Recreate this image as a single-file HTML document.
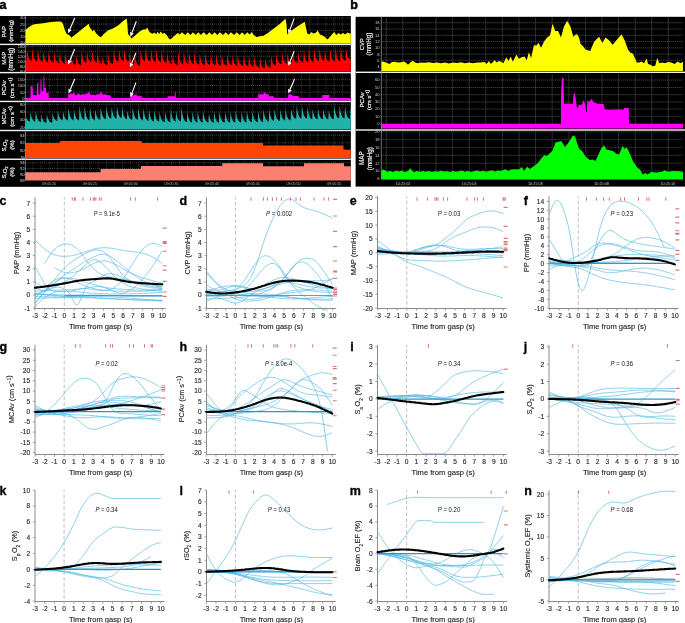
<!DOCTYPE html>
<html><head><meta charset="utf-8"><style>
html,body{margin:0;padding:0;background:#fff;}
svg{display:block;font-family:'Liberation Sans', sans-serif;will-change:transform;}
</style></head><body>
<svg width="685" height="623" viewBox="0 0 685 623">
<defs><filter id="soft" filterUnits="userSpaceOnUse" x="-10" y="-10" width="705" height="643"><feGaussianBlur stdDeviation="0.35"/></filter></defs>
<rect width="685" height="623" fill="#fff"/>
<g filter="url(#soft)">
<line x1="35" y1="197.2" x2="35" y2="308.5" stroke="#8a8a8a" stroke-width="1"/>
<line x1="35" y1="308.5" x2="165.8" y2="308.5" stroke="#8a8a8a" stroke-width="1"/>
<line x1="32.8" y1="308.2" x2="35" y2="308.2" stroke="#8a8a8a" stroke-width="0.8"/>
<text x="30.1" y="310.6" font-size="6.6" text-anchor="end" fill="#2a2a2a" stroke="#2a2a2a" stroke-width="0.15">-1</text>
<line x1="32.8" y1="295.06" x2="35" y2="295.06" stroke="#8a8a8a" stroke-width="0.8"/>
<text x="30.1" y="297.46" font-size="6.6" text-anchor="end" fill="#2a2a2a" stroke="#2a2a2a" stroke-width="0.15">0</text>
<line x1="32.8" y1="281.92" x2="35" y2="281.92" stroke="#8a8a8a" stroke-width="0.8"/>
<text x="30.1" y="284.32" font-size="6.6" text-anchor="end" fill="#2a2a2a" stroke="#2a2a2a" stroke-width="0.15">1</text>
<line x1="32.8" y1="268.79" x2="35" y2="268.79" stroke="#8a8a8a" stroke-width="0.8"/>
<text x="30.1" y="271.19" font-size="6.6" text-anchor="end" fill="#2a2a2a" stroke="#2a2a2a" stroke-width="0.15">2</text>
<line x1="32.8" y1="255.65" x2="35" y2="255.65" stroke="#8a8a8a" stroke-width="0.8"/>
<text x="30.1" y="258.05" font-size="6.6" text-anchor="end" fill="#2a2a2a" stroke="#2a2a2a" stroke-width="0.15">3</text>
<line x1="32.8" y1="242.51" x2="35" y2="242.51" stroke="#8a8a8a" stroke-width="0.8"/>
<text x="30.1" y="244.91" font-size="6.6" text-anchor="end" fill="#2a2a2a" stroke="#2a2a2a" stroke-width="0.15">4</text>
<line x1="32.8" y1="229.38" x2="35" y2="229.38" stroke="#8a8a8a" stroke-width="0.8"/>
<text x="30.1" y="231.78" font-size="6.6" text-anchor="end" fill="#2a2a2a" stroke="#2a2a2a" stroke-width="0.15">5</text>
<line x1="32.8" y1="216.24" x2="35" y2="216.24" stroke="#8a8a8a" stroke-width="0.8"/>
<text x="30.1" y="218.64" font-size="6.6" text-anchor="end" fill="#2a2a2a" stroke="#2a2a2a" stroke-width="0.15">6</text>
<line x1="32.8" y1="203.1" x2="35" y2="203.1" stroke="#8a8a8a" stroke-width="0.8"/>
<text x="30.1" y="205.5" font-size="6.6" text-anchor="end" fill="#2a2a2a" stroke="#2a2a2a" stroke-width="0.15">7</text>
<line x1="34.9" y1="308.5" x2="34.9" y2="310.7" stroke="#8a8a8a" stroke-width="0.8"/>
<text x="34.9" y="318.2" font-size="6.6" text-anchor="middle" fill="#2a2a2a" stroke="#2a2a2a" stroke-width="0.15">-3</text>
<line x1="44.7" y1="308.5" x2="44.7" y2="310.7" stroke="#8a8a8a" stroke-width="0.8"/>
<text x="44.7" y="318.2" font-size="6.6" text-anchor="middle" fill="#2a2a2a" stroke="#2a2a2a" stroke-width="0.15">-2</text>
<line x1="54.5" y1="308.5" x2="54.5" y2="310.7" stroke="#8a8a8a" stroke-width="0.8"/>
<text x="54.5" y="318.2" font-size="6.6" text-anchor="middle" fill="#2a2a2a" stroke="#2a2a2a" stroke-width="0.15">-1</text>
<line x1="64.3" y1="308.5" x2="64.3" y2="310.7" stroke="#8a8a8a" stroke-width="0.8"/>
<text x="64.3" y="318.2" font-size="6.6" text-anchor="middle" fill="#2a2a2a" stroke="#2a2a2a" stroke-width="0.15">0</text>
<line x1="74.1" y1="308.5" x2="74.1" y2="310.7" stroke="#8a8a8a" stroke-width="0.8"/>
<text x="74.1" y="318.2" font-size="6.6" text-anchor="middle" fill="#2a2a2a" stroke="#2a2a2a" stroke-width="0.15">1</text>
<line x1="83.9" y1="308.5" x2="83.9" y2="310.7" stroke="#8a8a8a" stroke-width="0.8"/>
<text x="83.9" y="318.2" font-size="6.6" text-anchor="middle" fill="#2a2a2a" stroke="#2a2a2a" stroke-width="0.15">2</text>
<line x1="93.7" y1="308.5" x2="93.7" y2="310.7" stroke="#8a8a8a" stroke-width="0.8"/>
<text x="93.7" y="318.2" font-size="6.6" text-anchor="middle" fill="#2a2a2a" stroke="#2a2a2a" stroke-width="0.15">3</text>
<line x1="103.5" y1="308.5" x2="103.5" y2="310.7" stroke="#8a8a8a" stroke-width="0.8"/>
<text x="103.5" y="318.2" font-size="6.6" text-anchor="middle" fill="#2a2a2a" stroke="#2a2a2a" stroke-width="0.15">4</text>
<line x1="113.3" y1="308.5" x2="113.3" y2="310.7" stroke="#8a8a8a" stroke-width="0.8"/>
<text x="113.3" y="318.2" font-size="6.6" text-anchor="middle" fill="#2a2a2a" stroke="#2a2a2a" stroke-width="0.15">5</text>
<line x1="123.1" y1="308.5" x2="123.1" y2="310.7" stroke="#8a8a8a" stroke-width="0.8"/>
<text x="123.1" y="318.2" font-size="6.6" text-anchor="middle" fill="#2a2a2a" stroke="#2a2a2a" stroke-width="0.15">6</text>
<line x1="132.9" y1="308.5" x2="132.9" y2="310.7" stroke="#8a8a8a" stroke-width="0.8"/>
<text x="132.9" y="318.2" font-size="6.6" text-anchor="middle" fill="#2a2a2a" stroke="#2a2a2a" stroke-width="0.15">7</text>
<line x1="142.7" y1="308.5" x2="142.7" y2="310.7" stroke="#8a8a8a" stroke-width="0.8"/>
<text x="142.7" y="318.2" font-size="6.6" text-anchor="middle" fill="#2a2a2a" stroke="#2a2a2a" stroke-width="0.15">8</text>
<line x1="152.5" y1="308.5" x2="152.5" y2="310.7" stroke="#8a8a8a" stroke-width="0.8"/>
<text x="152.5" y="318.2" font-size="6.6" text-anchor="middle" fill="#2a2a2a" stroke="#2a2a2a" stroke-width="0.15">9</text>
<line x1="162.3" y1="308.5" x2="162.3" y2="310.7" stroke="#8a8a8a" stroke-width="0.8"/>
<text x="162.3" y="318.2" font-size="6.6" text-anchor="middle" fill="#2a2a2a" stroke="#2a2a2a" stroke-width="0.15">10</text>
<text x="100.6" y="329" font-size="7.3" text-anchor="middle" fill="#222" stroke="#222" stroke-width="0.12" textLength="63.3" lengthAdjust="spacingAndGlyphs">Time from gasp (s)</text>
<line x1="64.3" y1="197.2" x2="64.3" y2="308.5" stroke="#c2c2c2" stroke-width="1" stroke-dasharray="3.8,2.1" stroke-dashoffset="1.5"/>
<text transform="translate(18.7,252.9) rotate(-90)" font-size="7.3" text-anchor="middle" fill="#222" stroke="#222" stroke-width="0.12">PAP (mmHg)</text>
<text x="-0.6" y="204.5" font-size="12.5" font-weight="bold" fill="#000" stroke="#000" stroke-width="0.3">c</text>
<text x="93.8" y="216" font-size="6.5" fill="#151515" textLength="26.1" lengthAdjust="spacingAndGlyphs"><tspan font-style="italic">P</tspan> = 9.1e-5</text>
<g fill="none" stroke="rgb(80,182,226)" stroke-width="0.9" stroke-opacity="0.74"><path d="M34.9,239.9 36.1,241 37.3,242.2 38.4,243.3 39.6,244.5 40.8,245.6 42,246.6 43.2,247.7 44.3,248.7 45.5,249.6 46.7,250.5 47.9,251.3 49.1,252.1 50.2,252.8 51.4,253.5 52.6,254 53.8,254.5 55,254.9 56.1,255.3 57.3,255.6 58.5,255.8 59.7,256 60.9,256.1 62,256.2 63.2,256.3 64.4,256.3 65.6,256.3 66.8,256.2 67.9,256.2 69.1,256 70.3,255.9 71.5,255.7 72.6,255.5 73.8,255.3 75,255 76.2,254.8 77.4,254.4 78.5,254.1 79.7,253.8 80.9,253.4 82.1,253 83.3,252.6 84.4,252.1 85.6,251.7 86.8,251.3 88,250.9 89.2,250.5 90.3,250.1 91.5,249.7 92.7,249.4 93.9,249 95.1,248.8 96.2,248.5 97.4,248.3 98.6,248.1 99.8,248 101,247.8 102.1,247.8 103.3,247.7 104.5,247.7 105.7,247.7 106.9,247.8 108,247.9 109.2,248 110.4,248.1 111.6,248.3 112.8,248.5 113.9,248.7 115.1,248.9 116.3,249.1 117.5,249.4 118.7,249.6 119.8,249.8 121,250 122.2,250.2 123.4,250.4 124.6,250.6 125.7,250.8 126.9,250.9 128.1,251.1 129.3,251.2 130.4,251.4 131.6,251.5 132.8,251.7 134,251.8 135.2,252 136.3,252.1 137.5,252.3 138.7,252.5 139.9,252.7 141.1,253 142.2,253.2 143.4,253.5 144.6,253.8 145.8,254.2 147,254.5 148.1,255 149.3,255.4 150.5,256 151.7,256.5 152.9,257.2 154,257.8 155.2,258.6 156.4,259.3 157.6,260.1 158.8,261 159.9,261.8 161.1,262.7 162.3,263.5"/><path d="M44.7,263.5 45.9,261.6 47.1,259.7 48.2,257.8 49.4,256 50.6,254.3 51.8,252.7 52.9,251.2 54.1,249.9 55.3,248.8 56.5,247.7 57.6,246.8 58.8,246.1 60,245.5 61.2,244.9 62.3,244.5 63.5,244.2 64.7,244 65.9,243.9 67,244 68.2,244.1 69.4,244.3 70.6,244.7 71.7,245.1 72.9,245.7 74.1,246.5 75.3,247.3 76.5,248.3 77.6,249.4 78.8,250.6 80,251.9 81.2,253.3 82.3,254.8 83.5,256.4 84.7,258 85.9,259.6 87,261.2 88.2,262.8 89.4,264.3 90.6,265.6 91.7,266.9 92.9,268.1 94.1,269.3 95.3,270.3 96.4,271.2 97.6,272.1 98.8,272.9 100,273.5 101.1,274.1 102.3,274.7 103.5,275.2 104.7,275.6 105.9,276 107,276.3 108.2,276.6 109.4,276.9 110.6,277.2 111.7,277.4 112.9,277.6 114.1,277.8 115.3,278 116.4,278.2 117.6,278.4 118.8,278.6 120,278.8 121.1,279 122.3,279.2 123.5,279.4 124.7,279.6 125.8,279.8 127,280 128.2,280.2 129.4,280.4 130.5,280.7 131.7,280.9 132.9,281.2 134.1,281.4 135.3,281.7 136.4,281.9 137.6,282.2 138.8,282.4 140,282.7 141.1,282.9 142.3,283.2 143.5,283.4 144.7,283.6 145.8,283.9 147,284.1 148.2,284.4 149.4,284.6 150.5,284.9 151.7,285.1 152.9,285.3 154.1,285.6 155.2,285.8 156.4,286 157.6,286.3 158.8,286.5 159.9,286.7 161.1,286.9 162.3,287.2"/><path d="M34.9,266.8 36.1,268.7 37.3,270.6 38.4,272.5 39.6,274.6 40.8,276.7 42,279 43.2,281.3 44.3,283.5 45.5,285.5 46.7,287.2 47.9,288.5 49.1,289.5 50.2,290.2 51.4,290.6 52.6,290.9 53.8,291 55,291.2 56.1,291.3 57.3,291.4 58.5,291.5 59.7,291.6 60.9,291.7 62,291.8 63.2,291.8 64.4,291.8 65.6,291.7 66.8,291.7 67.9,291.5 69.1,291.4 70.3,291.2 71.5,291 72.6,290.8 73.8,290.5 75,290.2 76.2,289.9 77.4,289.6 78.5,289.3 79.7,289.1 80.9,288.8 82.1,288.6 83.3,288.5 84.4,288.5 85.6,288.5 86.8,288.6 88,288.8 89.2,289 90.3,289.2 91.5,289.4 92.7,289.6 93.9,289.8 95.1,290 96.2,290.1 97.4,290.2 98.6,290.3 99.8,290.3 101,290.4 102.1,290.4 103.3,290.5 104.5,290.5 105.7,290.5 106.9,290.6 108,290.6 109.2,290.7 110.4,290.7 111.6,290.7 112.8,290.8 113.9,290.8 115.1,290.9 116.3,290.9 117.5,290.9 118.7,291 119.8,291 121,291.1 122.2,291.1 123.4,291.1 124.6,291.2 125.7,291.2 126.9,291.2 128.1,291.2 129.3,291.2 130.4,291.3 131.6,291.3 132.8,291.3 134,291.3 135.2,291.3 136.3,291.3 137.5,291.3 138.7,291.2 139.9,291.2 141.1,291.2 142.2,291.1 143.4,291.1 144.6,291 145.8,291 147,290.9 148.1,290.9 149.3,290.8 150.5,290.7 151.7,290.6 152.9,290.6 154,290.5 155.2,290.4 156.4,290.3 157.6,290.2 158.8,290.1 159.9,290 161.1,289.9 162.3,289.8"/><path d="M34.9,302.9 36.1,301.6 37.3,300.3 38.4,299 39.6,297.7 40.8,296.4 42,295.1 43.2,293.8 44.3,292.5 45.5,291.3 46.7,290.1 47.9,288.9 49.1,287.7 50.2,286.6 51.4,285.5 52.6,284.4 53.8,283.4 55,282.4 56.1,281.5 57.3,280.7 58.5,280 59.7,279.3 60.9,278.8 62,278.4 63.2,278.1 64.4,278 65.6,278 66.8,278.1 67.9,278.3 69.1,278.6 70.3,279 71.5,279.5 72.6,280 73.8,280.6 75,281.2 76.2,281.8 77.4,282.4 78.5,283 79.7,283.6 80.9,284.1 82.1,284.6 83.3,285.1 84.4,285.6 85.6,286 86.8,286.4 88,286.8 89.2,287.2 90.3,287.6 91.5,287.9 92.7,288.2 93.9,288.5 95.1,288.8 96.2,289.1 97.4,289.4 98.6,289.6 99.8,289.8 101,290 102.1,290.1 103.3,290.2 104.5,290.2 105.7,290.1 106.9,290 108,289.9 109.2,289.6 110.4,289.3 111.6,288.9 112.8,288.4 113.9,287.8 115.1,287 116.3,286.2 117.5,285.2 118.7,284.1 119.8,282.9 121,281.5 122.2,280 123.4,278.4 124.6,276.7 125.7,275 126.9,273.1 128.1,271.3 129.3,269.3 130.4,267.4 131.6,265.4 132.8,263.5 134,261.6 135.2,259.7 136.3,257.8 137.5,256 138.7,254.4 139.9,252.8 141.1,251.3 142.2,249.9 143.4,248.6 144.6,247.4 145.8,246.4 147,245.5 148.1,244.8 149.3,244.2 150.5,243.8 151.7,243.6 152.9,243.5 154,243.6 155.2,243.8 156.4,244.1 157.6,244.4 158.8,244.9 159.9,245.4 161.1,245.9 162.3,246.5"/><path d="M34.9,291.1 36.1,291.1 37.3,291 38.4,290.9 39.6,290.9 40.8,290.8 42,290.8 43.2,290.7 44.3,290.6 45.5,290.6 46.7,290.5 47.9,290.5 49.1,290.4 50.2,290.4 51.4,290.3 52.6,290.2 53.8,290.2 55,290.1 56.1,290.1 57.3,290 58.5,290 59.7,290 60.9,289.9 62,289.9 63.2,289.8 64.4,289.8 65.6,289.8 66.8,289.7 67.9,289.7 69.1,289.7 70.3,289.6 71.5,289.6 72.6,289.5 73.8,289.5 75,289.4 76.2,289.3 77.4,289.2 78.5,289.1 79.7,289 80.9,288.9 82.1,288.8 83.3,288.6 84.4,288.4 85.6,288.2 86.8,288 88,287.8 89.2,287.6 90.3,287.3 91.5,287.1 92.7,287 93.9,286.8 95.1,286.7 96.2,286.6 97.4,286.5 98.6,286.5 99.8,286.6 101,286.7 102.1,286.9 103.3,287.1 104.5,287.5 105.7,287.9 106.9,288.3 108,288.8 109.2,289.3 110.4,289.8 111.6,290.4 112.8,290.9 113.9,291.4 115.1,291.8 116.3,292.2 117.5,292.6 118.7,292.9 119.8,293 121,293.1 122.2,293.1 123.4,292.9 124.6,292.7 125.7,292.3 126.9,291.9 128.1,291.4 129.3,290.8 130.4,290.1 131.6,289.4 132.8,288.6 134,287.7 135.2,286.7 136.3,285.7 137.5,284.7 138.7,283.6 139.9,282.4 141.1,281.1 142.2,279.8 143.4,278.4 144.6,277 145.8,275.5 147,274 148.1,272.4 149.3,270.8 150.5,269.1 151.7,267.4 152.9,265.6 154,263.8 155.2,262 156.4,260.2 157.6,258.4 158.8,256.5 159.9,254.7 161.1,252.8 162.3,250.9"/><path d="M34.9,303.6 36.1,302.2 37.3,300.8 38.4,299.4 39.6,298 40.8,296.6 42,295.2 43.2,293.8 44.3,292.4 45.5,290.9 46.7,289.5 47.9,288 49.1,286.6 50.2,285.1 51.4,283.6 52.6,282.1 53.8,280.5 55,279 56.1,277.6 57.3,276.1 58.5,274.6 59.7,273.2 60.9,271.9 62,270.5 63.2,269.3 64.4,268 65.6,266.9 66.8,265.8 67.9,264.7 69.1,263.8 70.3,262.8 71.5,261.9 72.6,261.1 73.8,260.3 75,259.5 76.2,258.7 77.4,258 78.5,257.3 79.7,256.6 80.9,256 82.1,255.3 83.3,254.7 84.4,254 85.6,253.4 86.8,252.9 88,252.3 89.2,251.8 90.3,251.4 91.5,251 92.7,250.6 93.9,250.4 95.1,250.1 96.2,250 97.4,250 98.6,250 99.8,250.2 101,250.5 102.1,251 103.3,251.6 104.5,252.4 105.7,253.3 106.9,254.4 108,255.6 109.2,256.9 110.4,258.4 111.6,259.9 112.8,261.5 113.9,263.1 115.1,264.8 116.3,266.5 117.5,268.2 118.7,269.9 119.8,271.5 121,273 122.2,274.4 123.4,275.6 124.6,276.8 125.7,277.7 126.9,278.6 128.1,279.4 129.3,280.1 130.4,280.7 131.6,281.3 132.8,281.9 134,282.4 135.2,283 136.3,283.5 137.5,284 138.7,284.5 139.9,284.9 141.1,285.3 142.2,285.7 143.4,286.1 144.6,286.4 145.8,286.7 147,286.9 148.1,287.2 149.3,287.4 150.5,287.6 151.7,287.7 152.9,287.8 154,288 155.2,288.1 156.4,288.2 157.6,288.2 158.8,288.3 159.9,288.4 161.1,288.4 162.3,288.5"/><path d="M34.9,295.1 36.1,294.5 37.3,293.9 38.4,293.3 39.6,292.7 40.8,292.1 42,291.5 43.2,291 44.3,290.5 45.5,290 46.7,289.5 47.9,289.1 49.1,288.7 50.2,288.3 51.4,288 52.6,287.7 53.8,287.5 55,287.3 56.1,287.2 57.3,287.2 58.5,287.2 59.7,287.4 60.9,287.6 62,287.9 63.2,288.4 64.4,288.9 65.6,289.6 66.8,290.5 67.9,291.6 69.1,293 70.3,294.8 71.5,297 72.6,299.5 73.8,302 75,303.9 76.2,305 77.4,304.8 78.5,303.6 79.7,301.6 80.9,299 82.1,296.1 83.3,293.2 84.4,290.3 85.6,287.8 86.8,285.8 88,284.4 89.2,283.4 90.3,282.7 91.5,282.3 92.7,281.9 93.9,281.5 95.1,280.9 96.2,280.2 97.4,279.4 98.6,278.6 99.8,277.8 101,276.9 102.1,276.1 103.3,275.5 104.5,274.9 105.7,274.4 106.9,274.1 108,273.8 109.2,273.7 110.4,273.7 111.6,273.8 112.8,273.9 113.9,274.2 115.1,274.5 116.3,274.9 117.5,275.4 118.7,275.9 119.8,276.5 121,277 122.2,277.6 123.4,278.1 124.6,278.6 125.7,279.1 126.9,279.6 128.1,280.1 129.3,280.5 130.4,281 131.6,281.4 132.8,281.8 134,282.1 135.2,282.5 136.3,282.9 137.5,283.2 138.7,283.5 139.9,283.8 141.1,284.1 142.2,284.4 143.4,284.7 144.6,285 145.8,285.3 147,285.5 148.1,285.8 149.3,286 150.5,286.3 151.7,286.5 152.9,286.7 154,287 155.2,287.2 156.4,287.4 157.6,287.6 158.8,287.9 159.9,288.1 161.1,288.3 162.3,288.5"/><path d="M34.9,281.5 36.1,282.5 37.3,283.5 38.4,284.3 39.6,285.1 40.8,285.8 42,286.2 43.2,286.5 44.3,286.6 45.5,286.3 46.7,285.9 47.9,285.2 49.1,284.4 50.2,283.5 51.4,282.6 52.6,281.7 53.8,280.8 55,280.1 56.1,279.5 57.3,279 58.5,278.7 59.7,278.4 60.9,278.2 62,278.1 63.2,278 64.4,278 65.6,277.9 66.8,277.9 67.9,277.9 69.1,278 70.3,278.1 71.5,278.2 72.6,278.4 73.8,278.6 75,278.9 76.2,279.2 77.4,279.6 78.5,280 79.7,280.4 80.9,280.9 82.1,281.3 83.3,281.7 84.4,282.1 85.6,282.5 86.8,282.8 88,283.1 89.2,283.4 90.3,283.7 91.5,284 92.7,284.3 93.9,284.6 95.1,284.9 96.2,285.3 97.4,285.6 98.6,285.9 99.8,286.3 101,286.6 102.1,286.9 103.3,287.1 104.5,287.4 105.7,287.6 106.9,287.8 108,287.9 109.2,288.1 110.4,288.2 111.6,288.3 112.8,288.4 113.9,288.5 115.1,288.6 116.3,288.7 117.5,288.8 118.7,288.9 119.8,289 121,289.1 122.2,289.2 123.4,289.3 124.6,289.3 125.7,289.4 126.9,289.5 128.1,289.5 129.3,289.6 130.4,289.7 131.6,289.7 132.8,289.8 134,289.9 135.2,289.9 136.3,290 137.5,290 138.7,290.1 139.9,290.2 141.1,290.2 142.2,290.3 143.4,290.3 144.6,290.4 145.8,290.4 147,290.5 148.1,290.5 149.3,290.6 150.5,290.6 151.7,290.7 152.9,290.7 154,290.8 155.2,290.8 156.4,290.9 157.6,290.9 158.8,291 159.9,291 161.1,291.1 162.3,291.1"/><path d="M54.5,267.9 55.7,268.5 56.9,269.2 58.1,269.8 59.2,270.4 60.4,270.9 61.6,271.4 62.8,271.9 64,272.2 65.2,272.5 66.3,272.7 67.5,272.9 68.7,272.9 69.9,272.9 71.1,272.8 72.3,272.7 73.5,272.5 74.6,272.2 75.8,271.9 77,271.6 78.2,271.2 79.4,270.8 80.6,270.3 81.7,269.8 82.9,269.3 84.1,268.7 85.3,268.1 86.5,267.4 87.7,266.8 88.9,266.1 90,265.4 91.2,264.8 92.4,264.2 93.6,263.6 94.8,263 96,262.5 97.1,262.1 98.3,261.7 99.5,261.4 100.7,261.1 101.9,261 103.1,260.9 104.3,260.9 105.4,261 106.6,261.2 107.8,261.5 109,261.8 110.2,262.2 111.4,262.7 112.5,263.2 113.7,263.7 114.9,264.3 116.1,264.9 117.3,265.5 118.5,266.2 119.7,266.8 120.8,267.5 122,268.2 123.2,268.8 124.4,269.5 125.6,270.2 126.8,270.9 127.9,271.5 129.1,272.2 130.3,272.8 131.5,273.4 132.7,273.9 133.9,274.5 135.1,275 136.2,275.5 137.4,276 138.6,276.4 139.8,276.8 141,277.3 142.2,277.6 143.3,278 144.5,278.4 145.7,278.7 146.9,279.1 148.1,279.4 149.3,279.8 150.5,280.1 151.6,280.4 152.8,280.8 154,281.1 155.2,281.4 156.4,281.7 157.6,282 158.7,282.3 159.9,282.6 161.1,282.9 162.3,283.2"/><path d="M34.9,287.2 36.1,287.9 37.3,288.6 38.4,289.2 39.6,289.8 40.8,290.3 42,290.7 43.2,291 44.3,291.1 45.5,291.1 46.7,290.9 47.9,290.5 49.1,290.1 50.2,289.5 51.4,288.9 52.6,288.3 53.8,287.6 55,286.9 56.1,286.3 57.3,285.6 58.5,285 59.7,284.4 60.9,283.8 62,283.2 63.2,282.5 64.4,281.9 65.6,281.2 66.8,280.5 67.9,279.8 69.1,279 70.3,278.2 71.5,277.4 72.6,276.5 73.8,275.6 75,274.6 76.2,273.6 77.4,272.5 78.5,271.4 79.7,270.2 80.9,269.1 82.1,267.9 83.3,266.8 84.4,265.6 85.6,264.5 86.8,263.4 88,262.4 89.2,261.5 90.3,260.8 91.5,260.2 92.7,259.8 93.9,259.6 95.1,259.6 96.2,259.8 97.4,260.3 98.6,260.9 99.8,261.7 101,262.6 102.1,263.6 103.3,264.7 104.5,265.8 105.7,267.1 106.9,268.4 108,269.6 109.2,271 110.4,272.3 111.6,273.5 112.8,274.8 113.9,276 115.1,277.1 116.3,278.2 117.5,279.2 118.7,280.2 119.8,281.1 121,281.9 122.2,282.7 123.4,283.4 124.6,284 125.7,284.6 126.9,285.2 128.1,285.6 129.3,286.1 130.4,286.5 131.6,286.8 132.8,287.2 134,287.5 135.2,287.7 136.3,288 137.5,288.2 138.7,288.4 139.9,288.6 141.1,288.8 142.2,289 143.4,289.1 144.6,289.2 145.8,289.3 147,289.4 148.1,289.5 149.3,289.6 150.5,289.6 151.7,289.7 152.9,289.7 154,289.7 155.2,289.8 156.4,289.8 157.6,289.8 158.8,289.8 159.9,289.8 161.1,289.8 162.3,289.8"/><path d="M34.9,297.7 36.1,296.7 37.3,295.7 38.4,294.7 39.6,293.7 40.8,292.8 42,291.8 43.2,290.9 44.3,290.1 45.5,289.2 46.7,288.4 47.9,287.7 49.1,286.9 50.2,286.2 51.4,285.4 52.6,284.6 53.8,283.8 55,282.9 56.1,282 57.3,281 58.5,280.1 59.7,279.1 60.9,278.1 62,277.1 63.2,276.2 64.4,275.3 65.6,274.4 66.8,273.6 67.9,272.8 69.1,272 70.3,271.2 71.5,270.5 72.6,269.7 73.8,269 75,268.2 76.2,267.4 77.4,266.6 78.5,265.8 79.7,265 80.9,264.2 82.1,263.4 83.3,262.6 84.4,261.9 85.6,261.2 86.8,260.5 88,259.8 89.2,259.2 90.3,258.6 91.5,258 92.7,257.4 93.9,256.9 95.1,256.4 96.2,255.9 97.4,255.4 98.6,255 99.8,254.7 101,254.5 102.1,254.4 103.3,254.3 104.5,254.4 105.7,254.6 106.9,255 108,255.4 109.2,255.9 110.4,256.5 111.6,257.2 112.8,257.9 113.9,258.7 115.1,259.6 116.3,260.5 117.5,261.4 118.7,262.4 119.8,263.4 121,264.4 122.2,265.4 123.4,266.4 124.6,267.4 125.7,268.4 126.9,269.3 128.1,270.3 129.3,271.2 130.4,272.2 131.6,273.1 132.8,274 134,274.9 135.2,275.7 136.3,276.6 137.5,277.4 138.7,278.2 139.9,279 141.1,279.7 142.2,280.4 143.4,281 144.6,281.6 145.8,282.2 147,282.7 148.1,283.2 149.3,283.6 150.5,284 151.7,284.4 152.9,284.8 154,285.1 155.2,285.5 156.4,285.8 157.6,286.1 158.8,286.4 159.9,286.6 161.1,286.9 162.3,287.2"/><path d="M34.9,296.4 36.1,296.4 37.3,296.5 38.4,296.5 39.6,296.6 40.8,296.6 42,296.6 43.2,296.7 44.3,296.7 45.5,296.8 46.7,296.8 47.9,296.8 49.1,296.9 50.2,296.9 51.4,296.9 52.6,297 53.8,297 55,297 56.1,297 57.3,297 58.5,297 59.7,297 60.9,297 62,297 63.2,297 64.4,297 65.6,297 66.8,297 67.9,297 69.1,297 70.3,296.9 71.5,296.9 72.6,296.9 73.8,296.8 75,296.8 76.2,296.8 77.4,296.7 78.5,296.7 79.7,296.6 80.9,296.6 82.1,296.6 83.3,296.5 84.4,296.5 85.6,296.5 86.8,296.5 88,296.4 89.2,296.4 90.3,296.4 91.5,296.4 92.7,296.4 93.9,296.4 95.1,296.4 96.2,296.4 97.4,296.4 98.6,296.4 99.8,296.5 101,296.5 102.1,296.5 103.3,296.6 104.5,296.6 105.7,296.6 106.9,296.7 108,296.8 109.2,296.8 110.4,296.9 111.6,296.9 112.8,297 113.9,297.1 115.1,297.1 116.3,297.2 117.5,297.3 118.7,297.4 119.8,297.5 121,297.5 122.2,297.6 123.4,297.7 124.6,297.8 125.7,297.9 126.9,298 128.1,298.1 129.3,298.2 130.4,298.2 131.6,298.3 132.8,298.4 134,298.5 135.2,298.6 136.3,298.7 137.5,298.8 138.7,298.9 139.9,299 141.1,299.1 142.2,299.2 143.4,299.3 144.6,299.4 145.8,299.5 147,299.6 148.1,299.7 149.3,299.8 150.5,299.9 151.7,300 152.9,300.1 154,300.2 155.2,300.3 156.4,300.4 157.6,300.6 158.8,300.7 159.9,300.8 161.1,300.9 162.3,301"/><path d="M34.9,298.3 36.1,298.3 37.3,298.3 38.4,298.2 39.6,298.2 40.8,298.2 42,298.1 43.2,298.1 44.3,298.1 45.5,298 46.7,298 47.9,298 49.1,298 50.2,297.9 51.4,297.9 52.6,297.9 53.8,297.8 55,297.8 56.1,297.8 57.3,297.8 58.5,297.8 59.7,297.7 60.9,297.7 62,297.7 63.2,297.7 64.4,297.7 65.6,297.7 66.8,297.7 67.9,297.7 69.1,297.7 70.3,297.7 71.5,297.7 72.6,297.7 73.8,297.7 75,297.7 76.2,297.7 77.4,297.7 78.5,297.7 79.7,297.7 80.9,297.7 82.1,297.8 83.3,297.8 84.4,297.8 85.6,297.8 86.8,297.9 88,297.9 89.2,297.9 90.3,297.9 91.5,298 92.7,298 93.9,298 95.1,298.1 96.2,298.1 97.4,298.1 98.6,298.2 99.8,298.2 101,298.3 102.1,298.3 103.3,298.3 104.5,298.4 105.7,298.4 106.9,298.5 108,298.5 109.2,298.6 110.4,298.6 111.6,298.7 112.8,298.7 113.9,298.8 115.1,298.8 116.3,298.9 117.5,298.9 118.7,299 119.8,299 121,299.1 122.2,299.2 123.4,299.2 124.6,299.3 125.7,299.3 126.9,299.4 128.1,299.4 129.3,299.5 130.4,299.5 131.6,299.6 132.8,299.7 134,299.7 135.2,299.8 136.3,299.8 137.5,299.9 138.7,299.9 139.9,300 141.1,300 142.2,300.1 143.4,300.1 144.6,300.2 145.8,300.2 147,300.3 148.1,300.4 149.3,300.4 150.5,300.5 151.7,300.5 152.9,300.6 154,300.6 155.2,300.7 156.4,300.7 157.6,300.8 158.8,300.8 159.9,300.9 161.1,300.9 162.3,301"/><path d="M34.9,293.7 36.1,293.9 37.3,294 38.4,294.1 39.6,294.3 40.8,294.4 42,294.5 43.2,294.6 44.3,294.8 45.5,294.9 46.7,295 47.9,295.1 49.1,295.2 50.2,295.3 51.4,295.5 52.6,295.6 53.8,295.7 55,295.8 56.1,295.9 57.3,295.9 58.5,296 59.7,296.1 60.9,296.2 62,296.3 63.2,296.3 64.4,296.4 65.6,296.4 66.8,296.5 67.9,296.5 69.1,296.6 70.3,296.6 71.5,296.6 72.6,296.7 73.8,296.7 75,296.7 76.2,296.8 77.4,296.8 78.5,296.8 79.7,296.9 80.9,296.9 82.1,297 83.3,297 84.4,297.1 85.6,297.1 86.8,297.2 88,297.2 89.2,297.3 90.3,297.4 91.5,297.5 92.7,297.5 93.9,297.6 95.1,297.7 96.2,297.8 97.4,297.9 98.6,298 99.8,298 101,298.1 102.1,298.2 103.3,298.3 104.5,298.4 105.7,298.5 106.9,298.6 108,298.7 109.2,298.7 110.4,298.8 111.6,298.9 112.8,299 113.9,299 115.1,299.1 116.3,299.2 117.5,299.2 118.7,299.3 119.8,299.4 121,299.4 122.2,299.5 123.4,299.5 124.6,299.5 125.7,299.6 126.9,299.6 128.1,299.7 129.3,299.7 130.4,299.7 131.6,299.8 132.8,299.8 134,299.8 135.2,299.8 136.3,299.9 137.5,299.9 138.7,299.9 139.9,299.9 141.1,299.9 142.2,300 143.4,300 144.6,300 145.8,300 147,300 148.1,300 149.3,300 150.5,300 151.7,300 152.9,300 154,300 155.2,300 156.4,300 157.6,300 158.8,300 159.9,300.1 161.1,300.1 162.3,300.1"/><path d="M34.9,306.9 36.1,305.7 37.3,304.5 38.4,303.3 39.6,302.2 40.8,301 42,300 43.2,298.9 44.3,298 45.5,297.1 46.7,296.2 47.9,295.5 49.1,294.8 50.2,294.2 51.4,293.6 52.6,293.1 53.8,292.7 55,292.3 56.1,292 57.3,291.7 58.5,291.5 59.7,291.4 60.9,291.3 62,291.2 63.2,291.1 64.4,291.1 65.6,291.1 66.8,291.1 67.9,291.2 69.1,291.2 70.3,291.3 71.5,291.3 72.6,291.4 73.8,291.5 75,291.6 76.2,291.7 77.4,291.8 78.5,291.9 79.7,292 80.9,292.1 82.1,292.3 83.3,292.4 84.4,292.5 85.6,292.6 86.8,292.7 88,292.8 89.2,292.9 90.3,293 91.5,293.1 92.7,293.2 93.9,293.2 95.1,293.3 96.2,293.4 97.4,293.5 98.6,293.5 99.8,293.6 101,293.6 102.1,293.7 103.3,293.7 104.5,293.8 105.7,293.8 106.9,293.9 108,293.9 109.2,293.9 110.4,293.9 111.6,294 112.8,294 113.9,294 115.1,294 116.3,294 117.5,294 118.7,294 119.8,294 121,294 122.2,294 123.4,294 124.6,293.9 125.7,293.9 126.9,293.9 128.1,293.9 129.3,293.8 130.4,293.8 131.6,293.8 132.8,293.8 134,293.7 135.2,293.7 136.3,293.6 137.5,293.6 138.7,293.6 139.9,293.5 141.1,293.5 142.2,293.4 143.4,293.4 144.6,293.3 145.8,293.3 147,293.2 148.1,293.1 149.3,293.1 150.5,293 151.7,293 152.9,292.9 154,292.9 155.2,292.8 156.4,292.7 157.6,292.7 158.8,292.6 159.9,292.6 161.1,292.5 162.3,292.4"/><path d="M34.9,294.3 36.1,294.3 37.3,294.3 38.4,294.3 39.6,294.4 40.8,294.4 42,294.4 43.2,294.4 44.3,294.4 45.5,294.5 46.7,294.5 47.9,294.5 49.1,294.5 50.2,294.5 51.4,294.6 52.6,294.6 53.8,294.6 55,294.6 56.1,294.7 57.3,294.7 58.5,294.7 59.7,294.7 60.9,294.7 62,294.8 63.2,294.8 64.4,294.8 65.6,294.8 66.8,294.8 67.9,294.8 69.1,294.9 70.3,294.9 71.5,294.9 72.6,294.9 73.8,294.9 75,294.9 76.2,294.9 77.4,294.9 78.5,294.9 79.7,294.9 80.9,294.9 82.1,294.9 83.3,295 84.4,295 85.6,295 86.8,295 88,295 89.2,295 90.3,295 91.5,295 92.7,295 93.9,295.1 95.1,295.1 96.2,295.1 97.4,295.1 98.6,295.1 99.8,295.2 101,295.2 102.1,295.2 103.3,295.2 104.5,295.3 105.7,295.3 106.9,295.3 108,295.4 109.2,295.4 110.4,295.4 111.6,295.4 112.8,295.5 113.9,295.5 115.1,295.5 116.3,295.6 117.5,295.6 118.7,295.6 119.8,295.6 121,295.7 122.2,295.7 123.4,295.7 124.6,295.8 125.7,295.8 126.9,295.8 128.1,295.8 129.3,295.9 130.4,295.9 131.6,295.9 132.8,295.9 134,295.9 135.2,296 136.3,296 137.5,296 138.7,296 139.9,296 141.1,296.1 142.2,296.1 143.4,296.1 144.6,296.1 145.8,296.1 147,296.2 148.1,296.2 149.3,296.2 150.5,296.2 151.7,296.2 152.9,296.2 154,296.3 155.2,296.3 156.4,296.3 157.6,296.3 158.8,296.3 159.9,296.3 161.1,296.4 162.3,296.4"/><path d="M34.9,293.5 36.1,293.6 37.3,293.7 38.4,293.8 39.6,293.9 40.8,294 42,294.1 43.2,294.2 44.3,294.3 45.5,294.4 46.7,294.5 47.9,294.6 49.1,294.8 50.2,294.9 51.4,295 52.6,295.1 53.8,295.2 55,295.3 56.1,295.4 57.3,295.4 58.5,295.5 59.7,295.6 60.9,295.7 62,295.7 63.2,295.8 64.4,295.9 65.6,295.9 66.8,295.9 67.9,295.9 69.1,296 70.3,296 71.5,296 72.6,296 73.8,296 75,295.9 76.2,295.9 77.4,295.9 78.5,295.9 79.7,295.8 80.9,295.8 82.1,295.8 83.3,295.8 84.4,295.7 85.6,295.7 86.8,295.7 88,295.7 89.2,295.6 90.3,295.6 91.5,295.6 92.7,295.6 93.9,295.6 95.1,295.6 96.2,295.6 97.4,295.6 98.6,295.6 99.8,295.6 101,295.7 102.1,295.7 103.3,295.7 104.5,295.8 105.7,295.8 106.9,295.8 108,295.9 109.2,295.9 110.4,296 111.6,296 112.8,296 113.9,296.1 115.1,296.1 116.3,296.2 117.5,296.2 118.7,296.2 119.8,296.3 121,296.3 122.2,296.4 123.4,296.4 124.6,296.4 125.7,296.4 126.9,296.5 128.1,296.5 129.3,296.5 130.4,296.5 131.6,296.5 132.8,296.5 134,296.5 135.2,296.5 136.3,296.5 137.5,296.5 138.7,296.5 139.9,296.5 141.1,296.5 142.2,296.5 143.4,296.5 144.6,296.4 145.8,296.4 147,296.4 148.1,296.4 149.3,296.4 150.5,296.4 151.7,296.3 152.9,296.3 154,296.3 155.2,296.3 156.4,296.2 157.6,296.2 158.8,296.2 159.9,296.2 161.1,296.1 162.3,296.1"/></g>
<line x1="64.3" y1="295.5" x2="162.3" y2="295.5" stroke="#7c7c7c" stroke-width="0.85"/>
<path d="M34.9,287.7 36.1,287.6 37.3,287.4 38.4,287.3 39.6,287.2 40.8,287 42,286.9 43.2,286.7 44.3,286.6 45.5,286.4 46.7,286.3 47.9,286.1 49.1,285.9 50.2,285.8 51.4,285.6 52.6,285.4 53.8,285.2 55,285 56.1,284.8 57.3,284.6 58.5,284.4 59.7,284.2 60.9,284 62,283.8 63.2,283.6 64.4,283.4 65.6,283.1 66.8,282.9 67.9,282.7 69.1,282.4 70.3,282.2 71.5,282 72.6,281.7 73.8,281.5 75,281.3 76.2,281.1 77.4,280.9 78.5,280.7 79.7,280.5 80.9,280.3 82.1,280.2 83.3,280 84.4,279.9 85.6,279.8 86.8,279.7 88,279.6 89.2,279.5 90.3,279.4 91.5,279.3 92.7,279.2 93.9,279.2 95.1,279.1 96.2,279 97.4,278.9 98.6,278.8 99.8,278.7 101,278.6 102.1,278.5 103.3,278.4 104.5,278.4 105.7,278.4 106.9,278.4 108,278.4 109.2,278.4 110.4,278.5 111.6,278.6 112.8,278.8 113.9,279 115.1,279.2 116.3,279.4 117.5,279.7 118.7,279.9 119.8,280.2 121,280.4 122.2,280.7 123.4,280.9 124.6,281.1 125.7,281.4 126.9,281.5 128.1,281.7 129.3,281.9 130.4,282.1 131.6,282.2 132.8,282.3 134,282.5 135.2,282.6 136.3,282.7 137.5,282.8 138.7,282.9 139.9,283 141.1,283.1 142.2,283.1 143.4,283.2 144.6,283.3 145.8,283.4 147,283.5 148.1,283.5 149.3,283.6 150.5,283.7 151.7,283.8 152.9,283.8 154,283.9 155.2,284 156.4,284.1 157.6,284.1 158.8,284.2 159.9,284.3 161.1,284.3 162.3,284.4" fill="none" stroke="#000" stroke-width="2.1" stroke-linecap="round" stroke-linejoin="round"/>
<path d="M72.3,197.4V200.7 M74.4,197.4V200.7 M75.4,197.4V200.7 M83,197.4V200.7 M90.6,197.4V200.7 M93.3,197.4V200.7 M94.6,197.4V200.7 M95.9,197.4V200.7 M99.3,197.4V200.7 M101.2,197.4V200.7 M130.6,197.4V200.7 M135.3,197.4V200.7 M157.6,197.4V200.7" stroke="rgb(200,70,70)" stroke-width="0.95" stroke-opacity="0.8" fill="none"/>
<path d="M162.7,228.1H166.7 M162.7,241.6H166.7 M162.7,242.5H166.7 M162.7,243.4H166.7 M162.7,251.2H166.7 M162.7,265.7H166.7 M162.7,270.1H166.7 M162.7,281.4H166.7 M162.7,292H166.7 M162.7,296.4H166.7" stroke="rgb(200,70,70)" stroke-width="1.15" stroke-opacity="0.72" fill="none"/>
<line x1="206.5" y1="197.2" x2="206.5" y2="308.5" stroke="#8a8a8a" stroke-width="1"/>
<line x1="206.5" y1="308.5" x2="336.2" y2="308.5" stroke="#8a8a8a" stroke-width="1"/>
<line x1="204.3" y1="308.2" x2="206.5" y2="308.2" stroke="#8a8a8a" stroke-width="0.8"/>
<text x="201.6" y="310.6" font-size="6.6" text-anchor="end" fill="#2a2a2a" stroke="#2a2a2a" stroke-width="0.15">-1</text>
<line x1="204.3" y1="295.06" x2="206.5" y2="295.06" stroke="#8a8a8a" stroke-width="0.8"/>
<text x="201.6" y="297.46" font-size="6.6" text-anchor="end" fill="#2a2a2a" stroke="#2a2a2a" stroke-width="0.15">0</text>
<line x1="204.3" y1="281.92" x2="206.5" y2="281.92" stroke="#8a8a8a" stroke-width="0.8"/>
<text x="201.6" y="284.32" font-size="6.6" text-anchor="end" fill="#2a2a2a" stroke="#2a2a2a" stroke-width="0.15">1</text>
<line x1="204.3" y1="268.79" x2="206.5" y2="268.79" stroke="#8a8a8a" stroke-width="0.8"/>
<text x="201.6" y="271.19" font-size="6.6" text-anchor="end" fill="#2a2a2a" stroke="#2a2a2a" stroke-width="0.15">2</text>
<line x1="204.3" y1="255.65" x2="206.5" y2="255.65" stroke="#8a8a8a" stroke-width="0.8"/>
<text x="201.6" y="258.05" font-size="6.6" text-anchor="end" fill="#2a2a2a" stroke="#2a2a2a" stroke-width="0.15">3</text>
<line x1="204.3" y1="242.51" x2="206.5" y2="242.51" stroke="#8a8a8a" stroke-width="0.8"/>
<text x="201.6" y="244.91" font-size="6.6" text-anchor="end" fill="#2a2a2a" stroke="#2a2a2a" stroke-width="0.15">4</text>
<line x1="204.3" y1="229.38" x2="206.5" y2="229.38" stroke="#8a8a8a" stroke-width="0.8"/>
<text x="201.6" y="231.78" font-size="6.6" text-anchor="end" fill="#2a2a2a" stroke="#2a2a2a" stroke-width="0.15">5</text>
<line x1="204.3" y1="216.24" x2="206.5" y2="216.24" stroke="#8a8a8a" stroke-width="0.8"/>
<text x="201.6" y="218.64" font-size="6.6" text-anchor="end" fill="#2a2a2a" stroke="#2a2a2a" stroke-width="0.15">6</text>
<line x1="204.3" y1="203.1" x2="206.5" y2="203.1" stroke="#8a8a8a" stroke-width="0.8"/>
<text x="201.6" y="205.5" font-size="6.6" text-anchor="end" fill="#2a2a2a" stroke="#2a2a2a" stroke-width="0.15">7</text>
<line x1="206.21" y1="308.5" x2="206.21" y2="310.7" stroke="#8a8a8a" stroke-width="0.8"/>
<text x="206.21" y="318.2" font-size="6.6" text-anchor="middle" fill="#2a2a2a" stroke="#2a2a2a" stroke-width="0.15">-3</text>
<line x1="215.94" y1="308.5" x2="215.94" y2="310.7" stroke="#8a8a8a" stroke-width="0.8"/>
<text x="215.94" y="318.2" font-size="6.6" text-anchor="middle" fill="#2a2a2a" stroke="#2a2a2a" stroke-width="0.15">-2</text>
<line x1="225.67" y1="308.5" x2="225.67" y2="310.7" stroke="#8a8a8a" stroke-width="0.8"/>
<text x="225.67" y="318.2" font-size="6.6" text-anchor="middle" fill="#2a2a2a" stroke="#2a2a2a" stroke-width="0.15">-1</text>
<line x1="235.4" y1="308.5" x2="235.4" y2="310.7" stroke="#8a8a8a" stroke-width="0.8"/>
<text x="235.4" y="318.2" font-size="6.6" text-anchor="middle" fill="#2a2a2a" stroke="#2a2a2a" stroke-width="0.15">0</text>
<line x1="245.13" y1="308.5" x2="245.13" y2="310.7" stroke="#8a8a8a" stroke-width="0.8"/>
<text x="245.13" y="318.2" font-size="6.6" text-anchor="middle" fill="#2a2a2a" stroke="#2a2a2a" stroke-width="0.15">1</text>
<line x1="254.86" y1="308.5" x2="254.86" y2="310.7" stroke="#8a8a8a" stroke-width="0.8"/>
<text x="254.86" y="318.2" font-size="6.6" text-anchor="middle" fill="#2a2a2a" stroke="#2a2a2a" stroke-width="0.15">2</text>
<line x1="264.59" y1="308.5" x2="264.59" y2="310.7" stroke="#8a8a8a" stroke-width="0.8"/>
<text x="264.59" y="318.2" font-size="6.6" text-anchor="middle" fill="#2a2a2a" stroke="#2a2a2a" stroke-width="0.15">3</text>
<line x1="274.32" y1="308.5" x2="274.32" y2="310.7" stroke="#8a8a8a" stroke-width="0.8"/>
<text x="274.32" y="318.2" font-size="6.6" text-anchor="middle" fill="#2a2a2a" stroke="#2a2a2a" stroke-width="0.15">4</text>
<line x1="284.05" y1="308.5" x2="284.05" y2="310.7" stroke="#8a8a8a" stroke-width="0.8"/>
<text x="284.05" y="318.2" font-size="6.6" text-anchor="middle" fill="#2a2a2a" stroke="#2a2a2a" stroke-width="0.15">5</text>
<line x1="293.78" y1="308.5" x2="293.78" y2="310.7" stroke="#8a8a8a" stroke-width="0.8"/>
<text x="293.78" y="318.2" font-size="6.6" text-anchor="middle" fill="#2a2a2a" stroke="#2a2a2a" stroke-width="0.15">6</text>
<line x1="303.51" y1="308.5" x2="303.51" y2="310.7" stroke="#8a8a8a" stroke-width="0.8"/>
<text x="303.51" y="318.2" font-size="6.6" text-anchor="middle" fill="#2a2a2a" stroke="#2a2a2a" stroke-width="0.15">7</text>
<line x1="313.24" y1="308.5" x2="313.24" y2="310.7" stroke="#8a8a8a" stroke-width="0.8"/>
<text x="313.24" y="318.2" font-size="6.6" text-anchor="middle" fill="#2a2a2a" stroke="#2a2a2a" stroke-width="0.15">8</text>
<line x1="322.97" y1="308.5" x2="322.97" y2="310.7" stroke="#8a8a8a" stroke-width="0.8"/>
<text x="322.97" y="318.2" font-size="6.6" text-anchor="middle" fill="#2a2a2a" stroke="#2a2a2a" stroke-width="0.15">9</text>
<line x1="332.7" y1="308.5" x2="332.7" y2="310.7" stroke="#8a8a8a" stroke-width="0.8"/>
<text x="332.7" y="318.2" font-size="6.6" text-anchor="middle" fill="#2a2a2a" stroke="#2a2a2a" stroke-width="0.15">10</text>
<text x="271.4" y="329" font-size="7.3" text-anchor="middle" fill="#222" stroke="#222" stroke-width="0.12" textLength="63.3" lengthAdjust="spacingAndGlyphs">Time from gasp (s)</text>
<line x1="235.4" y1="197.2" x2="235.4" y2="308.5" stroke="#c2c2c2" stroke-width="1" stroke-dasharray="3.8,2.1" stroke-dashoffset="1.5"/>
<text transform="translate(189.7,252.9) rotate(-90)" font-size="7.3" text-anchor="middle" fill="#222" stroke="#222" stroke-width="0.12">CVP (mmHg)</text>
<text x="179.4" y="204.5" font-size="12.5" font-weight="bold" fill="#000" stroke="#000" stroke-width="0.3">d</text>
<text x="265.9" y="216" font-size="6.5" fill="#151515" textLength="26.3" lengthAdjust="spacingAndGlyphs"><tspan font-style="italic">P</tspan> = 0.002</text>
<g fill="none" stroke="rgb(80,182,226)" stroke-width="0.9" stroke-opacity="0.74"><path d="M206.2,292.4 207.4,292.4 208.6,292.4 209.7,292.3 210.9,292.3 212.1,292.3 213.2,292.2 214.4,292.2 215.6,292.1 216.8,292 217.9,291.9 219.1,291.9 220.3,291.8 221.4,291.6 222.6,291.5 223.8,291.4 224.9,291.2 226.1,291.1 227.3,290.9 228.5,290.7 229.6,290.4 230.8,290.2 232,290 233.1,289.7 234.3,289.4 235.5,289.1 236.7,288.8 237.8,288.5 239,288.1 240.2,287.6 241.3,287.1 242.5,286.4 243.7,285.7 244.9,284.8 246,283.7 247.2,282.5 248.4,281.1 249.5,279.4 250.7,277.6 251.9,275.4 253.1,273 254.2,270.4 255.4,267.4 256.6,264.1 257.7,260.6 258.9,257 260.1,253.2 261.3,249.5 262.4,245.8 263.6,242.2 264.8,238.8 265.9,235.5 267.1,232.3 268.3,229.3 269.5,226.4 270.6,223.6 271.8,220.9 273,218.4 274.1,215.9 275.3,213.6 276.5,211.4 277.7,209.4 278.8,207.5 280,205.8 281.2,204.2 282.3,202.9 283.5,201.7 284.7,200.7 285.9,200 287,199.4 288.2,199.1 289.4,199 290.5,199.1 291.7,199.4 292.9,200 294.1,200.7 295.2,201.5 296.4,202.5 297.6,203.4 298.7,204.4 299.9,205.2 301.1,206 302.2,206.7 303.4,207.3 304.6,207.8 305.8,208.3 306.9,208.7 308.1,209 309.3,209.3 310.4,209.6 311.6,209.9 312.8,210.2 314,210.5 315.1,210.9 316.3,211.2 317.5,211.6 318.6,212.1 319.8,212.5 321,213 322.2,213.4 323.3,213.9 324.5,214.4 325.7,215 326.8,215.5 328,216 329.2,216.6 330.4,217.1 331.5,217.7 332.7,218.2"/><path d="M206.2,293.7 207.4,293.9 208.5,294 209.7,294.1 210.9,294.1 212.1,294.2 213.2,294.3 214.4,294.4 215.6,294.4 216.7,294.4 217.9,294.4 219.1,294.4 220.2,294.4 221.4,294.3 222.6,294.2 223.8,294 224.9,293.9 226.1,293.7 227.3,293.4 228.4,293.1 229.6,292.8 230.8,292.3 231.9,291.8 233.1,291.2 234.3,290.6 235.4,289.8 236.6,288.9 237.8,287.9 239,286.8 240.1,285.5 241.3,284.2 242.5,282.8 243.6,281.3 244.8,279.8 246,278.1 247.1,276.4 248.3,274.6 249.5,272.8 250.6,271 251.8,269.1 253,267.4 254.2,265.6 255.3,264 256.5,262.4 257.7,260.9 258.8,259.6 260,258.4 261.2,257.4 262.3,256.6 263.5,256.1 264.7,255.8 265.9,255.7 267,255.8 268.2,256.2 269.4,256.7 270.5,257.4 271.7,258.2 272.9,259.2 274,260.2 275.2,261.4 276.4,262.6 277.5,264 278.7,265.4 279.9,266.9 281.1,268.5 282.2,270.2 283.4,271.9 284.6,273.7 285.7,275.5 286.9,277.4 288.1,279.2 289.2,280.9 290.4,282.6 291.6,284.2 292.8,285.7 293.9,287 295.1,288.3 296.3,289.5 297.4,290.6 298.6,291.7 299.8,292.7 300.9,293.7 302.1,294.7 303.3,295.7 304.4,296.6 305.6,297.6 306.8,298.5 308,299.4 309.1,300.3 310.3,301.2 311.5,302 312.6,302.9 313.8,303.7 315,304.4 316.1,305.2 317.3,305.9 318.5,306.6 319.6,307.2 320.8,307.8 322,308.3 323.2,308.9 324.3,309.4 325.5,309.9 326.7,310.4 327.8,310.8"/><path d="M206.2,295.1 207.4,295.2 208.6,295.3 209.7,295.4 210.9,295.5 212.1,295.6 213.2,295.7 214.4,295.7 215.6,295.8 216.8,295.9 217.9,295.9 219.1,295.9 220.3,295.9 221.4,295.9 222.6,295.9 223.8,295.8 224.9,295.7 226.1,295.6 227.3,295.5 228.5,295.3 229.6,295.2 230.8,294.9 232,294.7 233.1,294.4 234.3,294.1 235.5,293.7 236.7,293.3 237.8,292.9 239,292.4 240.2,291.8 241.3,291.2 242.5,290.6 243.7,289.8 244.9,289 246,288.2 247.2,287.2 248.4,286.2 249.5,285 250.7,283.8 251.9,282.5 253.1,281.1 254.2,279.6 255.4,278.2 256.6,276.7 257.7,275.2 258.9,273.7 260.1,272.3 261.3,270.9 262.4,269.6 263.6,268.4 264.8,267.2 265.9,266.2 267.1,265.3 268.3,264.6 269.5,264 270.6,263.6 271.8,263.4 273,263.5 274.1,263.7 275.3,264.2 276.5,265 277.7,265.9 278.8,267.1 280,268.6 281.2,270.2 282.3,272.1 283.5,274 284.7,275.9 285.9,277.7 287,279.4 288.2,280.8 289.4,282.1 290.5,283.1 291.7,284 292.9,284.8 294.1,285.4 295.2,285.9 296.4,286.4 297.6,286.8 298.7,287.2 299.9,287.6 301.1,288 302.2,288.3 303.4,288.7 304.6,289 305.8,289.4 306.9,289.7 308.1,290 309.3,290.3 310.4,290.6 311.6,290.8 312.8,291 314,291.2 315.1,291.4 316.3,291.6 317.5,291.7 318.6,291.9 319.8,292 321,292.1 322.2,292.1 323.3,292.2 324.5,292.3 325.7,292.3 326.8,292.3 328,292.4 329.2,292.4 330.4,292.4 331.5,292.4 332.7,292.4"/><path d="M206.2,299 207.4,299 208.6,298.9 209.7,298.9 210.9,298.9 212.1,298.8 213.2,298.8 214.4,298.7 215.6,298.7 216.8,298.7 217.9,298.6 219.1,298.6 220.3,298.5 221.4,298.5 222.6,298.4 223.8,298.4 224.9,298.3 226.1,298.3 227.3,298.2 228.5,298.1 229.6,298.1 230.8,298 232,297.9 233.1,297.9 234.3,297.8 235.5,297.7 236.7,297.6 237.8,297.5 239,297.4 240.2,297.3 241.3,297.2 242.5,297.1 243.7,296.9 244.9,296.8 246,296.6 247.2,296.5 248.4,296.3 249.5,296.1 250.7,295.9 251.9,295.7 253.1,295.4 254.2,295.2 255.4,294.9 256.6,294.7 257.7,294.4 258.9,294 260.1,293.7 261.3,293.3 262.4,292.9 263.6,292.5 264.8,292 265.9,291.5 267.1,291 268.3,290.4 269.5,289.8 270.6,289.2 271.8,288.5 273,287.7 274.1,286.9 275.3,286.1 276.5,285.2 277.7,284.3 278.8,283.3 280,282.3 281.2,281.2 282.3,280 283.5,278.8 284.7,277.6 285.9,276.3 287,274.9 288.2,273.5 289.4,272 290.5,270.5 291.7,269 292.9,267.4 294.1,265.9 295.2,264.4 296.4,263.1 297.6,261.9 298.7,260.8 299.9,260 301.1,259.4 302.2,258.9 303.4,258.6 304.6,258.4 305.8,258.3 306.9,258.3 308.1,258.3 309.3,258.4 310.4,258.6 311.6,259 312.8,259.4 314,260.1 315.1,260.9 316.3,261.9 317.5,263 318.6,264.4 319.8,265.8 321,267.3 322.2,269 323.3,270.6 324.5,272.3 325.7,274 326.8,275.7 328,277.5 329.2,279.2 330.4,281 331.5,282.8 332.7,284.6"/><path d="M206.2,293.7 207.4,293.7 208.6,293.7 209.7,293.6 210.9,293.6 212.1,293.6 213.2,293.5 214.4,293.5 215.6,293.5 216.8,293.4 217.9,293.4 219.1,293.3 220.3,293.3 221.4,293.2 222.6,293.2 223.8,293.1 224.9,293.1 226.1,293 227.3,292.9 228.5,292.9 229.6,292.8 230.8,292.7 232,292.7 233.1,292.6 234.3,292.5 235.5,292.4 236.7,292.3 237.8,292.2 239,292.2 240.2,292.1 241.3,292 242.5,291.9 243.7,291.8 244.9,291.7 246,291.6 247.2,291.5 248.4,291.4 249.5,291.4 250.7,291.3 251.9,291.2 253.1,291.2 254.2,291.1 255.4,291.1 256.6,291.1 257.7,291.1 258.9,291 260.1,291 261.3,291 262.4,290.9 263.6,290.8 264.8,290.6 265.9,290.4 267.1,290.2 268.3,289.9 269.5,289.5 270.6,289.1 271.8,288.6 273,288 274.1,287.3 275.3,286.5 276.5,285.6 277.7,284.7 278.8,283.6 280,282.5 281.2,281.3 282.3,280 283.5,278.6 284.7,277.2 285.9,275.7 287,274.2 288.2,272.7 289.4,271.3 290.5,269.8 291.7,268.4 292.9,267.1 294.1,265.9 295.2,264.8 296.4,263.9 297.6,263.1 298.7,262.5 299.9,262.1 301.1,262 302.2,262 303.4,262.2 304.6,262.6 305.8,263.2 306.9,263.8 308.1,264.6 309.3,265.6 310.4,266.6 311.6,267.7 312.8,268.9 314,270.2 315.1,271.5 316.3,273 317.5,274.5 318.6,276.1 319.8,277.7 321,279.5 322.2,281.2 323.3,283 324.5,284.9 325.7,286.8 326.8,288.8 328,290.8 329.2,292.8 330.4,294.9 331.5,296.9 332.7,299"/><path d="M206.2,270.8 207.4,272.2 208.6,273.7 209.7,275.1 210.9,276.5 212.1,277.9 213.2,279.2 214.4,280.4 215.6,281.6 216.8,282.7 217.9,283.8 219.1,284.7 220.3,285.7 221.4,286.5 222.6,287.3 223.8,288.1 224.9,288.7 226.1,289.4 227.3,290 228.5,290.6 229.6,291.1 230.8,291.6 232,292 233.1,292.4 234.3,292.8 235.5,293.1 236.7,293.4 237.8,293.7 239,294 240.2,294.2 241.3,294.4 242.5,294.6 243.7,294.8 244.9,295 246,295.2 247.2,295.4 248.4,295.6 249.5,295.8 250.7,295.9 251.9,296.1 253.1,296.2 254.2,296.3 255.4,296.4 256.6,296.5 257.7,296.5 258.9,296.6 260.1,296.6 261.3,296.6 262.4,296.6 263.6,296.6 264.8,296.5 265.9,296.5 267.1,296.5 268.3,296.5 269.5,296.4 270.6,296.4 271.8,296.4 273,296.4 274.1,296.4 275.3,296.4 276.5,296.4 277.7,296.5 278.8,296.5 280,296.6 281.2,296.6 282.3,296.7 283.5,296.8 284.7,296.9 285.9,297 287,297.1 288.2,297.2 289.4,297.3 290.5,297.4 291.7,297.5 292.9,297.6 294.1,297.7 295.2,297.8 296.4,297.9 297.6,298 298.7,298.1 299.9,298.2 301.1,298.3 302.2,298.4 303.4,298.5 304.6,298.6 305.8,298.6 306.9,298.7 308.1,298.8 309.3,298.8 310.4,298.9 311.6,298.9 312.8,299 314,299 315.1,299.1 316.3,299.1 317.5,299.1 318.6,299.1 319.8,299.1 321,299.1 322.2,299.1 323.3,299.1 324.5,299.1 325.7,299.1 326.8,299.1 328,299.1 329.2,299.1 330.4,299 331.5,299 332.7,299"/><path d="M206.2,272.7 207.4,274.1 208.6,275.4 209.7,276.7 210.9,278 212.1,279.3 213.2,280.5 214.4,281.7 215.6,282.9 216.8,284 217.9,285.1 219.1,286.1 220.3,287.1 221.4,288 222.6,288.9 223.8,289.8 224.9,290.6 226.1,291.4 227.3,292.2 228.5,292.9 229.6,293.6 230.8,294.2 232,294.8 233.1,295.4 234.3,295.9 235.5,296.4 236.7,296.9 237.8,297.3 239,297.7 240.2,298 241.3,298.3 242.5,298.6 243.7,298.8 244.9,299 246,299.1 247.2,299.2 248.4,299.3 249.5,299.3 250.7,299.3 251.9,299.2 253.1,299.2 254.2,299.1 255.4,298.9 256.6,298.8 257.7,298.6 258.9,298.4 260.1,298.2 261.3,298 262.4,297.7 263.6,297.5 264.8,297.2 265.9,296.9 267.1,296.7 268.3,296.4 269.5,296.1 270.6,295.9 271.8,295.6 273,295.3 274.1,295.1 275.3,294.9 276.5,294.7 277.7,294.5 278.8,294.3 280,294.1 281.2,293.9 282.3,293.8 283.5,293.6 284.7,293.5 285.9,293.3 287,293.2 288.2,293 289.4,292.9 290.5,292.8 291.7,292.7 292.9,292.5 294.1,292.4 295.2,292.3 296.4,292.1 297.6,292 298.7,291.8 299.9,291.7 301.1,291.5 302.2,291.3 303.4,291.1 304.6,290.9 305.8,290.7 306.9,290.4 308.1,290.1 309.3,289.8 310.4,289.4 311.6,289.1 312.8,288.7 314,288.2 315.1,287.7 316.3,287.2 317.5,286.7 318.6,286.1 319.8,285.5 321,284.9 322.2,284.3 323.3,283.6 324.5,283 325.7,282.3 326.8,281.6 328,280.9 329.2,280.2 330.4,279.4 331.5,278.7 332.7,278"/><path d="M206.2,284.6 207.4,285.4 208.6,286.2 209.7,287 210.9,287.7 212.1,288.3 213.2,288.9 214.4,289.4 215.6,289.7 216.8,289.9 217.9,290 219.1,290 220.3,289.9 221.4,289.7 222.6,289.4 223.8,289.1 224.9,288.7 226.1,288.3 227.3,287.9 228.5,287.5 229.6,287.2 230.8,286.8 232,286.5 233.1,286.2 234.3,286 235.5,285.9 236.7,285.8 237.8,285.8 239,285.9 240.2,286 241.3,286.2 242.5,286.5 243.7,286.8 244.9,287.1 246,287.5 247.2,287.8 248.4,288.2 249.5,288.6 250.7,288.9 251.9,289.3 253.1,289.5 254.2,289.7 255.4,289.9 256.6,289.9 257.7,289.9 258.9,289.8 260.1,289.6 261.3,289.4 262.4,289.1 263.6,288.8 264.8,288.4 265.9,288 267.1,287.6 268.3,287.1 269.5,286.6 270.6,286.1 271.8,285.6 273,285.1 274.1,284.6 275.3,284.2 276.5,283.7 277.7,283.3 278.8,282.9 280,282.6 281.2,282.3 282.3,282.1 283.5,282 284.7,281.9 285.9,281.9 287,282 288.2,282.1 289.4,282.3 290.5,282.5 291.7,282.8 292.9,283 294.1,283.3 295.2,283.6 296.4,283.8 297.6,284.1 298.7,284.4 299.9,284.7 301.1,284.9 302.2,285.2 303.4,285.4 304.6,285.7 305.8,285.9 306.9,286.1 308.1,286.4 309.3,286.6 310.4,286.8 311.6,286.9 312.8,287.1 314,287.3 315.1,287.4 316.3,287.5 317.5,287.7 318.6,287.8 319.8,287.9 321,288 322.2,288 323.3,288.1 324.5,288.2 325.7,288.2 326.8,288.3 328,288.3 329.2,288.4 330.4,288.4 331.5,288.5 332.7,288.5"/><path d="M206.2,301.6 207.4,301 208.6,300.3 209.7,299.7 210.9,299.1 212.1,298.6 213.2,298.2 214.4,297.9 215.6,297.7 216.8,297.7 217.9,297.8 219.1,298 220.3,298.3 221.4,298.6 222.6,299.1 223.8,299.5 224.9,300 226.1,300.5 227.3,301 228.5,301.4 229.6,301.8 230.8,302.2 232,302.5 233.1,302.7 234.3,302.9 235.5,302.9 236.7,302.9 237.8,302.8 239,302.5 240.2,302.1 241.3,301.6 242.5,300.9 243.7,300.1 244.9,299.2 246,298.3 247.2,297.3 248.4,296.3 249.5,295.4 250.7,294.5 251.9,293.8 253.1,293.1 254.2,292.4 255.4,291.8 256.6,291.3 257.7,290.8 258.9,290.3 260.1,289.9 261.3,289.5 262.4,289.2 263.6,288.8 264.8,288.4 265.9,288.1 267.1,287.7 268.3,287.4 269.5,287.1 270.6,286.7 271.8,286.4 273,286.1 274.1,285.7 275.3,285.4 276.5,285.1 277.7,284.8 278.8,284.5 280,284.2 281.2,283.9 282.3,283.6 283.5,283.4 284.7,283.1 285.9,282.9 287,282.6 288.2,282.4 289.4,282.2 290.5,282 291.7,281.8 292.9,281.6 294.1,281.4 295.2,281.3 296.4,281.1 297.6,281 298.7,280.9 299.9,280.8 301.1,280.7 302.2,280.7 303.4,280.6 304.6,280.6 305.8,280.6 306.9,280.6 308.1,280.6 309.3,280.6 310.4,280.7 311.6,280.7 312.8,280.7 314,280.7 315.1,280.8 316.3,280.8 317.5,280.8 318.6,280.8 319.8,280.8 321,280.7 322.2,280.7 323.3,280.6 324.5,280.5 325.7,280.3 326.8,280.2 328,280 329.2,279.9 330.4,279.7 331.5,279.5 332.7,279.3"/><path d="M206.2,291.1 207.4,290.8 208.6,290.4 209.7,290.1 210.9,289.8 212.1,289.4 213.2,289.1 214.4,288.8 215.6,288.5 216.8,288.2 217.9,287.9 219.1,287.6 220.3,287.3 221.4,287 222.6,286.8 223.8,286.6 224.9,286.3 226.1,286.2 227.3,286 228.5,285.9 229.6,285.8 230.8,285.7 232,285.7 233.1,285.7 234.3,285.8 235.5,285.9 236.7,286 237.8,286.3 239,286.5 240.2,286.8 241.3,287 242.5,287.3 243.7,287.6 244.9,287.8 246,288.1 247.2,288.2 248.4,288.4 249.5,288.5 250.7,288.5 251.9,288.5 253.1,288.3 254.2,288.2 255.4,287.9 256.6,287.7 257.7,287.3 258.9,287 260.1,286.5 261.3,286.1 262.4,285.6 263.6,285 264.8,284.5 265.9,283.9 267.1,283.3 268.3,282.6 269.5,282 270.6,281.4 271.8,280.8 273,280.2 274.1,279.7 275.3,279.2 276.5,278.8 277.7,278.4 278.8,278.1 280,277.8 281.2,277.7 282.3,277.6 283.5,277.5 284.7,277.5 285.9,277.6 287,277.7 288.2,277.9 289.4,278.1 290.5,278.3 291.7,278.5 292.9,278.8 294.1,279.1 295.2,279.4 296.4,279.7 297.6,280.1 298.7,280.4 299.9,280.8 301.1,281.1 302.2,281.5 303.4,281.9 304.6,282.3 305.8,282.6 306.9,283 308.1,283.4 309.3,283.7 310.4,284.1 311.6,284.4 312.8,284.8 314,285.1 315.1,285.4 316.3,285.7 317.5,286 318.6,286.3 319.8,286.6 321,286.8 322.2,287 323.3,287.2 324.5,287.4 325.7,287.6 326.8,287.8 328,287.9 329.2,288.1 330.4,288.2 331.5,288.4 332.7,288.5"/><path d="M206.2,296.4 207.4,296.3 208.6,296.3 209.7,296.3 210.9,296.2 212.1,296.2 213.2,296.2 214.4,296.1 215.6,296.1 216.8,296.1 217.9,296 219.1,296 220.3,295.9 221.4,295.9 222.6,295.8 223.8,295.8 224.9,295.7 226.1,295.7 227.3,295.6 228.5,295.5 229.6,295.5 230.8,295.4 232,295.3 233.1,295.2 234.3,295.1 235.5,295.1 236.7,295 237.8,294.9 239,294.8 240.2,294.7 241.3,294.6 242.5,294.5 243.7,294.4 244.9,294.3 246,294.2 247.2,294.1 248.4,294 249.5,293.9 250.7,293.9 251.9,293.8 253.1,293.8 254.2,293.8 255.4,293.7 256.6,293.7 257.7,293.8 258.9,293.8 260.1,293.8 261.3,293.9 262.4,293.9 263.6,294 264.8,294.1 265.9,294.2 267.1,294.3 268.3,294.4 269.5,294.5 270.6,294.6 271.8,294.7 273,294.9 274.1,295 275.3,295.2 276.5,295.3 277.7,295.5 278.8,295.6 280,295.8 281.2,296 282.3,296.1 283.5,296.3 284.7,296.5 285.9,296.6 287,296.8 288.2,297 289.4,297.2 290.5,297.3 291.7,297.5 292.9,297.7 294.1,297.8 295.2,298 296.4,298.2 297.6,298.3 298.7,298.5 299.9,298.6 301.1,298.7 302.2,298.9 303.4,299 304.6,299.1 305.8,299.2 306.9,299.3 308.1,299.4 309.3,299.5 310.4,299.6 311.6,299.6 312.8,299.7 314,299.8 315.1,299.8 316.3,299.9 317.5,299.9 318.6,300 319.8,300 321,300.1 322.2,300.1 323.3,300.1 324.5,300.2 325.7,300.2 326.8,300.2 328,300.2 329.2,300.3 330.4,300.3 331.5,300.3 332.7,300.3"/><path d="M206.2,295.1 207.4,294.8 208.6,294.5 209.7,294.2 210.9,293.9 212.1,293.6 213.2,293.3 214.4,293 215.6,292.8 216.8,292.5 217.9,292.3 219.1,292 220.3,291.8 221.4,291.6 222.6,291.5 223.8,291.3 224.9,291.2 226.1,291.1 227.3,291 228.5,290.9 229.6,290.9 230.8,290.9 232,290.9 233.1,291 234.3,291 235.5,291.1 236.7,291.3 237.8,291.4 239,291.6 240.2,291.8 241.3,292 242.5,292.3 243.7,292.5 244.9,292.8 246,293 247.2,293.3 248.4,293.6 249.5,293.9 250.7,294.1 251.9,294.4 253.1,294.7 254.2,294.9 255.4,295.2 256.6,295.4 257.7,295.6 258.9,295.8 260.1,296 261.3,296.2 262.4,296.3 263.6,296.5 264.8,296.6 265.9,296.8 267.1,296.9 268.3,297.1 269.5,297.2 270.6,297.3 271.8,297.4 273,297.6 274.1,297.7 275.3,297.8 276.5,297.9 277.7,298 278.8,298.1 280,298.3 281.2,298.4 282.3,298.5 283.5,298.6 284.7,298.7 285.9,298.7 287,298.8 288.2,298.9 289.4,298.9 290.5,299 291.7,299 292.9,299 294.1,299 295.2,299 296.4,299 297.6,298.9 298.7,298.9 299.9,298.8 301.1,298.7 302.2,298.6 303.4,298.6 304.6,298.5 305.8,298.4 306.9,298.3 308.1,298.2 309.3,298 310.4,297.9 311.6,297.8 312.8,297.7 314,297.6 315.1,297.5 316.3,297.4 317.5,297.4 318.6,297.3 319.8,297.2 321,297.1 322.2,297 323.3,296.9 324.5,296.9 325.7,296.8 326.8,296.7 328,296.7 329.2,296.6 330.4,296.5 331.5,296.4 332.7,296.4"/><path d="M206.2,289.8 207.4,289.9 208.6,289.9 209.7,290 210.9,290.1 212.1,290.2 213.2,290.3 214.4,290.5 215.6,290.7 216.8,290.9 217.9,291.1 219.1,291.4 220.3,291.7 221.4,292 222.6,292.4 223.8,292.9 224.9,293.4 226.1,294 227.3,294.6 228.5,295.3 229.6,295.9 230.8,296.6 232,297.3 233.1,297.9 234.3,298.5 235.5,299 236.7,299.5 237.8,299.9 239,300.2 240.2,300.4 241.3,300.6 242.5,300.8 243.7,300.9 244.9,301 246,301 247.2,301.1 248.4,301.1 249.5,301.1 250.7,301.1 251.9,301 253.1,300.9 254.2,300.9 255.4,300.7 256.6,300.6 257.7,300.4 258.9,300.3 260.1,300 261.3,299.8 262.4,299.6 263.6,299.3 264.8,299 265.9,298.6 267.1,298.3 268.3,297.9 269.5,297.5 270.6,297.1 271.8,296.7 273,296.2 274.1,295.8 275.3,295.4 276.5,294.9 277.7,294.5 278.8,294.1 280,293.7 281.2,293.3 282.3,292.9 283.5,292.6 284.7,292.3 285.9,292 287,291.7 288.2,291.4 289.4,291.2 290.5,291 291.7,290.8 292.9,290.6 294.1,290.5 295.2,290.3 296.4,290.2 297.6,290.1 298.7,290 299.9,290 301.1,289.9 302.2,289.8 303.4,289.8 304.6,289.8 305.8,289.8 306.9,289.8 308.1,289.8 309.3,289.8 310.4,289.8 311.6,289.8 312.8,289.8 314,289.9 315.1,289.9 316.3,290 317.5,290 318.6,290.1 319.8,290.2 321,290.2 322.2,290.3 323.3,290.4 324.5,290.5 325.7,290.6 326.8,290.7 328,290.7 329.2,290.8 330.4,290.9 331.5,291 332.7,291.1"/></g>
<line x1="206.21" y1="295.5" x2="332.7" y2="295.5" stroke="#7c7c7c" stroke-width="0.85"/>
<path d="M206.2,291.8 207.4,292 208.6,292.2 209.7,292.3 210.9,292.5 212.1,292.7 213.2,292.8 214.4,293 215.6,293.1 216.8,293.2 217.9,293.3 219.1,293.4 220.3,293.5 221.4,293.5 222.6,293.5 223.8,293.5 224.9,293.5 226.1,293.4 227.3,293.3 228.5,293.2 229.6,293.1 230.8,293 232,292.9 233.1,292.7 234.3,292.6 235.5,292.4 236.7,292.3 237.8,292.1 239,291.9 240.2,291.7 241.3,291.5 242.5,291.3 243.7,291.1 244.9,290.9 246,290.6 247.2,290.4 248.4,290.1 249.5,289.9 250.7,289.6 251.9,289.3 253.1,289 254.2,288.7 255.4,288.3 256.6,288 257.7,287.6 258.9,287.3 260.1,286.9 261.3,286.5 262.4,286.1 263.6,285.8 264.8,285.4 265.9,285 267.1,284.6 268.3,284.3 269.5,283.9 270.6,283.6 271.8,283.2 273,282.9 274.1,282.6 275.3,282.4 276.5,282.1 277.7,281.9 278.8,281.6 280,281.5 281.2,281.3 282.3,281.1 283.5,281 284.7,280.9 285.9,280.8 287,280.7 288.2,280.6 289.4,280.6 290.5,280.6 291.7,280.6 292.9,280.6 294.1,280.6 295.2,280.7 296.4,280.7 297.6,280.8 298.7,280.9 299.9,280.9 301.1,281 302.2,281.1 303.4,281.3 304.6,281.4 305.8,281.5 306.9,281.6 308.1,281.8 309.3,281.9 310.4,282.1 311.6,282.3 312.8,282.5 314,282.7 315.1,283 316.3,283.2 317.5,283.5 318.6,283.8 319.8,284 321,284.4 322.2,284.7 323.3,285 324.5,285.3 325.7,285.7 326.8,286 328,286.4 329.2,286.7 330.4,287.1 331.5,287.5 332.7,287.8" fill="none" stroke="#000" stroke-width="2.1" stroke-linecap="round" stroke-linejoin="round"/>
<path d="M251,197.4V200.7 M263.4,197.4V200.7 M267.4,197.4V200.7 M272.4,197.4V200.7 M276.6,197.4V200.7 M281.4,197.4V200.7 M290.4,197.4V200.7 M296,197.4V200.7 M300.4,197.4V200.7 M314,197.4V200.7 M324,197.4V200.7 M328.6,197.4V200.7" stroke="rgb(200,70,70)" stroke-width="0.95" stroke-opacity="0.8" fill="none"/>
<path d="M333.1,199.4H337.1 M333.1,216H337.1 M333.1,231.4H337.1 M333.1,246.6H337.1 M333.1,261H337.1 M333.1,271.1H337.1 M333.1,271.9H337.1 M333.1,278.4H337.1 M333.1,288H337.1 M333.1,289.4H337.1 M333.1,291H337.1 M333.1,292.6H337.1 M333.1,294.4H337.1 M333.1,296H337.1" stroke="rgb(200,70,70)" stroke-width="1.15" stroke-opacity="0.72" fill="none"/>
<line x1="377.5" y1="196.2" x2="377.5" y2="308.5" stroke="#8a8a8a" stroke-width="1"/>
<line x1="377.5" y1="308.5" x2="506.7" y2="308.5" stroke="#8a8a8a" stroke-width="1"/>
<line x1="375.3" y1="308.2" x2="377.5" y2="308.2" stroke="#8a8a8a" stroke-width="0.8"/>
<text x="372.6" y="310.6" font-size="6.6" text-anchor="end" fill="#2a2a2a" stroke="#2a2a2a" stroke-width="0.15">-20</text>
<line x1="375.3" y1="294.35" x2="377.5" y2="294.35" stroke="#8a8a8a" stroke-width="0.8"/>
<text x="372.6" y="296.75" font-size="6.6" text-anchor="end" fill="#2a2a2a" stroke="#2a2a2a" stroke-width="0.15">-15</text>
<line x1="375.3" y1="280.5" x2="377.5" y2="280.5" stroke="#8a8a8a" stroke-width="0.8"/>
<text x="372.6" y="282.9" font-size="6.6" text-anchor="end" fill="#2a2a2a" stroke="#2a2a2a" stroke-width="0.15">-10</text>
<line x1="375.3" y1="266.65" x2="377.5" y2="266.65" stroke="#8a8a8a" stroke-width="0.8"/>
<text x="372.6" y="269.05" font-size="6.6" text-anchor="end" fill="#2a2a2a" stroke="#2a2a2a" stroke-width="0.15">-5</text>
<line x1="375.3" y1="252.8" x2="377.5" y2="252.8" stroke="#8a8a8a" stroke-width="0.8"/>
<text x="372.6" y="255.2" font-size="6.6" text-anchor="end" fill="#2a2a2a" stroke="#2a2a2a" stroke-width="0.15">0</text>
<line x1="375.3" y1="238.95" x2="377.5" y2="238.95" stroke="#8a8a8a" stroke-width="0.8"/>
<text x="372.6" y="241.35" font-size="6.6" text-anchor="end" fill="#2a2a2a" stroke="#2a2a2a" stroke-width="0.15">5</text>
<line x1="375.3" y1="225.1" x2="377.5" y2="225.1" stroke="#8a8a8a" stroke-width="0.8"/>
<text x="372.6" y="227.5" font-size="6.6" text-anchor="end" fill="#2a2a2a" stroke="#2a2a2a" stroke-width="0.15">10</text>
<line x1="375.3" y1="211.25" x2="377.5" y2="211.25" stroke="#8a8a8a" stroke-width="0.8"/>
<text x="372.6" y="213.65" font-size="6.6" text-anchor="end" fill="#2a2a2a" stroke="#2a2a2a" stroke-width="0.15">15</text>
<line x1="375.3" y1="197.4" x2="377.5" y2="197.4" stroke="#8a8a8a" stroke-width="0.8"/>
<text x="372.6" y="199.8" font-size="6.6" text-anchor="end" fill="#2a2a2a" stroke="#2a2a2a" stroke-width="0.15">20</text>
<line x1="377.88" y1="308.5" x2="377.88" y2="310.7" stroke="#8a8a8a" stroke-width="0.8"/>
<text x="377.88" y="318.2" font-size="6.6" text-anchor="middle" fill="#2a2a2a" stroke="#2a2a2a" stroke-width="0.15">-3</text>
<line x1="387.52" y1="308.5" x2="387.52" y2="310.7" stroke="#8a8a8a" stroke-width="0.8"/>
<text x="387.52" y="318.2" font-size="6.6" text-anchor="middle" fill="#2a2a2a" stroke="#2a2a2a" stroke-width="0.15">-2</text>
<line x1="397.16" y1="308.5" x2="397.16" y2="310.7" stroke="#8a8a8a" stroke-width="0.8"/>
<text x="397.16" y="318.2" font-size="6.6" text-anchor="middle" fill="#2a2a2a" stroke="#2a2a2a" stroke-width="0.15">-1</text>
<line x1="406.8" y1="308.5" x2="406.8" y2="310.7" stroke="#8a8a8a" stroke-width="0.8"/>
<text x="406.8" y="318.2" font-size="6.6" text-anchor="middle" fill="#2a2a2a" stroke="#2a2a2a" stroke-width="0.15">0</text>
<line x1="416.44" y1="308.5" x2="416.44" y2="310.7" stroke="#8a8a8a" stroke-width="0.8"/>
<text x="416.44" y="318.2" font-size="6.6" text-anchor="middle" fill="#2a2a2a" stroke="#2a2a2a" stroke-width="0.15">1</text>
<line x1="426.08" y1="308.5" x2="426.08" y2="310.7" stroke="#8a8a8a" stroke-width="0.8"/>
<text x="426.08" y="318.2" font-size="6.6" text-anchor="middle" fill="#2a2a2a" stroke="#2a2a2a" stroke-width="0.15">2</text>
<line x1="435.72" y1="308.5" x2="435.72" y2="310.7" stroke="#8a8a8a" stroke-width="0.8"/>
<text x="435.72" y="318.2" font-size="6.6" text-anchor="middle" fill="#2a2a2a" stroke="#2a2a2a" stroke-width="0.15">3</text>
<line x1="445.36" y1="308.5" x2="445.36" y2="310.7" stroke="#8a8a8a" stroke-width="0.8"/>
<text x="445.36" y="318.2" font-size="6.6" text-anchor="middle" fill="#2a2a2a" stroke="#2a2a2a" stroke-width="0.15">4</text>
<line x1="455" y1="308.5" x2="455" y2="310.7" stroke="#8a8a8a" stroke-width="0.8"/>
<text x="455" y="318.2" font-size="6.6" text-anchor="middle" fill="#2a2a2a" stroke="#2a2a2a" stroke-width="0.15">5</text>
<line x1="464.64" y1="308.5" x2="464.64" y2="310.7" stroke="#8a8a8a" stroke-width="0.8"/>
<text x="464.64" y="318.2" font-size="6.6" text-anchor="middle" fill="#2a2a2a" stroke="#2a2a2a" stroke-width="0.15">6</text>
<line x1="474.28" y1="308.5" x2="474.28" y2="310.7" stroke="#8a8a8a" stroke-width="0.8"/>
<text x="474.28" y="318.2" font-size="6.6" text-anchor="middle" fill="#2a2a2a" stroke="#2a2a2a" stroke-width="0.15">7</text>
<line x1="483.92" y1="308.5" x2="483.92" y2="310.7" stroke="#8a8a8a" stroke-width="0.8"/>
<text x="483.92" y="318.2" font-size="6.6" text-anchor="middle" fill="#2a2a2a" stroke="#2a2a2a" stroke-width="0.15">8</text>
<line x1="493.56" y1="308.5" x2="493.56" y2="310.7" stroke="#8a8a8a" stroke-width="0.8"/>
<text x="493.56" y="318.2" font-size="6.6" text-anchor="middle" fill="#2a2a2a" stroke="#2a2a2a" stroke-width="0.15">9</text>
<line x1="503.2" y1="308.5" x2="503.2" y2="310.7" stroke="#8a8a8a" stroke-width="0.8"/>
<text x="503.2" y="318.2" font-size="6.6" text-anchor="middle" fill="#2a2a2a" stroke="#2a2a2a" stroke-width="0.15">10</text>
<text x="443.2" y="329" font-size="7.3" text-anchor="middle" fill="#222" stroke="#222" stroke-width="0.12" textLength="63.3" lengthAdjust="spacingAndGlyphs">Time from gasp (s)</text>
<line x1="406.8" y1="196.2" x2="406.8" y2="308.5" stroke="#c2c2c2" stroke-width="1" stroke-dasharray="3.8,2.1" stroke-dashoffset="1.5"/>
<text transform="translate(356.3,252.9) rotate(-90)" font-size="7.3" text-anchor="middle" fill="#222" stroke="#222" stroke-width="0.12">MAP (mmHg)</text>
<text x="349.8" y="204.5" font-size="12.5" font-weight="bold" fill="#000" stroke="#000" stroke-width="0.3">e</text>
<text x="437.7" y="216" font-size="6.5" fill="#151515" textLength="22.6" lengthAdjust="spacingAndGlyphs"><tspan font-style="italic">P</tspan> = 0.03</text>
<g fill="none" stroke="rgb(80,182,226)" stroke-width="0.9" stroke-opacity="0.74"><path d="M377.9,247.3 379,247.7 380.2,248.1 381.4,248.5 382.5,248.9 383.7,249.4 384.8,249.7 386,250.1 387.2,250.5 388.3,250.8 389.5,251.1 390.6,251.4 391.8,251.7 393,251.9 394.1,252.2 395.3,252.3 396.4,252.5 397.6,252.6 398.8,252.7 399.9,252.8 401.1,252.8 402.2,252.7 403.4,252.7 404.6,252.6 405.7,252.4 406.9,252.2 408,252 409.2,251.7 410.4,251.4 411.5,251.1 412.7,250.7 413.9,250.3 415,249.9 416.2,249.5 417.3,249.2 418.5,248.8 419.7,248.4 420.8,248.1 422,247.8 423.1,247.5 424.3,247.2 425.5,247 426.6,246.9 427.8,246.7 428.9,246.5 430.1,246.4 431.3,246.2 432.4,245.9 433.6,245.6 434.7,245.3 435.9,244.8 437.1,244.3 438.2,243.6 439.4,242.8 440.5,242 441.7,241.1 442.9,240.2 444,239.2 445.2,238.3 446.3,237.5 447.5,236.6 448.7,235.8 449.8,234.9 451,234 452.1,233.1 453.3,232.2 454.5,231.1 455.6,230 456.8,228.9 457.9,227.7 459.1,226.4 460.3,225.2 461.4,224 462.6,222.8 463.7,221.7 464.9,220.7 466.1,219.8 467.2,219 468.4,218.3 469.5,217.6 470.7,217 471.9,216.4 473,215.9 474.2,215.4 475.4,215 476.5,214.5 477.7,214.1 478.8,213.7 480,213.3 481.2,212.9 482.3,212.5 483.5,212.2 484.6,211.9 485.8,211.6 487,211.4 488.1,211.2 489.3,211 490.4,210.9 491.6,210.9 492.8,210.9 493.9,211 495.1,211.2 496.2,211.4 497.4,211.6 498.6,212 499.7,212.3 500.9,212.7 502,213.1 503.2,213.5"/><path d="M377.9,248.6 379,248.9 380.2,249.1 381.4,249.4 382.5,249.6 383.7,249.8 384.8,250.1 386,250.3 387.2,250.5 388.3,250.7 389.5,250.9 390.6,251.1 391.8,251.3 393,251.5 394.1,251.7 395.3,251.8 396.4,252 397.6,252.1 398.8,252.2 399.9,252.4 401.1,252.5 402.2,252.6 403.4,252.6 404.6,252.7 405.7,252.8 406.9,252.8 408,252.8 409.2,252.9 410.4,252.9 411.5,252.9 412.7,252.8 413.9,252.8 415,252.7 416.2,252.7 417.3,252.6 418.5,252.5 419.7,252.4 420.8,252.3 422,252.1 423.1,251.9 424.3,251.7 425.5,251.5 426.6,251.3 427.8,251.1 428.9,250.8 430.1,250.5 431.3,250.1 432.4,249.8 433.6,249.4 434.7,248.9 435.9,248.4 437.1,247.9 438.2,247.3 439.4,246.6 440.5,245.9 441.7,245.1 442.9,244.3 444,243.4 445.2,242.5 446.3,241.7 447.5,240.8 448.7,240 449.8,239.2 451,238.5 452.1,237.8 453.3,237.2 454.5,236.6 455.6,236.1 456.8,235.6 457.9,235.1 459.1,234.6 460.3,234.2 461.4,233.7 462.6,233.3 463.7,232.8 464.9,232.4 466.1,231.9 467.2,231.4 468.4,230.9 469.5,230.4 470.7,230 471.9,229.5 473,229.1 474.2,228.7 475.4,228.4 476.5,228.1 477.7,227.8 478.8,227.6 480,227.4 481.2,227.3 482.3,227.1 483.5,227.1 484.6,227 485.8,227 487,227 488.1,227.1 489.3,227.1 490.4,227.3 491.6,227.5 492.8,227.7 493.9,228 495.1,228.3 496.2,228.7 497.4,229.1 498.6,229.5 499.7,230 500.9,230.5 502,231 503.2,231.5"/><path d="M377.9,240.9 379,241.7 380.2,242.5 381.4,243.3 382.5,244.1 383.7,245 384.8,245.8 386,246.7 387.2,247.5 388.3,248.4 389.5,249.4 390.6,250.3 391.8,251.2 393,252.2 394.1,253.1 395.3,254.1 396.4,255 397.6,255.9 398.8,256.8 399.9,257.7 401.1,258.5 402.2,259.3 403.4,260.1 404.6,260.8 405.7,261.4 406.9,262 408,262.5 409.2,263 410.4,263.4 411.5,263.8 412.7,264.1 413.9,264.5 415,264.8 416.2,265.2 417.3,265.5 418.5,265.9 419.7,266.3 420.8,266.7 422,267.2 423.1,267.6 424.3,268 425.5,268.5 426.6,269 427.8,269.4 428.9,269.9 430.1,270.4 431.3,270.9 432.4,271.3 433.6,271.8 434.7,272.3 435.9,272.8 437.1,273.3 438.2,273.7 439.4,274.2 440.5,274.7 441.7,275.2 442.9,275.7 444,276.2 445.2,276.7 446.3,277.3 447.5,277.8 448.7,278.4 449.8,278.9 451,279.5 452.1,280.1 453.3,280.7 454.5,281.4 455.6,282 456.8,282.6 457.9,283.2 459.1,283.8 460.3,284.4 461.4,285 462.6,285.5 463.7,286.1 464.9,286.6 466.1,287 467.2,287.5 468.4,287.9 469.5,288.3 470.7,288.7 471.9,289.1 473,289.5 474.2,289.8 475.4,290.1 476.5,290.5 477.7,290.8 478.8,291.1 480,291.4 481.2,291.7 482.3,292 483.5,292.3 484.6,292.6 485.8,292.9 487,293.2 488.1,293.6 489.3,293.9 490.4,294.2 491.6,294.5 492.8,294.9 493.9,295.2 495.1,295.5 496.2,295.9 497.4,296.2 498.6,296.6 499.7,296.9 500.9,297.3 502,297.6 503.2,298"/><path d="M377.9,245.9 379,246.6 380.2,247.2 381.4,247.9 382.5,248.6 383.7,249.3 384.8,249.9 386,250.6 387.2,251.2 388.3,251.8 389.5,252.5 390.6,253.1 391.8,253.6 393,254.2 394.1,254.8 395.3,255.3 396.4,255.8 397.6,256.3 398.8,256.8 399.9,257.3 401.1,257.7 402.2,258.1 403.4,258.5 404.6,258.9 405.7,259.2 406.9,259.5 408,259.7 409.2,259.9 410.4,260.1 411.5,260.2 412.7,260.3 413.9,260.4 415,260.4 416.2,260.4 417.3,260.5 418.5,260.5 419.7,260.5 420.8,260.5 422,260.6 423.1,260.6 424.3,260.6 425.5,260.7 426.6,260.7 427.8,260.8 428.9,260.8 430.1,260.9 431.3,260.9 432.4,261 433.6,261 434.7,261 435.9,261.1 437.1,261.1 438.2,261.1 439.4,261.1 440.5,261.1 441.7,261.1 442.9,261.1 444,261.1 445.2,261.1 446.3,261 447.5,261 448.7,260.9 449.8,260.9 451,260.8 452.1,260.8 453.3,260.7 454.5,260.7 455.6,260.6 456.8,260.5 457.9,260.4 459.1,260.4 460.3,260.3 461.4,260.2 462.6,260.1 463.7,260.1 464.9,260 466.1,259.9 467.2,259.8 468.4,259.7 469.5,259.7 470.7,259.6 471.9,259.5 473,259.4 474.2,259.3 475.4,259.3 476.5,259.2 477.7,259.1 478.8,259 480,258.9 481.2,258.8 482.3,258.7 483.5,258.7 484.6,258.6 485.8,258.5 487,258.4 488.1,258.3 489.3,258.2 490.4,258.1 491.6,258 492.8,257.9 493.9,257.8 495.1,257.7 496.2,257.6 497.4,257.5 498.6,257.4 499.7,257.3 500.9,257.2 502,257.1 503.2,257"/><path d="M377.9,250 379,250.1 380.2,250.2 381.4,250.3 382.5,250.4 383.7,250.5 384.8,250.6 386,250.7 387.2,250.8 388.3,250.9 389.5,251 390.6,251.1 391.8,251.3 393,251.4 394.1,251.5 395.3,251.7 396.4,251.9 397.6,252 398.8,252.2 399.9,252.4 401.1,252.6 402.2,252.7 403.4,252.8 404.6,252.9 405.7,252.9 406.9,252.8 408,252.6 409.2,252.4 410.4,252.1 411.5,251.8 412.7,251.4 413.9,251 415,250.6 416.2,250.1 417.3,249.7 418.5,249.2 419.7,248.7 420.8,248.3 422,247.8 423.1,247.4 424.3,247 425.5,246.6 426.6,246.3 427.8,246 428.9,245.7 430.1,245.5 431.3,245.3 432.4,245.2 433.6,245.1 434.7,245 435.9,245 437.1,245.1 438.2,245.2 439.4,245.3 440.5,245.5 441.7,245.7 442.9,246 444,246.3 445.2,246.6 446.3,247 447.5,247.4 448.7,247.9 449.8,248.3 451,248.7 452.1,249.1 453.3,249.5 454.5,249.9 455.6,250.2 456.8,250.4 457.9,250.6 459.1,250.8 460.3,250.9 461.4,251 462.6,251.1 463.7,251.1 464.9,251.1 466.1,251.1 467.2,251.1 468.4,251.1 469.5,251.1 470.7,251 471.9,251 473,250.9 474.2,250.9 475.4,250.8 476.5,250.8 477.7,250.7 478.8,250.7 480,250.6 481.2,250.6 482.3,250.6 483.5,250.6 484.6,250.6 485.8,250.6 487,250.6 488.1,250.7 489.3,250.7 490.4,250.8 491.6,250.9 492.8,251 493.9,251.1 495.1,251.2 496.2,251.3 497.4,251.4 498.6,251.5 499.7,251.6 500.9,251.7 502,251.8 503.2,252"/><path d="M377.9,251.4 379,251.6 380.2,251.8 381.4,252 382.5,252.2 383.7,252.4 384.8,252.5 386,252.7 387.2,252.9 388.3,253 389.5,253.2 390.6,253.3 391.8,253.4 393,253.5 394.1,253.6 395.3,253.7 396.4,253.8 397.6,253.8 398.8,253.8 399.9,253.8 401.1,253.8 402.2,253.8 403.4,253.7 404.6,253.6 405.7,253.5 406.9,253.3 408,253.2 409.2,253 410.4,252.7 411.5,252.5 412.7,252.2 413.9,251.9 415,251.6 416.2,251.2 417.3,250.9 418.5,250.5 419.7,250.1 420.8,249.6 422,249.2 423.1,248.8 424.3,248.4 425.5,248 426.6,247.6 427.8,247.3 428.9,246.9 430.1,246.6 431.3,246.4 432.4,246.1 433.6,245.9 434.7,245.7 435.9,245.6 437.1,245.5 438.2,245.4 439.4,245.4 440.5,245.4 441.7,245.5 442.9,245.6 444,245.7 445.2,245.8 446.3,246 447.5,246.2 448.7,246.5 449.8,246.7 451,246.9 452.1,247.2 453.3,247.5 454.5,247.7 455.6,247.9 456.8,248.2 457.9,248.4 459.1,248.6 460.3,248.7 461.4,248.9 462.6,249 463.7,249.1 464.9,249.2 466.1,249.3 467.2,249.3 468.4,249.3 469.5,249.3 470.7,249.3 471.9,249.3 473,249.3 474.2,249.2 475.4,249.1 476.5,249.1 477.7,249 478.8,248.9 480,248.9 481.2,248.8 482.3,248.7 483.5,248.7 484.6,248.6 485.8,248.6 487,248.5 488.1,248.5 489.3,248.5 490.4,248.5 491.6,248.5 492.8,248.5 493.9,248.5 495.1,248.5 496.2,248.5 497.4,248.5 498.6,248.5 499.7,248.6 500.9,248.6 502,248.6 503.2,248.6"/><path d="M377.9,252 379,252 380.2,252 381.4,252 382.5,252 383.7,252 384.8,252 386,252.1 387.2,252.1 388.3,252.1 389.5,252.1 390.6,252.1 391.8,252.2 393,252.2 394.1,252.2 395.3,252.2 396.4,252.3 397.6,252.3 398.8,252.4 399.9,252.4 401.1,252.5 402.2,252.5 403.4,252.6 404.6,252.7 405.7,252.7 406.9,252.8 408,252.9 409.2,253 410.4,253.1 411.5,253.2 412.7,253.3 413.9,253.4 415,253.5 416.2,253.5 417.3,253.6 418.5,253.7 419.7,253.8 420.8,253.9 422,254 423.1,254 424.3,254.1 425.5,254.2 426.6,254.2 427.8,254.2 428.9,254.3 430.1,254.3 431.3,254.3 432.4,254.3 433.6,254.3 434.7,254.2 435.9,254.2 437.1,254.2 438.2,254.1 439.4,254.1 440.5,254 441.7,253.9 442.9,253.8 444,253.7 445.2,253.6 446.3,253.5 447.5,253.4 448.7,253.3 449.8,253.2 451,253.1 452.1,252.9 453.3,252.8 454.5,252.6 455.6,252.5 456.8,252.4 457.9,252.2 459.1,252.1 460.3,251.9 461.4,251.8 462.6,251.6 463.7,251.5 464.9,251.4 466.1,251.3 467.2,251.1 468.4,251 469.5,250.9 470.7,250.8 471.9,250.7 473,250.6 474.2,250.5 475.4,250.4 476.5,250.2 477.7,250.1 478.8,250 480,249.9 481.2,249.8 482.3,249.7 483.5,249.5 484.6,249.4 485.8,249.3 487,249.1 488.1,249 489.3,248.8 490.4,248.6 491.6,248.5 492.8,248.3 493.9,248.1 495.1,248 496.2,247.8 497.4,247.6 498.6,247.4 499.7,247.3 500.9,247.1 502,246.9 503.2,246.7"/><path d="M377.9,254.2 379,254.1 380.2,254.1 381.4,254 382.5,254 383.7,253.9 384.8,253.9 386,253.8 387.2,253.8 388.3,253.7 389.5,253.7 390.6,253.7 391.8,253.6 393,253.6 394.1,253.6 395.3,253.5 396.4,253.5 397.6,253.5 398.8,253.5 399.9,253.5 401.1,253.5 402.2,253.5 403.4,253.5 404.6,253.6 405.7,253.6 406.9,253.6 408,253.7 409.2,253.7 410.4,253.8 411.5,253.9 412.7,253.9 413.9,254 415,254.1 416.2,254.2 417.3,254.3 418.5,254.4 419.7,254.5 420.8,254.6 422,254.7 423.1,254.8 424.3,254.9 425.5,255 426.6,255.1 427.8,255.2 428.9,255.3 430.1,255.4 431.3,255.4 432.4,255.5 433.6,255.6 434.7,255.7 435.9,255.8 437.1,255.9 438.2,255.9 439.4,256 440.5,256 441.7,256.1 442.9,256.1 444,256.1 445.2,256.1 446.3,256.1 447.5,256.1 448.7,256.1 449.8,256.1 451,256 452.1,256 453.3,256 454.5,255.9 455.6,255.9 456.8,255.8 457.9,255.8 459.1,255.7 460.3,255.7 461.4,255.6 462.6,255.6 463.7,255.6 464.9,255.6 466.1,255.6 467.2,255.5 468.4,255.6 469.5,255.6 470.7,255.6 471.9,255.6 473,255.6 474.2,255.7 475.4,255.7 476.5,255.7 477.7,255.8 478.8,255.8 480,255.9 481.2,256 482.3,256 483.5,256.1 484.6,256.2 485.8,256.2 487,256.3 488.1,256.4 489.3,256.5 490.4,256.5 491.6,256.6 492.8,256.7 493.9,256.8 495.1,256.9 496.2,257 497.4,257.1 498.6,257.1 499.7,257.2 500.9,257.3 502,257.4 503.2,257.5"/><path d="M377.9,248.6 379,248.8 380.2,249 381.4,249.1 382.5,249.3 383.7,249.5 384.8,249.6 386,249.8 387.2,249.9 388.3,250.1 389.5,250.3 390.6,250.4 391.8,250.6 393,250.7 394.1,250.9 395.3,251 396.4,251.1 397.6,251.3 398.8,251.4 399.9,251.5 401.1,251.7 402.2,251.8 403.4,251.9 404.6,252 405.7,252.1 406.9,252.3 408,252.4 409.2,252.5 410.4,252.6 411.5,252.6 412.7,252.7 413.9,252.8 415,252.9 416.2,253 417.3,253.1 418.5,253.1 419.7,253.2 420.8,253.3 422,253.4 423.1,253.4 424.3,253.5 425.5,253.6 426.6,253.7 427.8,253.7 428.9,253.8 430.1,253.9 431.3,254 432.4,254 433.6,254.1 434.7,254.2 435.9,254.2 437.1,254.3 438.2,254.3 439.4,254.4 440.5,254.4 441.7,254.4 442.9,254.5 444,254.5 445.2,254.5 446.3,254.4 447.5,254.4 448.7,254.4 449.8,254.3 451,254.3 452.1,254.2 453.3,254.2 454.5,254.1 455.6,254 456.8,254 457.9,253.9 459.1,253.9 460.3,253.8 461.4,253.7 462.6,253.7 463.7,253.7 464.9,253.6 466.1,253.6 467.2,253.6 468.4,253.6 469.5,253.6 470.7,253.6 471.9,253.6 473,253.7 474.2,253.7 475.4,253.7 476.5,253.8 477.7,253.8 478.8,253.9 480,254 481.2,254 482.3,254.1 483.5,254.2 484.6,254.2 485.8,254.3 487,254.4 488.1,254.5 489.3,254.5 490.4,254.6 491.6,254.7 492.8,254.8 493.9,254.9 495.1,255 496.2,255 497.4,255.1 498.6,255.2 499.7,255.3 500.9,255.4 502,255.5 503.2,255.6"/><path d="M377.9,252.8 379,252.8 380.2,252.7 381.4,252.7 382.5,252.7 383.7,252.7 384.8,252.6 386,252.6 387.2,252.6 388.3,252.6 389.5,252.5 390.6,252.5 391.8,252.5 393,252.4 394.1,252.4 395.3,252.4 396.4,252.3 397.6,252.3 398.8,252.3 399.9,252.2 401.1,252.2 402.2,252.1 403.4,252.1 404.6,252.1 405.7,252 406.9,252 408,251.9 409.2,251.9 410.4,251.8 411.5,251.8 412.7,251.7 413.9,251.7 415,251.6 416.2,251.6 417.3,251.5 418.5,251.5 419.7,251.5 420.8,251.4 422,251.4 423.1,251.4 424.3,251.4 425.5,251.4 426.6,251.4 427.8,251.4 428.9,251.5 430.1,251.5 431.3,251.6 432.4,251.6 433.6,251.6 434.7,251.7 435.9,251.7 437.1,251.8 438.2,251.8 439.4,251.9 440.5,251.9 441.7,251.9 442.9,252 444,252 445.2,252 446.3,252 447.5,251.9 448.7,251.9 449.8,251.9 451,251.8 452.1,251.8 453.3,251.7 454.5,251.7 455.6,251.6 456.8,251.5 457.9,251.5 459.1,251.4 460.3,251.3 461.4,251.3 462.6,251.2 463.7,251.2 464.9,251.1 466.1,251.1 467.2,251.1 468.4,251 469.5,251 470.7,251 471.9,251 473,251 474.2,251 475.4,251 476.5,251.1 477.7,251.1 478.8,251.1 480,251.2 481.2,251.3 482.3,251.3 483.5,251.4 484.6,251.5 485.8,251.5 487,251.6 488.1,251.7 489.3,251.8 490.4,251.9 491.6,252.1 492.8,252.2 493.9,252.3 495.1,252.4 496.2,252.5 497.4,252.7 498.6,252.8 499.7,252.9 500.9,253.1 502,253.2 503.2,253.4"/></g>
<path d="M377.9,251.1 379,251.3 380.2,251.4 381.4,251.5 382.5,251.6 383.7,251.7 384.8,251.8 386,252 387.2,252.1 388.3,252.2 389.5,252.3 390.6,252.4 391.8,252.5 393,252.6 394.1,252.7 395.3,252.7 396.4,252.8 397.6,252.9 398.8,253 399.9,253 401.1,253.1 402.2,253.2 403.4,253.2 404.6,253.3 405.7,253.3 406.9,253.4 408,253.4 409.2,253.4 410.4,253.5 411.5,253.5 412.7,253.5 413.9,253.5 415,253.6 416.2,253.6 417.3,253.6 418.5,253.6 419.7,253.6 420.8,253.6 422,253.6 423.1,253.6 424.3,253.6 425.5,253.6 426.6,253.6 427.8,253.6 428.9,253.6 430.1,253.6 431.3,253.6 432.4,253.6 433.6,253.6 434.7,253.6 435.9,253.6 437.1,253.5 438.2,253.5 439.4,253.5 440.5,253.5 441.7,253.5 442.9,253.4 444,253.4 445.2,253.4 446.3,253.3 447.5,253.3 448.7,253.2 449.8,253.2 451,253.2 452.1,253.1 453.3,253.1 454.5,253 455.6,253 456.8,252.9 457.9,252.9 459.1,252.8 460.3,252.7 461.4,252.7 462.6,252.6 463.7,252.6 464.9,252.5 466.1,252.4 467.2,252.4 468.4,252.3 469.5,252.3 470.7,252.2 471.9,252.2 473,252.1 474.2,252 475.4,252 476.5,251.9 477.7,251.9 478.8,251.8 480,251.8 481.2,251.8 482.3,251.7 483.5,251.7 484.6,251.7 485.8,251.7 487,251.6 488.1,251.6 489.3,251.6 490.4,251.6 491.6,251.6 492.8,251.6 493.9,251.6 495.1,251.6 496.2,251.6 497.4,251.6 498.6,251.6 499.7,251.7 500.9,251.7 502,251.7 503.2,251.7" fill="none" stroke="#000" stroke-width="2.1" stroke-linecap="round" stroke-linejoin="round"/>
<path d="M417,197.4V200.7 M427.6,197.4V200.7 M435,197.4V200.7 M436.4,197.4V200.7 M438,197.4V200.7 M443.4,197.4V200.7 M447.6,197.4V200.7 M467,197.4V200.7 M474.4,197.4V200.7 M477.2,197.4V200.7 M483.4,197.4V200.7 M503,197.4V200.7 M504,197.4V200.7 M505.2,197.4V200.7" stroke="rgb(200,70,70)" stroke-width="0.95" stroke-opacity="0.8" fill="none"/>
<path d="M503.6,207.4H507.6 M503.6,226.4H507.6 M503.6,238.4H507.6 M503.6,241.6H507.6 M503.6,243H507.6 M503.6,244.6H507.6 M503.6,248H507.6 M503.6,249.4H507.6 M503.6,250.6H507.6 M503.6,267H507.6" stroke="rgb(200,70,70)" stroke-width="1.15" stroke-opacity="0.72" fill="none"/>
<line x1="549" y1="196.2" x2="549" y2="308.5" stroke="#8a8a8a" stroke-width="1"/>
<line x1="549" y1="308.5" x2="678.4" y2="308.5" stroke="#8a8a8a" stroke-width="1"/>
<line x1="546.8" y1="308.2" x2="549" y2="308.2" stroke="#8a8a8a" stroke-width="0.8"/>
<text x="544.1" y="310.6" font-size="6.6" text-anchor="end" fill="#2a2a2a" stroke="#2a2a2a" stroke-width="0.15">-10</text>
<line x1="546.8" y1="299.29" x2="549" y2="299.29" stroke="#8a8a8a" stroke-width="0.8"/>
<text x="544.1" y="301.69" font-size="6.6" text-anchor="end" fill="#2a2a2a" stroke="#2a2a2a" stroke-width="0.15">-8</text>
<line x1="546.8" y1="290.38" x2="549" y2="290.38" stroke="#8a8a8a" stroke-width="0.8"/>
<text x="544.1" y="292.78" font-size="6.6" text-anchor="end" fill="#2a2a2a" stroke="#2a2a2a" stroke-width="0.15">-6</text>
<line x1="546.8" y1="281.48" x2="549" y2="281.48" stroke="#8a8a8a" stroke-width="0.8"/>
<text x="544.1" y="283.88" font-size="6.6" text-anchor="end" fill="#2a2a2a" stroke="#2a2a2a" stroke-width="0.15">-4</text>
<line x1="546.8" y1="272.57" x2="549" y2="272.57" stroke="#8a8a8a" stroke-width="0.8"/>
<text x="544.1" y="274.97" font-size="6.6" text-anchor="end" fill="#2a2a2a" stroke="#2a2a2a" stroke-width="0.15">-2</text>
<line x1="546.8" y1="263.66" x2="549" y2="263.66" stroke="#8a8a8a" stroke-width="0.8"/>
<text x="544.1" y="266.06" font-size="6.6" text-anchor="end" fill="#2a2a2a" stroke="#2a2a2a" stroke-width="0.15">0</text>
<line x1="546.8" y1="254.75" x2="549" y2="254.75" stroke="#8a8a8a" stroke-width="0.8"/>
<text x="544.1" y="257.15" font-size="6.6" text-anchor="end" fill="#2a2a2a" stroke="#2a2a2a" stroke-width="0.15">2</text>
<line x1="546.8" y1="245.84" x2="549" y2="245.84" stroke="#8a8a8a" stroke-width="0.8"/>
<text x="544.1" y="248.24" font-size="6.6" text-anchor="end" fill="#2a2a2a" stroke="#2a2a2a" stroke-width="0.15">4</text>
<line x1="546.8" y1="236.93" x2="549" y2="236.93" stroke="#8a8a8a" stroke-width="0.8"/>
<text x="544.1" y="239.33" font-size="6.6" text-anchor="end" fill="#2a2a2a" stroke="#2a2a2a" stroke-width="0.15">6</text>
<line x1="546.8" y1="228.03" x2="549" y2="228.03" stroke="#8a8a8a" stroke-width="0.8"/>
<text x="544.1" y="230.43" font-size="6.6" text-anchor="end" fill="#2a2a2a" stroke="#2a2a2a" stroke-width="0.15">8</text>
<line x1="546.8" y1="219.12" x2="549" y2="219.12" stroke="#8a8a8a" stroke-width="0.8"/>
<text x="544.1" y="221.52" font-size="6.6" text-anchor="end" fill="#2a2a2a" stroke="#2a2a2a" stroke-width="0.15">10</text>
<line x1="546.8" y1="210.21" x2="549" y2="210.21" stroke="#8a8a8a" stroke-width="0.8"/>
<text x="544.1" y="212.61" font-size="6.6" text-anchor="end" fill="#2a2a2a" stroke="#2a2a2a" stroke-width="0.15">12</text>
<line x1="546.8" y1="201.3" x2="549" y2="201.3" stroke="#8a8a8a" stroke-width="0.8"/>
<text x="544.1" y="203.7" font-size="6.6" text-anchor="end" fill="#2a2a2a" stroke="#2a2a2a" stroke-width="0.15">14</text>
<line x1="549.32" y1="308.5" x2="549.32" y2="310.7" stroke="#8a8a8a" stroke-width="0.8"/>
<text x="549.32" y="318.2" font-size="6.6" text-anchor="middle" fill="#2a2a2a" stroke="#2a2a2a" stroke-width="0.15">-3</text>
<line x1="558.98" y1="308.5" x2="558.98" y2="310.7" stroke="#8a8a8a" stroke-width="0.8"/>
<text x="558.98" y="318.2" font-size="6.6" text-anchor="middle" fill="#2a2a2a" stroke="#2a2a2a" stroke-width="0.15">-2</text>
<line x1="568.64" y1="308.5" x2="568.64" y2="310.7" stroke="#8a8a8a" stroke-width="0.8"/>
<text x="568.64" y="318.2" font-size="6.6" text-anchor="middle" fill="#2a2a2a" stroke="#2a2a2a" stroke-width="0.15">-1</text>
<line x1="578.3" y1="308.5" x2="578.3" y2="310.7" stroke="#8a8a8a" stroke-width="0.8"/>
<text x="578.3" y="318.2" font-size="6.6" text-anchor="middle" fill="#2a2a2a" stroke="#2a2a2a" stroke-width="0.15">0</text>
<line x1="587.96" y1="308.5" x2="587.96" y2="310.7" stroke="#8a8a8a" stroke-width="0.8"/>
<text x="587.96" y="318.2" font-size="6.6" text-anchor="middle" fill="#2a2a2a" stroke="#2a2a2a" stroke-width="0.15">1</text>
<line x1="597.62" y1="308.5" x2="597.62" y2="310.7" stroke="#8a8a8a" stroke-width="0.8"/>
<text x="597.62" y="318.2" font-size="6.6" text-anchor="middle" fill="#2a2a2a" stroke="#2a2a2a" stroke-width="0.15">2</text>
<line x1="607.28" y1="308.5" x2="607.28" y2="310.7" stroke="#8a8a8a" stroke-width="0.8"/>
<text x="607.28" y="318.2" font-size="6.6" text-anchor="middle" fill="#2a2a2a" stroke="#2a2a2a" stroke-width="0.15">3</text>
<line x1="616.94" y1="308.5" x2="616.94" y2="310.7" stroke="#8a8a8a" stroke-width="0.8"/>
<text x="616.94" y="318.2" font-size="6.6" text-anchor="middle" fill="#2a2a2a" stroke="#2a2a2a" stroke-width="0.15">4</text>
<line x1="626.6" y1="308.5" x2="626.6" y2="310.7" stroke="#8a8a8a" stroke-width="0.8"/>
<text x="626.6" y="318.2" font-size="6.6" text-anchor="middle" fill="#2a2a2a" stroke="#2a2a2a" stroke-width="0.15">5</text>
<line x1="636.26" y1="308.5" x2="636.26" y2="310.7" stroke="#8a8a8a" stroke-width="0.8"/>
<text x="636.26" y="318.2" font-size="6.6" text-anchor="middle" fill="#2a2a2a" stroke="#2a2a2a" stroke-width="0.15">6</text>
<line x1="645.92" y1="308.5" x2="645.92" y2="310.7" stroke="#8a8a8a" stroke-width="0.8"/>
<text x="645.92" y="318.2" font-size="6.6" text-anchor="middle" fill="#2a2a2a" stroke="#2a2a2a" stroke-width="0.15">7</text>
<line x1="655.58" y1="308.5" x2="655.58" y2="310.7" stroke="#8a8a8a" stroke-width="0.8"/>
<text x="655.58" y="318.2" font-size="6.6" text-anchor="middle" fill="#2a2a2a" stroke="#2a2a2a" stroke-width="0.15">8</text>
<line x1="665.24" y1="308.5" x2="665.24" y2="310.7" stroke="#8a8a8a" stroke-width="0.8"/>
<text x="665.24" y="318.2" font-size="6.6" text-anchor="middle" fill="#2a2a2a" stroke="#2a2a2a" stroke-width="0.15">9</text>
<line x1="674.9" y1="308.5" x2="674.9" y2="310.7" stroke="#8a8a8a" stroke-width="0.8"/>
<text x="674.9" y="318.2" font-size="6.6" text-anchor="middle" fill="#2a2a2a" stroke="#2a2a2a" stroke-width="0.15">10</text>
<text x="614.6" y="329" font-size="7.3" text-anchor="middle" fill="#222" stroke="#222" stroke-width="0.12" textLength="63.3" lengthAdjust="spacingAndGlyphs">Time from gasp (s)</text>
<line x1="578.3" y1="196.2" x2="578.3" y2="308.5" stroke="#c2c2c2" stroke-width="1" stroke-dasharray="3.8,2.1" stroke-dashoffset="1.5"/>
<text transform="translate(529.1,252.9) rotate(-90)" font-size="7.3" text-anchor="middle" fill="#222" stroke="#222" stroke-width="0.12">PP (mmHg)</text>
<text x="523.8" y="204.5" font-size="12.5" font-weight="bold" fill="#000" stroke="#000" stroke-width="0.3">f</text>
<text x="610.6" y="216" font-size="6.5" fill="#151515" textLength="22.4" lengthAdjust="spacingAndGlyphs"><tspan font-style="italic">P</tspan> = 0.23</text>
<g fill="none" stroke="rgb(80,182,226)" stroke-width="0.9" stroke-opacity="0.74"><path d="M549.3,213.8 550.5,210.9 551.6,208.1 552.8,205.5 554,203.4 555.1,201.7 556.3,200.7 557.4,200.4 558.6,200.9 559.8,202.1 560.9,204 562.1,206.4 563.3,209.2 564.4,212.3 565.6,215.9 566.7,219.9 567.9,224.4 569.1,229.7 570.2,235.8 571.4,242.8 572.5,250.4 573.7,258.2 574.9,265.9 576,272.9 577.2,278.9 578.3,283.7 579.5,287.2 580.7,289.5 581.8,290.4 583,290.1 584.2,288.7 585.3,286.3 586.5,283.2 587.6,279.5 588.8,275.4 590,271 591.1,266.3 592.3,261.4 593.4,256.3 594.6,251 595.8,245.8 596.9,240.6 598.1,235.6 599.2,230.9 600.4,226.7 601.6,223 602.7,219.6 603.9,216.6 605.1,214 606.2,211.7 607.4,209.7 608.5,207.9 609.7,206.4 610.9,205.1 612,204.1 613.2,203.2 614.3,202.5 615.5,202 616.7,201.6 617.8,201.3 619,201.2 620.2,201.1 621.3,201.2 622.5,201.3 623.6,201.4 624.8,201.7 626,201.9 627.1,202.3 628.3,202.7 629.4,203.1 630.6,203.6 631.8,204.1 632.9,204.7 634.1,205.3 635.2,206 636.4,206.7 637.6,207.5 638.7,208.3 639.9,209.2 641.1,210.1 642.2,211.1 643.4,212.2 644.5,213.3 645.7,214.5 646.9,215.9 648,217.3 649.2,218.8 650.3,220.4 651.5,222.2 652.7,224.1 653.8,226.1 655,228.2 656.1,230.4 657.3,232.6 658.5,234.9 659.6,237.3 660.8,239.7 662,242.2 663.1,244.7 664.3,247.2"/><path d="M549.3,239.6 550.5,241.4 551.6,243.3 552.8,245.1 554,247 555.1,248.9 556.3,250.8 557.5,252.8 558.6,254.8 559.8,256.7 560.9,258.5 562.1,260.2 563.3,261.7 564.4,262.9 565.6,263.9 566.8,264.6 567.9,265.1 569.1,265.5 570.2,265.7 571.4,265.7 572.6,265.8 573.7,265.7 574.9,265.7 576.1,265.7 577.2,265.8 578.4,265.9 579.6,266.1 580.7,266.4 581.9,266.7 583,266.8 584.2,266.8 585.4,266.5 586.5,265.9 587.7,264.9 588.9,263.3 590,261.4 591.2,259.2 592.3,256.7 593.5,254.1 594.7,251.4 595.8,248.8 597,246.4 598.2,244.1 599.3,242 600.5,240 601.6,238.2 602.8,236.4 604,234.8 605.1,233.3 606.3,232.1 607.5,231.1 608.6,230.6 609.8,230.4 610.9,230.5 612.1,231 613.3,231.6 614.4,232.3 615.6,233.1 616.8,234 617.9,234.8 619.1,235.7 620.2,236.6 621.4,237.3 622.6,238 623.7,238.7 624.9,239.3 626.1,239.8 627.2,240.3 628.4,240.8 629.6,241.2 630.7,241.6 631.9,242 633,242.3 634.2,242.6 635.4,242.9 636.5,243.2 637.7,243.4 638.9,243.6 640,243.9 641.2,244.1 642.3,244.3 643.5,244.5 644.7,244.7 645.8,244.9 647,245 648.2,245.2 649.3,245.4 650.5,245.6 651.6,245.7 652.8,245.9 654,246.1 655.1,246.2 656.3,246.4 657.5,246.5 658.6,246.7 659.8,246.9 660.9,247 662.1,247.2 663.3,247.4 664.4,247.5 665.6,247.7 666.8,247.8 667.9,248 669.1,248.2 670.2,248.3 671.4,248.5 672.6,248.6 673.7,248.8 674.9,249"/><path d="M549.3,269.4 550.5,268.9 551.6,268.3 552.8,267.7 554,267.2 555.1,266.6 556.3,266 557.5,265.4 558.6,264.9 559.8,264.3 560.9,263.7 562.1,263.2 563.3,262.6 564.4,262.1 565.6,261.5 566.8,261 567.9,260.4 569.1,259.9 570.2,259.3 571.4,258.8 572.6,258.3 573.7,257.7 574.9,257.2 576.1,256.7 577.2,256.1 578.4,255.6 579.6,255.1 580.7,254.5 581.9,253.9 583,253.3 584.2,252.7 585.4,252 586.5,251.3 587.7,250.5 588.9,249.6 590,248.8 591.2,247.9 592.3,247 593.5,246.1 594.7,245.4 595.8,244.7 597,244.1 598.2,243.7 599.3,243.4 600.5,243.2 601.6,243 602.8,243 604,243 605.1,243 606.3,243.1 607.5,243.2 608.6,243.3 609.8,243.4 610.9,243.5 612.1,243.6 613.3,243.8 614.4,244 615.6,244.2 616.8,244.5 617.9,244.8 619.1,245.1 620.2,245.4 621.4,245.8 622.6,246.2 623.7,246.6 624.9,247 626.1,247.4 627.2,247.8 628.4,248.2 629.6,248.6 630.7,249 631.9,249.3 633,249.6 634.2,249.9 635.4,250.1 636.5,250.3 637.7,250.5 638.9,250.7 640,250.8 641.2,250.9 642.3,251 643.5,251.1 644.7,251.1 645.8,251.2 647,251.2 648.2,251.3 649.3,251.3 650.5,251.4 651.6,251.5 652.8,251.6 654,251.6 655.1,251.8 656.3,251.9 657.5,252 658.6,252.2 659.8,252.4 660.9,252.6 662.1,252.9 663.3,253.2 664.4,253.5 665.6,253.8 666.8,254.2 667.9,254.5 669.1,254.9 670.2,255.3 671.4,255.7 672.6,256.1 673.7,256.6 674.9,257"/><path d="M549.3,263.7 550.5,263.8 551.6,264 552.8,264.1 554,264.3 555.1,264.4 556.3,264.5 557.5,264.6 558.6,264.7 559.8,264.8 560.9,264.8 562.1,264.9 563.3,264.9 564.4,264.8 565.6,264.8 566.8,264.7 567.9,264.5 569.1,264.4 570.2,264.2 571.4,263.9 572.6,263.6 573.7,263.3 574.9,262.9 576.1,262.4 577.2,261.9 578.4,261.4 579.6,260.8 580.7,260.1 581.9,259.4 583,258.6 584.2,257.8 585.4,256.9 586.5,256 587.7,255 588.9,254 590,252.9 591.2,251.9 592.3,250.8 593.5,249.8 594.7,248.9 595.8,248 597,247.1 598.2,246.4 599.3,245.8 600.5,245.3 601.6,244.9 602.8,244.5 604,244.3 605.1,244.1 606.3,244.1 607.5,244.1 608.6,244.1 609.8,244.2 610.9,244.4 612.1,244.6 613.3,244.9 614.4,245.2 615.6,245.5 616.8,245.8 617.9,246.1 619.1,246.5 620.2,246.8 621.4,247.2 622.6,247.6 623.7,248 624.9,248.4 626.1,248.8 627.2,249.2 628.4,249.6 629.6,250.1 630.7,250.5 631.9,250.9 633,251.4 634.2,251.8 635.4,252.2 636.5,252.6 637.7,253 638.9,253.3 640,253.7 641.2,254 642.3,254.3 643.5,254.6 644.7,254.9 645.8,255.1 647,255.4 648.2,255.6 649.3,255.8 650.5,256.1 651.6,256.3 652.8,256.5 654,256.7 655.1,256.9 656.3,257.1 657.5,257.3 658.6,257.5 659.8,257.7 660.9,257.9 662.1,258.1 663.3,258.3 664.4,258.4 665.6,258.6 666.8,258.8 667.9,259 669.1,259.2 670.2,259.4 671.4,259.5 672.6,259.7 673.7,259.9 674.9,260.1"/><path d="M549.3,261.4 550.5,261.7 551.6,262 552.8,262.3 554,262.6 555.1,262.9 556.3,263.2 557.5,263.5 558.6,263.8 559.8,264 560.9,264.3 562.1,264.5 563.3,264.8 564.4,265 565.6,265.2 566.8,265.3 567.9,265.5 569.1,265.6 570.2,265.8 571.4,265.8 572.6,265.9 573.7,266 574.9,266 576.1,266 577.2,265.9 578.4,265.9 579.6,265.8 580.7,265.7 581.9,265.5 583,265.3 584.2,265.1 585.4,264.9 586.5,264.6 587.7,264.4 588.9,264.1 590,263.8 591.2,263.5 592.3,263.1 593.5,262.8 594.7,262.4 595.8,262 597,261.6 598.2,261.2 599.3,260.8 600.5,260.4 601.6,260 602.8,259.6 604,259.1 605.1,258.7 606.3,258.2 607.5,257.7 608.6,257.1 609.8,256.6 610.9,256 612.1,255.4 613.3,254.8 614.4,254.1 615.6,253.4 616.8,252.6 617.9,251.9 619.1,251 620.2,250.2 621.4,249.4 622.6,248.5 623.7,247.6 624.9,246.7 626.1,245.9 627.2,245 628.4,244.2 629.6,243.3 630.7,242.6 631.9,241.8 633,241.1 634.2,240.5 635.4,239.9 636.5,239.3 637.7,238.9 638.9,238.5 640,238.2 641.2,237.9 642.3,237.7 643.5,237.6 644.7,237.5 645.8,237.4 647,237.4 648.2,237.5 649.3,237.6 650.5,237.7 651.6,237.9 652.8,238.1 654,238.3 655.1,238.6 656.3,238.9 657.5,239.2 658.6,239.5 659.8,239.9 660.9,240.4 662.1,240.8 663.3,241.3 664.4,241.9 665.6,242.5 666.8,243.1 667.9,243.7 669.1,244.4 670.2,245.1 671.4,245.8 672.6,246.6 673.7,247.3 674.9,248.1"/><path d="M549.3,262.3 550.5,262.7 551.6,263 552.8,263.3 554,263.7 555.1,264 556.3,264.3 557.5,264.6 558.6,264.9 559.8,265.2 560.9,265.5 562.1,265.7 563.3,265.9 564.4,266.1 565.6,266.3 566.8,266.5 567.9,266.6 569.1,266.7 570.2,266.8 571.4,267 572.6,267.1 573.7,267.2 574.9,267.4 576.1,267.6 577.2,267.9 578.4,268.1 579.6,268.5 580.7,268.8 581.9,269.3 583,269.7 584.2,270.2 585.4,270.7 586.5,271.2 587.7,271.8 588.9,272.3 590,272.9 591.2,273.4 592.3,274 593.5,274.5 594.7,275.1 595.8,275.6 597,276.1 598.2,276.5 599.3,277 600.5,277.4 601.6,277.8 602.8,278.2 604,278.5 605.1,278.9 606.3,279.2 607.5,279.5 608.6,279.8 609.8,280.1 610.9,280.3 612.1,280.6 613.3,280.8 614.4,281 615.6,281.3 616.8,281.5 617.9,281.6 619.1,281.8 620.2,282 621.4,282.2 622.6,282.3 623.7,282.5 624.9,282.6 626.1,282.7 627.2,282.9 628.4,283 629.6,283.1 630.7,283.3 631.9,283.4 633,283.5 634.2,283.6 635.4,283.7 636.5,283.9 637.7,284 638.9,284.1 640,284.2 641.2,284.4 642.3,284.5 643.5,284.6 644.7,284.8 645.8,284.9 647,285.1 648.2,285.2 649.3,285.4 650.5,285.5 651.6,285.7 652.8,285.9 654,286.1 655.1,286.3 656.3,286.5 657.5,286.7 658.6,286.9 659.8,287.1 660.9,287.3 662.1,287.5 663.3,287.7 664.4,287.9 665.6,288.1 666.8,288.4 667.9,288.6 669.1,288.8 670.2,289 671.4,289.3 672.6,289.5 673.7,289.7 674.9,289.9"/><path d="M549.3,261 550.5,261 551.6,261.1 552.8,261.1 554,261.2 555.1,261.2 556.3,261.3 557.5,261.3 558.6,261.4 559.8,261.5 560.9,261.5 562.1,261.6 563.3,261.7 564.4,261.8 565.6,261.9 566.8,262 567.9,262.1 569.1,262.3 570.2,262.4 571.4,262.5 572.6,262.7 573.7,262.9 574.9,263.1 576.1,263.2 577.2,263.5 578.4,263.7 579.6,263.9 580.7,264.2 581.9,264.4 583,264.7 584.2,265 585.4,265.3 586.5,265.5 587.7,265.8 588.9,266.1 590,266.4 591.2,266.7 592.3,267 593.5,267.2 594.7,267.5 595.8,267.7 597,268 598.2,268.2 599.3,268.4 600.5,268.6 601.6,268.8 602.8,269 604,269.1 605.1,269.3 606.3,269.4 607.5,269.6 608.6,269.7 609.8,269.8 610.9,269.9 612.1,270 613.3,270.1 614.4,270.2 615.6,270.3 616.8,270.3 617.9,270.4 619.1,270.5 620.2,270.5 621.4,270.6 622.6,270.7 623.7,270.7 624.9,270.8 626.1,270.9 627.2,271 628.4,271 629.6,271.1 630.7,271.2 631.9,271.3 633,271.4 634.2,271.5 635.4,271.6 636.5,271.7 637.7,271.8 638.9,272 640,272.1 641.2,272.3 642.3,272.4 643.5,272.6 644.7,272.8 645.8,272.9 647,273.1 648.2,273.3 649.3,273.5 650.5,273.8 651.6,274 652.8,274.2 654,274.5 655.1,274.7 656.3,275 657.5,275.2 658.6,275.5 659.8,275.8 660.9,276 662.1,276.3 663.3,276.6 664.4,276.9 665.6,277.2 666.8,277.5 667.9,277.8 669.1,278.1 670.2,278.4 671.4,278.7 672.6,279.1 673.7,279.4 674.9,279.7"/><path d="M549.3,263.7 550.5,263.7 551.6,263.7 552.8,263.8 554,263.8 555.1,263.9 556.3,263.9 557.5,264 558.6,264 559.8,264.1 560.9,264.1 562.1,264.2 563.3,264.3 564.4,264.3 565.6,264.4 566.8,264.5 567.9,264.6 569.1,264.7 570.2,264.8 571.4,265 572.6,265.1 573.7,265.2 574.9,265.4 576.1,265.5 577.2,265.7 578.4,265.9 579.6,266.1 580.7,266.3 581.9,266.5 583,266.8 584.2,267 585.4,267.2 586.5,267.5 587.7,267.8 588.9,268 590,268.3 591.2,268.6 592.3,268.9 593.5,269.2 594.7,269.5 595.8,269.8 597,270.2 598.2,270.5 599.3,270.8 600.5,271.1 601.6,271.5 602.8,271.7 604,272 605.1,272.2 606.3,272.4 607.5,272.6 608.6,272.7 609.8,272.7 610.9,272.7 612.1,272.7 613.3,272.7 614.4,272.5 615.6,272.4 616.8,272.3 617.9,272.1 619.1,271.9 620.2,271.7 621.4,271.4 622.6,271.2 623.7,270.9 624.9,270.7 626.1,270.5 627.2,270.2 628.4,270 629.6,269.7 630.7,269.5 631.9,269.3 633,269.1 634.2,268.9 635.4,268.8 636.5,268.6 637.7,268.5 638.9,268.4 640,268.3 641.2,268.2 642.3,268.1 643.5,268.1 644.7,268.1 645.8,268.1 647,268.2 648.2,268.2 649.3,268.3 650.5,268.4 651.6,268.6 652.8,268.8 654,268.9 655.1,269.2 656.3,269.4 657.5,269.6 658.6,269.9 659.8,270.2 660.9,270.5 662.1,270.8 663.3,271.1 664.4,271.4 665.6,271.8 666.8,272.1 667.9,272.5 669.1,272.9 670.2,273.2 671.4,273.6 672.6,274 673.7,274.4 674.9,274.8"/><path d="M549.3,259.2 550.5,259.3 551.6,259.4 552.8,259.5 554,259.6 555.1,259.7 556.3,259.8 557.5,259.9 558.6,259.9 559.8,260 560.9,260.1 562.1,260.2 563.3,260.3 564.4,260.4 565.6,260.5 566.8,260.6 567.9,260.7 569.1,260.8 570.2,260.8 571.4,260.9 572.6,261 573.7,261.1 574.9,261.2 576.1,261.3 577.2,261.4 578.4,261.4 579.6,261.5 580.7,261.6 581.9,261.7 583,261.8 584.2,261.8 585.4,261.9 586.5,262 587.7,262 588.9,262.1 590,262.1 591.2,262.2 592.3,262.2 593.5,262.3 594.7,262.3 595.8,262.3 597,262.3 598.2,262.3 599.3,262.3 600.5,262.3 601.6,262.3 602.8,262.3 604,262.2 605.1,262.2 606.3,262.1 607.5,262.1 608.6,262 609.8,262 610.9,261.9 612.1,261.8 613.3,261.7 614.4,261.6 615.6,261.5 616.8,261.4 617.9,261.3 619.1,261.2 620.2,261.1 621.4,261 622.6,260.9 623.7,260.8 624.9,260.7 626.1,260.5 627.2,260.4 628.4,260.2 629.6,260.1 630.7,260 631.9,259.8 633,259.7 634.2,259.5 635.4,259.3 636.5,259.2 637.7,259 638.9,258.8 640,258.6 641.2,258.5 642.3,258.3 643.5,258.1 644.7,257.9 645.8,257.8 647,257.6 648.2,257.4 649.3,257.3 650.5,257.1 651.6,257 652.8,256.8 654,256.7 655.1,256.6 656.3,256.5 657.5,256.4 658.6,256.3 659.8,256.2 660.9,256.1 662.1,256 663.3,256 664.4,255.9 665.6,255.9 666.8,255.8 667.9,255.8 669.1,255.8 670.2,255.7 671.4,255.7 672.6,255.7 673.7,255.7 674.9,255.6"/><path d="M549.3,265.9 550.5,265.9 551.6,265.8 552.8,265.8 554,265.8 555.1,265.7 556.3,265.7 557.5,265.6 558.6,265.6 559.8,265.5 560.9,265.5 562.1,265.4 563.3,265.4 564.4,265.3 565.6,265.2 566.8,265.1 567.9,265 569.1,264.9 570.2,264.8 571.4,264.7 572.6,264.5 573.7,264.4 574.9,264.2 576.1,264 577.2,263.8 578.4,263.6 579.6,263.4 580.7,263.2 581.9,263 583,262.7 584.2,262.5 585.4,262.2 586.5,261.9 587.7,261.6 588.9,261.4 590,261.1 591.2,260.8 592.3,260.5 593.5,260.2 594.7,259.9 595.8,259.6 597,259.4 598.2,259.1 599.3,258.8 600.5,258.6 601.6,258.3 602.8,258 604,257.8 605.1,257.6 606.3,257.3 607.5,257.1 608.6,256.9 609.8,256.7 610.9,256.5 612.1,256.3 613.3,256.2 614.4,256 615.6,255.8 616.8,255.7 617.9,255.5 619.1,255.4 620.2,255.3 621.4,255.1 622.6,255 623.7,254.9 624.9,254.9 626.1,254.8 627.2,254.7 628.4,254.7 629.6,254.6 630.7,254.6 631.9,254.6 633,254.6 634.2,254.6 635.4,254.6 636.5,254.6 637.7,254.6 638.9,254.6 640,254.6 641.2,254.6 642.3,254.7 643.5,254.7 644.7,254.7 645.8,254.7 647,254.8 648.2,254.8 649.3,254.8 650.5,254.9 651.6,254.9 652.8,254.9 654,255 655.1,255 656.3,255.1 657.5,255.2 658.6,255.3 659.8,255.4 660.9,255.5 662.1,255.6 663.3,255.8 664.4,256 665.6,256.2 666.8,256.4 667.9,256.6 669.1,256.9 670.2,257.1 671.4,257.4 672.6,257.7 673.7,258 674.9,258.3"/></g>
<path d="M549.3,263.2 674.9,263.4" fill="none" stroke="rgb(30,155,212)" stroke-width="1.25"/>
<line x1="578.3" y1="263.5" x2="674.9" y2="263.5" stroke="#7c7c7c" stroke-width="0.85"/>
<path d="M549.3,258.3 550.5,258.7 551.6,259 552.8,259.3 554,259.7 555.1,260 556.3,260.3 557.5,260.6 558.6,260.9 559.8,261.2 560.9,261.4 562.1,261.7 563.3,261.9 564.4,262.1 565.6,262.3 566.8,262.5 567.9,262.6 569.1,262.7 570.2,262.8 571.4,262.9 572.6,263 573.7,263 574.9,263 576.1,263 577.2,263 578.4,263 579.6,262.9 580.7,262.9 581.9,262.8 583,262.7 584.2,262.5 585.4,262.4 586.5,262.2 587.7,262.1 588.9,261.9 590,261.7 591.2,261.5 592.3,261.3 593.5,261.1 594.7,260.9 595.8,260.7 597,260.5 598.2,260.2 599.3,260 600.5,259.7 601.6,259.4 602.8,259.1 604,258.8 605.1,258.5 606.3,258.2 607.5,257.9 608.6,257.7 609.8,257.5 610.9,257.3 612.1,257.3 613.3,257.2 614.4,257.3 615.6,257.3 616.8,257.4 617.9,257.5 619.1,257.6 620.2,257.7 621.4,257.8 622.6,257.9 623.7,258 624.9,258.1 626.1,258.1 627.2,258.1 628.4,258.2 629.6,258.2 630.7,258.2 631.9,258.2 633,258.2 634.2,258.3 635.4,258.3 636.5,258.3 637.7,258.3 638.9,258.4 640,258.4 641.2,258.5 642.3,258.6 643.5,258.6 644.7,258.7 645.8,258.8 647,258.9 648.2,259 649.3,259.1 650.5,259.2 651.6,259.3 652.8,259.4 654,259.5 655.1,259.6 656.3,259.8 657.5,259.9 658.6,260.1 659.8,260.3 660.9,260.5 662.1,260.7 663.3,261 664.4,261.2 665.6,261.5 666.8,261.8 667.9,262.2 669.1,262.6 670.2,262.9 671.4,263.3 672.6,263.7 673.7,264.1 674.9,264.5" fill="none" stroke="#000" stroke-width="2.1" stroke-linecap="round" stroke-linejoin="round"/>
<path d="M586.5,197.4V200.7 M596.4,197.4V200.7 M603.5,197.4V200.7 M609.3,197.4V200.7 M620.6,197.4V200.7 M624.5,197.4V200.7 M638.5,197.4V200.7 M646.9,197.4V200.7 M649,197.4V200.7 M665.8,197.4V200.7" stroke="rgb(200,70,70)" stroke-width="0.95" stroke-opacity="0.8" fill="none"/>
<path d="M675.3,208.9H679.3 M675.3,217.1H679.3 M675.3,222.8H679.3 M675.3,230.7H679.3 M675.3,233.4H679.3 M675.3,234.1H679.3 M675.3,239.9H679.3 M675.3,250.4H679.3 M675.3,254.4H679.3 M675.3,260.4H679.3 M675.3,270.1H679.3" stroke="rgb(200,70,70)" stroke-width="1.15" stroke-opacity="0.72" fill="none"/>
<line x1="35" y1="344.7" x2="35" y2="454.5" stroke="#8a8a8a" stroke-width="1"/>
<line x1="35" y1="454.5" x2="164.4" y2="454.5" stroke="#8a8a8a" stroke-width="1"/>
<line x1="32.8" y1="452.6" x2="35" y2="452.6" stroke="#8a8a8a" stroke-width="0.8"/>
<text x="30.1" y="455" font-size="6.6" text-anchor="end" fill="#2a2a2a" stroke="#2a2a2a" stroke-width="0.15">-20</text>
<line x1="32.8" y1="442.34" x2="35" y2="442.34" stroke="#8a8a8a" stroke-width="0.8"/>
<text x="30.1" y="444.74" font-size="6.6" text-anchor="end" fill="#2a2a2a" stroke="#2a2a2a" stroke-width="0.15">-15</text>
<line x1="32.8" y1="432.08" x2="35" y2="432.08" stroke="#8a8a8a" stroke-width="0.8"/>
<text x="30.1" y="434.48" font-size="6.6" text-anchor="end" fill="#2a2a2a" stroke="#2a2a2a" stroke-width="0.15">-10</text>
<line x1="32.8" y1="421.82" x2="35" y2="421.82" stroke="#8a8a8a" stroke-width="0.8"/>
<text x="30.1" y="424.22" font-size="6.6" text-anchor="end" fill="#2a2a2a" stroke="#2a2a2a" stroke-width="0.15">-5</text>
<line x1="32.8" y1="411.56" x2="35" y2="411.56" stroke="#8a8a8a" stroke-width="0.8"/>
<text x="30.1" y="413.96" font-size="6.6" text-anchor="end" fill="#2a2a2a" stroke="#2a2a2a" stroke-width="0.15">0</text>
<line x1="32.8" y1="401.3" x2="35" y2="401.3" stroke="#8a8a8a" stroke-width="0.8"/>
<text x="30.1" y="403.7" font-size="6.6" text-anchor="end" fill="#2a2a2a" stroke="#2a2a2a" stroke-width="0.15">5</text>
<line x1="32.8" y1="391.04" x2="35" y2="391.04" stroke="#8a8a8a" stroke-width="0.8"/>
<text x="30.1" y="393.44" font-size="6.6" text-anchor="end" fill="#2a2a2a" stroke="#2a2a2a" stroke-width="0.15">10</text>
<line x1="32.8" y1="380.78" x2="35" y2="380.78" stroke="#8a8a8a" stroke-width="0.8"/>
<text x="30.1" y="383.18" font-size="6.6" text-anchor="end" fill="#2a2a2a" stroke="#2a2a2a" stroke-width="0.15">15</text>
<line x1="32.8" y1="370.52" x2="35" y2="370.52" stroke="#8a8a8a" stroke-width="0.8"/>
<text x="30.1" y="372.92" font-size="6.6" text-anchor="end" fill="#2a2a2a" stroke="#2a2a2a" stroke-width="0.15">20</text>
<line x1="32.8" y1="360.26" x2="35" y2="360.26" stroke="#8a8a8a" stroke-width="0.8"/>
<text x="30.1" y="362.66" font-size="6.6" text-anchor="end" fill="#2a2a2a" stroke="#2a2a2a" stroke-width="0.15">25</text>
<line x1="32.8" y1="350" x2="35" y2="350" stroke="#8a8a8a" stroke-width="0.8"/>
<text x="30.1" y="352.4" font-size="6.6" text-anchor="end" fill="#2a2a2a" stroke="#2a2a2a" stroke-width="0.15">30</text>
<line x1="35.19" y1="454.5" x2="35.19" y2="456.7" stroke="#8a8a8a" stroke-width="0.8"/>
<text x="35.19" y="464.2" font-size="6.6" text-anchor="middle" fill="#2a2a2a" stroke="#2a2a2a" stroke-width="0.15">-3</text>
<line x1="44.86" y1="454.5" x2="44.86" y2="456.7" stroke="#8a8a8a" stroke-width="0.8"/>
<text x="44.86" y="464.2" font-size="6.6" text-anchor="middle" fill="#2a2a2a" stroke="#2a2a2a" stroke-width="0.15">-2</text>
<line x1="54.53" y1="454.5" x2="54.53" y2="456.7" stroke="#8a8a8a" stroke-width="0.8"/>
<text x="54.53" y="464.2" font-size="6.6" text-anchor="middle" fill="#2a2a2a" stroke="#2a2a2a" stroke-width="0.15">-1</text>
<line x1="64.2" y1="454.5" x2="64.2" y2="456.7" stroke="#8a8a8a" stroke-width="0.8"/>
<text x="64.2" y="464.2" font-size="6.6" text-anchor="middle" fill="#2a2a2a" stroke="#2a2a2a" stroke-width="0.15">0</text>
<line x1="73.87" y1="454.5" x2="73.87" y2="456.7" stroke="#8a8a8a" stroke-width="0.8"/>
<text x="73.87" y="464.2" font-size="6.6" text-anchor="middle" fill="#2a2a2a" stroke="#2a2a2a" stroke-width="0.15">1</text>
<line x1="83.54" y1="454.5" x2="83.54" y2="456.7" stroke="#8a8a8a" stroke-width="0.8"/>
<text x="83.54" y="464.2" font-size="6.6" text-anchor="middle" fill="#2a2a2a" stroke="#2a2a2a" stroke-width="0.15">2</text>
<line x1="93.21" y1="454.5" x2="93.21" y2="456.7" stroke="#8a8a8a" stroke-width="0.8"/>
<text x="93.21" y="464.2" font-size="6.6" text-anchor="middle" fill="#2a2a2a" stroke="#2a2a2a" stroke-width="0.15">3</text>
<line x1="102.88" y1="454.5" x2="102.88" y2="456.7" stroke="#8a8a8a" stroke-width="0.8"/>
<text x="102.88" y="464.2" font-size="6.6" text-anchor="middle" fill="#2a2a2a" stroke="#2a2a2a" stroke-width="0.15">4</text>
<line x1="112.55" y1="454.5" x2="112.55" y2="456.7" stroke="#8a8a8a" stroke-width="0.8"/>
<text x="112.55" y="464.2" font-size="6.6" text-anchor="middle" fill="#2a2a2a" stroke="#2a2a2a" stroke-width="0.15">5</text>
<line x1="122.22" y1="454.5" x2="122.22" y2="456.7" stroke="#8a8a8a" stroke-width="0.8"/>
<text x="122.22" y="464.2" font-size="6.6" text-anchor="middle" fill="#2a2a2a" stroke="#2a2a2a" stroke-width="0.15">6</text>
<line x1="131.89" y1="454.5" x2="131.89" y2="456.7" stroke="#8a8a8a" stroke-width="0.8"/>
<text x="131.89" y="464.2" font-size="6.6" text-anchor="middle" fill="#2a2a2a" stroke="#2a2a2a" stroke-width="0.15">7</text>
<line x1="141.56" y1="454.5" x2="141.56" y2="456.7" stroke="#8a8a8a" stroke-width="0.8"/>
<text x="141.56" y="464.2" font-size="6.6" text-anchor="middle" fill="#2a2a2a" stroke="#2a2a2a" stroke-width="0.15">8</text>
<line x1="151.23" y1="454.5" x2="151.23" y2="456.7" stroke="#8a8a8a" stroke-width="0.8"/>
<text x="151.23" y="464.2" font-size="6.6" text-anchor="middle" fill="#2a2a2a" stroke="#2a2a2a" stroke-width="0.15">9</text>
<line x1="160.9" y1="454.5" x2="160.9" y2="456.7" stroke="#8a8a8a" stroke-width="0.8"/>
<text x="160.9" y="464.2" font-size="6.6" text-anchor="middle" fill="#2a2a2a" stroke="#2a2a2a" stroke-width="0.15">10</text>
<text x="100.6" y="475" font-size="7.3" text-anchor="middle" fill="#222" stroke="#222" stroke-width="0.12" textLength="63.3" lengthAdjust="spacingAndGlyphs">Time from gasp (s)</text>
<line x1="64.2" y1="344.7" x2="64.2" y2="454.5" stroke="#c2c2c2" stroke-width="1" stroke-dasharray="3.8,2.1" stroke-dashoffset="1.5"/>
<text transform="translate(14.1,399.1) rotate(-90)" font-size="7.3" text-anchor="middle" fill="#222" stroke="#222" stroke-width="0.12">MCAv (cm s<tspan font-size="5" dy="-2.8">−1</tspan><tspan dy="2.8"></tspan>)</text>
<text x="-0.6" y="350.6" font-size="12.5" font-weight="bold" fill="#000" stroke="#000" stroke-width="0.3">g</text>
<text x="95.4" y="365.7" font-size="6.5" fill="#151515" textLength="22.3" lengthAdjust="spacingAndGlyphs"><tspan font-style="italic">P</tspan> = 0.02</text>
<g fill="none" stroke="rgb(80,182,226)" stroke-width="0.9" stroke-opacity="0.74"><path d="M35.2,417.7 36.4,417.2 37.5,416.6 38.7,416.1 39.8,415.5 41,414.9 42.2,414.2 43.3,413.6 44.5,412.8 45.7,412 46.8,411.2 48,410.3 49.2,409.3 50.3,408.3 51.5,407.3 52.6,406.2 53.8,405.1 55,403.9 56.1,402.7 57.3,401.5 58.5,400.3 59.6,399 60.8,397.7 62,396.4 63.1,395 64.3,393.6 65.5,392.2 66.6,390.8 67.8,389.4 68.9,388 70.1,386.6 71.3,385.4 72.4,384.2 73.6,383.1 74.8,382.1 75.9,381.2 77.1,380.5 78.3,379.9 79.4,379.3 80.6,378.9 81.7,378.6 82.9,378.4 84.1,378.3 85.2,378.3 86.4,378.3 87.6,378.5 88.7,378.8 89.9,379.2 91.1,379.7 92.2,380.3 93.4,381 94.6,381.9 95.7,382.9 96.9,384.2 98,385.6 99.2,387.3 100.4,389.2 101.5,391.4 102.7,393.6 103.9,395.9 105,398.2 106.2,400.4 107.4,402.5 108.5,404.4 109.7,406.1 110.8,407.6 112,408.9 113.2,410.1 114.3,411 115.5,411.7 116.7,412.3 117.8,412.7 119,413.1 120.2,413.3 121.3,413.5 122.5,413.6 123.7,413.6 124.8,413.6 126,413.6 127.1,413.6 128.3,413.6 129.5,413.7 130.6,413.7 131.8,413.8 133,413.9 134.1,414 135.3,414.1 136.5,414.2 137.6,414.3 138.8,414.4 139.9,414.5 141.1,414.6 142.3,414.7 143.4,414.8 144.6,414.9 145.8,415 146.9,415 148.1,415.1 149.3,415.2 150.4,415.2 151.6,415.3 152.8,415.3 153.9,415.4 155.1,415.4 156.2,415.5 157.4,415.5 158.6,415.6 159.7,415.6 160.9,415.7"/><path d="M35.2,411.6 36.4,411.5 37.5,411.5 38.7,411.5 39.8,411.5 41,411.5 42.2,411.4 43.3,411.4 44.5,411.4 45.7,411.4 46.8,411.3 48,411.3 49.2,411.3 50.3,411.2 51.5,411.2 52.6,411.2 53.8,411.1 55,411.1 56.1,411 57.3,411 58.5,410.9 59.6,410.8 60.8,410.8 62,410.7 63.1,410.6 64.3,410.5 65.5,410.4 66.6,410.3 67.8,410.2 68.9,410.1 70.1,410 71.3,409.9 72.4,409.8 73.6,409.7 74.8,409.5 75.9,409.4 77.1,409.3 78.3,409.1 79.4,409 80.6,408.9 81.7,408.7 82.9,408.6 84.1,408.4 85.2,408.3 86.4,408.1 87.6,407.9 88.7,407.8 89.9,407.6 91.1,407.3 92.2,407.1 93.4,406.8 94.6,406.5 95.7,406.2 96.9,405.8 98,405.4 99.2,404.9 100.4,404.4 101.5,403.8 102.7,403 103.9,402 105,400.8 106.2,399.4 107.4,397.8 108.5,395.8 109.7,393.6 110.8,391.2 112,388.8 113.2,386.4 114.3,384.1 115.5,382 116.7,380.1 117.8,378.4 119,376.9 120.2,375.7 121.3,374.8 122.5,374.1 123.7,373.7 124.8,373.5 126,373.6 127.1,373.9 128.3,374.3 129.5,374.9 130.6,375.5 131.8,376.2 133,377 134.1,377.9 135.3,378.9 136.5,380 137.6,381.2 138.8,382.4 139.9,383.8 141.1,385.1 142.3,386.6 143.4,388.1 144.6,389.6 145.8,391.1 146.9,392.7 148.1,394.2 149.3,395.7 150.4,397.2 151.6,398.6 152.8,400.1 153.9,401.5 155.1,402.8 156.2,404.2 157.4,405.5 158.6,406.9 159.7,408.2 160.9,409.5"/><path d="M35.2,410.5 36.4,410.5 37.5,410.6 38.7,410.6 39.8,410.6 41,410.6 42.2,410.6 43.3,410.6 44.5,410.6 45.7,410.6 46.8,410.5 48,410.5 49.2,410.5 50.3,410.5 51.5,410.4 52.6,410.4 53.8,410.3 55,410.3 56.1,410.2 57.3,410.2 58.5,410.1 59.6,410 60.8,409.9 62,409.8 63.1,409.6 64.3,409.5 65.5,409.3 66.6,409.2 67.8,409 68.9,408.8 70.1,408.6 71.3,408.4 72.4,408.2 73.6,408 74.8,407.7 75.9,407.4 77.1,407.2 78.3,406.9 79.4,406.6 80.6,406.3 81.7,405.9 82.9,405.6 84.1,405.2 85.2,404.9 86.4,404.5 87.6,404 88.7,403.6 89.9,403.1 91.1,402.5 92.2,401.9 93.4,401.2 94.6,400.4 95.7,399.6 96.9,398.7 98,397.8 99.2,396.7 100.4,395.6 101.5,394.5 102.7,393.3 103.9,392 105,390.7 106.2,389.4 107.4,388.1 108.5,386.8 109.7,385.6 110.8,384.5 112,383.5 113.2,382.6 114.3,381.9 115.5,381.2 116.7,380.6 117.8,380.1 119,379.7 120.2,379.3 121.3,379 122.5,378.7 123.7,378.3 124.8,378.1 126,377.8 127.1,377.5 128.3,377.3 129.5,377.1 130.6,377 131.8,376.9 133,376.8 134.1,376.8 135.3,376.9 136.5,377 137.6,377.1 138.8,377.3 139.9,377.6 141.1,377.9 142.3,378.2 143.4,378.6 144.6,379 145.8,379.5 146.9,380 148.1,380.5 149.3,381.1 150.4,381.6 151.6,382.2 152.8,382.9 153.9,383.5 155.1,384.1 156.2,384.8 157.4,385.5 158.6,386.2 159.7,386.9 160.9,387.6"/><path d="M35.2,413.6 36.4,413.5 37.5,413.3 38.7,413.2 39.8,413.1 41,413 42.2,412.8 43.3,412.7 44.5,412.6 45.7,412.6 46.8,412.5 48,412.4 49.2,412.4 50.3,412.3 51.5,412.3 52.6,412.3 53.8,412.3 55,412.4 56.1,412.4 57.3,412.5 58.5,412.7 59.6,412.8 60.8,413 62,413.2 63.1,413.4 64.3,413.6 65.5,413.9 66.6,414.3 67.8,414.6 68.9,415 70.1,415.5 71.3,416.1 72.4,416.7 73.6,417.3 74.8,418.1 75.9,418.9 77.1,419.8 78.3,420.7 79.4,421.6 80.6,422.6 81.7,423.5 82.9,424.4 84.1,425.3 85.2,426.1 86.4,426.9 87.6,427.6 88.7,428.2 89.9,428.7 91.1,429 92.2,429.3 93.4,429.4 94.6,429.4 95.7,429.3 96.9,429 98,428.7 99.2,428.3 100.4,427.9 101.5,427.4 102.7,427 103.9,426.6 105,426.2 106.2,425.9 107.4,425.5 108.5,425.2 109.7,424.8 110.8,424.4 112,424 113.2,423.6 114.3,423.1 115.5,422.6 116.7,422.1 117.8,421.6 119,421.1 120.2,420.6 121.3,420.1 122.5,419.7 123.7,419.3 124.8,418.9 126,418.6 127.1,418.3 128.3,418.1 129.5,417.9 130.6,417.8 131.8,417.6 133,417.5 134.1,417.5 135.3,417.5 136.5,417.5 137.6,417.5 138.8,417.5 139.9,417.6 141.1,417.7 142.3,417.8 143.4,417.9 144.6,418.1 145.8,418.2 146.9,418.4 148.1,418.6 149.3,418.8 150.4,419 151.6,419.2 152.8,419.4 153.9,419.7 155.1,419.9 156.2,420.2 157.4,420.4 158.6,420.7 159.7,420.9 160.9,421.2"/><path d="M35.2,411.6 36.4,411.5 37.5,411.5 38.7,411.4 39.8,411.4 41,411.4 42.2,411.3 43.3,411.3 44.5,411.3 45.7,411.2 46.8,411.2 48,411.1 49.2,411.1 50.3,411.1 51.5,411 52.6,411 53.8,410.9 55,410.9 56.1,410.8 57.3,410.8 58.5,410.8 59.6,410.7 60.8,410.7 62,410.6 63.1,410.6 64.3,410.5 65.5,410.5 66.6,410.4 67.8,410.4 68.9,410.3 70.1,410.3 71.3,410.2 72.4,410.2 73.6,410.1 74.8,410 75.9,410 77.1,409.9 78.3,409.8 79.4,409.8 80.6,409.7 81.7,409.6 82.9,409.6 84.1,409.5 85.2,409.4 86.4,409.3 87.6,409.2 88.7,409.1 89.9,409 91.1,408.9 92.2,408.8 93.4,408.7 94.6,408.5 95.7,408.4 96.9,408.3 98,408.1 99.2,408 100.4,407.8 101.5,407.7 102.7,407.5 103.9,407.3 105,407.1 106.2,406.9 107.4,406.7 108.5,406.5 109.7,406.3 110.8,406 112,405.8 113.2,405.5 114.3,405.3 115.5,405 116.7,404.8 117.8,404.5 119,404.2 120.2,403.9 121.3,403.6 122.5,403.3 123.7,403 124.8,402.6 126,402.3 127.1,402 128.3,401.6 129.5,401.3 130.6,400.9 131.8,400.5 133,400.1 134.1,399.8 135.3,399.4 136.5,399 137.6,398.6 138.8,398.2 139.9,397.8 141.1,397.4 142.3,396.9 143.4,396.5 144.6,396.1 145.8,395.7 146.9,395.2 148.1,394.8 149.3,394.3 150.4,393.9 151.6,393.4 152.8,393 153.9,392.5 155.1,392.1 156.2,391.6 157.4,391.2 158.6,390.7 159.7,390.3 160.9,389.8"/><path d="M35.2,407.5 36.4,407.9 37.5,408.3 38.7,408.7 39.8,409.1 41,409.4 42.2,409.8 43.3,410.1 44.5,410.4 45.7,410.7 46.8,411 48,411.2 49.2,411.4 50.3,411.5 51.5,411.7 52.6,411.8 53.8,411.9 55,411.9 56.1,412 57.3,412 58.5,412 59.6,411.9 60.8,411.9 62,411.8 63.1,411.7 64.3,411.5 65.5,411.4 66.6,411.3 67.8,411.1 68.9,410.9 70.1,410.7 71.3,410.5 72.4,410.2 73.6,410 74.8,409.7 75.9,409.4 77.1,409.2 78.3,408.9 79.4,408.6 80.6,408.3 81.7,407.9 82.9,407.6 84.1,407.3 85.2,407 86.4,406.7 87.6,406.3 88.7,406 89.9,405.6 91.1,405.3 92.2,404.9 93.4,404.6 94.6,404.2 95.7,403.8 96.9,403.4 98,403 99.2,402.6 100.4,402.2 101.5,401.8 102.7,401.4 103.9,400.9 105,400.5 106.2,400 107.4,399.6 108.5,399.2 109.7,398.8 110.8,398.4 112,398 113.2,397.7 114.3,397.4 115.5,397.2 116.7,397 117.8,396.8 119,396.6 120.2,396.5 121.3,396.4 122.5,396.4 123.7,396.3 124.8,396.3 126,396.3 127.1,396.3 128.3,396.3 129.5,396.3 130.6,396.3 131.8,396.4 133,396.4 134.1,396.4 135.3,396.5 136.5,396.5 137.6,396.5 138.8,396.6 139.9,396.6 141.1,396.6 142.3,396.7 143.4,396.7 144.6,396.7 145.8,396.8 146.9,396.8 148.1,396.8 149.3,396.9 150.4,396.9 151.6,396.9 152.8,397 153.9,397 155.1,397 156.2,397.1 157.4,397.1 158.6,397.1 159.7,397.2 160.9,397.2"/><path d="M35.2,405.4 36.4,406.1 37.5,406.8 38.7,407.4 39.8,408.1 41,408.7 42.2,409.3 43.3,409.9 44.5,410.4 45.7,410.9 46.8,411.3 48,411.6 49.2,412 50.3,412.2 51.5,412.5 52.6,412.7 53.8,412.8 55,412.9 56.1,413 57.3,413 58.5,413 59.6,413 60.8,412.9 62,412.8 63.1,412.7 64.3,412.6 65.5,412.4 66.6,412.2 67.8,412 68.9,411.7 70.1,411.5 71.3,411.2 72.4,410.9 73.6,410.6 74.8,410.2 75.9,409.9 77.1,409.5 78.3,409.2 79.4,408.8 80.6,408.4 81.7,408.1 82.9,407.7 84.1,407.3 85.2,406.9 86.4,406.5 87.6,406.1 88.7,405.7 89.9,405.4 91.1,405 92.2,404.6 93.4,404.3 94.6,404 95.7,403.7 96.9,403.4 98,403.1 99.2,402.9 100.4,402.7 101.5,402.5 102.7,402.3 103.9,402.2 105,402.1 106.2,402.1 107.4,402 108.5,402 109.7,402 110.8,402.1 112,402.1 113.2,402.2 114.3,402.3 115.5,402.4 116.7,402.6 117.8,402.7 119,402.9 120.2,403 121.3,403.2 122.5,403.4 123.7,403.6 124.8,403.8 126,404 127.1,404.1 128.3,404.3 129.5,404.5 130.6,404.7 131.8,404.8 133,405 134.1,405.1 135.3,405.2 136.5,405.3 137.6,405.4 138.8,405.4 139.9,405.4 141.1,405.4 142.3,405.4 143.4,405.3 144.6,405.2 145.8,405.1 146.9,404.9 148.1,404.7 149.3,404.5 150.4,404.3 151.6,404 152.8,403.8 153.9,403.5 155.1,403.2 156.2,402.9 157.4,402.6 158.6,402.3 159.7,402 160.9,401.7"/><path d="M35.2,413.6 36.4,413.7 37.5,413.7 38.7,413.8 39.8,413.8 41,413.9 42.2,413.9 43.3,414 44.5,414 45.7,414 46.8,414.1 48,414.1 49.2,414.2 50.3,414.2 51.5,414.3 52.6,414.3 53.8,414.3 55,414.4 56.1,414.4 57.3,414.5 58.5,414.5 59.6,414.5 60.8,414.6 62,414.6 63.1,414.6 64.3,414.6 65.5,414.7 66.6,414.7 67.8,414.7 68.9,414.7 70.1,414.7 71.3,414.8 72.4,414.8 73.6,414.8 74.8,414.8 75.9,414.9 77.1,414.9 78.3,414.9 79.4,414.9 80.6,415 81.7,415 82.9,415.1 84.1,415.1 85.2,415.2 86.4,415.2 87.6,415.3 88.7,415.3 89.9,415.4 91.1,415.5 92.2,415.6 93.4,415.7 94.6,415.8 95.7,415.9 96.9,416 98,416.1 99.2,416.3 100.4,416.4 101.5,416.5 102.7,416.6 103.9,416.8 105,416.9 106.2,417 107.4,417.2 108.5,417.3 109.7,417.4 110.8,417.5 112,417.7 113.2,417.8 114.3,417.9 115.5,418 116.7,418.1 117.8,418.1 119,418.2 120.2,418.3 121.3,418.4 122.5,418.4 123.7,418.5 124.8,418.5 126,418.6 127.1,418.6 128.3,418.7 129.5,418.7 130.6,418.7 131.8,418.7 133,418.8 134.1,418.8 135.3,418.8 136.5,418.8 137.6,418.8 138.8,418.8 139.9,418.8 141.1,418.8 142.3,418.8 143.4,418.8 144.6,418.7 145.8,418.7 146.9,418.7 148.1,418.7 149.3,418.6 150.4,418.6 151.6,418.6 152.8,418.6 153.9,418.5 155.1,418.5 156.2,418.5 157.4,418.4 158.6,418.4 159.7,418.4 160.9,418.3"/><path d="M35.2,409.5 36.4,409.8 37.5,410 38.7,410.3 39.8,410.6 41,410.8 42.2,411.1 43.3,411.4 44.5,411.6 45.7,411.9 46.8,412.1 48,412.4 49.2,412.7 50.3,412.9 51.5,413.2 52.6,413.4 53.8,413.6 55,413.9 56.1,414.1 57.3,414.4 58.5,414.6 59.6,414.8 60.8,415 62,415.3 63.1,415.5 64.3,415.7 65.5,415.9 66.6,416.1 67.8,416.3 68.9,416.5 70.1,416.6 71.3,416.8 72.4,417 73.6,417.1 74.8,417.2 75.9,417.3 77.1,417.4 78.3,417.5 79.4,417.6 80.6,417.7 81.7,417.7 82.9,417.7 84.1,417.7 85.2,417.7 86.4,417.7 87.6,417.6 88.7,417.5 89.9,417.5 91.1,417.4 92.2,417.3 93.4,417.2 94.6,417.1 95.7,417 96.9,416.9 98,416.9 99.2,416.8 100.4,416.8 101.5,416.7 102.7,416.7 103.9,416.7 105,416.7 106.2,416.7 107.4,416.8 108.5,416.8 109.7,416.9 110.8,417 112,417.1 113.2,417.1 114.3,417.2 115.5,417.3 116.7,417.4 117.8,417.5 119,417.6 120.2,417.6 121.3,417.7 122.5,417.7 123.7,417.8 124.8,417.8 126,417.8 127.1,417.8 128.3,417.7 129.5,417.7 130.6,417.7 131.8,417.6 133,417.5 134.1,417.4 135.3,417.4 136.5,417.3 137.6,417.1 138.8,417 139.9,416.9 141.1,416.7 142.3,416.6 143.4,416.4 144.6,416.3 145.8,416.1 146.9,415.9 148.1,415.7 149.3,415.5 150.4,415.3 151.6,415.1 152.8,414.9 153.9,414.7 155.1,414.5 156.2,414.3 157.4,414.1 158.6,413.8 159.7,413.6 160.9,413.4"/><path d="M35.2,411.6 36.4,411.5 37.5,411.5 38.7,411.4 39.8,411.4 41,411.3 42.2,411.3 43.3,411.2 44.5,411.2 45.7,411.1 46.8,411 48,411 49.2,410.9 50.3,410.8 51.5,410.7 52.6,410.7 53.8,410.6 55,410.5 56.1,410.4 57.3,410.3 58.5,410.2 59.6,410 60.8,409.9 62,409.8 63.1,409.6 64.3,409.5 65.5,409.3 66.6,409.2 67.8,409 68.9,408.8 70.1,408.6 71.3,408.5 72.4,408.3 73.6,408.1 74.8,407.9 75.9,407.7 77.1,407.5 78.3,407.3 79.4,407.1 80.6,406.9 81.7,406.7 82.9,406.5 84.1,406.3 85.2,406.2 86.4,406 87.6,405.9 88.7,405.7 89.9,405.6 91.1,405.5 92.2,405.4 93.4,405.4 94.6,405.4 95.7,405.4 96.9,405.5 98,405.5 99.2,405.6 100.4,405.7 101.5,405.8 102.7,406 103.9,406.1 105,406.3 106.2,406.5 107.4,406.7 108.5,406.8 109.7,407 110.8,407.2 112,407.4 113.2,407.5 114.3,407.7 115.5,407.9 116.7,408 117.8,408.2 119,408.3 120.2,408.4 121.3,408.6 122.5,408.7 123.7,408.8 124.8,408.9 126,409 127.1,409.1 128.3,409.2 129.5,409.3 130.6,409.4 131.8,409.5 133,409.6 134.1,409.7 135.3,409.8 136.5,409.8 137.6,409.9 138.8,410 139.9,410.1 141.1,410.1 142.3,410.2 143.4,410.3 144.6,410.3 145.8,410.4 146.9,410.5 148.1,410.5 149.3,410.6 150.4,410.6 151.6,410.7 152.8,410.8 153.9,410.8 155.1,410.9 156.2,410.9 157.4,411 158.6,411 159.7,411.1 160.9,411.1"/><path d="M35.2,415.7 36.4,415.5 37.5,415.3 38.7,415.2 39.8,415 41,414.9 42.2,414.7 43.3,414.5 44.5,414.4 45.7,414.2 46.8,414.1 48,413.9 49.2,413.7 50.3,413.6 51.5,413.4 52.6,413.2 53.8,413.1 55,412.9 56.1,412.7 57.3,412.6 58.5,412.4 59.6,412.2 60.8,412.1 62,411.9 63.1,411.7 64.3,411.5 65.5,411.4 66.6,411.2 67.8,411 68.9,410.8 70.1,410.7 71.3,410.5 72.4,410.3 73.6,410.1 74.8,409.9 75.9,409.7 77.1,409.6 78.3,409.4 79.4,409.2 80.6,409 81.7,408.8 82.9,408.6 84.1,408.4 85.2,408.2 86.4,408 87.6,407.8 88.7,407.6 89.9,407.4 91.1,407.2 92.2,407 93.4,406.8 94.6,406.6 95.7,406.4 96.9,406.2 98,406.1 99.2,405.9 100.4,405.7 101.5,405.6 102.7,405.4 103.9,405.3 105,405.2 106.2,405 107.4,404.9 108.5,404.8 109.7,404.7 110.8,404.7 112,404.6 113.2,404.5 114.3,404.5 115.5,404.4 116.7,404.4 117.8,404.4 119,404.4 120.2,404.4 121.3,404.4 122.5,404.4 123.7,404.4 124.8,404.4 126,404.5 127.1,404.6 128.3,404.6 129.5,404.7 130.6,404.8 131.8,404.9 133,405 134.1,405.2 135.3,405.3 136.5,405.5 137.6,405.7 138.8,405.9 139.9,406.1 141.1,406.3 142.3,406.6 143.4,406.9 144.6,407.1 145.8,407.4 146.9,407.7 148.1,408.1 149.3,408.4 150.4,408.8 151.6,409.1 152.8,409.5 153.9,409.8 155.1,410.2 156.2,410.6 157.4,411 158.6,411.4 159.7,411.8 160.9,412.2"/><path d="M35.2,409.5 36.4,409.7 37.5,409.8 38.7,410 39.8,410.2 41,410.3 42.2,410.4 43.3,410.6 44.5,410.7 45.7,410.7 46.8,410.8 48,410.8 49.2,410.9 50.3,410.8 51.5,410.8 52.6,410.7 53.8,410.6 55,410.5 56.1,410.3 57.3,410.1 58.5,409.8 59.6,409.6 60.8,409.3 62,409 63.1,408.7 64.3,408.5 65.5,408.2 66.6,407.9 67.8,407.7 68.9,407.4 70.1,407.2 71.3,406.9 72.4,406.7 73.6,406.4 74.8,406.2 75.9,406 77.1,405.7 78.3,405.5 79.4,405.3 80.6,405 81.7,404.8 82.9,404.5 84.1,404.3 85.2,404 86.4,403.7 87.6,403.5 88.7,403.2 89.9,402.9 91.1,402.7 92.2,402.4 93.4,402.2 94.6,401.9 95.7,401.7 96.9,401.5 98,401.3 99.2,401.1 100.4,401 101.5,400.8 102.7,400.7 103.9,400.6 105,400.5 106.2,400.5 107.4,400.4 108.5,400.3 109.7,400.3 110.8,400.3 112,400.3 113.2,400.3 114.3,400.3 115.5,400.3 116.7,400.3 117.8,400.4 119,400.4 120.2,400.5 121.3,400.6 122.5,400.7 123.7,400.8 124.8,401 126,401.1 127.1,401.3 128.3,401.5 129.5,401.7 130.6,402 131.8,402.2 133,402.5 134.1,402.8 135.3,403.2 136.5,403.5 137.6,403.9 138.8,404.3 139.9,404.8 141.1,405.2 142.3,405.7 143.4,406.2 144.6,406.7 145.8,407.3 146.9,407.8 148.1,408.3 149.3,408.8 150.4,409.2 151.6,409.6 152.8,410 153.9,410.3 155.1,410.6 156.2,410.8 157.4,411 158.6,411.2 159.7,411.4 160.9,411.6"/><path d="M35.2,414.6 36.4,414.6 37.5,414.6 38.7,414.6 39.8,414.6 41,414.6 42.2,414.6 43.3,414.6 44.5,414.6 45.7,414.6 46.8,414.6 48,414.5 49.2,414.5 50.3,414.5 51.5,414.5 52.6,414.4 53.8,414.4 55,414.3 56.1,414.2 57.3,414.2 58.5,414.1 59.6,414 60.8,413.9 62,413.8 63.1,413.7 64.3,413.6 65.5,413.5 66.6,413.3 67.8,413.2 68.9,413 70.1,412.9 71.3,412.7 72.4,412.5 73.6,412.3 74.8,412.1 75.9,411.9 77.1,411.7 78.3,411.5 79.4,411.3 80.6,411.1 81.7,410.9 82.9,410.7 84.1,410.4 85.2,410.2 86.4,410 87.6,409.7 88.7,409.5 89.9,409.2 91.1,408.9 92.2,408.6 93.4,408.2 94.6,407.9 95.7,407.5 96.9,407.1 98,406.6 99.2,406.2 100.4,405.6 101.5,405.1 102.7,404.5 103.9,403.8 105,403.2 106.2,402.5 107.4,401.8 108.5,401.1 109.7,400.5 110.8,399.9 112,399.4 113.2,399 114.3,398.8 115.5,398.5 116.7,398.4 117.8,398.3 119,398.3 120.2,398.2 121.3,398.2 122.5,398.2 123.7,398.2 124.8,398.2 126,398.2 127.1,398.1 128.3,398.1 129.5,398 130.6,398 131.8,397.9 133,397.9 134.1,397.8 135.3,397.8 136.5,397.8 137.6,397.7 138.8,397.7 139.9,397.6 141.1,397.6 142.3,397.6 143.4,397.6 144.6,397.6 145.8,397.6 146.9,397.6 148.1,397.6 149.3,397.6 150.4,397.7 151.6,397.7 152.8,397.7 153.9,397.8 155.1,397.8 156.2,397.8 157.4,397.9 158.6,397.9 159.7,398 160.9,398"/></g>
<path d="M35.2,411.6 160.9,411.6" fill="none" stroke="rgb(30,155,212)" stroke-width="1.25"/>
<path d="M35.2,412 36.4,411.9 37.5,411.9 38.7,411.9 39.8,411.8 41,411.8 42.2,411.7 43.3,411.7 44.5,411.6 45.7,411.6 46.8,411.5 48,411.5 49.2,411.4 50.3,411.4 51.5,411.3 52.6,411.3 53.8,411.2 55,411.1 56.1,411 57.3,411 58.5,410.9 59.6,410.8 60.8,410.7 62,410.7 63.1,410.6 64.3,410.5 65.5,410.5 66.6,410.4 67.8,410.4 68.9,410.3 70.1,410.2 71.3,410.2 72.4,410.1 73.6,410.1 74.8,410 75.9,410 77.1,409.9 78.3,409.9 79.4,409.8 80.6,409.7 81.7,409.6 82.9,409.6 84.1,409.5 85.2,409.4 86.4,409.3 87.6,409.1 88.7,409 89.9,408.9 91.1,408.8 92.2,408.6 93.4,408.5 94.6,408.3 95.7,408.2 96.9,408 98,407.9 99.2,407.7 100.4,407.6 101.5,407.4 102.7,407.2 103.9,407.1 105,406.9 106.2,406.8 107.4,406.6 108.5,406.5 109.7,406.3 110.8,406.2 112,406.1 113.2,406 114.3,405.8 115.5,405.7 116.7,405.6 117.8,405.6 119,405.5 120.2,405.4 121.3,405.4 122.5,405.3 123.7,405.3 124.8,405.2 126,405.2 127.1,405.2 128.3,405.2 129.5,405.2 130.6,405.2 131.8,405.3 133,405.3 134.1,405.3 135.3,405.4 136.5,405.5 137.6,405.5 138.8,405.6 139.9,405.7 141.1,405.8 142.3,405.9 143.4,406 144.6,406.1 145.8,406.2 146.9,406.3 148.1,406.4 149.3,406.6 150.4,406.7 151.6,406.9 152.8,407.1 153.9,407.2 155.1,407.4 156.2,407.6 157.4,407.8 158.6,408.1 159.7,408.3 160.9,408.5" fill="none" stroke="#000" stroke-width="2.1" stroke-linecap="round" stroke-linejoin="round"/>
<path d="M75.4,344.2V347.5 M80.1,344.2V347.5 M105.6,344.2V347.5 M110.4,344.2V347.5 M112.5,344.2V347.5 M129.5,344.2V347.5 M133.5,344.2V347.5 M144.5,344.2V347.5 M151.1,344.2V347.5 M152.4,344.2V347.5" stroke="rgb(200,70,70)" stroke-width="0.95" stroke-opacity="0.8" fill="none"/>
<path d="M161.3,385.7H165.3 M161.3,387.5H165.3 M161.3,389.4H165.3 M161.3,391H165.3 M161.3,398.1H165.3 M161.3,409.1H165.3 M161.3,414.6H165.3" stroke="rgb(200,70,70)" stroke-width="1.15" stroke-opacity="0.72" fill="none"/>
<line x1="206.5" y1="344.7" x2="206.5" y2="454.5" stroke="#8a8a8a" stroke-width="1"/>
<line x1="206.5" y1="454.5" x2="335.8" y2="454.5" stroke="#8a8a8a" stroke-width="1"/>
<line x1="204.3" y1="452.6" x2="206.5" y2="452.6" stroke="#8a8a8a" stroke-width="0.8"/>
<text x="201.6" y="455" font-size="6.6" text-anchor="end" fill="#2a2a2a" stroke="#2a2a2a" stroke-width="0.15">-20</text>
<line x1="204.3" y1="442.34" x2="206.5" y2="442.34" stroke="#8a8a8a" stroke-width="0.8"/>
<text x="201.6" y="444.74" font-size="6.6" text-anchor="end" fill="#2a2a2a" stroke="#2a2a2a" stroke-width="0.15">-15</text>
<line x1="204.3" y1="432.08" x2="206.5" y2="432.08" stroke="#8a8a8a" stroke-width="0.8"/>
<text x="201.6" y="434.48" font-size="6.6" text-anchor="end" fill="#2a2a2a" stroke="#2a2a2a" stroke-width="0.15">-10</text>
<line x1="204.3" y1="421.82" x2="206.5" y2="421.82" stroke="#8a8a8a" stroke-width="0.8"/>
<text x="201.6" y="424.22" font-size="6.6" text-anchor="end" fill="#2a2a2a" stroke="#2a2a2a" stroke-width="0.15">-5</text>
<line x1="204.3" y1="411.56" x2="206.5" y2="411.56" stroke="#8a8a8a" stroke-width="0.8"/>
<text x="201.6" y="413.96" font-size="6.6" text-anchor="end" fill="#2a2a2a" stroke="#2a2a2a" stroke-width="0.15">0</text>
<line x1="204.3" y1="401.3" x2="206.5" y2="401.3" stroke="#8a8a8a" stroke-width="0.8"/>
<text x="201.6" y="403.7" font-size="6.6" text-anchor="end" fill="#2a2a2a" stroke="#2a2a2a" stroke-width="0.15">5</text>
<line x1="204.3" y1="391.04" x2="206.5" y2="391.04" stroke="#8a8a8a" stroke-width="0.8"/>
<text x="201.6" y="393.44" font-size="6.6" text-anchor="end" fill="#2a2a2a" stroke="#2a2a2a" stroke-width="0.15">10</text>
<line x1="204.3" y1="380.78" x2="206.5" y2="380.78" stroke="#8a8a8a" stroke-width="0.8"/>
<text x="201.6" y="383.18" font-size="6.6" text-anchor="end" fill="#2a2a2a" stroke="#2a2a2a" stroke-width="0.15">15</text>
<line x1="204.3" y1="370.52" x2="206.5" y2="370.52" stroke="#8a8a8a" stroke-width="0.8"/>
<text x="201.6" y="372.92" font-size="6.6" text-anchor="end" fill="#2a2a2a" stroke="#2a2a2a" stroke-width="0.15">20</text>
<line x1="204.3" y1="360.26" x2="206.5" y2="360.26" stroke="#8a8a8a" stroke-width="0.8"/>
<text x="201.6" y="362.66" font-size="6.6" text-anchor="end" fill="#2a2a2a" stroke="#2a2a2a" stroke-width="0.15">25</text>
<line x1="204.3" y1="350" x2="206.5" y2="350" stroke="#8a8a8a" stroke-width="0.8"/>
<text x="201.6" y="352.4" font-size="6.6" text-anchor="end" fill="#2a2a2a" stroke="#2a2a2a" stroke-width="0.15">30</text>
<line x1="206.2" y1="454.5" x2="206.2" y2="456.7" stroke="#8a8a8a" stroke-width="0.8"/>
<text x="206.2" y="464.2" font-size="6.6" text-anchor="middle" fill="#2a2a2a" stroke="#2a2a2a" stroke-width="0.15">-3</text>
<line x1="215.9" y1="454.5" x2="215.9" y2="456.7" stroke="#8a8a8a" stroke-width="0.8"/>
<text x="215.9" y="464.2" font-size="6.6" text-anchor="middle" fill="#2a2a2a" stroke="#2a2a2a" stroke-width="0.15">-2</text>
<line x1="225.6" y1="454.5" x2="225.6" y2="456.7" stroke="#8a8a8a" stroke-width="0.8"/>
<text x="225.6" y="464.2" font-size="6.6" text-anchor="middle" fill="#2a2a2a" stroke="#2a2a2a" stroke-width="0.15">-1</text>
<line x1="235.3" y1="454.5" x2="235.3" y2="456.7" stroke="#8a8a8a" stroke-width="0.8"/>
<text x="235.3" y="464.2" font-size="6.6" text-anchor="middle" fill="#2a2a2a" stroke="#2a2a2a" stroke-width="0.15">0</text>
<line x1="245" y1="454.5" x2="245" y2="456.7" stroke="#8a8a8a" stroke-width="0.8"/>
<text x="245" y="464.2" font-size="6.6" text-anchor="middle" fill="#2a2a2a" stroke="#2a2a2a" stroke-width="0.15">1</text>
<line x1="254.7" y1="454.5" x2="254.7" y2="456.7" stroke="#8a8a8a" stroke-width="0.8"/>
<text x="254.7" y="464.2" font-size="6.6" text-anchor="middle" fill="#2a2a2a" stroke="#2a2a2a" stroke-width="0.15">2</text>
<line x1="264.4" y1="454.5" x2="264.4" y2="456.7" stroke="#8a8a8a" stroke-width="0.8"/>
<text x="264.4" y="464.2" font-size="6.6" text-anchor="middle" fill="#2a2a2a" stroke="#2a2a2a" stroke-width="0.15">3</text>
<line x1="274.1" y1="454.5" x2="274.1" y2="456.7" stroke="#8a8a8a" stroke-width="0.8"/>
<text x="274.1" y="464.2" font-size="6.6" text-anchor="middle" fill="#2a2a2a" stroke="#2a2a2a" stroke-width="0.15">4</text>
<line x1="283.8" y1="454.5" x2="283.8" y2="456.7" stroke="#8a8a8a" stroke-width="0.8"/>
<text x="283.8" y="464.2" font-size="6.6" text-anchor="middle" fill="#2a2a2a" stroke="#2a2a2a" stroke-width="0.15">5</text>
<line x1="293.5" y1="454.5" x2="293.5" y2="456.7" stroke="#8a8a8a" stroke-width="0.8"/>
<text x="293.5" y="464.2" font-size="6.6" text-anchor="middle" fill="#2a2a2a" stroke="#2a2a2a" stroke-width="0.15">6</text>
<line x1="303.2" y1="454.5" x2="303.2" y2="456.7" stroke="#8a8a8a" stroke-width="0.8"/>
<text x="303.2" y="464.2" font-size="6.6" text-anchor="middle" fill="#2a2a2a" stroke="#2a2a2a" stroke-width="0.15">7</text>
<line x1="312.9" y1="454.5" x2="312.9" y2="456.7" stroke="#8a8a8a" stroke-width="0.8"/>
<text x="312.9" y="464.2" font-size="6.6" text-anchor="middle" fill="#2a2a2a" stroke="#2a2a2a" stroke-width="0.15">8</text>
<line x1="322.6" y1="454.5" x2="322.6" y2="456.7" stroke="#8a8a8a" stroke-width="0.8"/>
<text x="322.6" y="464.2" font-size="6.6" text-anchor="middle" fill="#2a2a2a" stroke="#2a2a2a" stroke-width="0.15">9</text>
<line x1="332.3" y1="454.5" x2="332.3" y2="456.7" stroke="#8a8a8a" stroke-width="0.8"/>
<text x="332.3" y="464.2" font-size="6.6" text-anchor="middle" fill="#2a2a2a" stroke="#2a2a2a" stroke-width="0.15">10</text>
<text x="271.4" y="475" font-size="7.3" text-anchor="middle" fill="#222" stroke="#222" stroke-width="0.12" textLength="63.3" lengthAdjust="spacingAndGlyphs">Time from gasp (s)</text>
<line x1="235.3" y1="344.7" x2="235.3" y2="454.5" stroke="#c2c2c2" stroke-width="1" stroke-dasharray="3.8,2.1" stroke-dashoffset="1.5"/>
<text transform="translate(184.1,399.1) rotate(-90)" font-size="7.3" text-anchor="middle" fill="#222" stroke="#222" stroke-width="0.12">PCAv (cm s<tspan font-size="5" dy="-2.8">−1</tspan><tspan dy="2.8"></tspan>)</text>
<text x="179.4" y="350.6" font-size="12.5" font-weight="bold" fill="#000" stroke="#000" stroke-width="0.3">h</text>
<text x="265.1" y="365.7" font-size="6.5" fill="#151515" textLength="27.1" lengthAdjust="spacingAndGlyphs"><tspan font-style="italic">P</tspan> = 8.0e-4</text>
<g fill="none" stroke="rgb(80,182,226)" stroke-width="0.9" stroke-opacity="0.74"><path d="M206.2,417.7 207.4,417.7 208.5,417.8 209.7,417.8 210.9,417.8 212,417.8 213.2,417.8 214.4,417.8 215.5,417.8 216.7,417.7 217.9,417.7 219,417.6 220.2,417.5 221.4,417.4 222.5,417.3 223.7,417.1 224.9,416.9 226,416.7 227.2,416.4 228.4,416.1 229.5,415.8 230.7,415.4 231.8,415 233,414.6 234.2,414.1 235.3,413.6 236.5,413 237.7,412.4 238.8,411.7 240,411 241.2,410.3 242.3,409.5 243.5,408.6 244.7,407.7 245.8,406.8 247,405.8 248.2,404.7 249.3,403.6 250.5,402.4 251.7,401.1 252.8,399.7 254,398.2 255.2,396.5 256.3,394.7 257.5,392.9 258.7,390.9 259.8,388.9 261,386.8 262.2,384.7 263.3,382.7 264.5,380.6 265.7,378.6 266.8,376.7 268,374.8 269.2,373.1 270.3,371.3 271.5,369.7 272.7,368.2 273.8,366.7 275,365.4 276.2,364.2 277.3,363.1 278.5,362.1 279.6,361.2 280.8,360.5 282,359.9 283.1,359.4 284.3,359.1 285.5,358.9 286.6,358.9 287.8,359 289,359.2 290.1,359.6 291.3,360.1 292.5,360.7 293.6,361.4 294.8,362.2 296,363.1 297.1,364.1 298.3,365.2 299.5,366.4 300.6,367.6 301.8,368.9 303,370.2 304.1,371.6 305.3,373.1 306.5,374.6 307.6,376.3 308.8,378 310,379.8 311.1,381.7 312.3,383.8 313.5,386 314.6,388.4 315.8,391.1 317,394.1 318.1,397.7 319.3,401.9 320.5,406.7 321.6,412.3 322.8,418.8 324,426.2 325.1,434.3 326.3,442.8 327.4,451.6"/><path d="M206.2,393.1 207.4,394.6 208.5,396.2 209.7,397.7 210.9,399.2 212,400.7 213.2,402.1 214.4,403.6 215.5,405 216.7,406.3 217.9,407.6 219,408.8 220.2,409.8 221.4,410.7 222.5,411.3 223.7,411.7 224.9,411.7 226,411.4 227.2,410.8 228.4,409.8 229.6,408.7 230.7,407.3 231.9,405.8 233.1,404.3 234.2,402.7 235.4,401.2 236.6,399.7 237.7,398.4 238.9,397.1 240.1,395.9 241.2,394.8 242.4,393.7 243.6,392.7 244.7,391.7 245.9,390.7 247.1,389.8 248.2,388.9 249.4,388.1 250.6,387.3 251.7,386.4 252.9,385.6 254.1,384.8 255.2,384 256.4,383.2 257.6,382.4 258.7,381.6 259.9,380.9 261.1,380.2 262.2,379.6 263.4,379 264.6,378.5 265.7,378.1 266.9,377.8 268.1,377.5 269.2,377.4 270.4,377.3 271.6,377.3 272.8,377.4 273.9,377.6 275.1,377.9 276.3,378.3 277.4,378.7 278.6,379.1 279.8,379.7 280.9,380.3 282.1,380.9 283.3,381.6 284.4,382.3 285.6,383.1 286.8,383.9 287.9,384.7 289.1,385.5 290.3,386.3 291.4,387 292.6,387.8 293.8,388.5 294.9,389.2 296.1,389.9 297.3,390.6 298.4,391.2 299.6,391.7 300.8,392.2 301.9,392.7 303.1,393.1 304.3,393.4 305.4,393.7 306.6,394 307.8,394.2 308.9,394.3 310.1,394.5 311.3,394.6 312.5,394.7 313.6,394.8 314.8,394.9 316,395 317.1,395.1 318.3,395.2 319.5,395.3 320.6,395.4 321.8,395.6 323,395.7 324.1,395.9 325.3,396.1 326.5,396.2 327.6,396.4 328.8,396.6 330,396.8 331.1,397 332.3,397.2"/><path d="M206.2,403.4 207.4,404.1 208.5,404.8 209.7,405.5 210.9,406.2 212,406.8 213.2,407.5 214.4,408.1 215.5,408.6 216.7,409.1 217.9,409.6 219,410 220.2,410.4 221.4,410.7 222.5,410.9 223.7,411.1 224.9,411.2 226,411.2 227.2,411.2 228.4,411.1 229.6,411 230.7,410.8 231.9,410.5 233.1,410.2 234.2,409.9 235.4,409.5 236.6,409 237.7,408.5 238.9,408 240.1,407.4 241.2,406.8 242.4,406.1 243.6,405.4 244.7,404.7 245.9,404 247.1,403.2 248.2,402.4 249.4,401.6 250.6,400.8 251.7,400 252.9,399.1 254.1,398.3 255.2,397.4 256.4,396.6 257.6,395.8 258.7,394.9 259.9,394.1 261.1,393.3 262.2,392.5 263.4,391.7 264.6,390.9 265.7,390.2 266.9,389.4 268.1,388.7 269.2,388 270.4,387.3 271.6,386.5 272.8,385.8 273.9,385 275.1,384.2 276.3,383.4 277.4,382.6 278.6,381.8 279.8,381.2 280.9,380.6 282.1,380.1 283.3,379.8 284.4,379.7 285.6,379.8 286.8,380 287.9,380.3 289.1,380.7 290.3,381.2 291.4,381.8 292.6,382.4 293.8,383 294.9,383.5 296.1,384.1 297.3,384.6 298.4,385.1 299.6,385.6 300.8,386 301.9,386.5 303.1,386.9 304.3,387.3 305.4,387.7 306.6,388 307.8,388.4 308.9,388.7 310.1,389 311.3,389.4 312.5,389.7 313.6,390 314.8,390.3 316,390.6 317.1,390.9 318.3,391.2 319.5,391.5 320.6,391.8 321.8,392.1 323,392.5 324.1,392.8 325.3,393.1 326.5,393.5 327.6,393.8 328.8,394.1 330,394.5 331.1,394.8 332.3,395.1"/><path d="M206.2,409.5 207.4,409.7 208.5,409.9 209.7,410.1 210.9,410.2 212,410.4 213.2,410.6 214.4,410.8 215.5,410.9 216.7,411.1 217.9,411.2 219,411.3 220.2,411.5 221.4,411.6 222.5,411.7 223.7,411.7 224.9,411.8 226,411.9 227.2,411.9 228.4,411.9 229.6,411.9 230.7,411.9 231.9,411.8 233.1,411.8 234.2,411.7 235.4,411.6 236.6,411.4 237.7,411.2 238.9,411.1 240.1,410.9 241.2,410.6 242.4,410.4 243.6,410.2 244.7,409.9 245.9,409.6 247.1,409.3 248.2,409.1 249.4,408.8 250.6,408.5 251.7,408.2 252.9,407.9 254.1,407.6 255.2,407.3 256.4,407 257.6,406.8 258.7,406.5 259.9,406.2 261.1,405.9 262.2,405.6 263.4,405.3 264.6,405 265.7,404.6 266.9,404.3 268.1,403.9 269.2,403.4 270.4,403 271.6,402.5 272.8,402 273.9,401.4 275.1,400.8 276.3,400.1 277.4,399.4 278.6,398.7 279.8,397.9 280.9,397.2 282.1,396.4 283.3,395.5 284.4,394.7 285.6,393.8 286.8,393 287.9,392 289.1,391.1 290.3,390.1 291.4,389 292.6,387.9 293.8,386.6 294.9,385.4 296.1,384.1 297.3,382.8 298.4,381.7 299.6,380.8 300.8,379.9 301.9,379.2 303.1,378.6 304.3,378.1 305.4,377.6 306.6,377.2 307.8,376.8 308.9,376.3 310.1,375.9 311.3,375.5 312.5,375 313.6,374.6 314.8,374.2 316,373.9 317.1,373.6 318.3,373.3 319.5,373.1 320.6,372.9 321.8,372.8 323,372.8 324.1,372.8 325.3,373 326.5,373.2 327.6,373.4 328.8,373.7 330,374 331.1,374.3 332.3,374.6"/><path d="M206.2,411.6 207.4,411.7 208.5,411.9 209.7,412 210.9,412.1 212,412.3 213.2,412.4 214.4,412.5 215.5,412.7 216.7,412.8 217.9,412.9 219,413 220.2,413.1 221.4,413.2 222.5,413.3 223.7,413.4 224.9,413.5 226,413.5 227.2,413.6 228.4,413.6 229.6,413.7 230.7,413.7 231.9,413.7 233.1,413.7 234.2,413.6 235.4,413.6 236.6,413.6 237.7,413.5 238.9,413.4 240.1,413.3 241.2,413.2 242.4,413.1 243.6,413 244.7,412.8 245.9,412.7 247.1,412.6 248.2,412.4 249.4,412.3 250.6,412.1 251.7,412 252.9,411.8 254.1,411.6 255.2,411.5 256.4,411.3 257.6,411.2 258.7,411 259.9,410.8 261.1,410.6 262.2,410.4 263.4,410.1 264.6,409.8 265.7,409.5 266.9,409.1 268.1,408.7 269.2,408.2 270.4,407.6 271.6,407 272.8,406.3 273.9,405.5 275.1,404.7 276.3,403.8 277.4,402.8 278.6,401.7 279.8,400.6 280.9,399.4 282.1,398.2 283.3,397 284.4,395.7 285.6,394.4 286.8,393.1 287.9,391.8 289.1,390.5 290.3,389.3 291.4,388 292.6,386.8 293.8,385.6 294.9,384.5 296.1,383.5 297.3,382.6 298.4,381.7 299.6,381 300.8,380.5 301.9,380 303.1,379.8 304.3,379.7 305.4,379.7 306.6,380 307.8,380.3 308.9,380.7 310.1,381.3 311.3,381.9 312.5,382.6 313.6,383.3 314.8,384 316,384.9 317.1,385.7 318.3,386.7 319.5,387.7 320.6,388.9 321.8,390.1 323,391.5 324.1,393 325.3,394.5 326.5,396.2 327.6,398 328.8,399.8 330,401.6 331.1,403.5 332.3,405.4"/><path d="M206.2,434.1 207.4,432.5 208.5,430.9 209.7,429.4 210.9,427.8 212,426.3 213.2,424.9 214.4,423.5 215.5,422.2 216.7,421 217.9,419.9 219,418.9 220.2,418 221.4,417.2 222.5,416.6 223.7,416.1 224.9,415.8 226,415.6 227.2,415.6 228.4,415.7 229.6,415.9 230.7,416.2 231.9,416.6 233.1,417 234.2,417.4 235.4,417.7 236.6,418.1 237.7,418.4 238.9,418.7 240.1,419 241.2,419.2 242.4,419.4 243.6,419.6 244.7,419.8 245.9,420 247.1,420.1 248.2,420.2 249.4,420.4 250.6,420.5 251.7,420.6 252.9,420.7 254.1,420.7 255.2,420.8 256.4,420.9 257.6,421 258.7,421.1 259.9,421.2 261.1,421.3 262.2,421.4 263.4,421.5 264.6,421.6 265.7,421.8 266.9,421.9 268.1,422 269.2,422.2 270.4,422.3 271.6,422.5 272.8,422.6 273.9,422.8 275.1,423 276.3,423.2 277.4,423.4 278.6,423.7 279.8,423.9 280.9,424.2 282.1,424.4 283.3,424.7 284.4,425 285.6,425.3 286.8,425.7 287.9,426 289.1,426.4 290.3,426.8 291.4,427.2 292.6,427.6 293.8,428.1 294.9,428.5 296.1,429 297.3,429.5 298.4,430 299.6,430.5 300.8,431.1 301.9,431.6 303.1,432.1 304.3,432.6 305.4,433 306.6,433.5 307.8,434 308.9,434.4 310.1,434.8 311.3,435.1 312.5,435.5 313.6,435.8 314.8,436 316,436.2 317.1,436.4 318.3,436.4 319.5,436.5 320.6,436.4 321.8,436.3 323,436.1 324.1,435.8 325.3,435.5 326.5,435.1 327.6,434.6 328.8,434.1 330,433.6 331.1,433 332.3,432.5"/><path d="M206.2,401.3 207.4,402.6 208.5,403.8 209.7,405 210.9,406.2 212,407.3 213.2,408.4 214.4,409.4 215.5,410.3 216.7,411.1 217.9,411.8 219,412.4 220.2,412.9 221.4,413.4 222.5,413.8 223.7,414.1 224.9,414.4 226,414.6 227.2,414.8 228.4,414.9 229.6,415.1 230.7,415.2 231.9,415.3 233.1,415.4 234.2,415.5 235.4,415.7 236.6,415.8 237.7,416 238.9,416.2 240.1,416.4 241.2,416.7 242.4,416.9 243.6,417.2 244.7,417.4 245.9,417.7 247.1,418 248.2,418.3 249.4,418.5 250.6,418.8 251.7,419.1 252.9,419.4 254.1,419.6 255.2,419.9 256.4,420.1 257.6,420.4 258.7,420.6 259.9,420.8 261.1,421 262.2,421.2 263.4,421.4 264.6,421.6 265.7,421.8 266.9,421.9 268.1,422.1 269.2,422.3 270.4,422.4 271.6,422.5 272.8,422.7 273.9,422.8 275.1,423 276.3,423.1 277.4,423.2 278.6,423.3 279.8,423.4 280.9,423.5 282.1,423.6 283.3,423.7 284.4,423.8 285.6,423.8 286.8,423.9 287.9,423.9 289.1,423.9 290.3,423.9 291.4,423.9 292.6,423.9 293.8,423.9 294.9,423.8 296.1,423.7 297.3,423.6 298.4,423.6 299.6,423.5 300.8,423.4 301.9,423.2 303.1,423.2 304.3,423.1 305.4,423 306.6,422.9 307.8,422.8 308.9,422.8 310.1,422.8 311.3,422.8 312.5,422.8 313.6,422.9 314.8,423 316,423.1 317.1,423.2 318.3,423.4 319.5,423.6 320.6,423.8 321.8,424 323,424.2 324.1,424.5 325.3,424.8 326.5,425 327.6,425.3 328.8,425.6 330,425.9 331.1,426.2 332.3,426.5"/><path d="M206.2,407.5 207.4,407.9 208.5,408.4 209.7,408.8 210.9,409.2 212,409.6 213.2,409.9 214.4,410.2 215.5,410.4 216.7,410.6 217.9,410.7 219,410.7 220.2,410.6 221.4,410.4 222.5,410.1 223.7,409.7 224.9,409.2 226,408.6 227.2,407.9 228.4,407 229.6,406 230.7,404.9 231.9,403.7 233.1,402.3 234.2,400.8 235.4,399.1 236.6,397.3 237.7,395.6 238.9,393.9 240.1,392.5 241.2,391.4 242.4,390.7 243.6,390.5 244.7,390.5 245.9,390.9 247.1,391.4 248.2,392.1 249.4,392.8 250.6,393.6 251.7,394.3 252.9,395 254.1,395.8 255.2,396.5 256.4,397.2 257.6,398 258.7,398.7 259.9,399.5 261.1,400.3 262.2,401.1 263.4,401.8 264.6,402.6 265.7,403.4 266.9,404.1 268.1,404.8 269.2,405.4 270.4,406 271.6,406.5 272.8,406.9 273.9,407.4 275.1,407.7 276.3,408.1 277.4,408.3 278.6,408.6 279.8,408.8 280.9,409.1 282.1,409.2 283.3,409.4 284.4,409.6 285.6,409.8 286.8,409.9 287.9,410.1 289.1,410.2 290.3,410.3 291.4,410.5 292.6,410.6 293.8,410.7 294.9,410.8 296.1,410.9 297.3,411.1 298.4,411.2 299.6,411.3 300.8,411.4 301.9,411.5 303.1,411.6 304.3,411.6 305.4,411.7 306.6,411.8 307.8,411.9 308.9,412 310.1,412.1 311.3,412.2 312.5,412.3 313.6,412.4 314.8,412.4 316,412.5 317.1,412.6 318.3,412.7 319.5,412.8 320.6,412.8 321.8,412.9 323,413 324.1,413.1 325.3,413.2 326.5,413.2 327.6,413.3 328.8,413.4 330,413.5 331.1,413.5 332.3,413.6"/><path d="M206.2,415.7 207.4,415.6 208.5,415.6 209.7,415.6 210.9,415.6 212,415.6 213.2,415.5 214.4,415.5 215.5,415.5 216.7,415.4 217.9,415.4 219,415.3 220.2,415.2 221.4,415.2 222.5,415.1 223.7,415 224.9,414.9 226,414.8 227.2,414.7 228.4,414.6 229.6,414.5 230.7,414.3 231.9,414.2 233.1,414 234.2,413.8 235.4,413.6 236.6,413.4 237.7,413.1 238.9,412.9 240.1,412.6 241.2,412.4 242.4,412 243.6,411.7 244.7,411.4 245.9,411 247.1,410.6 248.2,410.2 249.4,409.8 250.6,409.3 251.7,408.8 252.9,408.3 254.1,407.8 255.2,407.2 256.4,406.6 257.6,405.9 258.7,405.3 259.9,404.6 261.1,403.8 262.2,403 263.4,402.2 264.6,401.3 265.7,400.4 266.9,399.4 268.1,398.3 269.2,397.2 270.4,396 271.6,394.8 272.8,393.7 273.9,392.5 275.1,391.5 276.3,390.5 277.4,389.7 278.6,389.1 279.8,388.7 280.9,388.6 282.1,388.6 283.3,388.8 284.4,389.1 285.6,389.6 286.8,390.1 287.9,390.7 289.1,391.3 290.3,391.9 291.4,392.6 292.6,393.2 293.8,393.9 294.9,394.6 296.1,395.3 297.3,395.9 298.4,396.6 299.6,397.3 300.8,397.9 301.9,398.6 303.1,399.2 304.3,399.8 305.4,400.4 306.6,400.9 307.8,401.5 308.9,402 310.1,402.5 311.3,403 312.5,403.5 313.6,403.9 314.8,404.4 316,404.8 317.1,405.2 318.3,405.6 319.5,406 320.6,406.3 321.8,406.7 323,407 324.1,407.3 325.3,407.7 326.5,408 327.6,408.3 328.8,408.6 330,408.9 331.1,409.2 332.3,409.5"/><path d="M206.2,405.4 207.4,405.8 208.5,406.2 209.7,406.6 210.9,407 212,407.3 213.2,407.7 214.4,408.1 215.5,408.4 216.7,408.8 217.9,409.1 219,409.4 220.2,409.7 221.4,410 222.5,410.3 223.7,410.5 224.9,410.7 226,410.9 227.2,411.1 228.4,411.3 229.6,411.4 230.7,411.5 231.9,411.6 233.1,411.6 234.2,411.6 235.4,411.6 236.6,411.5 237.7,411.4 238.9,411.2 240.1,411.1 241.2,410.8 242.4,410.6 243.6,410.3 244.7,410 245.9,409.6 247.1,409.2 248.2,408.7 249.4,408.2 250.6,407.7 251.7,407.1 252.9,406.5 254.1,405.8 255.2,405.1 256.4,404.3 257.6,403.5 258.7,402.7 259.9,401.9 261.1,401 262.2,400.1 263.4,399.3 264.6,398.4 265.7,397.6 266.9,396.7 268.1,395.9 269.2,395.1 270.4,394.4 271.6,393.7 272.8,393.1 273.9,392.5 275.1,392 276.3,391.6 277.4,391.3 278.6,391.1 279.8,391 280.9,391 282.1,391.1 283.3,391.3 284.4,391.5 285.6,391.9 286.8,392.3 287.9,392.7 289.1,393.2 290.3,393.7 291.4,394.2 292.6,394.7 293.8,395.3 294.9,395.8 296.1,396.3 297.3,396.8 298.4,397.3 299.6,397.8 300.8,398.3 301.9,398.8 303.1,399.3 304.3,399.8 305.4,400.3 306.6,400.8 307.8,401.2 308.9,401.7 310.1,402.2 311.3,402.7 312.5,403.2 313.6,403.6 314.8,404.1 316,404.6 317.1,405.1 318.3,405.6 319.5,406.1 320.6,406.6 321.8,407.1 323,407.6 324.1,408.1 325.3,408.6 326.5,409.1 327.6,409.6 328.8,410.1 330,410.6 331.1,411.1 332.3,411.6"/></g>
<path d="M206.2,411.6 332.3,411.6" fill="none" stroke="rgb(30,155,212)" stroke-width="1.25"/>
<path d="M206.2,412 207.4,412 208.5,412 209.7,411.9 210.9,411.9 212,411.9 213.2,411.9 214.4,411.9 215.5,411.8 216.7,411.8 217.9,411.7 219,411.7 220.2,411.6 221.4,411.5 222.5,411.4 223.7,411.3 224.9,411.2 226,411 227.2,410.9 228.4,410.7 229.6,410.5 230.7,410.4 231.9,410.2 233.1,409.9 234.2,409.7 235.4,409.5 236.6,409.2 237.7,409 238.9,408.7 240.1,408.4 241.2,408.1 242.4,407.8 243.6,407.5 244.7,407.2 245.9,406.8 247.1,406.5 248.2,406.1 249.4,405.7 250.6,405.4 251.7,404.9 252.9,404.5 254.1,404.1 255.2,403.7 256.4,403.2 257.6,402.8 258.7,402.3 259.9,401.9 261.1,401.4 262.2,401 263.4,400.6 264.6,400.2 265.7,399.8 266.9,399.5 268.1,399.2 269.2,398.9 270.4,398.6 271.6,398.4 272.8,398.2 273.9,398 275.1,397.8 276.3,397.7 277.4,397.6 278.6,397.6 279.8,397.5 280.9,397.5 282.1,397.6 283.3,397.7 284.4,397.8 285.6,397.9 286.8,398.1 287.9,398.3 289.1,398.5 290.3,398.7 291.4,399 292.6,399.2 293.8,399.5 294.9,399.8 296.1,400.1 297.3,400.4 298.4,400.7 299.6,401 300.8,401.3 301.9,401.6 303.1,401.9 304.3,402.3 305.4,402.6 306.6,402.9 307.8,403.3 308.9,403.6 310.1,404 311.3,404.4 312.5,404.7 313.6,405.2 314.8,405.6 316,406 317.1,406.5 318.3,407 319.5,407.5 320.6,408 321.8,408.5 323,409.1 324.1,409.6 325.3,410.2 326.5,410.7 327.6,411.3 328.8,411.9 330,412.4 331.1,413 332.3,413.6" fill="none" stroke="#000" stroke-width="2.1" stroke-linecap="round" stroke-linejoin="round"/>
<path d="M248,344.2V347.5 M251.5,344.2V347.5 M263.3,344.2V347.5 M273.8,344.2V347.5 M275.9,344.2V347.5 M277.7,344.2V347.5 M290.9,344.2V347.5 M294.8,344.2V347.5 M312.7,344.2V347.5" stroke="rgb(200,70,70)" stroke-width="0.95" stroke-opacity="0.8" fill="none"/>
<path d="M332.7,348.1H336.7 M332.7,355.2H336.7 M332.7,366.5H336.7 M332.7,368.6H336.7 M332.7,377.6H336.7 M332.7,379.1H336.7 M332.7,383.6H336.7 M332.7,390.2H336.7 M332.7,400.7H336.7 M332.7,415.7H336.7" stroke="rgb(200,70,70)" stroke-width="1.15" stroke-opacity="0.72" fill="none"/>
<line x1="377.5" y1="344.9" x2="377.5" y2="454.5" stroke="#8a8a8a" stroke-width="1"/>
<line x1="377.5" y1="454.5" x2="506.9" y2="454.5" stroke="#8a8a8a" stroke-width="1"/>
<line x1="375.3" y1="451.1" x2="377.5" y2="451.1" stroke="#8a8a8a" stroke-width="0.8"/>
<text x="372.6" y="453.5" font-size="6.6" text-anchor="end" fill="#2a2a2a" stroke="#2a2a2a" stroke-width="0.15">-3</text>
<line x1="375.3" y1="433.72" x2="377.5" y2="433.72" stroke="#8a8a8a" stroke-width="0.8"/>
<text x="372.6" y="436.12" font-size="6.6" text-anchor="end" fill="#2a2a2a" stroke="#2a2a2a" stroke-width="0.15">-2</text>
<line x1="375.3" y1="416.33" x2="377.5" y2="416.33" stroke="#8a8a8a" stroke-width="0.8"/>
<text x="372.6" y="418.73" font-size="6.6" text-anchor="end" fill="#2a2a2a" stroke="#2a2a2a" stroke-width="0.15">-1</text>
<line x1="375.3" y1="398.95" x2="377.5" y2="398.95" stroke="#8a8a8a" stroke-width="0.8"/>
<text x="372.6" y="401.35" font-size="6.6" text-anchor="end" fill="#2a2a2a" stroke="#2a2a2a" stroke-width="0.15">0</text>
<line x1="375.3" y1="381.57" x2="377.5" y2="381.57" stroke="#8a8a8a" stroke-width="0.8"/>
<text x="372.6" y="383.97" font-size="6.6" text-anchor="end" fill="#2a2a2a" stroke="#2a2a2a" stroke-width="0.15">1</text>
<line x1="375.3" y1="364.18" x2="377.5" y2="364.18" stroke="#8a8a8a" stroke-width="0.8"/>
<text x="372.6" y="366.58" font-size="6.6" text-anchor="end" fill="#2a2a2a" stroke="#2a2a2a" stroke-width="0.15">2</text>
<line x1="375.3" y1="346.8" x2="377.5" y2="346.8" stroke="#8a8a8a" stroke-width="0.8"/>
<text x="372.6" y="349.2" font-size="6.6" text-anchor="end" fill="#2a2a2a" stroke="#2a2a2a" stroke-width="0.15">3</text>
<line x1="377.56" y1="454.5" x2="377.56" y2="456.7" stroke="#8a8a8a" stroke-width="0.8"/>
<text x="377.56" y="464.2" font-size="6.6" text-anchor="middle" fill="#2a2a2a" stroke="#2a2a2a" stroke-width="0.15">-3</text>
<line x1="387.24" y1="454.5" x2="387.24" y2="456.7" stroke="#8a8a8a" stroke-width="0.8"/>
<text x="387.24" y="464.2" font-size="6.6" text-anchor="middle" fill="#2a2a2a" stroke="#2a2a2a" stroke-width="0.15">-2</text>
<line x1="396.92" y1="454.5" x2="396.92" y2="456.7" stroke="#8a8a8a" stroke-width="0.8"/>
<text x="396.92" y="464.2" font-size="6.6" text-anchor="middle" fill="#2a2a2a" stroke="#2a2a2a" stroke-width="0.15">-1</text>
<line x1="406.6" y1="454.5" x2="406.6" y2="456.7" stroke="#8a8a8a" stroke-width="0.8"/>
<text x="406.6" y="464.2" font-size="6.6" text-anchor="middle" fill="#2a2a2a" stroke="#2a2a2a" stroke-width="0.15">0</text>
<line x1="416.28" y1="454.5" x2="416.28" y2="456.7" stroke="#8a8a8a" stroke-width="0.8"/>
<text x="416.28" y="464.2" font-size="6.6" text-anchor="middle" fill="#2a2a2a" stroke="#2a2a2a" stroke-width="0.15">1</text>
<line x1="425.96" y1="454.5" x2="425.96" y2="456.7" stroke="#8a8a8a" stroke-width="0.8"/>
<text x="425.96" y="464.2" font-size="6.6" text-anchor="middle" fill="#2a2a2a" stroke="#2a2a2a" stroke-width="0.15">2</text>
<line x1="435.64" y1="454.5" x2="435.64" y2="456.7" stroke="#8a8a8a" stroke-width="0.8"/>
<text x="435.64" y="464.2" font-size="6.6" text-anchor="middle" fill="#2a2a2a" stroke="#2a2a2a" stroke-width="0.15">3</text>
<line x1="445.32" y1="454.5" x2="445.32" y2="456.7" stroke="#8a8a8a" stroke-width="0.8"/>
<text x="445.32" y="464.2" font-size="6.6" text-anchor="middle" fill="#2a2a2a" stroke="#2a2a2a" stroke-width="0.15">4</text>
<line x1="455" y1="454.5" x2="455" y2="456.7" stroke="#8a8a8a" stroke-width="0.8"/>
<text x="455" y="464.2" font-size="6.6" text-anchor="middle" fill="#2a2a2a" stroke="#2a2a2a" stroke-width="0.15">5</text>
<line x1="464.68" y1="454.5" x2="464.68" y2="456.7" stroke="#8a8a8a" stroke-width="0.8"/>
<text x="464.68" y="464.2" font-size="6.6" text-anchor="middle" fill="#2a2a2a" stroke="#2a2a2a" stroke-width="0.15">6</text>
<line x1="474.36" y1="454.5" x2="474.36" y2="456.7" stroke="#8a8a8a" stroke-width="0.8"/>
<text x="474.36" y="464.2" font-size="6.6" text-anchor="middle" fill="#2a2a2a" stroke="#2a2a2a" stroke-width="0.15">7</text>
<line x1="484.04" y1="454.5" x2="484.04" y2="456.7" stroke="#8a8a8a" stroke-width="0.8"/>
<text x="484.04" y="464.2" font-size="6.6" text-anchor="middle" fill="#2a2a2a" stroke="#2a2a2a" stroke-width="0.15">8</text>
<line x1="493.72" y1="454.5" x2="493.72" y2="456.7" stroke="#8a8a8a" stroke-width="0.8"/>
<text x="493.72" y="464.2" font-size="6.6" text-anchor="middle" fill="#2a2a2a" stroke="#2a2a2a" stroke-width="0.15">9</text>
<line x1="503.4" y1="454.5" x2="503.4" y2="456.7" stroke="#8a8a8a" stroke-width="0.8"/>
<text x="503.4" y="464.2" font-size="6.6" text-anchor="middle" fill="#2a2a2a" stroke="#2a2a2a" stroke-width="0.15">10</text>
<text x="443.2" y="475" font-size="7.3" text-anchor="middle" fill="#222" stroke="#222" stroke-width="0.12" textLength="63.3" lengthAdjust="spacingAndGlyphs">Time from gasp (s)</text>
<line x1="406.6" y1="344.9" x2="406.6" y2="454.5" stroke="#c2c2c2" stroke-width="1" stroke-dasharray="3.8,2.1" stroke-dashoffset="1.5"/>
<text transform="translate(360.1,399.4) rotate(-90)" font-size="7.3" text-anchor="middle" fill="#222" stroke="#222" stroke-width="0.12">S<tspan font-size="4.7" dy="2.4">a</tspan><tspan dy="-2.4"> </tspan>O<tspan font-size="4.7" dy="2.4">2</tspan><tspan dy="-2.4"> </tspan> (%)</text>
<text x="350.3" y="350.6" font-size="12.5" font-weight="bold" fill="#000" stroke="#000" stroke-width="0.3">i</text>
<text x="437.7" y="365.7" font-size="6.5" fill="#151515" textLength="22.6" lengthAdjust="spacingAndGlyphs"><tspan font-style="italic">P</tspan> = 0.34</text>
<g fill="none" stroke="rgb(80,182,226)" stroke-width="0.9" stroke-opacity="0.74"><path d="M377.6,374.6 378.7,376.7 379.9,378.8 381.1,380.9 382.2,383 383.4,385.1 384.6,387.2 385.7,389.3 386.9,391.4 388,393.4 389.2,395.5 390.4,397.6 391.5,399.7 392.7,401.8 393.9,403.9 395,406 396.2,408.1 397.4,410.2 398.5,412.3 399.7,414.5 400.9,416.7 402,418.9 403.2,421 404.4,423.2 405.5,425.3 406.7,427.4 407.9,429.6 409,431.7 410.2,433.8 411.4,435.9 412.5,438 413.7,440 414.8,441.9 416,443.7 417.2,445.6 418.3,447.6 419.5,449.6 420.7,451.4 421.8,452.8 423,453.6 424.2,453.7 425.3,453.7 426.5,453.7 427.7,453.7 428.8,453.7 430,453.7 431.2,453.7 432.3,453.7 433.5,453.7 434.7,453.7 435.8,453.7 437,453.7 438.1,453.7 439.3,453.7 440.5,453.7 441.6,453.7 442.8,453.7 444,453.6 445.1,453.2 446.3,452.4 447.5,451.2 448.6,449.8 449.8,448.2 451,446.4 452.1,444.6 453.3,442.7 454.5,440.8 455.6,439 456.8,437.4 458,435.8 459.1,434.1 460.3,432.3 461.5,430.5 462.6,428.6 463.8,426.7 464.9,424.9 466.1,423 467.3,421.2 468.4,419.5 469.6,417.8 470.8,416.3 471.9,414.9 473.1,413.7 474.3,412.6 475.4,411.5 476.6,410.4 477.8,409.4 478.9,408.4 480.1,407.5 481.3,406.6 482.4,405.8 483.6,405 484.8,404.3 485.9,403.7 487.1,403.1 488.3,402.6 489.4,402.3 490.6,401.9 491.7,401.5 492.9,401.2 494.1,400.9 495.2,400.8 496.4,400.7 497.6,400.8 498.7,401 499.9,401.4 501.1,402 502.2,402.7 503.4,403.5"/><path d="M377.6,409.4 378.7,408.6 379.9,407.7 381.1,407 382.2,406.2 383.4,405.4 384.6,404.7 385.7,404 386.9,403.3 388,402.7 389.2,402.1 390.4,401.5 391.5,400.9 392.7,400.4 393.9,399.9 395,399.3 396.2,398.7 397.4,398.2 398.5,397.6 399.7,397.1 400.9,396.7 402,396.3 403.2,395.9 404.4,395.7 405.5,395.5 406.7,395.5 407.9,395.5 409,395.5 410.2,395.5 411.4,395.5 412.5,395.5 413.7,395.5 414.8,395.5 416,395.5 417.2,395.5 418.3,395.7 419.5,395.9 420.7,396.2 421.8,396.5 423,396.8 424.2,397.1 425.3,397.2 426.5,397.2 427.7,397 428.8,396.5 430,395.9 431.2,395.2 432.3,394.4 433.5,393.5 434.7,392.7 435.8,391.9 437,391 438.1,390 439.3,389 440.5,387.9 441.6,386.8 442.8,385.7 444,384.5 445.1,383.5 446.3,382.4 447.5,381.2 448.6,380 449.8,378.9 451,377.7 452.1,376.7 453.3,375.8 454.5,375 455.6,374.5 456.8,374.1 458,373.7 459.1,373.3 460.3,373 461.5,372.7 462.6,372.4 463.8,372.2 464.9,372 466.1,371.8 467.3,371.5 468.4,371.4 469.6,371.2 470.8,371 471.9,370.9 473.1,370.8 474.3,370.8 475.4,370.8 476.6,370.8 477.8,370.8 478.9,370.9 480.1,370.9 481.3,371 482.4,371 483.6,371.1 484.8,371.2 485.9,371.3 487.1,371.4 488.3,371.4 489.4,371.5 490.6,371.6 491.7,371.7 492.9,371.8 494.1,372 495.2,372.1 496.4,372.3 497.6,372.5 498.7,372.7 499.9,373 501.1,373.2 502.2,373.5 503.4,373.7"/><path d="M377.6,399 378.7,398.7 379.9,398.5 381.1,398.3 382.2,398.1 383.4,397.9 384.6,397.8 385.7,397.6 386.9,397.5 388,397.3 389.2,397.2 390.4,397.1 391.5,397 392.7,396.9 393.9,396.8 395,396.7 396.2,396.6 397.4,396.6 398.5,396.5 399.7,396.5 400.9,396.4 402,396.4 403.2,396.4 404.4,396.4 405.5,396.3 406.7,396.3 407.9,396.4 409,396.4 410.2,396.5 411.4,396.5 412.5,396.6 413.7,396.8 414.8,396.9 416,397 417.2,397.1 418.3,397.3 419.5,397.4 420.7,397.6 421.8,397.7 423,397.8 424.2,397.9 425.3,398 426.5,398.1 427.7,398.2 428.8,398.3 430,398.4 431.2,398.5 432.3,398.6 433.5,398.7 434.7,398.7 435.8,398.8 437,398.9 438.1,398.9 439.3,398.9 440.5,399 441.6,398.9 442.8,398.8 444,398.7 445.1,398.5 446.3,398.2 447.5,398 448.6,397.6 449.8,397.3 451,396.9 452.1,396.5 453.3,396.1 454.5,395.7 455.6,395.2 456.8,394.6 458,393.8 459.1,393 460.3,392.1 461.5,391.1 462.6,390.1 463.8,389.2 464.9,388.3 466.1,387.5 467.3,386.6 468.4,385.7 469.6,384.8 470.8,383.9 471.9,383.1 473.1,382.3 474.3,381.6 475.4,381 476.6,380.3 477.8,379.7 478.9,379.1 480.1,378.5 481.3,378 482.4,377.4 483.6,376.9 484.8,376.4 485.9,375.9 487.1,375.4 488.3,374.9 489.4,374.4 490.6,373.9 491.7,373.4 492.9,372.9 494.1,372.5 495.2,372 496.4,371.6 497.6,371.1 498.7,370.7 499.9,370.3 501.1,369.9 502.2,369.4 503.4,369.1"/><path d="M377.6,397.2 378.7,397 379.9,396.9 381.1,396.7 382.2,396.6 383.4,396.5 384.6,396.4 385.7,396.2 386.9,396.1 388,396.1 389.2,396 390.4,395.9 391.5,395.8 392.7,395.8 393.9,395.7 395,395.7 396.2,395.6 397.4,395.6 398.5,395.6 399.7,395.5 400.9,395.5 402,395.5 403.2,395.5 404.4,395.5 405.5,395.5 406.7,395.5 407.9,395.5 409,395.5 410.2,395.6 411.4,395.6 412.5,395.7 413.7,395.8 414.8,395.9 416,396 417.2,396.1 418.3,396.3 419.5,396.4 420.7,396.6 421.8,396.7 423,396.8 424.2,397 425.3,397.1 426.5,397.3 427.7,397.4 428.8,397.6 430,397.8 431.2,398 432.3,398.2 433.5,398.5 434.7,398.7 435.8,398.9 437,399.2 438.1,399.4 439.3,399.6 440.5,399.9 441.6,400.1 442.8,400.3 444,400.5 445.1,400.7 446.3,400.8 447.5,401 448.6,401.1 449.8,401.3 451,401.4 452.1,401.5 453.3,401.7 454.5,401.8 455.6,401.9 456.8,402.1 458,402.2 459.1,402.3 460.3,402.5 461.5,402.6 462.6,402.8 463.8,403 464.9,403.2 466.1,403.4 467.3,403.5 468.4,403.7 469.6,403.9 470.8,404 471.9,404.1 473.1,404.1 474.3,404.2 475.4,404.1 476.6,403.9 477.8,403.6 478.9,403.2 480.1,402.7 481.3,402.1 482.4,401.5 483.6,400.9 484.8,400.3 485.9,399.5 487.1,398.5 488.3,397.5 489.4,396.3 490.6,395.1 491.7,393.9 492.9,392.8 494.1,391.7 495.2,390.6 496.4,389.5 497.6,388.3 498.7,387.2 499.9,386.1 501.1,384.9 502.2,383.8 503.4,382.6"/><path d="M377.6,399 378.7,398.9 379.9,398.8 381.1,398.8 382.2,398.7 383.4,398.7 384.6,398.6 385.7,398.6 386.9,398.5 388,398.4 389.2,398.4 390.4,398.3 391.5,398.2 392.7,398.2 393.9,398.1 395,398 396.2,397.9 397.4,397.9 398.5,397.8 399.7,397.7 400.9,397.6 402,397.5 403.2,397.5 404.4,397.4 405.5,397.3 406.7,397.2 407.9,397.1 409,397 410.2,396.9 411.4,396.8 412.5,396.6 413.7,396.5 414.8,396.3 416,396.2 417.2,396.1 418.3,395.9 419.5,395.8 420.7,395.7 421.8,395.6 423,395.6 424.2,395.5 425.3,395.5 426.5,395.5 427.7,395.5 428.8,395.6 430,395.7 431.2,395.9 432.3,396 433.5,396.2 434.7,396.5 435.8,396.7 437,397 438.1,397.2 439.3,397.5 440.5,397.8 441.6,398.1 442.8,398.4 444,398.6 445.1,398.9 446.3,399.2 447.5,399.5 448.6,399.9 449.8,400.3 451,400.8 452.1,401.2 453.3,401.6 454.5,402 455.6,402.4 456.8,402.7 458,403 459.1,403.2 460.3,403.3 461.5,403.5 462.6,403.6 463.8,403.7 464.9,403.8 466.1,403.8 467.3,403.9 468.4,404 469.6,404.1 470.8,404.1 471.9,404.1 473.1,404.2 474.3,404.2 475.4,404.1 476.6,403.9 477.8,403.7 478.9,403.3 480.1,403 481.3,402.6 482.4,402.1 483.6,401.7 484.8,401.4 485.9,401.1 487.1,400.8 488.3,400.7 489.4,400.7 490.6,400.7 491.7,400.8 492.9,400.9 494.1,401 495.2,401.1 496.4,401.3 497.6,401.6 498.7,401.8 499.9,402.1 501.1,402.5 502.2,402.9 503.4,403.3"/><path d="M377.6,397.2 378.7,397.2 379.9,397.1 381.1,397.1 382.2,397 383.4,397 384.6,396.9 385.7,396.8 386.9,396.8 388,396.7 389.2,396.6 390.4,396.6 391.5,396.5 392.7,396.4 393.9,396.4 395,396.3 396.2,396.2 397.4,396.1 398.5,396.1 399.7,396 400.9,395.9 402,395.8 403.2,395.7 404.4,395.6 405.5,395.6 406.7,395.5 407.9,395.4 409,395.2 410.2,395.1 411.4,395 412.5,394.8 413.7,394.7 414.8,394.6 416,394.6 417.2,394.6 418.3,394.7 419.5,394.7 420.7,394.8 421.8,395 423,395.1 424.2,395.3 425.3,395.4 426.5,395.5 427.7,395.8 428.8,396 430,396.3 431.2,396.6 432.3,396.8 433.5,397 434.7,397.2 435.8,397.2 437,397.2 438.1,397.2 439.3,397.2 440.5,397.2 441.6,397.2 442.8,397.2 444,397.2 445.1,397.2 446.3,397.2 447.5,397.1 448.6,396.9 449.8,396.6 451,396.4 452.1,396.1 453.3,395.8 454.5,395.6 455.6,395.4 456.8,395.1 458,394.9 459.1,394.7 460.3,394.5 461.5,394.2 462.6,394 463.8,393.9 464.9,393.7 466.1,393.6 467.3,393.4 468.4,393.3 469.6,393.1 470.8,393 471.9,392.8 473.1,392.7 474.3,392.6 475.4,392.5 476.6,392.4 477.8,392.3 478.9,392.2 480.1,392.1 481.3,392.1 482.4,392 483.6,392 484.8,392 485.9,392 487.1,392 488.3,392 489.4,392 490.6,392 491.7,392 492.9,392 494.1,392 495.2,392 496.4,392 497.6,392 498.7,392 499.9,392 501.1,392 502.2,392 503.4,392"/></g>
<path d="M377.6,399 503.4,399" fill="none" stroke="rgb(30,155,212)" stroke-width="1.25"/>
<path d="M377.6,397.9 378.7,398.1 379.9,398.2 381.1,398.3 382.2,398.5 383.4,398.6 384.6,398.8 385.7,398.9 386.9,399.1 388,399.2 389.2,399.4 390.4,399.5 391.5,399.7 392.7,399.8 393.9,400 395,400.1 396.2,400.3 397.4,400.4 398.5,400.6 399.7,400.7 400.9,400.9 402,401 403.2,401.2 404.4,401.3 405.5,401.4 406.7,401.6 407.9,401.7 409,401.8 410.2,401.9 411.4,402.1 412.5,402.2 413.7,402.3 414.8,402.4 416,402.6 417.2,402.7 418.3,402.8 419.5,402.9 420.7,403.1 421.8,403.2 423,403.4 424.2,403.5 425.3,403.6 426.5,403.8 427.7,403.9 428.8,404 430,404.1 431.2,404.1 432.3,404.2 433.5,404.2 434.7,404.1 435.8,404.1 437,404 438.1,403.9 439.3,403.7 440.5,403.6 441.6,403.4 442.8,403.2 444,403 445.1,402.8 446.3,402.6 447.5,402.4 448.6,402.2 449.8,402 451,401.7 452.1,401.5 453.3,401.3 454.5,401 455.6,400.7 456.8,400.4 458,400.2 459.1,399.8 460.3,399.5 461.5,399.2 462.6,398.9 463.8,398.6 464.9,398.3 466.1,398 467.3,397.7 468.4,397.4 469.6,397.1 470.8,396.8 471.9,396.5 473.1,396.2 474.3,396 475.4,395.7 476.6,395.5 477.8,395.3 478.9,395.1 480.1,394.9 481.3,394.8 482.4,394.6 483.6,394.4 484.8,394.3 485.9,394.1 487.1,394 488.3,393.8 489.4,393.7 490.6,393.5 491.7,393.4 492.9,393.2 494.1,393.1 495.2,393 496.4,392.8 497.6,392.7 498.7,392.5 499.9,392.4 501.1,392.3 502.2,392.1 503.4,392" fill="none" stroke="#000" stroke-width="2.1" stroke-linecap="round" stroke-linejoin="round"/>
<path d="M428.5,344.2V347.5" stroke="rgb(200,70,70)" stroke-width="0.95" stroke-opacity="0.8" fill="none"/>
<path d="M503.8,369.2H507.8" stroke="rgb(200,70,70)" stroke-width="1.15" stroke-opacity="0.72" fill="none"/>
<line x1="549" y1="344.9" x2="549" y2="454.5" stroke="#8a8a8a" stroke-width="1"/>
<line x1="549" y1="454.5" x2="678.8" y2="454.5" stroke="#8a8a8a" stroke-width="1"/>
<line x1="546.8" y1="451.1" x2="549" y2="451.1" stroke="#8a8a8a" stroke-width="0.8"/>
<text x="544.1" y="453.5" font-size="6.6" text-anchor="end" fill="#2a2a2a" stroke="#2a2a2a" stroke-width="0.15">-3</text>
<line x1="546.8" y1="433.72" x2="549" y2="433.72" stroke="#8a8a8a" stroke-width="0.8"/>
<text x="544.1" y="436.12" font-size="6.6" text-anchor="end" fill="#2a2a2a" stroke="#2a2a2a" stroke-width="0.15">-2</text>
<line x1="546.8" y1="416.33" x2="549" y2="416.33" stroke="#8a8a8a" stroke-width="0.8"/>
<text x="544.1" y="418.73" font-size="6.6" text-anchor="end" fill="#2a2a2a" stroke="#2a2a2a" stroke-width="0.15">-1</text>
<line x1="546.8" y1="398.95" x2="549" y2="398.95" stroke="#8a8a8a" stroke-width="0.8"/>
<text x="544.1" y="401.35" font-size="6.6" text-anchor="end" fill="#2a2a2a" stroke="#2a2a2a" stroke-width="0.15">0</text>
<line x1="546.8" y1="381.57" x2="549" y2="381.57" stroke="#8a8a8a" stroke-width="0.8"/>
<text x="544.1" y="383.97" font-size="6.6" text-anchor="end" fill="#2a2a2a" stroke="#2a2a2a" stroke-width="0.15">1</text>
<line x1="546.8" y1="364.18" x2="549" y2="364.18" stroke="#8a8a8a" stroke-width="0.8"/>
<text x="544.1" y="366.58" font-size="6.6" text-anchor="end" fill="#2a2a2a" stroke="#2a2a2a" stroke-width="0.15">2</text>
<line x1="546.8" y1="346.8" x2="549" y2="346.8" stroke="#8a8a8a" stroke-width="0.8"/>
<text x="544.1" y="349.2" font-size="6.6" text-anchor="end" fill="#2a2a2a" stroke="#2a2a2a" stroke-width="0.15">3</text>
<line x1="549.07" y1="454.5" x2="549.07" y2="456.7" stroke="#8a8a8a" stroke-width="0.8"/>
<text x="549.07" y="464.2" font-size="6.6" text-anchor="middle" fill="#2a2a2a" stroke="#2a2a2a" stroke-width="0.15">-3</text>
<line x1="558.78" y1="454.5" x2="558.78" y2="456.7" stroke="#8a8a8a" stroke-width="0.8"/>
<text x="558.78" y="464.2" font-size="6.6" text-anchor="middle" fill="#2a2a2a" stroke="#2a2a2a" stroke-width="0.15">-2</text>
<line x1="568.49" y1="454.5" x2="568.49" y2="456.7" stroke="#8a8a8a" stroke-width="0.8"/>
<text x="568.49" y="464.2" font-size="6.6" text-anchor="middle" fill="#2a2a2a" stroke="#2a2a2a" stroke-width="0.15">-1</text>
<line x1="578.2" y1="454.5" x2="578.2" y2="456.7" stroke="#8a8a8a" stroke-width="0.8"/>
<text x="578.2" y="464.2" font-size="6.6" text-anchor="middle" fill="#2a2a2a" stroke="#2a2a2a" stroke-width="0.15">0</text>
<line x1="587.91" y1="454.5" x2="587.91" y2="456.7" stroke="#8a8a8a" stroke-width="0.8"/>
<text x="587.91" y="464.2" font-size="6.6" text-anchor="middle" fill="#2a2a2a" stroke="#2a2a2a" stroke-width="0.15">1</text>
<line x1="597.62" y1="454.5" x2="597.62" y2="456.7" stroke="#8a8a8a" stroke-width="0.8"/>
<text x="597.62" y="464.2" font-size="6.6" text-anchor="middle" fill="#2a2a2a" stroke="#2a2a2a" stroke-width="0.15">2</text>
<line x1="607.33" y1="454.5" x2="607.33" y2="456.7" stroke="#8a8a8a" stroke-width="0.8"/>
<text x="607.33" y="464.2" font-size="6.6" text-anchor="middle" fill="#2a2a2a" stroke="#2a2a2a" stroke-width="0.15">3</text>
<line x1="617.04" y1="454.5" x2="617.04" y2="456.7" stroke="#8a8a8a" stroke-width="0.8"/>
<text x="617.04" y="464.2" font-size="6.6" text-anchor="middle" fill="#2a2a2a" stroke="#2a2a2a" stroke-width="0.15">4</text>
<line x1="626.75" y1="454.5" x2="626.75" y2="456.7" stroke="#8a8a8a" stroke-width="0.8"/>
<text x="626.75" y="464.2" font-size="6.6" text-anchor="middle" fill="#2a2a2a" stroke="#2a2a2a" stroke-width="0.15">5</text>
<line x1="636.46" y1="454.5" x2="636.46" y2="456.7" stroke="#8a8a8a" stroke-width="0.8"/>
<text x="636.46" y="464.2" font-size="6.6" text-anchor="middle" fill="#2a2a2a" stroke="#2a2a2a" stroke-width="0.15">6</text>
<line x1="646.17" y1="454.5" x2="646.17" y2="456.7" stroke="#8a8a8a" stroke-width="0.8"/>
<text x="646.17" y="464.2" font-size="6.6" text-anchor="middle" fill="#2a2a2a" stroke="#2a2a2a" stroke-width="0.15">7</text>
<line x1="655.88" y1="454.5" x2="655.88" y2="456.7" stroke="#8a8a8a" stroke-width="0.8"/>
<text x="655.88" y="464.2" font-size="6.6" text-anchor="middle" fill="#2a2a2a" stroke="#2a2a2a" stroke-width="0.15">8</text>
<line x1="665.59" y1="454.5" x2="665.59" y2="456.7" stroke="#8a8a8a" stroke-width="0.8"/>
<text x="665.59" y="464.2" font-size="6.6" text-anchor="middle" fill="#2a2a2a" stroke="#2a2a2a" stroke-width="0.15">9</text>
<line x1="675.3" y1="454.5" x2="675.3" y2="456.7" stroke="#8a8a8a" stroke-width="0.8"/>
<text x="675.3" y="464.2" font-size="6.6" text-anchor="middle" fill="#2a2a2a" stroke="#2a2a2a" stroke-width="0.15">10</text>
<text x="614.6" y="475" font-size="7.3" text-anchor="middle" fill="#222" stroke="#222" stroke-width="0.12" textLength="63.3" lengthAdjust="spacingAndGlyphs">Time from gasp (s)</text>
<line x1="578.2" y1="344.9" x2="578.2" y2="454.5" stroke="#c2c2c2" stroke-width="1" stroke-dasharray="3.8,2.1" stroke-dashoffset="1.5"/>
<text transform="translate(531.7,399.4) rotate(-90)" font-size="7.3" text-anchor="middle" fill="#222" stroke="#222" stroke-width="0.12">S<tspan font-size="4.7" dy="2.4">v</tspan><tspan dy="-2.4"> </tspan>O<tspan font-size="4.7" dy="2.4">2</tspan><tspan dy="-2.4"> </tspan> (%)</text>
<text x="523.8" y="350.6" font-size="12.5" font-weight="bold" fill="#000" stroke="#000" stroke-width="0.3">j</text>
<text x="610.6" y="365.7" font-size="6.5" fill="#151515" textLength="22.4" lengthAdjust="spacingAndGlyphs"><tspan font-style="italic">P</tspan> = 0.36</text>
<g fill="none" stroke="rgb(80,182,226)" stroke-width="0.9" stroke-opacity="0.74"><path d="M549.1,392 550.2,392.5 551.4,393 552.6,393.5 553.7,394 554.9,394.5 556.1,395 557.3,395.4 558.4,395.8 559.6,396.2 560.8,396.5 561.9,396.8 563.1,397.1 564.3,397.3 565.4,397.5 566.6,397.6 567.8,397.7 568.9,397.8 570.1,397.8 571.3,397.9 572.4,397.9 573.6,397.9 574.8,397.9 576,398 577.1,398 578.3,398.1 579.5,398.2 580.6,398.3 581.8,398.4 583,398.5 584.1,398.6 585.3,398.8 586.5,398.9 587.6,398.9 588.8,399 590,399 591.1,399 592.3,399 593.5,399 594.7,399 595.8,399 597,398.9 598.2,399 599.3,399 600.5,399 601.7,399.2 602.8,399.3 604,399.6 605.2,399.9 606.3,400.3 607.5,400.8 608.7,401.4 609.8,402.1 611,403 612.2,404 613.4,405.1 614.5,406.3 615.7,407.6 616.9,409.1 618,410.8 619.2,412.5 620.4,414.4 621.5,416.3 622.7,418.2 623.9,420.1 625,422.1 626.2,424 627.4,425.8 628.5,427.6 629.7,429.3 630.9,431 632.1,432.6 633.2,434.1 634.4,435.5 635.6,436.9 636.7,438.2 637.9,439.4 639.1,440.5 640.2,441.6 641.4,442.5 642.6,443.4 643.7,444.3 644.9,445 646.1,445.7 647.2,446.4 648.4,447 649.6,447.5 650.8,448 651.9,448.5 653.1,448.9 654.3,449.2 655.4,449.6 656.6,449.8 657.8,450 658.9,450.2 660.1,450.2 661.3,450.2 662.4,450.2 663.6,450 664.8,449.8 665.9,449.5 667.1,449.2 668.3,448.8 669.5,448.4 670.6,447.9 671.8,447.4 673,446.9 674.1,446.4 675.3,445.9"/><path d="M549.1,407.6 550.2,407 551.4,406.4 552.6,405.8 553.7,405.2 554.9,404.6 556.1,404 557.3,403.5 558.4,402.9 559.6,402.4 560.8,401.9 561.9,401.4 563.1,400.9 564.3,400.4 565.4,400 566.6,399.6 567.8,399.3 568.9,398.9 570.1,398.6 571.3,398.3 572.4,398.1 573.6,397.8 574.8,397.6 576,397.5 577.1,397.3 578.3,397.2 579.5,397.1 580.6,397.1 581.8,397.1 583,397.1 584.1,397.1 585.3,397.1 586.5,397.2 587.6,397.3 588.8,397.4 590,397.6 591.1,397.8 592.3,397.9 593.5,398.1 594.7,398.3 595.8,398.6 597,398.8 598.2,399.1 599.3,399.3 600.5,399.6 601.7,399.9 602.8,400.2 604,400.5 605.2,400.8 606.3,401.1 607.5,401.4 608.7,401.8 609.8,402.1 611,402.4 612.2,402.8 613.4,403.1 614.5,403.4 615.7,403.8 616.9,404.1 618,404.4 619.2,404.8 620.4,405.1 621.5,405.4 622.7,405.6 623.9,405.9 625,406 626.2,406.2 627.4,406.2 628.5,406.2 629.7,406.2 630.9,406 632.1,405.8 633.2,405.5 634.4,405.1 635.6,404.6 636.7,404.1 637.9,403.4 639.1,402.7 640.2,402 641.4,401.1 642.6,400.2 643.7,399.3 644.9,398.3 646.1,397.3 647.2,396.2 648.4,395.1 649.6,394 650.8,392.8 651.9,391.6 653.1,390.4 654.3,389.2 655.4,388 656.6,386.8 657.8,385.6 658.9,384.4 660.1,383.3 661.3,382.1 662.4,381 663.6,379.9 664.8,378.8 665.9,377.8 667.1,376.7 668.3,375.7 669.5,374.7 670.6,373.7 671.8,372.7 673,371.7 674.1,370.7 675.3,369.7"/><path d="M549.1,399 550.2,399 551.4,399.1 552.6,399.1 553.7,399.2 554.9,399.2 556.1,399.3 557.3,399.3 558.4,399.3 559.6,399.3 560.8,399.3 561.9,399.3 563.1,399.3 564.3,399.3 565.4,399.2 566.6,399.2 567.8,399.1 568.9,399 570.1,398.8 571.3,398.7 572.4,398.5 573.6,398.3 574.8,398 576,397.8 577.1,397.5 578.3,397.2 579.5,396.8 580.6,396.5 581.8,396.1 583,395.6 584.1,395.2 585.3,394.8 586.5,394.3 587.6,393.8 588.8,393.4 590,392.9 591.1,392.5 592.3,392 593.5,391.6 594.7,391.2 595.8,390.8 597,390.4 598.2,390.1 599.3,389.8 600.5,389.6 601.7,389.3 602.8,389.1 604,388.9 605.2,388.8 606.3,388.6 607.5,388.5 608.7,388.4 609.8,388.3 611,388.2 612.2,388.2 613.4,388.1 614.5,388.1 615.7,388.1 616.9,388.1 618,388 619.2,388.1 620.4,388.1 621.5,388.1 622.7,388.1 623.9,388.1 625,388.1 626.2,388.2 627.4,388.2 628.5,388.2 629.7,388.2 630.9,388.3 632.1,388.3 633.2,388.3 634.4,388.3 635.6,388.4 636.7,388.4 637.9,388.4 639.1,388.4 640.2,388.4 641.4,388.5 642.6,388.5 643.7,388.5 644.9,388.5 646.1,388.5 647.2,388.5 648.4,388.5 649.6,388.5 650.8,388.6 651.9,388.6 653.1,388.6 654.3,388.6 655.4,388.6 656.6,388.6 657.8,388.6 658.9,388.6 660.1,388.6 661.3,388.6 662.4,388.6 663.6,388.6 664.8,388.6 665.9,388.6 667.1,388.6 668.3,388.6 669.5,388.5 670.6,388.5 671.8,388.5 673,388.5 674.1,388.5 675.3,388.5"/><path d="M549.1,397.2 550.2,397.3 551.4,397.4 552.6,397.4 553.7,397.5 554.9,397.6 556.1,397.6 557.3,397.7 558.4,397.8 559.6,397.8 560.8,397.8 561.9,397.9 563.1,397.9 564.3,397.9 565.4,397.9 566.6,397.9 567.8,397.9 568.9,397.9 570.1,397.9 571.3,397.8 572.4,397.8 573.6,397.7 574.8,397.6 576,397.5 577.1,397.3 578.3,397.2 579.5,397 580.6,396.9 581.8,396.7 583,396.5 584.1,396.3 585.3,396 586.5,395.8 587.6,395.6 588.8,395.3 590,395.1 591.1,394.9 592.3,394.7 593.5,394.4 594.7,394.2 595.8,394 597,393.8 598.2,393.7 599.3,393.5 600.5,393.4 601.7,393.2 602.8,393.1 604,393 605.2,392.9 606.3,392.8 607.5,392.7 608.7,392.6 609.8,392.5 611,392.4 612.2,392.4 613.4,392.3 614.5,392.2 615.7,392.1 616.9,392 618,391.9 619.2,391.8 620.4,391.7 621.5,391.6 622.7,391.5 623.9,391.4 625,391.2 626.2,391.1 627.4,391 628.5,390.9 629.7,390.8 630.9,390.7 632.1,390.6 633.2,390.5 634.4,390.4 635.6,390.3 636.7,390.2 637.9,390.2 639.1,390.1 640.2,390.1 641.4,390 642.6,390 643.7,390 644.9,390 646.1,390 647.2,390 648.4,390 649.6,390 650.8,390 651.9,390.1 653.1,390.1 654.3,390.2 655.4,390.2 656.6,390.3 657.8,390.4 658.9,390.5 660.1,390.5 661.3,390.6 662.4,390.7 663.6,390.8 664.8,390.9 665.9,391 667.1,391.2 668.3,391.3 669.5,391.4 670.6,391.5 671.8,391.6 673,391.7 674.1,391.9 675.3,392"/><path d="M549.1,395.5 550.2,395.6 551.4,395.8 552.6,395.9 553.7,396.1 554.9,396.2 556.1,396.4 557.3,396.5 558.4,396.6 559.6,396.8 560.8,396.9 561.9,397 563.1,397.2 564.3,397.3 565.4,397.4 566.6,397.5 567.8,397.6 568.9,397.7 570.1,397.8 571.3,397.8 572.4,397.9 573.6,398 574.8,398 576,398 577.1,398.1 578.3,398.1 579.5,398.1 580.6,398.1 581.8,398.1 583,398 584.1,398 585.3,398 586.5,397.9 587.6,397.9 588.8,397.8 590,397.7 591.1,397.7 592.3,397.6 593.5,397.5 594.7,397.4 595.8,397.3 597,397.3 598.2,397.2 599.3,397.1 600.5,397 601.7,396.9 602.8,396.8 604,396.7 605.2,396.6 606.3,396.5 607.5,396.4 608.7,396.3 609.8,396.2 611,396.1 612.2,396 613.4,395.9 614.5,395.8 615.7,395.6 616.9,395.5 618,395.4 619.2,395.2 620.4,395.1 621.5,394.9 622.7,394.8 623.9,394.6 625,394.4 626.2,394.3 627.4,394.1 628.5,393.9 629.7,393.8 630.9,393.6 632.1,393.5 633.2,393.3 634.4,393.1 635.6,393 636.7,392.8 637.9,392.7 639.1,392.5 640.2,392.4 641.4,392.3 642.6,392.1 643.7,392 644.9,391.9 646.1,391.8 647.2,391.7 648.4,391.6 649.6,391.5 650.8,391.4 651.9,391.3 653.1,391.3 654.3,391.2 655.4,391.1 656.6,391.1 657.8,391.1 658.9,391 660.1,391 661.3,391 662.4,391 663.6,391 664.8,391 665.9,391 667.1,391 668.3,391 669.5,391 670.6,391 671.8,391.1 673,391.1 674.1,391.1 675.3,391.1"/><path d="M549.1,393.7 550.2,394.1 551.4,394.4 552.6,394.7 553.7,395.1 554.9,395.4 556.1,395.8 557.3,396.1 558.4,396.5 559.6,396.9 560.8,397.3 561.9,397.8 563.1,398.2 564.3,398.7 565.4,399.2 566.6,399.8 567.8,400.3 568.9,400.9 570.1,401.6 571.3,402.2 572.4,402.9 573.6,403.5 574.8,404.2 576,404.8 577.1,405.4 578.3,405.9 579.5,406.5 580.6,406.9 581.8,407.4 583,407.8 584.1,408.2 585.3,408.5 586.5,408.9 587.6,409.3 588.8,409.7 590,410.1 591.1,410.5 592.3,410.9 593.5,411.3 594.7,411.7 595.8,412.2 597,412.6 598.2,413.1 599.3,413.5 600.5,414 601.7,414.5 602.8,414.9 604,415.3 605.2,415.7 606.3,416.1 607.5,416.4 608.7,416.6 609.8,416.8 611,417 612.2,417.1 613.4,417.2 614.5,417.2 615.7,417.2 616.9,417.2 618,417.1 619.2,417 620.4,416.9 621.5,416.8 622.7,416.7 623.9,416.6 625,416.5 626.2,416.4 627.4,416.3 628.5,416.2 629.7,416.1 630.9,416 632.1,415.9 633.2,415.9 634.4,415.8 635.6,415.8 636.7,415.8 637.9,415.8 639.1,415.8 640.2,415.8 641.4,415.9 642.6,415.9 643.7,416 644.9,416.2 646.1,416.3 647.2,416.5 648.4,416.7 649.6,416.9 650.8,417.1 651.9,417.3 653.1,417.6 654.3,417.8 655.4,418 656.6,418.2 657.8,418.4 658.9,418.5 660.1,418.6 661.3,418.8 662.4,418.9 663.6,419 664.8,419.1 665.9,419.1 667.1,419.2 668.3,419.2 669.5,419.3 670.6,419.3 671.8,419.4 673,419.4 674.1,419.4 675.3,419.5"/><path d="M549.1,397.2 550.2,397.4 551.4,397.5 552.6,397.6 553.7,397.8 554.9,397.9 556.1,398.1 557.3,398.3 558.4,398.5 559.6,398.7 560.8,398.9 561.9,399.2 563.1,399.5 564.3,399.8 565.4,400.1 566.6,400.4 567.8,400.8 568.9,401.2 570.1,401.7 571.3,402.2 572.4,402.7 573.6,403.3 574.8,403.9 576,404.5 577.1,405.2 578.3,406 579.5,406.8 580.6,407.6 581.8,408.4 583,409.3 584.1,410.2 585.3,411 586.5,411.9 587.6,412.7 588.8,413.4 590,414.1 591.1,414.8 592.3,415.4 593.5,416 594.7,416.6 595.8,417.2 597,417.8 598.2,418.3 599.3,418.9 600.5,419.5 601.7,420.1 602.8,420.6 604,421.1 605.2,421.6 606.3,422.1 607.5,422.5 608.7,422.8 609.8,423.1 611,423.4 612.2,423.6 613.4,423.8 614.5,424 615.7,424.1 616.9,424.2 618,424.3 619.2,424.3 620.4,424.3 621.5,424.3 622.7,424.3 623.9,424.3 625,424.2 626.2,424.2 627.4,424.1 628.5,424.1 629.7,424 630.9,424 632.1,423.9 633.2,423.9 634.4,423.8 635.6,423.7 636.7,423.7 637.9,423.6 639.1,423.6 640.2,423.5 641.4,423.5 642.6,423.4 643.7,423.4 644.9,423.3 646.1,423.3 647.2,423.3 648.4,423.2 649.6,423.2 650.8,423.2 651.9,423.2 653.1,423.1 654.3,423.1 655.4,423.1 656.6,423.1 657.8,423.1 658.9,423.1 660.1,423.1 661.3,423.1 662.4,423.1 663.6,423.1 664.8,423.1 665.9,423.2 667.1,423.2 668.3,423.2 669.5,423.2 670.6,423.2 671.8,423.2 673,423.3 674.1,423.3 675.3,423.3"/><path d="M549.1,397.2 550.2,397.3 551.4,397.4 552.6,397.4 553.7,397.5 554.9,397.6 556.1,397.7 557.3,397.8 558.4,397.9 559.6,398 560.8,398.1 561.9,398.2 563.1,398.3 564.3,398.4 565.4,398.6 566.6,398.7 567.8,398.8 568.9,399 570.1,399.2 571.3,399.4 572.4,399.5 573.6,399.8 574.8,400 576,400.2 577.1,400.4 578.3,400.7 579.5,401 580.6,401.3 581.8,401.6 583,401.9 584.1,402.2 585.3,402.5 586.5,402.9 587.6,403.2 588.8,403.5 590,403.9 591.1,404.2 592.3,404.5 593.5,404.8 594.7,405.2 595.8,405.5 597,405.8 598.2,406 599.3,406.3 600.5,406.5 601.7,406.8 602.8,407 604,407.2 605.2,407.4 606.3,407.5 607.5,407.7 608.7,407.8 609.8,407.9 611,407.9 612.2,408 613.4,408 614.5,408 615.7,408 616.9,408 618,408 619.2,408 620.4,407.9 621.5,407.9 622.7,407.8 623.9,407.8 625,407.7 626.2,407.7 627.4,407.6 628.5,407.6 629.7,407.5 630.9,407.5 632.1,407.4 633.2,407.4 634.4,407.4 635.6,407.5 636.7,407.5 637.9,407.6 639.1,407.7 640.2,407.9 641.4,408.1 642.6,408.3 643.7,408.6 644.9,408.9 646.1,409.3 647.2,409.8 648.4,410.3 649.6,410.8 650.8,411.3 651.9,411.8 653.1,412.2 654.3,412.5 655.4,412.8 656.6,412.9 657.8,412.9 658.9,412.9 660.1,412.7 661.3,412.5 662.4,412.1 663.6,411.8 664.8,411.4 665.9,411 667.1,410.6 668.3,410.1 669.5,409.7 670.6,409.3 671.8,408.8 673,408.4 674.1,407.9 675.3,407.5"/><path d="M549.1,399 550.2,399.1 551.4,399.3 552.6,399.5 553.7,399.6 554.9,399.8 556.1,400 557.3,400.1 558.4,400.3 559.6,400.5 560.8,400.7 561.9,400.9 563.1,401.1 564.3,401.3 565.4,401.5 566.6,401.7 567.8,401.9 568.9,402.1 570.1,402.4 571.3,402.6 572.4,402.8 573.6,403.1 574.8,403.3 576,403.6 577.1,403.9 578.3,404.2 579.5,404.5 580.6,404.8 581.8,405.1 583,405.4 584.1,405.7 585.3,406 586.5,406.3 587.6,406.6 588.8,406.9 590,407.2 591.1,407.5 592.3,407.7 593.5,407.9 594.7,408.1 595.8,408.3 597,408.4 598.2,408.6 599.3,408.6 600.5,408.7 601.7,408.7 602.8,408.7 604,408.7 605.2,408.7 606.3,408.6 607.5,408.6 608.7,408.5 609.8,408.4 611,408.3 612.2,408.1 613.4,408 614.5,407.9 615.7,407.8 616.9,407.7 618,407.5 619.2,407.4 620.4,407.3 621.5,407.2 622.7,407.1 623.9,407 625,406.9 626.2,406.8 627.4,406.7 628.5,406.6 629.7,406.5 630.9,406.4 632.1,406.3 633.2,406.2 634.4,406.1 635.6,406 636.7,405.9 637.9,405.8 639.1,405.7 640.2,405.6 641.4,405.5 642.6,405.4 643.7,405.3 644.9,405.2 646.1,405.1 647.2,404.9 648.4,404.8 649.6,404.7 650.8,404.6 651.9,404.5 653.1,404.4 654.3,404.3 655.4,404.2 656.6,404.1 657.8,404 658.9,403.9 660.1,403.8 661.3,403.7 662.4,403.6 663.6,403.5 664.8,403.4 665.9,403.3 667.1,403.2 668.3,403.1 669.5,402.9 670.6,402.8 671.8,402.7 673,402.6 674.1,402.5 675.3,402.4"/><path d="M549.1,398.1 550.2,398.3 551.4,398.5 552.6,398.7 553.7,398.9 554.9,399.1 556.1,399.3 557.3,399.5 558.4,399.7 559.6,399.9 560.8,400.1 561.9,400.3 563.1,400.4 564.3,400.6 565.4,400.8 566.6,401 567.8,401.1 568.9,401.3 570.1,401.5 571.3,401.6 572.4,401.8 573.6,401.9 574.8,402.1 576,402.2 577.1,402.3 578.3,402.4 579.5,402.5 580.6,402.7 581.8,402.8 583,402.9 584.1,402.9 585.3,403 586.5,403.1 587.6,403.2 588.8,403.3 590,403.3 591.1,403.4 592.3,403.5 593.5,403.5 594.7,403.6 595.8,403.6 597,403.7 598.2,403.7 599.3,403.8 600.5,403.8 601.7,403.9 602.8,404 604,404 605.2,404.1 606.3,404.1 607.5,404.2 608.7,404.2 609.8,404.3 611,404.4 612.2,404.5 613.4,404.6 614.5,404.7 615.7,404.9 616.9,405.1 618,405.3 619.2,405.6 620.4,405.9 621.5,406.2 622.7,406.6 623.9,407.1 625,407.6 626.2,408.2 627.4,408.9 628.5,409.6 629.7,410.3 630.9,411.1 632.1,411.9 633.2,412.7 634.4,413.4 635.6,414.1 636.7,414.7 637.9,415.3 639.1,415.8 640.2,416.2 641.4,416.5 642.6,416.8 643.7,417 644.9,417.1 646.1,417.2 647.2,417.2 648.4,417.2 649.6,417.1 650.8,417 651.9,416.8 653.1,416.7 654.3,416.5 655.4,416.4 656.6,416.3 657.8,416.2 658.9,416.1 660.1,416 661.3,416 662.4,415.9 663.6,415.9 664.8,415.9 665.9,415.9 667.1,416 668.3,416 669.5,416 670.6,416.1 671.8,416.1 673,416.2 674.1,416.3 675.3,416.3"/></g>
<path d="M549.1,399 675.3,399" fill="none" stroke="rgb(30,155,212)" stroke-width="1.25"/>
<path d="M549.1,399 550.2,399 551.4,399 552.6,399 553.7,399 554.9,399 556.1,399.1 557.3,399.1 558.4,399.1 559.6,399.1 560.8,399.1 561.9,399.2 563.1,399.2 564.3,399.2 565.4,399.3 566.6,399.3 567.8,399.3 568.9,399.4 570.1,399.4 571.3,399.5 572.4,399.5 573.6,399.6 574.8,399.6 576,399.7 577.1,399.8 578.3,399.8 579.5,399.9 580.6,400 581.8,400.1 583,400.1 584.1,400.2 585.3,400.3 586.5,400.4 587.6,400.5 588.8,400.6 590,400.7 591.1,400.8 592.3,400.9 593.5,401 594.7,401.1 595.8,401.2 597,401.3 598.2,401.4 599.3,401.5 600.5,401.6 601.7,401.6 602.8,401.7 604,401.8 605.2,401.9 606.3,402 607.5,402 608.7,402.1 609.8,402.2 611,402.2 612.2,402.3 613.4,402.4 614.5,402.4 615.7,402.5 616.9,402.5 618,402.6 619.2,402.7 620.4,402.7 621.5,402.8 622.7,402.9 623.9,403 625,403.1 626.2,403.2 627.4,403.3 628.5,403.4 629.7,403.5 630.9,403.6 632.1,403.7 633.2,403.8 634.4,403.9 635.6,404 636.7,404.1 637.9,404.3 639.1,404.4 640.2,404.5 641.4,404.6 642.6,404.6 643.7,404.7 644.9,404.8 646.1,404.9 647.2,404.9 648.4,404.9 649.6,405 650.8,405 651.9,405 653.1,405 654.3,405 655.4,404.9 656.6,404.9 657.8,404.8 658.9,404.7 660.1,404.6 661.3,404.5 662.4,404.4 663.6,404.3 664.8,404.1 665.9,403.9 667.1,403.7 668.3,403.5 669.5,403.3 670.6,403.1 671.8,402.8 673,402.6 674.1,402.3 675.3,402.1" fill="none" stroke="#000" stroke-width="2.1" stroke-linecap="round" stroke-linejoin="round"/>
<path d="M572.8,344.2V347.5 M667.4,344.2V347.5" stroke="rgb(200,70,70)" stroke-width="0.95" stroke-opacity="0.8" fill="none"/>
<path d="M675.7,360.5H679.7 M675.7,388.3H679.7 M675.7,399.4H679.7 M675.7,400.7H679.7 M675.7,404.1H679.7" stroke="rgb(200,70,70)" stroke-width="1.15" stroke-opacity="0.72" fill="none"/>
<line x1="35" y1="490.2" x2="35" y2="601.5" stroke="#8a8a8a" stroke-width="1"/>
<line x1="35" y1="601.5" x2="164.4" y2="601.5" stroke="#8a8a8a" stroke-width="1"/>
<line x1="32.8" y1="601.1" x2="35" y2="601.1" stroke="#8a8a8a" stroke-width="0.8"/>
<text x="30.1" y="603.5" font-size="6.6" text-anchor="end" fill="#2a2a2a" stroke="#2a2a2a" stroke-width="0.15">-4</text>
<line x1="32.8" y1="585.26" x2="35" y2="585.26" stroke="#8a8a8a" stroke-width="0.8"/>
<text x="30.1" y="587.66" font-size="6.6" text-anchor="end" fill="#2a2a2a" stroke="#2a2a2a" stroke-width="0.15">-2</text>
<line x1="32.8" y1="569.41" x2="35" y2="569.41" stroke="#8a8a8a" stroke-width="0.8"/>
<text x="30.1" y="571.81" font-size="6.6" text-anchor="end" fill="#2a2a2a" stroke="#2a2a2a" stroke-width="0.15">0</text>
<line x1="32.8" y1="553.57" x2="35" y2="553.57" stroke="#8a8a8a" stroke-width="0.8"/>
<text x="30.1" y="555.97" font-size="6.6" text-anchor="end" fill="#2a2a2a" stroke="#2a2a2a" stroke-width="0.15">2</text>
<line x1="32.8" y1="537.73" x2="35" y2="537.73" stroke="#8a8a8a" stroke-width="0.8"/>
<text x="30.1" y="540.13" font-size="6.6" text-anchor="end" fill="#2a2a2a" stroke="#2a2a2a" stroke-width="0.15">4</text>
<line x1="32.8" y1="521.89" x2="35" y2="521.89" stroke="#8a8a8a" stroke-width="0.8"/>
<text x="30.1" y="524.29" font-size="6.6" text-anchor="end" fill="#2a2a2a" stroke="#2a2a2a" stroke-width="0.15">6</text>
<line x1="32.8" y1="506.04" x2="35" y2="506.04" stroke="#8a8a8a" stroke-width="0.8"/>
<text x="30.1" y="508.44" font-size="6.6" text-anchor="end" fill="#2a2a2a" stroke="#2a2a2a" stroke-width="0.15">8</text>
<line x1="32.8" y1="490.2" x2="35" y2="490.2" stroke="#8a8a8a" stroke-width="0.8"/>
<text x="30.1" y="492.6" font-size="6.6" text-anchor="end" fill="#2a2a2a" stroke="#2a2a2a" stroke-width="0.15">10</text>
<line x1="35.06" y1="601.5" x2="35.06" y2="603.7" stroke="#8a8a8a" stroke-width="0.8"/>
<text x="35.06" y="611.2" font-size="6.6" text-anchor="middle" fill="#2a2a2a" stroke="#2a2a2a" stroke-width="0.15">-3</text>
<line x1="44.74" y1="601.5" x2="44.74" y2="603.7" stroke="#8a8a8a" stroke-width="0.8"/>
<text x="44.74" y="611.2" font-size="6.6" text-anchor="middle" fill="#2a2a2a" stroke="#2a2a2a" stroke-width="0.15">-2</text>
<line x1="54.42" y1="601.5" x2="54.42" y2="603.7" stroke="#8a8a8a" stroke-width="0.8"/>
<text x="54.42" y="611.2" font-size="6.6" text-anchor="middle" fill="#2a2a2a" stroke="#2a2a2a" stroke-width="0.15">-1</text>
<line x1="64.1" y1="601.5" x2="64.1" y2="603.7" stroke="#8a8a8a" stroke-width="0.8"/>
<text x="64.1" y="611.2" font-size="6.6" text-anchor="middle" fill="#2a2a2a" stroke="#2a2a2a" stroke-width="0.15">0</text>
<line x1="73.78" y1="601.5" x2="73.78" y2="603.7" stroke="#8a8a8a" stroke-width="0.8"/>
<text x="73.78" y="611.2" font-size="6.6" text-anchor="middle" fill="#2a2a2a" stroke="#2a2a2a" stroke-width="0.15">1</text>
<line x1="83.46" y1="601.5" x2="83.46" y2="603.7" stroke="#8a8a8a" stroke-width="0.8"/>
<text x="83.46" y="611.2" font-size="6.6" text-anchor="middle" fill="#2a2a2a" stroke="#2a2a2a" stroke-width="0.15">2</text>
<line x1="93.14" y1="601.5" x2="93.14" y2="603.7" stroke="#8a8a8a" stroke-width="0.8"/>
<text x="93.14" y="611.2" font-size="6.6" text-anchor="middle" fill="#2a2a2a" stroke="#2a2a2a" stroke-width="0.15">3</text>
<line x1="102.82" y1="601.5" x2="102.82" y2="603.7" stroke="#8a8a8a" stroke-width="0.8"/>
<text x="102.82" y="611.2" font-size="6.6" text-anchor="middle" fill="#2a2a2a" stroke="#2a2a2a" stroke-width="0.15">4</text>
<line x1="112.5" y1="601.5" x2="112.5" y2="603.7" stroke="#8a8a8a" stroke-width="0.8"/>
<text x="112.5" y="611.2" font-size="6.6" text-anchor="middle" fill="#2a2a2a" stroke="#2a2a2a" stroke-width="0.15">5</text>
<line x1="122.18" y1="601.5" x2="122.18" y2="603.7" stroke="#8a8a8a" stroke-width="0.8"/>
<text x="122.18" y="611.2" font-size="6.6" text-anchor="middle" fill="#2a2a2a" stroke="#2a2a2a" stroke-width="0.15">6</text>
<line x1="131.86" y1="601.5" x2="131.86" y2="603.7" stroke="#8a8a8a" stroke-width="0.8"/>
<text x="131.86" y="611.2" font-size="6.6" text-anchor="middle" fill="#2a2a2a" stroke="#2a2a2a" stroke-width="0.15">7</text>
<line x1="141.54" y1="601.5" x2="141.54" y2="603.7" stroke="#8a8a8a" stroke-width="0.8"/>
<text x="141.54" y="611.2" font-size="6.6" text-anchor="middle" fill="#2a2a2a" stroke="#2a2a2a" stroke-width="0.15">8</text>
<line x1="151.22" y1="601.5" x2="151.22" y2="603.7" stroke="#8a8a8a" stroke-width="0.8"/>
<text x="151.22" y="611.2" font-size="6.6" text-anchor="middle" fill="#2a2a2a" stroke="#2a2a2a" stroke-width="0.15">9</text>
<line x1="160.9" y1="601.5" x2="160.9" y2="603.7" stroke="#8a8a8a" stroke-width="0.8"/>
<text x="160.9" y="611.2" font-size="6.6" text-anchor="middle" fill="#2a2a2a" stroke="#2a2a2a" stroke-width="0.15">10</text>
<text x="100.6" y="622" font-size="7.3" text-anchor="middle" fill="#222" stroke="#222" stroke-width="0.12" textLength="63.3" lengthAdjust="spacingAndGlyphs">Time from gasp (s)</text>
<line x1="64.1" y1="490.2" x2="64.1" y2="601.5" stroke="#c2c2c2" stroke-width="1" stroke-dasharray="3.8,2.1" stroke-dashoffset="1.5"/>
<text transform="translate(17.1,546) rotate(-90)" font-size="7.3" text-anchor="middle" fill="#222" stroke="#222" stroke-width="0.12">S<tspan font-size="4.7" dy="2.4">p</tspan><tspan dy="-2.4"> </tspan>O<tspan font-size="4.7" dy="2.4">2</tspan><tspan dy="-2.4"> </tspan> (%)</text>
<text x="-0.6" y="494.9" font-size="12.5" font-weight="bold" fill="#000" stroke="#000" stroke-width="0.3">k</text>
<text x="95.4" y="512.3" font-size="6.5" fill="#151515" textLength="22.3" lengthAdjust="spacingAndGlyphs"><tspan font-style="italic">P</tspan> = 0.34</text>
<g fill="none" stroke="rgb(80,182,226)" stroke-width="0.9" stroke-opacity="0.74"><path d="M35.1,576.5 36.2,575.6 37.4,574.7 38.6,573.7 39.7,572.6 40.9,571.6 42.1,570.5 43.2,569.3 44.4,568.2 45.5,567 46.7,565.8 47.9,564.5 49,563.2 50.2,561.9 51.4,560.5 52.5,559.1 53.7,557.7 54.9,556.2 56,554.6 57.2,553 58.4,551.4 59.5,549.7 60.7,547.9 61.9,546.1 63,544.2 64.2,542.3 65.4,540.3 66.5,538.3 67.7,536.1 68.9,533.9 70,531.7 71.2,529.4 72.3,527.1 73.5,524.8 74.7,522.4 75.8,519.9 77,517.3 78.2,514.7 79.3,512.1 80.5,509.6 81.7,507.4 82.8,505.4 84,503.7 85.2,502.1 86.3,500.5 87.5,498.9 88.7,497.5 89.8,496.3 91,495.3 92.2,494.5 93.3,494.1 94.5,493.8 95.6,493.6 96.8,493.4 98,493.4 99.1,493.5 100.3,493.8 101.5,494.3 102.6,494.9 103.8,495.4 105,495.8 106.1,496.3 107.3,496.8 108.5,497.3 109.6,497.8 110.8,498.1 112,498.3 113.1,498.4 114.3,498.4 115.5,498.4 116.6,498.4 117.8,498.4 119,498.5 120.1,498.5 121.3,498.5 122.4,498.5 123.6,498.5 124.8,498.5 125.9,498.5 127.1,498.5 128.3,498.5 129.4,498.5 130.6,498.5 131.8,498.5 132.9,498.5 134.1,498.5 135.3,498.5 136.4,498.5 137.6,498.5 138.8,498.5 139.9,498.5 141.1,498.5 142.3,498.5 143.4,498.5 144.6,498.5 145.8,498.5 146.9,498.5 148.1,498.5 149.2,498.5 150.4,498.5 151.6,498.5 152.7,498.5 153.9,498.5 155.1,498.5 156.2,498.5 157.4,498.5 158.6,498.5 159.7,498.5 160.9,498.5"/><path d="M35.1,567.8 36.2,568.3 37.4,568.7 38.6,569.1 39.7,569.4 40.9,569.7 42.1,570 43.2,570.3 44.4,570.5 45.5,570.7 46.7,570.9 47.9,570.9 49,571 50.2,571 51.4,571 52.5,570.9 53.7,570.8 54.9,570.7 56,570.6 57.2,570.5 58.4,570.3 59.5,570.2 60.7,570 61.9,569.8 63,569.6 64.2,569.4 65.4,569.1 66.5,568.8 67.7,568.4 68.9,568 70,567.5 71.2,566.9 72.3,566.3 73.5,565.6 74.7,564.9 75.8,563.9 77,562.8 78.2,561.6 79.3,560.2 80.5,558.8 81.7,557.4 82.8,555.9 84,554.5 85.2,552.9 86.3,551.2 87.5,549.4 88.7,547.7 89.8,545.9 91,544.3 92.2,542.8 93.3,541.5 94.5,540.4 95.6,539.3 96.8,538.2 98,537.3 99.1,536.4 100.3,535.5 101.5,534.7 102.6,533.9 103.8,533.1 105,532.3 106.1,531.4 107.3,530.6 108.5,529.8 109.6,529 110.8,528.4 112,527.8 113.1,527.4 114.3,527.1 115.5,527 116.6,527.1 117.8,527.1 119,527.2 120.1,527.3 121.3,527.4 122.4,527.5 123.6,527.6 124.8,527.8 125.9,528 127.1,528.3 128.3,528.5 129.4,528.7 130.6,528.9 131.8,529 132.9,529.1 134.1,529.2 135.3,529.3 136.4,529.3 137.6,529.4 138.8,529.5 139.9,529.5 141.1,529.6 142.3,529.7 143.4,529.7 144.6,529.8 145.8,529.8 146.9,529.9 148.1,529.9 149.2,530 150.4,530 151.6,530.1 152.7,530.1 153.9,530.1 155.1,530.1 156.2,530.2 157.4,530.2 158.6,530.2 159.7,530.2 160.9,530.2"/><path d="M35.1,569.4 36.2,569.4 37.4,569.4 38.6,569.5 39.7,569.5 40.9,569.5 42.1,569.6 43.2,569.7 44.4,569.7 45.5,569.8 46.7,569.9 47.9,570 49,570.1 50.2,570.2 51.4,570.3 52.5,570.4 53.7,570.5 54.9,570.6 56,570.8 57.2,570.9 58.4,571.1 59.5,571.2 60.7,571.3 61.9,571.5 63,571.6 64.2,571.8 65.4,572 66.5,572.2 67.7,572.5 68.9,572.8 70,573.2 71.2,573.5 72.3,573.8 73.5,574.1 74.7,574.4 75.8,574.6 77,574.9 78.2,575.1 79.3,575.4 80.5,575.6 81.7,575.8 82.8,576 84,576.2 85.2,576.4 86.3,576.6 87.5,576.7 88.7,576.9 89.8,577 91,577.1 92.2,577.2 93.3,577.4 94.5,577.5 95.6,577.6 96.8,577.7 98,577.9 99.1,578 100.3,578 101.5,578.1 102.6,578.1 103.8,578.1 105,578 106.1,577.8 107.3,577.5 108.5,577.2 109.6,576.8 110.8,576.4 112,576 113.1,575.5 114.3,574.7 115.5,573.8 116.6,572.7 117.8,571.5 119,570.2 120.1,569 121.3,567.9 122.4,566.8 123.6,565.8 124.8,564.8 125.9,563.9 127.1,562.9 128.3,562 129.4,561 130.6,560.1 131.8,559.2 132.9,558.3 134.1,557.4 135.3,556.5 136.4,555.7 137.6,554.8 138.8,554 139.9,553.1 141.1,552.3 142.3,551.5 143.4,550.6 144.6,549.8 145.8,549 146.9,548.1 148.1,547.4 149.2,546.7 150.4,546 151.6,545.5 152.7,545 153.9,544.5 155.1,544.1 156.2,543.7 157.4,543.3 158.6,543 159.7,542.7 160.9,542.5"/><path d="M35.1,569.4 36.2,569.4 37.4,569.4 38.5,569.4 39.7,569.4 40.9,569.4 42,569.4 43.2,569.4 44.4,569.4 45.5,569.4 46.7,569.4 47.8,569.4 49,569.4 50.2,569.4 51.3,569.4 52.5,569.4 53.6,569.4 54.8,569.4 56,569.4 57.1,569.4 58.3,569.4 59.5,569.4 60.6,569.4 61.8,569.4 62.9,569.4 64.1,569.4 65.3,569.4 66.4,569.4 67.6,569.4 68.7,569.3 69.9,569.3 71.1,569.2 72.2,569.2 73.4,569.1 74.6,569.1 75.7,569 76.9,569 78,568.9 79.2,568.8 80.4,568.8 81.5,568.7 82.7,568.7 83.8,568.6 85,568.6 86.2,568.5 87.3,568.5 88.5,568.4 89.7,568.4 90.8,568.3 92,568.3 93.1,568.2 94.3,568.2 95.5,568.1 96.6,568.1 97.8,568 98.9,568 100.1,567.9 101.3,567.9 102.4,567.8 103.6,567.8 104.8,567.8 105.9,567.7 107.1,567.7 108.2,567.6 109.4,567.6 110.6,567.6 111.7,567.5 112.9,567.5 114,567.5 115.2,567.4 116.4,567.4 117.5,567.3 118.7,567.2 119.9,567.2 121,567.1 122.2,567 123.3,566.9 124.5,566.8 125.7,566.7 126.8,566.5 128,566.3 129.1,566 130.3,565.8 131.5,565.5 132.6,565.3 133.8,564.9 135,564.5 136.1,564 137.3,563.5 138.4,562.9 139.6,562.4 140.8,561.8 141.9,561.3 143.1,560.8 144.3,560.2 145.4,559.7 146.6,559.1 147.7,558.5 148.9,558 150.1,557.4 151.2,556.7"/><path d="M35.1,567.8 36.2,568 37.4,568.1 38.6,568.2 39.7,568.4 40.9,568.5 42.1,568.7 43.2,568.8 44.4,569 45.5,569.1 46.7,569.3 47.9,569.4 49,569.6 50.2,569.8 51.4,569.9 52.5,570.1 53.7,570.3 54.9,570.4 56,570.6 57.2,570.8 58.4,570.9 59.5,571.1 60.7,571.3 61.9,571.5 63,571.6 64.2,571.8 65.4,572 66.5,572.2 67.7,572.4 68.9,572.6 70,572.7 71.2,572.9 72.3,573.1 73.5,573.3 74.7,573.5 75.8,573.7 77,573.9 78.2,574.1 79.3,574.3 80.5,574.5 81.7,574.7 82.8,574.9 84,575 85.2,575.2 86.3,575.4 87.5,575.6 88.7,575.8 89.8,576 91,576.2 92.2,576.4 93.3,576.6 94.5,576.8 95.6,576.9 96.8,577.1 98,577.3 99.1,577.4 100.3,577.6 101.5,577.9 102.6,578.1 103.8,578.4 105,578.7 106.1,579.1 107.3,579.5 108.5,579.9 109.6,580.3 110.8,580.7 112,581.1 113.1,581.5 114.3,581.9 115.5,582.3 116.6,582.7 117.8,583.1 119,583.5 120.1,583.8 121.3,584.2 122.4,584.5 123.6,584.9 124.8,585.2 125.9,585.5 127.1,585.7 128.3,586 129.4,586.3 130.6,586.6 131.8,586.8 132.9,587.1 134.1,587.3 135.3,587.6 136.4,587.9 137.6,588.1 138.8,588.4 139.9,588.6 141.1,588.8 142.3,588.9 143.4,589.1 144.6,589.2 145.8,589.4 146.9,589.6 148.1,589.7 149.2,589.8 150.4,590 151.6,590.1 152.7,590.2 153.9,590.3 155.1,590.4 156.2,590.5 157.4,590.6 158.6,590.7 159.7,590.8 160.9,590.8"/><path d="M35.1,569.4 36.2,569.4 37.4,569.4 38.6,569.4 39.7,569.5 40.9,569.5 42.1,569.5 43.2,569.6 44.4,569.6 45.5,569.7 46.7,569.7 47.9,569.8 49,569.9 50.2,569.9 51.4,570 52.5,570.1 53.7,570.2 54.9,570.2 56,570.3 57.2,570.4 58.4,570.5 59.5,570.6 60.7,570.7 61.9,570.8 63,570.9 64.2,571 65.4,571.1 66.5,571.3 67.7,571.5 68.9,571.6 70,571.9 71.2,572.1 72.3,572.3 73.5,572.5 74.7,572.8 75.8,573 77,573.3 78.2,573.6 79.3,573.9 80.5,574.2 81.7,574.5 82.8,574.8 84,575.1 85.2,575.4 86.3,575.6 87.5,575.9 88.7,576.2 89.8,576.5 91,576.8 92.2,577.1 93.3,577.4 94.5,577.7 95.6,578.1 96.8,578.4 98,578.8 99.1,579.2 100.3,579.6 101.5,580 102.6,580.4 103.8,580.9 105,581.4 106.1,582 107.3,582.6 108.5,583.2 109.6,583.9 110.8,584.4 112,585 113.1,585.5 114.3,586.1 115.5,586.6 116.6,587.1 117.8,587.6 119,588.1 120.1,588.5 121.3,588.9 122.4,589.3 123.6,589.6 124.8,590 125.9,590.2 127.1,590.5 128.3,590.8 129.4,591.1 130.6,591.3 131.8,591.6 132.9,591.8 134.1,592.1 135.3,592.4 136.4,592.7 137.6,592.9 138.8,593.2 139.9,593.4 141.1,593.5 142.3,593.6 143.4,593.8 144.6,593.9 145.8,594 146.9,594.1 148.1,594.2 149.2,594.3 150.4,594.4 151.6,594.4 152.7,594.5 153.9,594.6 155.1,594.6 156.2,594.7 157.4,594.7 158.6,594.7 159.7,594.8 160.9,594.8"/><path d="M35.1,567 36.2,567.3 37.4,567.5 38.6,567.7 39.7,567.9 40.9,568 42.1,568.2 43.2,568.4 44.4,568.5 45.5,568.6 46.7,568.7 47.9,568.8 49,568.9 50.2,569 51.4,569.1 52.5,569.2 53.7,569.2 54.9,569.3 56,569.3 57.2,569.3 58.4,569.4 59.5,569.4 60.7,569.4 61.9,569.4 63,569.4 64.2,569.4 65.4,569.4 66.5,569.3 67.7,569.3 68.9,569.1 70,569 71.2,568.9 72.3,568.7 73.5,568.5 74.7,568.3 75.8,568.1 77,567.9 78.2,567.7 79.3,567.6 80.5,567.4 81.7,567.2 82.8,567.1 84,567 85.2,566.9 86.3,566.8 87.5,566.6 88.7,566.5 89.8,566.4 91,566.3 92.2,566.2 93.3,566.1 94.5,566 95.6,565.9 96.8,565.8 98,565.8 99.1,565.7 100.3,565.6 101.5,565.5 102.6,565.5 103.8,565.4 105,565.3 106.1,565.3 107.3,565.2 108.5,565.1 109.6,565.1 110.8,565 112,565 113.1,564.9 114.3,564.8 115.5,564.8 116.6,564.8 117.8,564.7 119,564.7 120.1,564.7 121.3,564.7 122.4,564.7 123.6,564.7 124.8,564.7 125.9,564.7 127.1,564.7 128.3,564.7 129.4,564.7 130.6,564.7 131.8,564.7 132.9,564.7 134.1,564.7 135.3,564.7 136.4,564.7 137.6,564.7 138.8,564.7 139.9,564.7 141.1,564.7 142.3,564.7 143.4,564.7 144.6,564.7 145.8,564.7 146.9,564.7 148.1,564.8 149.2,564.8 150.4,564.9 151.6,564.9 152.7,565 153.9,565 155.1,565.1 156.2,565.2 157.4,565.2 158.6,565.3 159.7,565.4 160.9,565.5"/><path d="M35.1,569.4 36.2,569.3 37.4,569.3 38.6,569.2 39.7,569.1 40.9,569.1 42.1,569 43.2,569 44.4,568.9 45.5,568.9 46.7,568.8 47.9,568.8 49,568.8 50.2,568.8 51.4,568.7 52.5,568.7 53.7,568.7 54.9,568.7 56,568.7 57.2,568.6 58.4,568.6 59.5,568.6 60.7,568.6 61.9,568.6 63,568.6 64.2,568.6 65.4,568.6 66.5,568.6 67.7,568.7 68.9,568.7 70,568.7 71.2,568.8 72.3,568.8 73.5,568.9 74.7,569 75.8,569 77,569.1 78.2,569.2 79.3,569.2 80.5,569.3 81.7,569.3 82.8,569.4 84,569.4 85.2,569.5 86.3,569.5 87.5,569.6 88.7,569.7 89.8,569.7 91,569.8 92.2,569.9 93.3,569.9 94.5,570 95.6,570 96.8,570.1 98,570.1 99.1,570.2 100.3,570.2 101.5,570.2 102.6,570.2 103.8,570.2 105,570.2 106.1,570.2 107.3,570.2 108.5,570.1 109.6,570.1 110.8,570 112,570 113.1,569.9 114.3,569.9 115.5,569.8 116.6,569.8 117.8,569.7 119,569.6 120.1,569.5 121.3,569.5 122.4,569.4 123.6,569.3 124.8,569.2 125.9,569 127.1,568.9 128.3,568.7 129.4,568.5 130.6,568.3 131.8,568.1 132.9,567.9 134.1,567.6 135.3,567.4 136.4,567.2 137.6,567 138.8,566.7 139.9,566.5 141.1,566.3 142.3,566.1 143.4,565.9 144.6,565.7 145.8,565.6 146.9,565.4 148.1,565.2 149.2,565 150.4,564.8 151.6,564.6 152.7,564.4 153.9,564.2 155.1,564 156.2,563.8 157.4,563.6 158.6,563.5 159.7,563.3 160.9,563.1"/></g>
<path d="M35.1,569.4 160.9,569.4" fill="none" stroke="rgb(30,155,212)" stroke-width="1.25"/>
<path d="M35.1,569.8 36.2,569.7 37.4,569.7 38.6,569.6 39.7,569.5 40.9,569.5 42.1,569.4 43.2,569.3 44.4,569.3 45.5,569.2 46.7,569.1 47.9,569 49,569 50.2,568.9 51.4,568.8 52.5,568.7 53.7,568.6 54.9,568.5 56,568.4 57.2,568.2 58.4,568.1 59.5,568 60.7,567.9 61.9,567.7 63,567.6 64.2,567.4 65.4,567.3 66.5,567.1 67.7,566.9 68.9,566.7 70,566.6 71.2,566.4 72.3,566.2 73.5,566 74.7,565.8 75.8,565.6 77,565.3 78.2,565.1 79.3,564.9 80.5,564.7 81.7,564.5 82.8,564.3 84,564.1 85.2,563.9 86.3,563.7 87.5,563.6 88.7,563.4 89.8,563.3 91,563.2 92.2,563.1 93.3,563.1 94.5,563 95.6,563 96.8,563 98,563.1 99.1,563.1 100.3,563.2 101.5,563.3 102.6,563.3 103.8,563.4 105,563.5 106.1,563.6 107.3,563.7 108.5,563.7 109.6,563.8 110.8,563.9 112,563.9 113.1,563.9 114.3,563.9 115.5,563.9 116.6,563.9 117.8,563.8 119,563.8 120.1,563.8 121.3,563.7 122.4,563.6 123.6,563.6 124.8,563.5 125.9,563.4 127.1,563.3 128.3,563.3 129.4,563.2 130.6,563.1 131.8,563 132.9,563 134.1,562.9 135.3,562.8 136.4,562.8 137.6,562.7 138.8,562.6 139.9,562.6 141.1,562.5 142.3,562.5 143.4,562.4 144.6,562.4 145.8,562.4 146.9,562.3 148.1,562.3 149.2,562.2 150.4,562.2 151.6,562.2 152.7,562.1 153.9,562.1 155.1,562.1 156.2,562 157.4,562 158.6,562 159.7,561.9 160.9,561.9" fill="none" stroke="#000" stroke-width="2.1" stroke-linecap="round" stroke-linejoin="round"/>
<line x1="206.5" y1="490.2" x2="206.5" y2="601.5" stroke="#8a8a8a" stroke-width="1"/>
<line x1="206.5" y1="601.5" x2="335.9" y2="601.5" stroke="#8a8a8a" stroke-width="1"/>
<line x1="204.3" y1="595.3" x2="206.5" y2="595.3" stroke="#8a8a8a" stroke-width="0.8"/>
<text x="201.6" y="597.7" font-size="6.6" text-anchor="end" fill="#2a2a2a" stroke="#2a2a2a" stroke-width="0.15">-2</text>
<line x1="204.3" y1="583.62" x2="206.5" y2="583.62" stroke="#8a8a8a" stroke-width="0.8"/>
<text x="201.6" y="586.02" font-size="6.6" text-anchor="end" fill="#2a2a2a" stroke="#2a2a2a" stroke-width="0.15">-1</text>
<line x1="204.3" y1="571.94" x2="206.5" y2="571.94" stroke="#8a8a8a" stroke-width="0.8"/>
<text x="201.6" y="574.34" font-size="6.6" text-anchor="end" fill="#2a2a2a" stroke="#2a2a2a" stroke-width="0.15">0</text>
<line x1="204.3" y1="560.27" x2="206.5" y2="560.27" stroke="#8a8a8a" stroke-width="0.8"/>
<text x="201.6" y="562.67" font-size="6.6" text-anchor="end" fill="#2a2a2a" stroke="#2a2a2a" stroke-width="0.15">1</text>
<line x1="204.3" y1="548.59" x2="206.5" y2="548.59" stroke="#8a8a8a" stroke-width="0.8"/>
<text x="201.6" y="550.99" font-size="6.6" text-anchor="end" fill="#2a2a2a" stroke="#2a2a2a" stroke-width="0.15">2</text>
<line x1="204.3" y1="536.91" x2="206.5" y2="536.91" stroke="#8a8a8a" stroke-width="0.8"/>
<text x="201.6" y="539.31" font-size="6.6" text-anchor="end" fill="#2a2a2a" stroke="#2a2a2a" stroke-width="0.15">3</text>
<line x1="204.3" y1="525.23" x2="206.5" y2="525.23" stroke="#8a8a8a" stroke-width="0.8"/>
<text x="201.6" y="527.63" font-size="6.6" text-anchor="end" fill="#2a2a2a" stroke="#2a2a2a" stroke-width="0.15">4</text>
<line x1="204.3" y1="513.56" x2="206.5" y2="513.56" stroke="#8a8a8a" stroke-width="0.8"/>
<text x="201.6" y="515.96" font-size="6.6" text-anchor="end" fill="#2a2a2a" stroke="#2a2a2a" stroke-width="0.15">5</text>
<line x1="204.3" y1="501.88" x2="206.5" y2="501.88" stroke="#8a8a8a" stroke-width="0.8"/>
<text x="201.6" y="504.28" font-size="6.6" text-anchor="end" fill="#2a2a2a" stroke="#2a2a2a" stroke-width="0.15">6</text>
<line x1="204.3" y1="490.2" x2="206.5" y2="490.2" stroke="#8a8a8a" stroke-width="0.8"/>
<text x="201.6" y="492.6" font-size="6.6" text-anchor="end" fill="#2a2a2a" stroke="#2a2a2a" stroke-width="0.15">7</text>
<line x1="206.3" y1="601.5" x2="206.3" y2="603.7" stroke="#8a8a8a" stroke-width="0.8"/>
<text x="206.3" y="611.2" font-size="6.6" text-anchor="middle" fill="#2a2a2a" stroke="#2a2a2a" stroke-width="0.15">-3</text>
<line x1="216" y1="601.5" x2="216" y2="603.7" stroke="#8a8a8a" stroke-width="0.8"/>
<text x="216" y="611.2" font-size="6.6" text-anchor="middle" fill="#2a2a2a" stroke="#2a2a2a" stroke-width="0.15">-2</text>
<line x1="225.7" y1="601.5" x2="225.7" y2="603.7" stroke="#8a8a8a" stroke-width="0.8"/>
<text x="225.7" y="611.2" font-size="6.6" text-anchor="middle" fill="#2a2a2a" stroke="#2a2a2a" stroke-width="0.15">-1</text>
<line x1="235.4" y1="601.5" x2="235.4" y2="603.7" stroke="#8a8a8a" stroke-width="0.8"/>
<text x="235.4" y="611.2" font-size="6.6" text-anchor="middle" fill="#2a2a2a" stroke="#2a2a2a" stroke-width="0.15">0</text>
<line x1="245.1" y1="601.5" x2="245.1" y2="603.7" stroke="#8a8a8a" stroke-width="0.8"/>
<text x="245.1" y="611.2" font-size="6.6" text-anchor="middle" fill="#2a2a2a" stroke="#2a2a2a" stroke-width="0.15">1</text>
<line x1="254.8" y1="601.5" x2="254.8" y2="603.7" stroke="#8a8a8a" stroke-width="0.8"/>
<text x="254.8" y="611.2" font-size="6.6" text-anchor="middle" fill="#2a2a2a" stroke="#2a2a2a" stroke-width="0.15">2</text>
<line x1="264.5" y1="601.5" x2="264.5" y2="603.7" stroke="#8a8a8a" stroke-width="0.8"/>
<text x="264.5" y="611.2" font-size="6.6" text-anchor="middle" fill="#2a2a2a" stroke="#2a2a2a" stroke-width="0.15">3</text>
<line x1="274.2" y1="601.5" x2="274.2" y2="603.7" stroke="#8a8a8a" stroke-width="0.8"/>
<text x="274.2" y="611.2" font-size="6.6" text-anchor="middle" fill="#2a2a2a" stroke="#2a2a2a" stroke-width="0.15">4</text>
<line x1="283.9" y1="601.5" x2="283.9" y2="603.7" stroke="#8a8a8a" stroke-width="0.8"/>
<text x="283.9" y="611.2" font-size="6.6" text-anchor="middle" fill="#2a2a2a" stroke="#2a2a2a" stroke-width="0.15">5</text>
<line x1="293.6" y1="601.5" x2="293.6" y2="603.7" stroke="#8a8a8a" stroke-width="0.8"/>
<text x="293.6" y="611.2" font-size="6.6" text-anchor="middle" fill="#2a2a2a" stroke="#2a2a2a" stroke-width="0.15">6</text>
<line x1="303.3" y1="601.5" x2="303.3" y2="603.7" stroke="#8a8a8a" stroke-width="0.8"/>
<text x="303.3" y="611.2" font-size="6.6" text-anchor="middle" fill="#2a2a2a" stroke="#2a2a2a" stroke-width="0.15">7</text>
<line x1="313" y1="601.5" x2="313" y2="603.7" stroke="#8a8a8a" stroke-width="0.8"/>
<text x="313" y="611.2" font-size="6.6" text-anchor="middle" fill="#2a2a2a" stroke="#2a2a2a" stroke-width="0.15">8</text>
<line x1="322.7" y1="601.5" x2="322.7" y2="603.7" stroke="#8a8a8a" stroke-width="0.8"/>
<text x="322.7" y="611.2" font-size="6.6" text-anchor="middle" fill="#2a2a2a" stroke="#2a2a2a" stroke-width="0.15">9</text>
<line x1="332.4" y1="601.5" x2="332.4" y2="603.7" stroke="#8a8a8a" stroke-width="0.8"/>
<text x="332.4" y="611.2" font-size="6.6" text-anchor="middle" fill="#2a2a2a" stroke="#2a2a2a" stroke-width="0.15">10</text>
<text x="271.4" y="622" font-size="7.3" text-anchor="middle" fill="#222" stroke="#222" stroke-width="0.12" textLength="63.3" lengthAdjust="spacingAndGlyphs">Time from gasp (s)</text>
<line x1="235.4" y1="490.2" x2="235.4" y2="601.5" stroke="#c2c2c2" stroke-width="1" stroke-dasharray="3.8,2.1" stroke-dashoffset="1.5"/>
<text transform="translate(188.7,545.6) rotate(-90)" font-size="7.3" text-anchor="middle" fill="#222" stroke="#222" stroke-width="0.12">rSO<tspan font-size="4.7" dy="2.4">2</tspan><tspan dy="-2.4"> </tspan> (%)</text>
<text x="179.4" y="494.9" font-size="12.5" font-weight="bold" fill="#000" stroke="#000" stroke-width="0.3">l</text>
<text x="267.7" y="512.3" font-size="6.5" fill="#151515" textLength="22.6" lengthAdjust="spacingAndGlyphs"><tspan font-style="italic">P</tspan> = 0.43</text>
<g fill="none" stroke="rgb(80,182,226)" stroke-width="0.9" stroke-opacity="0.74"><path d="M206.3,584.2 207.5,582.6 208.6,581.1 209.8,579.5 211,577.9 212.1,576.3 213.3,574.7 214.5,573.1 215.6,571.5 216.8,569.9 218,568.3 219.1,566.6 220.3,565 221.5,563.3 222.6,561.6 223.8,560 225,558.2 226.1,556.5 227.3,554.7 228.5,552.9 229.7,551 230.8,549 232,547 233.2,544.8 234.3,542.6 235.5,540.2 236.7,537.8 237.8,535.2 239,532.6 240.2,530 241.3,527.3 242.5,524.7 243.7,522 244.8,519.5 246,517 247.2,514.7 248.3,512.4 249.5,510.4 250.7,508.5 251.8,506.7 253,505.1 254.2,503.6 255.3,502.3 256.5,501 257.7,499.8 258.8,498.7 260,497.7 261.2,496.7 262.3,495.9 263.5,495.4 264.7,495 265.8,494.9 267,495 268.2,495.4 269.4,496 270.5,496.8 271.7,497.7 272.9,498.7 274,499.7 275.2,500.8 276.4,501.9 277.5,503 278.7,504.1 279.9,505.3 281,506.4 282.2,507.6 283.4,508.7 284.5,509.9 285.7,511.1 286.9,512.2 288,513.4 289.2,514.6 290.4,515.7 291.5,516.9 292.7,518 293.9,519.1 295,520.1 296.2,521.1 297.4,522.1 298.5,523 299.7,523.8 300.9,524.6 302,525.3 303.2,525.9 304.4,526.5 305.5,527.1 306.7,527.6 307.9,528 309,528.4 310.2,528.8 311.4,529.1 312.6,529.3 313.7,529.5 314.9,529.7 316.1,529.8 317.2,529.9 318.4,529.9 319.6,529.9 320.7,529.9 321.9,529.8 323.1,529.7 324.2,529.5 325.4,529.4 326.6,529.2 327.7,529 328.9,528.7 330.1,528.5 331.2,528.3 332.4,528"/><path d="M206.3,553.5 207.5,555.7 208.6,557.9 209.8,560 211,562.1 212.1,564.2 213.3,566.1 214.5,567.9 215.6,569.6 216.8,571.2 218,572.5 219.1,573.8 220.3,574.9 221.5,575.9 222.6,576.7 223.8,577.6 225,578.3 226.1,579 227.3,579.7 228.5,580.3 229.7,580.9 230.8,581.4 232,581.8 233.2,582.1 234.3,582.2 235.5,582.2 236.7,582 237.8,581.6 239,581.1 240.2,580.4 241.3,579.6 242.5,578.7 243.7,577.8 244.8,576.8 246,575.7 247.2,574.7 248.3,573.7 249.5,572.6 250.7,571.7 251.8,570.7 253,569.8 254.2,568.9 255.3,568 256.5,567.2 257.7,566.4 258.8,565.6 260,564.9 261.2,564.2 262.3,563.5 263.5,562.9 264.7,562.3 265.8,561.7 267,561.2 268.2,560.6 269.4,560.2 270.5,559.7 271.7,559.3 272.9,558.8 274,558.5 275.2,558.1 276.4,557.8 277.5,557.4 278.7,557.2 279.9,556.9 281,556.7 282.2,556.5 283.4,556.3 284.5,556.1 285.7,556 286.9,555.9 288,555.8 289.2,555.8 290.4,555.8 291.5,555.8 292.7,555.8 293.9,555.9 295,556 296.2,556.1 297.4,556.1 298.5,556.3 299.7,556.4 300.9,556.5 302,556.6 303.2,556.7 304.4,556.8 305.5,556.9 306.7,557 307.9,557.1 309,557.2 310.2,557.3 311.4,557.3 312.6,557.4 313.7,557.4 314.9,557.5 316.1,557.5 317.2,557.5 318.4,557.5 319.6,557.6 320.7,557.6 321.9,557.6 323.1,557.6 324.2,557.6 325.4,557.6 326.6,557.5 327.7,557.5 328.9,557.5 330.1,557.5 331.2,557.5 332.4,557.5"/><path d="M206.3,569.6 207.5,569.6 208.6,569.7 209.8,569.7 211,569.8 212.1,569.8 213.3,569.8 214.5,569.9 215.6,570 216.8,570 218,570.1 219.1,570.2 220.3,570.3 221.5,570.4 222.6,570.5 223.8,570.7 225,570.8 226.1,571 227.3,571.2 228.5,571.4 229.7,571.7 230.8,571.9 232,572.2 233.2,572.5 234.3,572.8 235.5,573.1 236.7,573.5 237.8,573.9 239,574.3 240.2,574.7 241.3,575.2 242.5,575.6 243.7,576.1 244.8,576.5 246,577 247.2,577.4 248.3,577.8 249.5,578.3 250.7,578.7 251.8,579.1 253,579.5 254.2,579.9 255.3,580.3 256.5,580.7 257.7,581.1 258.8,581.4 260,581.8 261.2,582.1 262.3,582.5 263.5,582.8 264.7,583.1 265.8,583.4 267,583.7 268.2,583.9 269.4,584.1 270.5,584.3 271.7,584.5 272.9,584.7 274,584.8 275.2,584.8 276.4,584.9 277.5,584.9 278.7,584.8 279.9,584.8 281,584.7 282.2,584.5 283.4,584.3 284.5,584.1 285.7,583.8 286.9,583.5 288,583.2 289.2,582.8 290.4,582.4 291.5,582 292.7,581.6 293.9,581.2 295,580.7 296.2,580.3 297.4,579.8 298.5,579.2 299.7,578.7 300.9,578 302,577.4 303.2,576.7 304.4,575.9 305.5,575.1 306.7,574.2 307.9,573.4 309,572.5 310.2,571.6 311.4,570.8 312.6,569.9 313.7,569.1 314.9,568.4 316.1,567.6 317.2,566.9 318.4,566.2 319.6,565.6 320.7,564.9 321.9,564.2 323.1,563.6 324.2,562.9 325.4,562.2 326.6,561.5 327.7,560.8 328.9,560.1 330.1,559.4 331.2,558.6 332.4,557.9"/><path d="M206.3,569.6 207.5,569.7 208.6,569.8 209.8,569.9 211,570 212.1,570.1 213.3,570.2 214.5,570.3 215.6,570.4 216.8,570.5 218,570.6 219.1,570.7 220.3,570.8 221.5,570.9 222.6,570.9 223.8,571 225,571.1 226.1,571.1 227.3,571.2 228.5,571.2 229.7,571.3 230.8,571.3 232,571.3 233.2,571.3 234.3,571.4 235.5,571.4 236.7,571.4 237.8,571.3 239,571.3 240.2,571.3 241.3,571.3 242.5,571.2 243.7,571.2 244.8,571.1 246,571.1 247.2,571 248.3,571 249.5,571 250.7,570.9 251.8,570.9 253,570.8 254.2,570.8 255.3,570.8 256.5,570.7 257.7,570.7 258.8,570.7 260,570.7 261.2,570.7 262.3,570.7 263.5,570.7 264.7,570.7 265.8,570.8 267,570.8 268.2,570.9 269.4,571 270.5,571 271.7,571.1 272.9,571.2 274,571.3 275.2,571.5 276.4,571.6 277.5,571.8 278.7,572 279.9,572.2 281,572.5 282.2,572.7 283.4,573.1 284.5,573.4 285.7,573.8 286.9,574.3 288,574.8 289.2,575.4 290.4,576 291.5,576.6 292.7,577.3 293.9,577.9 295,578.6 296.2,579.3 297.4,580 298.5,580.8 299.7,581.5 300.9,582.2 302,582.9 303.2,583.6 304.4,584.2 305.5,584.9 306.7,585.5 307.9,586.1 309,586.7 310.2,587.3 311.4,587.8 312.6,588.4 313.7,588.9 314.9,589.4 316.1,589.9 317.2,590.4 318.4,590.8 319.6,591.3 320.7,591.8 321.9,592.2 323.1,592.7 324.2,593.1 325.4,593.5 326.6,594 327.7,594.4 328.9,594.8 330.1,595.3 331.2,595.7 332.4,596.1"/><path d="M206.3,571.9 207.5,572 208.6,572 209.8,572 211,572.1 212.1,572.1 213.3,572.1 214.5,572.2 215.6,572.2 216.8,572.3 218,572.3 219.1,572.4 220.3,572.4 221.5,572.5 222.6,572.6 223.8,572.7 225,572.8 226.1,572.9 227.3,573.1 228.5,573.2 229.7,573.3 230.8,573.5 232,573.7 233.2,573.9 234.3,574.1 235.5,574.3 236.7,574.5 237.8,574.8 239,575.1 240.2,575.3 241.3,575.6 242.5,575.9 243.7,576.2 244.8,576.5 246,576.8 247.2,577.1 248.3,577.4 249.5,577.7 250.7,578 251.8,578.3 253,578.5 254.2,578.8 255.3,579.1 256.5,579.3 257.7,579.5 258.8,579.8 260,580 261.2,580.2 262.3,580.4 263.5,580.6 264.7,580.8 265.8,580.9 267,581.1 268.2,581.3 269.4,581.5 270.5,581.7 271.7,582 272.9,582.2 274,582.4 275.2,582.7 276.4,582.9 277.5,583.2 278.7,583.5 279.9,583.7 281,584 282.2,584.3 283.4,584.6 284.5,584.9 285.7,585.2 286.9,585.5 288,585.8 289.2,586.1 290.4,586.4 291.5,586.6 292.7,586.9 293.9,587.2 295,587.5 296.2,587.7 297.4,588 298.5,588.3 299.7,588.6 300.9,588.9 302,589.1 303.2,589.4 304.4,589.7 305.5,590 306.7,590.3 307.9,590.6 309,590.9 310.2,591.2 311.4,591.5 312.6,591.8 313.7,592.1 314.9,592.4 316.1,592.6 317.2,592.8 318.4,593.1 319.6,593.3 320.7,593.4 321.9,593.6 323.1,593.8 324.2,593.9 325.4,594 326.6,594.2 327.7,594.3 328.9,594.4 330.1,594.5 331.2,594.6 332.4,594.7"/><path d="M206.3,570.8 207.5,570.9 208.6,570.9 209.8,571 211,571.1 212.1,571.2 213.3,571.3 214.5,571.3 215.6,571.4 216.8,571.5 218,571.6 219.1,571.7 220.3,571.8 221.5,571.8 222.6,571.9 223.8,572 225,572.1 226.1,572.2 227.3,572.3 228.5,572.4 229.7,572.5 230.8,572.7 232,572.8 233.2,572.9 234.3,573 235.5,573.1 236.7,573.2 237.8,573.4 239,573.5 240.2,573.6 241.3,573.8 242.5,573.9 243.7,574.1 244.8,574.2 246,574.4 247.2,574.5 248.3,574.6 249.5,574.8 250.7,574.9 251.8,575.1 253,575.2 254.2,575.4 255.3,575.5 256.5,575.7 257.7,575.8 258.8,575.9 260,576.1 261.2,576.2 262.3,576.3 263.5,576.4 264.7,576.5 265.8,576.6 267,576.7 268.2,576.8 269.4,576.9 270.5,577 271.7,577.1 272.9,577.1 274,577.2 275.2,577.2 276.4,577.3 277.5,577.3 278.7,577.3 279.9,577.3 281,577.3 282.2,577.3 283.4,577.3 284.5,577.3 285.7,577.3 286.9,577.3 288,577.3 289.2,577.3 290.4,577.2 291.5,577.2 292.7,577.2 293.9,577.2 295,577.2 296.2,577.2 297.4,577.2 298.5,577.1 299.7,577.1 300.9,577.1 302,577.1 303.2,577.1 304.4,577.1 305.5,577.1 306.7,577.1 307.9,577.1 309,577.1 310.2,577.1 311.4,577.1 312.6,577.1 313.7,577.1 314.9,577.1 316.1,577.2 317.2,577.2 318.4,577.2 319.6,577.2 320.7,577.2 321.9,577.2 323.1,577.2 324.2,577.2 325.4,577.2 326.6,577.2 327.7,577.3 328.9,577.3 330.1,577.3 331.2,577.3 332.4,577.3"/><path d="M206.3,570.8 207.5,570.8 208.6,570.9 209.8,571 211,571.1 212.1,571.1 213.3,571.2 214.5,571.3 215.6,571.4 216.8,571.5 218,571.5 219.1,571.6 220.3,571.7 221.5,571.8 222.6,572 223.8,572.1 225,572.2 226.1,572.3 227.3,572.5 228.5,572.6 229.7,572.8 230.8,572.9 232,573.1 233.2,573.3 234.3,573.5 235.5,573.7 236.7,573.9 237.8,574.2 239,574.4 240.2,574.6 241.3,574.9 242.5,575.1 243.7,575.4 244.8,575.7 246,575.9 247.2,576.2 248.3,576.4 249.5,576.7 250.7,577 251.8,577.2 253,577.4 254.2,577.7 255.3,577.9 256.5,578.1 257.7,578.3 258.8,578.5 260,578.7 261.2,578.8 262.3,579 263.5,579.1 264.7,579.3 265.8,579.4 267,579.5 268.2,579.6 269.4,579.8 270.5,579.9 271.7,579.9 272.9,580 274,580.1 275.2,580.2 276.4,580.2 277.5,580.3 278.7,580.4 279.9,580.4 281,580.5 282.2,580.5 283.4,580.5 284.5,580.6 285.7,580.6 286.9,580.6 288,580.6 289.2,580.7 290.4,580.7 291.5,580.7 292.7,580.7 293.9,580.7 295,580.7 296.2,580.7 297.4,580.7 298.5,580.7 299.7,580.7 300.9,580.8 302,580.8 303.2,580.8 304.4,580.8 305.5,580.8 306.7,580.8 307.9,580.8 309,580.8 310.2,580.8 311.4,580.8 312.6,580.8 313.7,580.8 314.9,580.8 316.1,580.8 317.2,580.8 318.4,580.8 319.6,580.8 320.7,580.8 321.9,580.7 323.1,580.7 324.2,580.7 325.4,580.7 326.6,580.7 327.7,580.7 328.9,580.7 330.1,580.7 331.2,580.7 332.4,580.7"/><path d="M206.3,571.4 207.5,571.4 208.6,571.4 209.8,571.5 211,571.5 212.1,571.6 213.3,571.6 214.5,571.7 215.6,571.7 216.8,571.8 218,571.8 219.1,571.9 220.3,572 221.5,572.1 222.6,572.2 223.8,572.3 225,572.5 226.1,572.6 227.3,572.8 228.5,572.9 229.7,573.1 230.8,573.3 232,573.5 233.2,573.8 234.3,574 235.5,574.3 236.7,574.6 237.8,574.9 239,575.2 240.2,575.6 241.3,575.9 242.5,576.3 243.7,576.6 244.8,577 246,577.4 247.2,577.8 248.3,578.1 249.5,578.5 250.7,578.9 251.8,579.2 253,579.6 254.2,579.9 255.3,580.3 256.5,580.6 257.7,580.9 258.8,581.2 260,581.5 261.2,581.7 262.3,581.9 263.5,582.2 264.7,582.4 265.8,582.6 267,582.7 268.2,582.9 269.4,583 270.5,583.2 271.7,583.3 272.9,583.3 274,583.4 275.2,583.5 276.4,583.5 277.5,583.5 278.7,583.6 279.9,583.6 281,583.6 282.2,583.6 283.4,583.6 284.5,583.6 285.7,583.6 286.9,583.6 288,583.6 289.2,583.6 290.4,583.6 291.5,583.6 292.7,583.6 293.9,583.6 295,583.6 296.2,583.6 297.4,583.6 298.5,583.6 299.7,583.6 300.9,583.6 302,583.6 303.2,583.6 304.4,583.6 305.5,583.6 306.7,583.6 307.9,583.6 309,583.6 310.2,583.6 311.4,583.6 312.6,583.6 313.7,583.6 314.9,583.6 316.1,583.6 317.2,583.6 318.4,583.6 319.6,583.6 320.7,583.6 321.9,583.6 323.1,583.6 324.2,583.6 325.4,583.6 326.6,583.6 327.7,583.6 328.9,583.6 330.1,583.6 331.2,583.6 332.4,583.6"/><path d="M206.3,569.6 207.5,569.7 208.6,569.7 209.8,569.8 211,569.9 212.1,569.9 213.3,570 214.5,570 215.6,570.1 216.8,570.2 218,570.2 219.1,570.3 220.3,570.3 221.5,570.4 222.6,570.4 223.8,570.5 225,570.5 226.1,570.6 227.3,570.6 228.5,570.6 229.7,570.7 230.8,570.7 232,570.7 233.2,570.7 234.3,570.8 235.5,570.8 236.7,570.8 237.8,570.8 239,570.8 240.2,570.8 241.3,570.8 242.5,570.8 243.7,570.8 244.8,570.8 246,570.8 247.2,570.8 248.3,570.8 249.5,570.8 250.7,570.8 251.8,570.7 253,570.7 254.2,570.7 255.3,570.7 256.5,570.7 257.7,570.7 258.8,570.7 260,570.7 261.2,570.7 262.3,570.7 263.5,570.8 264.7,570.8 265.8,570.8 267,570.8 268.2,570.9 269.4,570.9 270.5,570.9 271.7,571 272.9,571 274,571.1 275.2,571.1 276.4,571.2 277.5,571.2 278.7,571.3 279.9,571.3 281,571.4 282.2,571.4 283.4,571.5 284.5,571.5 285.7,571.6 286.9,571.7 288,571.7 289.2,571.8 290.4,571.8 291.5,571.9 292.7,571.9 293.9,572 295,572 296.2,572 297.4,572.1 298.5,572.1 299.7,572.1 300.9,572.2 302,572.2 303.2,572.2 304.4,572.3 305.5,572.3 306.7,572.3 307.9,572.3 309,572.4 310.2,572.4 311.4,572.4 312.6,572.4 313.7,572.4 314.9,572.4 316.1,572.4 317.2,572.4 318.4,572.5 319.6,572.5 320.7,572.5 321.9,572.5 323.1,572.5 324.2,572.5 325.4,572.5 326.6,572.5 327.7,572.5 328.9,572.5 330.1,572.5 331.2,572.5 332.4,572.5"/></g>
<path d="M206.3,571.9 332.4,571.9" fill="none" stroke="rgb(30,155,212)" stroke-width="1.25"/>
<path d="M206.3,571.7 207.5,571.7 208.6,571.6 209.8,571.6 211,571.6 212.1,571.6 213.3,571.5 214.5,571.5 215.6,571.4 216.8,571.4 218,571.4 219.1,571.3 220.3,571.3 221.5,571.2 222.6,571.2 223.8,571.1 225,571.1 226.1,571 227.3,571 228.5,570.9 229.7,570.8 230.8,570.8 232,570.7 233.2,570.6 234.3,570.5 235.5,570.4 236.7,570.3 237.8,570.2 239,570.1 240.2,570 241.3,569.9 242.5,569.8 243.7,569.7 244.8,569.6 246,569.4 247.2,569.3 248.3,569.2 249.5,569.1 250.7,569 251.8,568.8 253,568.7 254.2,568.6 255.3,568.5 256.5,568.4 257.7,568.3 258.8,568.2 260,568.1 261.2,568.1 262.3,568 263.5,568 264.7,568 265.8,568 267,568 268.2,568 269.4,568.1 270.5,568.1 271.7,568.2 272.9,568.3 274,568.4 275.2,568.6 276.4,568.7 277.5,568.9 278.7,569.1 279.9,569.2 281,569.4 282.2,569.6 283.4,569.8 284.5,570 285.7,570.2 286.9,570.4 288,570.5 289.2,570.7 290.4,570.8 291.5,571 292.7,571.1 293.9,571.2 295,571.3 296.2,571.4 297.4,571.5 298.5,571.6 299.7,571.6 300.9,571.7 302,571.8 303.2,571.8 304.4,571.9 305.5,571.9 306.7,572 307.9,572 309,572 310.2,572.1 311.4,572.1 312.6,572.1 313.7,572.2 314.9,572.2 316.1,572.2 317.2,572.2 318.4,572.2 319.6,572.2 320.7,572.2 321.9,572.3 323.1,572.3 324.2,572.3 325.4,572.3 326.6,572.3 327.7,572.3 328.9,572.3 330.1,572.3 331.2,572.3 332.4,572.3" fill="none" stroke="#000" stroke-width="2.1" stroke-linecap="round" stroke-linejoin="round"/>
<path d="M229.1,490.6V493.9 M253.6,490.6V493.9" stroke="rgb(200,70,70)" stroke-width="0.95" stroke-opacity="0.8" fill="none"/>
<path d="M332.8,571.7H336.8 M332.8,577.5H336.8" stroke="rgb(200,70,70)" stroke-width="1.15" stroke-opacity="0.72" fill="none"/>
<line x1="377.5" y1="490.2" x2="377.5" y2="601.5" stroke="#8a8a8a" stroke-width="1"/>
<line x1="377.5" y1="601.5" x2="506.9" y2="601.5" stroke="#8a8a8a" stroke-width="1"/>
<line x1="375.3" y1="601.1" x2="377.5" y2="601.1" stroke="#8a8a8a" stroke-width="0.8"/>
<text x="372.6" y="603.5" font-size="6.6" text-anchor="end" fill="#2a2a2a" stroke="#2a2a2a" stroke-width="0.15">-6</text>
<line x1="375.3" y1="585.26" x2="377.5" y2="585.26" stroke="#8a8a8a" stroke-width="0.8"/>
<text x="372.6" y="587.66" font-size="6.6" text-anchor="end" fill="#2a2a2a" stroke="#2a2a2a" stroke-width="0.15">-4</text>
<line x1="375.3" y1="569.41" x2="377.5" y2="569.41" stroke="#8a8a8a" stroke-width="0.8"/>
<text x="372.6" y="571.81" font-size="6.6" text-anchor="end" fill="#2a2a2a" stroke="#2a2a2a" stroke-width="0.15">-2</text>
<line x1="375.3" y1="553.57" x2="377.5" y2="553.57" stroke="#8a8a8a" stroke-width="0.8"/>
<text x="372.6" y="555.97" font-size="6.6" text-anchor="end" fill="#2a2a2a" stroke="#2a2a2a" stroke-width="0.15">0</text>
<line x1="375.3" y1="537.73" x2="377.5" y2="537.73" stroke="#8a8a8a" stroke-width="0.8"/>
<text x="372.6" y="540.13" font-size="6.6" text-anchor="end" fill="#2a2a2a" stroke="#2a2a2a" stroke-width="0.15">2</text>
<line x1="375.3" y1="521.89" x2="377.5" y2="521.89" stroke="#8a8a8a" stroke-width="0.8"/>
<text x="372.6" y="524.29" font-size="6.6" text-anchor="end" fill="#2a2a2a" stroke="#2a2a2a" stroke-width="0.15">4</text>
<line x1="375.3" y1="506.04" x2="377.5" y2="506.04" stroke="#8a8a8a" stroke-width="0.8"/>
<text x="372.6" y="508.44" font-size="6.6" text-anchor="end" fill="#2a2a2a" stroke="#2a2a2a" stroke-width="0.15">6</text>
<line x1="375.3" y1="490.2" x2="377.5" y2="490.2" stroke="#8a8a8a" stroke-width="0.8"/>
<text x="372.6" y="492.6" font-size="6.6" text-anchor="end" fill="#2a2a2a" stroke="#2a2a2a" stroke-width="0.15">8</text>
<line x1="377.56" y1="601.5" x2="377.56" y2="603.7" stroke="#8a8a8a" stroke-width="0.8"/>
<text x="377.56" y="611.2" font-size="6.6" text-anchor="middle" fill="#2a2a2a" stroke="#2a2a2a" stroke-width="0.15">-3</text>
<line x1="387.24" y1="601.5" x2="387.24" y2="603.7" stroke="#8a8a8a" stroke-width="0.8"/>
<text x="387.24" y="611.2" font-size="6.6" text-anchor="middle" fill="#2a2a2a" stroke="#2a2a2a" stroke-width="0.15">-2</text>
<line x1="396.92" y1="601.5" x2="396.92" y2="603.7" stroke="#8a8a8a" stroke-width="0.8"/>
<text x="396.92" y="611.2" font-size="6.6" text-anchor="middle" fill="#2a2a2a" stroke="#2a2a2a" stroke-width="0.15">-1</text>
<line x1="406.6" y1="601.5" x2="406.6" y2="603.7" stroke="#8a8a8a" stroke-width="0.8"/>
<text x="406.6" y="611.2" font-size="6.6" text-anchor="middle" fill="#2a2a2a" stroke="#2a2a2a" stroke-width="0.15">0</text>
<line x1="416.28" y1="601.5" x2="416.28" y2="603.7" stroke="#8a8a8a" stroke-width="0.8"/>
<text x="416.28" y="611.2" font-size="6.6" text-anchor="middle" fill="#2a2a2a" stroke="#2a2a2a" stroke-width="0.15">1</text>
<line x1="425.96" y1="601.5" x2="425.96" y2="603.7" stroke="#8a8a8a" stroke-width="0.8"/>
<text x="425.96" y="611.2" font-size="6.6" text-anchor="middle" fill="#2a2a2a" stroke="#2a2a2a" stroke-width="0.15">2</text>
<line x1="435.64" y1="601.5" x2="435.64" y2="603.7" stroke="#8a8a8a" stroke-width="0.8"/>
<text x="435.64" y="611.2" font-size="6.6" text-anchor="middle" fill="#2a2a2a" stroke="#2a2a2a" stroke-width="0.15">3</text>
<line x1="445.32" y1="601.5" x2="445.32" y2="603.7" stroke="#8a8a8a" stroke-width="0.8"/>
<text x="445.32" y="611.2" font-size="6.6" text-anchor="middle" fill="#2a2a2a" stroke="#2a2a2a" stroke-width="0.15">4</text>
<line x1="455" y1="601.5" x2="455" y2="603.7" stroke="#8a8a8a" stroke-width="0.8"/>
<text x="455" y="611.2" font-size="6.6" text-anchor="middle" fill="#2a2a2a" stroke="#2a2a2a" stroke-width="0.15">5</text>
<line x1="464.68" y1="601.5" x2="464.68" y2="603.7" stroke="#8a8a8a" stroke-width="0.8"/>
<text x="464.68" y="611.2" font-size="6.6" text-anchor="middle" fill="#2a2a2a" stroke="#2a2a2a" stroke-width="0.15">6</text>
<line x1="474.36" y1="601.5" x2="474.36" y2="603.7" stroke="#8a8a8a" stroke-width="0.8"/>
<text x="474.36" y="611.2" font-size="6.6" text-anchor="middle" fill="#2a2a2a" stroke="#2a2a2a" stroke-width="0.15">7</text>
<line x1="484.04" y1="601.5" x2="484.04" y2="603.7" stroke="#8a8a8a" stroke-width="0.8"/>
<text x="484.04" y="611.2" font-size="6.6" text-anchor="middle" fill="#2a2a2a" stroke="#2a2a2a" stroke-width="0.15">8</text>
<line x1="493.72" y1="601.5" x2="493.72" y2="603.7" stroke="#8a8a8a" stroke-width="0.8"/>
<text x="493.72" y="611.2" font-size="6.6" text-anchor="middle" fill="#2a2a2a" stroke="#2a2a2a" stroke-width="0.15">9</text>
<line x1="503.4" y1="601.5" x2="503.4" y2="603.7" stroke="#8a8a8a" stroke-width="0.8"/>
<text x="503.4" y="611.2" font-size="6.6" text-anchor="middle" fill="#2a2a2a" stroke="#2a2a2a" stroke-width="0.15">10</text>
<text x="443.2" y="622" font-size="7.3" text-anchor="middle" fill="#222" stroke="#222" stroke-width="0.12" textLength="63.3" lengthAdjust="spacingAndGlyphs">Time from gasp (s)</text>
<line x1="406.6" y1="490.2" x2="406.6" y2="601.5" stroke="#c2c2c2" stroke-width="1" stroke-dasharray="3.8,2.1" stroke-dashoffset="1.5"/>
<text transform="translate(360.1,546) rotate(-90)" font-size="7.3" text-anchor="middle" fill="#222" stroke="#222" stroke-width="0.12">Brain O<tspan font-size="4.7" dy="2.4">2</tspan><tspan dy="-2.4"> </tspan>EF (%)</text>
<text x="349.8" y="494.9" font-size="12.5" font-weight="bold" fill="#000" stroke="#000" stroke-width="0.3">m</text>
<text x="437.7" y="512.3" font-size="6.5" fill="#151515" textLength="22.6" lengthAdjust="spacingAndGlyphs"><tspan font-style="italic">P</tspan> = 0.20</text>
<g fill="none" stroke="rgb(80,182,226)" stroke-width="0.9" stroke-opacity="0.74"><path d="M386.9,504.5 388.1,504.1 389.3,503.7 390.4,503.3 391.6,503 392.8,502.6 393.9,502.2 395.1,501.9 396.3,501.5 397.4,501.1 398.6,500.7 399.8,500.3 400.9,499.9 402.1,499.5 403.3,499.1 404.4,498.7 405.6,498.5 406.7,498.3 407.9,498.1 409.1,497.9 410.2,497.8 411.4,497.7 412.6,497.5 413.7,497.4 414.9,497.4 416.1,497.3 417.2,497.3 418.4,497.3 419.6,497.4 420.7,497.4 421.9,497.4 423,497.4 424.2,497.5 425.4,497.5 426.5,497.5 427.7,497.6 428.9,497.6 430,497.6 431.2,497.7 432.4,497.7 433.5,497.7 434.7,497.7 435.9,497.7 437,497.7 438.2,497.7 439.4,497.7 440.5,497.7 441.7,497.7 442.8,497.7 444,497.7 445.2,497.7 446.3,497.7 447.5,497.7 448.7,497.7 449.8,497.7 451,497.7 452.2,497.7 453.3,497.7 454.5,497.7 455.7,497.7 456.8,497.7 458,497.7 459.1,497.7 460.3,497.7 461.5,497.7 462.6,497.7 463.8,497.7 465,497.7 466.1,497.7 467.3,497.7 468.5,497.7 469.6,497.7 470.8,497.7 472,497.7 473.1,497.7 474.3,497.7 475.5,497.7 476.6,497.7 477.8,497.7 478.9,497.7 480.1,497.7 481.3,497.7 482.4,497.7 483.6,497.7 484.8,497.7 485.9,497.7 487.1,497.7 488.3,497.7 489.4,497.7 490.6,497.7 491.8,497.7 492.9,497.7 494.1,497.7 495.2,497.7 496.4,497.7 497.6,497.7 498.7,497.7 499.9,497.7 501.1,497.7 502.2,497.7 503.4,497.7"/><path d="M377.6,573.4 378.7,571.7 379.9,570.1 381.1,568.5 382.2,566.9 383.4,565.3 384.6,563.7 385.8,562.1 386.9,560.5 388.1,558.9 389.3,557.4 390.4,555.8 391.6,554.2 392.8,552.7 393.9,551.1 395.1,549.6 396.3,548.1 397.5,546.5 398.6,545 399.8,543.5 401,542 402.1,540.5 403.3,539 404.5,537.4 405.6,535.9 406.8,534.3 408,532.6 409.2,530.9 410.3,529.1 411.5,527.5 412.7,525.9 413.8,524.5 415,522.9 416.2,521.6 417.3,520.8 418.5,520.7 419.7,520.7 420.9,520.7 422,520.7 423.2,520.7 424.4,520.7 425.5,520.7 426.7,520.7 427.9,520.7 429,520.7 430.2,520.7 431.4,521.1 432.6,521.6 433.7,522.1 434.9,522.3 436.1,522.3 437.2,522.3 438.4,522.3 439.6,522.3 440.7,522.3 441.9,522.3 443.1,522.3 444.3,522.3 445.4,522.3 446.6,522.3 447.8,522.3 448.9,522.3 450.1,522.3 451.3,522.3 452.4,522.3 453.6,522.3 454.8,522.3 456,522.3 457.1,522.3 458.3,522.3 459.5,522.3 460.6,522.3 461.8,522.3 463,522.3 464.1,522.3 465.3,522.3 466.5,522.3 467.7,522.3 468.8,522.3 470,522.3 471.2,522.3 472.3,522.3 473.5,522.3 474.7,522.3 475.8,522.3 477,522.3 478.2,522.3 479.4,522.3 480.5,522.3 481.7,522.3 482.9,522.3 484,522.3"/><path d="M377.6,553.6 378.7,553.6 379.9,553.6 381.1,553.6 382.2,553.6 383.4,553.7 384.6,553.7 385.7,553.7 386.9,553.8 388,553.8 389.2,553.9 390.4,553.9 391.5,554 392.7,554.1 393.9,554.1 395,554.2 396.2,554.3 397.4,554.4 398.5,554.5 399.7,554.6 400.9,554.7 402,554.7 403.2,554.8 404.4,555 405.5,555.1 406.7,555.2 407.9,555.3 409,555.5 410.2,555.7 411.4,555.9 412.5,556.2 413.7,556.5 414.8,556.8 416,557.1 417.2,557.4 418.3,557.8 419.5,558.1 420.7,558.5 421.8,558.8 423,559.1 424.2,559.4 425.3,559.8 426.5,560 427.7,560.3 428.8,560.7 430,561 431.2,561.3 432.3,561.7 433.5,562 434.7,562.3 435.8,562.6 437,563 438.1,563.3 439.3,563.6 440.5,563.8 441.6,564.1 442.8,564.3 444,564.5 445.1,564.6 446.3,564.8 447.5,564.9 448.6,565 449.8,565.2 451,565.3 452.1,565.4 453.3,565.4 454.5,565.4 455.6,565.4 456.8,565.4 458,565.4 459.1,565.3 460.3,565.2 461.5,565.1 462.6,564.9 463.8,564.8 464.9,564.6 466.1,564.4 467.3,564.1 468.4,563.8 469.6,563.4 470.8,563 471.9,562.5 473.1,562 474.3,561.5 475.4,561 476.6,560.5 477.8,559.9 478.9,559.3 480.1,558.6 481.3,557.9 482.4,557.1 483.6,556.3 484.8,555.4 485.9,554.5 487.1,553.4 488.3,552.1 489.4,550.3 490.6,547.5 491.7,544 492.9,540.2 494.1,536.7 495.2,533.1 496.4,529.5 497.6,525.8 498.7,522 499.9,518.2 501.1,514.2 502.2,510.2 503.4,506"/><path d="M377.6,552 378.7,552.1 379.9,552.3 381.1,552.5 382.2,552.7 383.4,552.8 384.6,553 385.7,553.2 386.9,553.4 388,553.6 389.2,553.9 390.4,554.1 391.5,554.3 392.7,554.5 393.9,554.8 395,555 396.2,555.2 397.4,555.5 398.5,555.7 399.7,556 400.9,556.2 402,556.5 403.2,556.8 404.4,557 405.5,557.3 406.7,557.6 407.9,557.8 409,558.1 410.2,558.5 411.4,558.8 412.5,559.2 413.7,559.5 414.8,559.9 416,560.3 417.2,560.6 418.3,561 419.5,561.4 420.7,561.7 421.8,562.1 423,562.4 424.2,562.7 425.3,562.9 426.5,563.2 427.7,563.4 428.8,563.7 430,563.9 431.2,564.2 432.3,564.4 433.5,564.6 434.7,564.8 435.8,565 437,565.2 438.1,565.4 439.3,565.6 440.5,565.8 441.6,565.9 442.8,566 444,566.1 445.1,566.2 446.3,566.3 447.5,566.4 448.6,566.5 449.8,566.5 451,566.6 452.1,566.7 453.3,566.7 454.5,566.8 455.6,566.8 456.8,566.9 458,566.9 459.1,567 460.3,567 461.5,567 462.6,567 463.8,567 464.9,567 466.1,566.9 467.3,566.6 468.4,566.1 469.6,565.6 470.8,565 471.9,564.3 473.1,563.7 474.3,563.1 475.4,562.6 476.6,562 477.8,561.4 478.9,560.8 480.1,560.1 481.3,559.4 482.4,558.7 483.6,557.9 484.8,557 485.9,555.9 487.1,554.8 488.3,553.6 489.4,552.3 490.6,550.9 491.7,549.5 492.9,548.2 494.1,546.8 495.2,545.5 496.4,544.1 497.6,542.7 498.7,541.3 499.9,539.8 501.1,538.4 502.2,536.9 503.4,535.4"/><path d="M377.6,531.4 378.7,533.4 379.9,535.4 381.1,537.3 382.2,539.2 383.4,541 384.6,542.7 385.7,544.4 386.9,546 388,547.5 389.2,549 390.4,550.5 391.5,551.9 392.7,553.2 393.9,554.5 395,555.7 396.2,556.9 397.4,557.9 398.5,559 399.7,560 400.9,560.9 402,561.8 403.2,562.7 404.4,563.4 405.5,564.1 406.7,564.7 407.9,565.2 409,565.8 410.2,566.3 411.4,566.8 412.5,567.2 413.7,567.5 414.8,567.7 416,567.8 417.2,567.8 418.3,567.7 419.5,567.5 420.7,567.3 421.8,567 423,566.8 424.2,566.5 425.3,566.3 426.5,566.2 427.7,566.1 428.8,565.9 430,565.8 431.2,565.7 432.3,565.6 433.5,565.5 434.7,565.5 435.8,565.5 437,565.5 438.1,565.5 439.3,565.5 440.5,565.5 441.6,565.5 442.8,565.5 444,565.5 445.1,565.5 446.3,565.5 447.5,565.5 448.6,565.5 449.8,565.5 451,565.5 452.1,565.5 453.3,565.5 454.5,565.5 455.6,565.5 456.8,565.5 458,565.5 459.1,565.5 460.3,565.5 461.5,565.5 462.6,565.5 463.8,565.5 464.9,565.5 466.1,565.4 467.3,565.4 468.4,565.4 469.6,565.4 470.8,565.4 471.9,565.3 473.1,565.3 474.3,565.3 475.4,565.2 476.6,565.2 477.8,565.2 478.9,565.1 480.1,565.1 481.3,565.1 482.4,565.1 483.6,565.1 484.8,565.1 485.9,565.1 487.1,565.1 488.3,565.1 489.4,565.1 490.6,565.1 491.7,565.1 492.9,565.1 494.1,565.1 495.2,565.1 496.4,565.1 497.6,565.1 498.7,565.1 499.9,565.1 501.1,565.1 502.2,565.1 503.4,565.1"/><path d="M377.6,553.6 378.7,553.6 379.9,553.6 381.1,553.6 382.2,553.6 383.4,553.7 384.6,553.7 385.7,553.7 386.9,553.8 388,553.9 389.2,553.9 390.4,554 391.5,554.1 392.7,554.2 393.9,554.3 395,554.4 396.2,554.5 397.4,554.6 398.5,554.8 399.7,554.9 400.9,555.1 402,555.2 403.2,555.4 404.4,555.6 405.5,555.8 406.7,556 407.9,556.3 409,557 410.2,557.8 411.4,558.8 412.5,559.9 413.7,561.1 414.8,562.4 416,563.6 417.2,564.9 418.3,566.4 419.5,568.1 420.7,569.9 421.8,571.7 423,573.5 424.2,575.2 425.3,576.6 426.5,577.9 427.7,579.2 428.8,580.5 430,581.7 431.2,582.9 432.3,583.9 433.5,584.6 434.7,585.1 435.8,585.3 437,585.2 438.1,585 439.3,584.6 440.5,584.2 441.6,583.8 442.8,583.3 444,582.7 445.1,582.2 446.3,581.5 447.5,580.7 448.6,579.8 449.8,578.7 451,577.6 452.1,576.6 453.3,575.6 454.5,574.5 455.6,573.5 456.8,572.5 458,571.4 459.1,570.4 460.3,569.3 461.5,568.3 462.6,567.2 463.8,566.2 464.9,565.2 466.1,564.2 467.3,563.1 468.4,562.1 469.6,561 470.8,560.1 471.9,559.1 473.1,558.3 474.3,557.6 475.4,556.9 476.6,556.3 477.8,555.7 478.9,555.2 480.1,554.7 481.3,554.2 482.4,553.9 483.6,553.6 484.8,553.5 485.9,553.3 487.1,553.2 488.3,553.1 489.4,553 490.6,552.9 491.7,552.8 492.9,552.8 494.1,552.8 495.2,552.9 496.4,553.3 497.6,553.7 498.7,554.3 499.9,555 501.1,555.8 502.2,556.6 503.4,557.5"/><path d="M377.6,552 378.7,552.3 379.9,552.6 381,552.9 382.2,553.2 383.4,553.5 384.5,553.8 385.7,554.2 386.9,554.5 388,554.8 389.2,555.1 390.3,555.4 391.5,555.7 392.7,556.1 393.8,556.4 395,556.7 396.1,557 397.3,557.3 398.5,557.6 399.6,558 400.8,558.3 402,558.6 403.1,558.9 404.3,559.3 405.4,559.6 406.6,559.9 407.8,560.2 408.9,560.5 410.1,560.9 411.2,561.2 412.4,561.5 413.6,561.8 414.7,562.1 415.9,562.4 417.1,562.7 418.2,563.1 419.4,563.4 420.5,563.7 421.7,564.1 422.9,564.4 424,564.8 425.2,565.2 426.3,565.6 427.5,566 428.7,566.4 429.8,566.9 431,567.3 432.2,567.8 433.3,568.3 434.5,568.8 435.6,569.4 436.8,570 438,570.8 439.1,571.5 440.3,572.3 441.4,573.1 442.6,574 443.8,574.8 444.9,575.5 446.1,576.2 447.3,576.9 448.4,577.6 449.6,578.2 450.7,578.9 451.9,579.5 453.1,580.2 454.2,580.9 455.4,581.5 456.5,582.2 457.7,582.9 458.9,583.6 460,584.2 461.2,584.9 462.4,585.6 463.5,586.2 464.7,586.8 465.8,587.5 467,588.1 468.2,588.7 469.3,589.3 470.5,589.9 471.6,590.5 472.8,591 474,591.5 475.1,591.9 476.3,592.3 477.5,592.8 478.6,593.2 479.8,593.6 480.9,593.9 482.1,594.2 483.3,594.3 484.4,594.4 485.6,594.4 486.8,594.4 487.9,594.3 489.1,594.3 490.2,594.3 491.4,594.2 492.6,594.1 493.7,594"/><path d="M377.6,552.8 378.7,552.9 379.9,553 381.1,553.1 382.2,553.2 383.4,553.3 384.6,553.5 385.7,553.6 386.9,553.8 388,553.9 389.2,554.1 390.4,554.3 391.5,554.5 392.7,554.7 393.9,554.9 395,555.1 396.2,555.3 397.4,555.6 398.5,555.8 399.7,556 400.9,556.3 402,556.5 403.2,556.8 404.4,557 405.5,557.3 406.7,557.6 407.9,557.9 409,558.2 410.2,558.6 411.4,559.1 412.5,559.6 413.7,560.1 414.8,560.6 416,561.1 417.2,561.6 418.3,562.1 419.5,562.5 420.7,562.9 421.8,563.3 423,563.6 424.2,563.7 425.3,563.9 426.5,563.9 427.7,563.9 428.8,563.9 430,563.9 431.2,563.9 432.3,563.9 433.5,563.9 434.7,563.9 435.8,563.9 437,563.7 438.1,563.4 439.3,563 440.5,562.5 441.6,561.9 442.8,561.2 444,560.6 445.1,560 446.3,559.4 447.5,558.8 448.6,558.1 449.8,557.4 451,556.6 452.1,555.9 453.3,555.3 454.5,554.6 455.6,554.1 456.8,553.5 458,552.9 459.1,552.4 460.3,551.8 461.5,551.4 462.6,551 463.8,550.6 464.9,550.3 466.1,550.1 467.3,549.9 468.4,549.7 469.6,549.6 470.8,549.6 471.9,549.7 473.1,549.9 474.3,550.2 475.4,550.6 476.6,551 477.8,551.4 478.9,551.9 480.1,552.3 481.3,552.8 482.4,553.4 483.6,554 484.8,554.7 485.9,555.4 487.1,556.2 488.3,557.1 489.4,558 490.6,559 491.7,560.3 492.9,561.6 494.1,563.1 495.2,564.6 496.4,566.3 497.6,568 498.7,569.7 499.9,571.6 501.1,573.6 502.2,575.8 503.4,578.1"/><path d="M377.6,553.6 378.7,553.7 379.9,553.8 381.1,553.9 382.2,554.1 383.4,554.2 384.6,554.4 385.7,554.5 386.9,554.7 388,554.9 389.2,555 390.4,555.2 391.5,555.4 392.7,555.6 393.9,555.8 395,556 396.2,556.2 397.4,556.5 398.5,556.7 399.7,556.9 400.9,557.1 402,557.4 403.2,557.6 404.4,557.9 405.5,558.1 406.7,558.3 407.9,558.6 409,558.9 410.2,559.2 411.4,559.5 412.5,559.8 413.7,560.1 414.8,560.4 416,560.8 417.2,561.1 418.3,561.5 419.5,561.8 420.7,562.2 421.8,562.5 423,562.9 424.2,563.3 425.3,563.7 426.5,564 427.7,564.4 428.8,564.8 430,565.2 431.2,565.6 432.3,566 433.5,566.4 434.7,566.8 435.8,567.2 437,567.7 438.1,568.1 439.3,568.6 440.5,569 441.6,569.5 442.8,569.9 444,570.4 445.1,570.9 446.3,571.5 447.5,572.1 448.6,572.7 449.8,573.4 451,574 452.1,574.7 453.3,575.2 454.5,575.6 455.6,575.9 456.8,576.2 458,576.5 459.1,576.7 460.3,576.9 461.5,577.1 462.6,577.2 463.8,577.3 464.9,577.3 466.1,577.3 467.3,577.3 468.4,577.3 469.6,577.3 470.8,577.3 471.9,577.3 473.1,577.3 474.3,577.3 475.4,577.3 476.6,577.3 477.8,577.2 478.9,577.1 480.1,577 481.3,576.8 482.4,576.7 483.6,576.6 484.8,576.5 485.9,576.4 487.1,576.2 488.3,576.1 489.4,576 490.6,575.9 491.7,575.7 492.9,575.6 494.1,575.4 495.2,575.3 496.4,575.1 497.6,575 498.7,574.8 499.9,574.7 501.1,574.5 502.2,574.3 503.4,574.2"/><path d="M377.6,553.6 378.7,553.8 379.9,554 381.1,554.2 382.2,554.4 383.4,554.7 384.6,554.9 385.7,555.1 386.9,555.4 388,555.6 389.2,555.9 390.4,556.1 391.5,556.4 392.7,556.6 393.9,556.9 395,557.1 396.2,557.4 397.4,557.7 398.5,557.9 399.7,558.2 400.9,558.5 402,558.8 403.2,559.1 404.4,559.4 405.5,559.6 406.7,559.9 407.9,560.2 409,560.5 410.2,560.8 411.4,561.1 412.5,561.4 413.7,561.7 414.8,562.1 416,562.4 417.2,562.7 418.3,563.1 419.5,563.4 420.7,563.8 421.8,564.1 423,564.5 424.2,564.9 425.3,565.2 426.5,565.6 427.7,566 428.8,566.4 430,566.9 431.2,567.3 432.3,567.7 433.5,568.2 434.7,568.7 435.8,569.1 437,569.6 438.1,570.1 439.3,570.6 440.5,571.1 441.6,571.6 442.8,572.2 444,572.7 445.1,573.3 446.3,573.9 447.5,574.6 448.6,575.3 449.8,576 451,576.7 452.1,577.4 453.3,578.1 454.5,578.7 455.6,579.2 456.8,579.7 458,580.2 459.1,580.7 460.3,581.2 461.5,581.6 462.6,581.9 463.8,582 464.9,582.1 466.1,582.1 467.3,582 468.4,581.9 469.6,581.8 470.8,581.6 471.9,581.4 473.1,581 474.3,579.9 475.4,578.2 476.6,576.1 477.8,573.8 478.9,571.5 480.1,569.1 481.3,566.2 482.4,563 483.6,560.2 484.8,557.9 485.9,556.3 487.1,554.8 488.3,553.3 489.4,552.1 490.6,551 491.7,550.2 492.9,549.7 494.1,549.6 495.2,549.6 496.4,549.6 497.6,549.7 498.7,549.8 499.9,550 501.1,550.3 502.2,550.7 503.4,551.2"/></g>
<path d="M377.6,553.6 503.4,553.6" fill="none" stroke="rgb(30,155,212)" stroke-width="1.25"/>
<path d="M377.6,552.1 378.7,552 379.9,551.8 381.1,551.6 382.2,551.4 383.4,551.2 384.6,551.1 385.7,550.9 386.9,550.7 388,550.6 389.2,550.4 390.4,550.3 391.5,550.2 392.7,550 393.9,549.9 395,549.8 396.2,549.8 397.4,549.7 398.5,549.6 399.7,549.6 400.9,549.5 402,549.5 403.2,549.5 404.4,549.5 405.5,549.5 406.7,549.5 407.9,549.6 409,549.6 410.2,549.7 411.4,549.8 412.5,549.9 413.7,550 414.8,550.1 416,550.2 417.2,550.3 418.3,550.4 419.5,550.6 420.7,550.7 421.8,550.9 423,551 424.2,551.2 425.3,551.4 426.5,551.6 427.7,551.7 428.8,551.9 430,552.1 431.2,552.3 432.3,552.5 433.5,552.7 434.7,552.9 435.8,553.1 437,553.3 438.1,553.5 439.3,553.7 440.5,553.9 441.6,554.1 442.8,554.3 444,554.5 445.1,554.7 446.3,554.9 447.5,555 448.6,555.2 449.8,555.4 451,555.6 452.1,555.7 453.3,555.9 454.5,556 455.6,556.1 456.8,556.2 458,556.3 459.1,556.4 460.3,556.4 461.5,556.4 462.6,556.4 463.8,556.4 464.9,556.4 466.1,556.3 467.3,556.2 468.4,556.1 469.6,556 470.8,555.9 471.9,555.7 473.1,555.6 474.3,555.4 475.4,555.2 476.6,555.1 477.8,554.9 478.9,554.7 480.1,554.5 481.3,554.3 482.4,554.2 483.6,554 484.8,553.8 485.9,553.6 487.1,553.4 488.3,553.2 489.4,553 490.6,552.8 491.7,552.5 492.9,552.2 494.1,551.9 495.2,551.5 496.4,551.1 497.6,550.7 498.7,550.3 499.9,549.9 501.1,549.4 502.2,549 503.4,548.5" fill="none" stroke="#000" stroke-width="2.1" stroke-linecap="round" stroke-linejoin="round"/>
<path d="M417.5,490.6V493.9 M491.1,490.6V493.9 M506.3,490.6V493.9" stroke="rgb(200,70,70)" stroke-width="0.95" stroke-opacity="0.8" fill="none"/>
<path d="M503.8,511H507.8 M503.8,524.9H507.8 M503.8,553.8H507.8" stroke="rgb(200,70,70)" stroke-width="1.15" stroke-opacity="0.72" fill="none"/>
<line x1="549" y1="490.5" x2="549" y2="601.5" stroke="#8a8a8a" stroke-width="1"/>
<line x1="549" y1="601.5" x2="678.8" y2="601.5" stroke="#8a8a8a" stroke-width="1"/>
<line x1="546.8" y1="601.1" x2="549" y2="601.1" stroke="#8a8a8a" stroke-width="0.8"/>
<text x="544.1" y="603.5" font-size="6.6" text-anchor="end" fill="#2a2a2a" stroke="#2a2a2a" stroke-width="0.15">-5</text>
<line x1="546.8" y1="579.72" x2="549" y2="579.72" stroke="#8a8a8a" stroke-width="0.8"/>
<text x="544.1" y="582.12" font-size="6.6" text-anchor="end" fill="#2a2a2a" stroke="#2a2a2a" stroke-width="0.15">0</text>
<line x1="546.8" y1="558.34" x2="549" y2="558.34" stroke="#8a8a8a" stroke-width="0.8"/>
<text x="544.1" y="560.74" font-size="6.6" text-anchor="end" fill="#2a2a2a" stroke="#2a2a2a" stroke-width="0.15">5</text>
<line x1="546.8" y1="536.96" x2="549" y2="536.96" stroke="#8a8a8a" stroke-width="0.8"/>
<text x="544.1" y="539.36" font-size="6.6" text-anchor="end" fill="#2a2a2a" stroke="#2a2a2a" stroke-width="0.15">10</text>
<line x1="546.8" y1="515.58" x2="549" y2="515.58" stroke="#8a8a8a" stroke-width="0.8"/>
<text x="544.1" y="517.98" font-size="6.6" text-anchor="end" fill="#2a2a2a" stroke="#2a2a2a" stroke-width="0.15">15</text>
<line x1="546.8" y1="494.2" x2="549" y2="494.2" stroke="#8a8a8a" stroke-width="0.8"/>
<text x="544.1" y="496.6" font-size="6.6" text-anchor="end" fill="#2a2a2a" stroke="#2a2a2a" stroke-width="0.15">20</text>
<line x1="549.07" y1="601.5" x2="549.07" y2="603.7" stroke="#8a8a8a" stroke-width="0.8"/>
<text x="549.07" y="611.2" font-size="6.6" text-anchor="middle" fill="#2a2a2a" stroke="#2a2a2a" stroke-width="0.15">-3</text>
<line x1="558.78" y1="601.5" x2="558.78" y2="603.7" stroke="#8a8a8a" stroke-width="0.8"/>
<text x="558.78" y="611.2" font-size="6.6" text-anchor="middle" fill="#2a2a2a" stroke="#2a2a2a" stroke-width="0.15">-2</text>
<line x1="568.49" y1="601.5" x2="568.49" y2="603.7" stroke="#8a8a8a" stroke-width="0.8"/>
<text x="568.49" y="611.2" font-size="6.6" text-anchor="middle" fill="#2a2a2a" stroke="#2a2a2a" stroke-width="0.15">-1</text>
<line x1="578.2" y1="601.5" x2="578.2" y2="603.7" stroke="#8a8a8a" stroke-width="0.8"/>
<text x="578.2" y="611.2" font-size="6.6" text-anchor="middle" fill="#2a2a2a" stroke="#2a2a2a" stroke-width="0.15">0</text>
<line x1="587.91" y1="601.5" x2="587.91" y2="603.7" stroke="#8a8a8a" stroke-width="0.8"/>
<text x="587.91" y="611.2" font-size="6.6" text-anchor="middle" fill="#2a2a2a" stroke="#2a2a2a" stroke-width="0.15">1</text>
<line x1="597.62" y1="601.5" x2="597.62" y2="603.7" stroke="#8a8a8a" stroke-width="0.8"/>
<text x="597.62" y="611.2" font-size="6.6" text-anchor="middle" fill="#2a2a2a" stroke="#2a2a2a" stroke-width="0.15">2</text>
<line x1="607.33" y1="601.5" x2="607.33" y2="603.7" stroke="#8a8a8a" stroke-width="0.8"/>
<text x="607.33" y="611.2" font-size="6.6" text-anchor="middle" fill="#2a2a2a" stroke="#2a2a2a" stroke-width="0.15">3</text>
<line x1="617.04" y1="601.5" x2="617.04" y2="603.7" stroke="#8a8a8a" stroke-width="0.8"/>
<text x="617.04" y="611.2" font-size="6.6" text-anchor="middle" fill="#2a2a2a" stroke="#2a2a2a" stroke-width="0.15">4</text>
<line x1="626.75" y1="601.5" x2="626.75" y2="603.7" stroke="#8a8a8a" stroke-width="0.8"/>
<text x="626.75" y="611.2" font-size="6.6" text-anchor="middle" fill="#2a2a2a" stroke="#2a2a2a" stroke-width="0.15">5</text>
<line x1="636.46" y1="601.5" x2="636.46" y2="603.7" stroke="#8a8a8a" stroke-width="0.8"/>
<text x="636.46" y="611.2" font-size="6.6" text-anchor="middle" fill="#2a2a2a" stroke="#2a2a2a" stroke-width="0.15">6</text>
<line x1="646.17" y1="601.5" x2="646.17" y2="603.7" stroke="#8a8a8a" stroke-width="0.8"/>
<text x="646.17" y="611.2" font-size="6.6" text-anchor="middle" fill="#2a2a2a" stroke="#2a2a2a" stroke-width="0.15">7</text>
<line x1="655.88" y1="601.5" x2="655.88" y2="603.7" stroke="#8a8a8a" stroke-width="0.8"/>
<text x="655.88" y="611.2" font-size="6.6" text-anchor="middle" fill="#2a2a2a" stroke="#2a2a2a" stroke-width="0.15">8</text>
<line x1="665.59" y1="601.5" x2="665.59" y2="603.7" stroke="#8a8a8a" stroke-width="0.8"/>
<text x="665.59" y="611.2" font-size="6.6" text-anchor="middle" fill="#2a2a2a" stroke="#2a2a2a" stroke-width="0.15">9</text>
<line x1="675.3" y1="601.5" x2="675.3" y2="603.7" stroke="#8a8a8a" stroke-width="0.8"/>
<text x="675.3" y="611.2" font-size="6.6" text-anchor="middle" fill="#2a2a2a" stroke="#2a2a2a" stroke-width="0.15">10</text>
<text x="614.6" y="622" font-size="7.3" text-anchor="middle" fill="#222" stroke="#222" stroke-width="0.12" textLength="63.3" lengthAdjust="spacingAndGlyphs">Time from gasp (s)</text>
<line x1="578.2" y1="490.5" x2="578.2" y2="601.5" stroke="#c2c2c2" stroke-width="1" stroke-dasharray="3.8,2.1" stroke-dashoffset="1.5"/>
<text transform="translate(530.4,546) rotate(-90)" font-size="7.3" text-anchor="middle" fill="#222" stroke="#222" stroke-width="0.12">Systemic O<tspan font-size="4.7" dy="2.4">2</tspan><tspan dy="-2.4"> </tspan>EF (%)</text>
<text x="524.2" y="494.9" font-size="12.5" font-weight="bold" fill="#000" stroke="#000" stroke-width="0.3">n</text>
<text x="610.6" y="512.3" font-size="6.5" fill="#151515" textLength="22.4" lengthAdjust="spacingAndGlyphs"><tspan font-style="italic">P</tspan> = 0.68</text>
<g fill="none" stroke="rgb(80,182,226)" stroke-width="0.9" stroke-opacity="0.74"><path d="M549.1,587.4 550.2,586.2 551.4,585 552.6,583.8 553.7,582.6 554.9,581.4 556.1,580.2 557.3,578.9 558.4,577.7 559.6,576.4 560.8,575.2 561.9,573.9 563.1,572.6 564.3,571.3 565.4,570 566.6,568.6 567.8,567.2 568.9,565.8 570.1,564.3 571.3,562.8 572.4,561.2 573.6,559.4 574.8,557.6 576,555.7 577.1,553.6 578.3,551.3 579.5,548.9 580.6,546.4 581.8,543.8 583,541.1 584.1,538.3 585.3,535.6 586.5,532.9 587.6,530.2 588.8,527.6 590,525.2 591.1,522.9 592.3,520.7 593.5,518.6 594.7,516.7 595.8,514.9 597,513.2 598.2,511.6 599.3,510.2 600.5,508.9 601.7,507.7 602.8,506.7 604,505.7 605.2,504.9 606.3,504.1 607.5,503.5 608.7,503 609.8,502.6 611,502.4 612.2,502.2 613.4,502.1 614.5,502.1 615.7,502.2 616.9,502.3 618,502.5 619.2,502.6 620.4,502.8 621.5,502.9 622.7,502.9 623.9,502.9 625,502.8 626.2,502.6 627.4,502.3 628.5,501.9 629.7,501.4 630.9,500.9 632.1,500.4 633.2,499.8 634.4,499.2 635.6,498.7 636.7,498.1 637.9,497.6 639.1,497.2 640.2,496.7 641.4,496.3 642.6,496 643.7,495.6 644.9,495.3 646.1,495 647.2,494.7 648.4,494.4 649.6,494.1 650.8,493.8 651.9,493.5 653.1,493.2 654.3,492.9 655.4,492.7 656.6,492.4 657.8,492.2 658.9,491.9 660.1,491.7 661.3,491.6 662.4,491.4 663.6,491.3 664.8,491.2 665.9,491.2 667.1,491.1 668.3,491.2 669.5,491.2 670.6,491.3 671.8,491.3 673,491.4 674.1,491.5 675.3,491.6"/><path d="M549.1,577.6 550.2,577.8 551.4,577.9 552.6,578.1 553.7,578.2 554.9,578.4 556.1,578.5 557.3,578.7 558.4,578.8 559.6,578.9 560.8,579 561.9,579.1 563.1,579.2 564.3,579.2 565.4,579.2 566.6,579.2 567.8,579.2 568.9,579.1 570.1,579 571.3,578.9 572.4,578.8 573.6,578.6 574.8,578.4 576,578.2 577.1,577.9 578.3,577.6 579.5,577.2 580.6,576.8 581.8,576.3 583,575.8 584.1,575.3 585.3,574.7 586.5,574.1 587.6,573.5 588.8,572.8 590,572 591.1,571.3 592.3,570.5 593.5,569.7 594.7,568.9 595.8,568.1 597,567.3 598.2,566.5 599.3,565.8 600.5,565.1 601.7,564.4 602.8,563.8 604,563.1 605.2,562.5 606.3,561.9 607.5,561.2 608.7,560.6 609.8,560 611,559.4 612.2,558.7 613.4,558.1 614.5,557.5 615.7,556.9 616.9,556.3 618,555.7 619.2,555.1 620.4,554.5 621.5,554 622.7,553.5 623.9,553.1 625,552.7 626.2,552.5 627.4,552.3 628.5,552.1 629.7,552.1 630.9,552.1 632.1,552.2 633.2,552.3 634.4,552.5 635.6,552.6 636.7,552.8 637.9,553 639.1,553.2 640.2,553.3 641.4,553.5 642.6,553.6 643.7,553.8 644.9,553.9 646.1,554.1 647.2,554.2 648.4,554.3 649.6,554.4 650.8,554.5 651.9,554.6 653.1,554.7 654.3,554.8 655.4,554.9 656.6,555 657.8,555.1 658.9,555.2 660.1,555.3 661.3,555.4 662.4,555.5 663.6,555.6 664.8,555.7 665.9,555.8 667.1,555.9 668.3,556 669.5,556.1 670.6,556.2 671.8,556.3 673,556.4 674.1,556.5 675.3,556.6"/><path d="M549.1,579.7 550.2,579.6 551.4,579.5 552.6,579.4 553.7,579.3 554.9,579.2 556.1,579.1 557.3,579 558.4,578.9 559.6,578.7 560.8,578.6 561.9,578.4 563.1,578.3 564.3,578.1 565.4,577.9 566.6,577.7 567.8,577.5 568.9,577.2 570.1,577 571.3,576.7 572.4,576.4 573.6,576.1 574.8,575.7 576,575.4 577.1,575 578.3,574.6 579.5,574.1 580.6,573.6 581.8,573.2 583,572.6 584.1,572.1 585.3,571.6 586.5,571 587.6,570.4 588.8,569.9 590,569.3 591.1,568.7 592.3,568.1 593.5,567.5 594.7,567 595.8,566.4 597,565.9 598.2,565.4 599.3,564.9 600.5,564.5 601.7,564.1 602.8,563.7 604,563.4 605.2,563.1 606.3,562.8 607.5,562.6 608.7,562.4 609.8,562.3 611,562.2 612.2,562.1 613.4,562 614.5,562 615.7,562 616.9,562 618,562 619.2,562 620.4,562 621.5,562 622.7,562 623.9,561.9 625,561.9 626.2,561.8 627.4,561.7 628.5,561.6 629.7,561.4 630.9,561.2 632.1,561.1 633.2,560.9 634.4,560.7 635.6,560.6 636.7,560.5 637.9,560.4 639.1,560.3 640.2,560.2 641.4,560.2 642.6,560.2 643.7,560.2 644.9,560.3 646.1,560.3 647.2,560.4 648.4,560.5 649.6,560.6 650.8,560.7 651.9,560.8 653.1,560.9 654.3,561.1 655.4,561.2 656.6,561.3 657.8,561.5 658.9,561.7 660.1,561.8 661.3,562 662.4,562.2 663.6,562.4 664.8,562.5 665.9,562.7 667.1,562.9 668.3,563.1 669.5,563.3 670.6,563.5 671.8,563.7 673,563.9 674.1,564.1 675.3,564.3"/><path d="M549.1,579.7 550.2,579.8 551.4,579.9 552.6,579.9 553.7,580 554.9,580.1 556.1,580.1 557.3,580.2 558.4,580.3 559.6,580.3 560.8,580.4 561.9,580.4 563.1,580.5 564.3,580.6 565.4,580.6 566.6,580.7 567.8,580.7 568.9,580.8 570.1,580.8 571.3,580.8 572.4,580.9 573.6,580.9 574.8,580.9 576,581 577.1,581 578.3,581 579.5,581 580.6,581 581.8,581 583,581 584.1,581 585.3,581 586.5,581 587.6,581 588.8,581 590,581 591.1,581 592.3,581 593.5,581 594.7,581 595.8,581 597,581 598.2,581 599.3,581 600.5,581 601.7,581 602.8,581 604,581 605.2,581 606.3,581 607.5,580.9 608.7,580.9 609.8,580.8 611,580.7 612.2,580.6 613.4,580.4 614.5,580.2 615.7,580 616.9,579.8 618,579.5 619.2,579.2 620.4,578.8 621.5,578.4 622.7,578 623.9,577.5 625,577.1 626.2,576.5 627.4,576 628.5,575.4 629.7,574.8 630.9,574.2 632.1,573.6 633.2,573 634.4,572.3 635.6,571.7 636.7,571 637.9,570.4 639.1,569.7 640.2,569.1 641.4,568.5 642.6,567.9 643.7,567.3 644.9,566.7 646.1,566.1 647.2,565.5 648.4,565 649.6,564.4 650.8,563.9 651.9,563.4 653.1,562.9 654.3,562.4 655.4,561.9 656.6,561.5 657.8,561 658.9,560.6 660.1,560.2 661.3,559.7 662.4,559.3 663.6,559 664.8,558.6 665.9,558.2 667.1,557.9 668.3,557.6 669.5,557.2 670.6,556.9 671.8,556.6 673,556.4 674.1,556.1 675.3,555.8"/><path d="M549.1,579.7 550.2,579.7 551.4,579.6 552.6,579.6 553.7,579.5 554.9,579.5 556.1,579.4 557.3,579.4 558.4,579.3 559.6,579.3 560.8,579.3 561.9,579.2 563.1,579.2 564.3,579.2 565.4,579.2 566.6,579.2 567.8,579.2 568.9,579.2 570.1,579.3 571.3,579.3 572.4,579.3 573.6,579.4 574.8,579.5 576,579.5 577.1,579.6 578.3,579.7 579.5,579.8 580.6,580 581.8,580.1 583,580.2 584.1,580.4 585.3,580.5 586.5,580.7 587.6,580.8 588.8,581 590,581.1 591.1,581.3 592.3,581.4 593.5,581.5 594.7,581.6 595.8,581.7 597,581.8 598.2,581.9 599.3,581.9 600.5,582 601.7,582 602.8,581.9 604,581.9 605.2,581.8 606.3,581.8 607.5,581.6 608.7,581.5 609.8,581.3 611,581.2 612.2,580.9 613.4,580.7 614.5,580.4 615.7,580.1 616.9,579.8 618,579.4 619.2,579 620.4,578.6 621.5,578.1 622.7,577.6 623.9,577 625,576.4 626.2,575.8 627.4,575.1 628.5,574.3 629.7,573.6 630.9,572.8 632.1,572 633.2,571.2 634.4,570.4 635.6,569.6 636.7,568.9 637.9,568.1 639.1,567.5 640.2,566.8 641.4,566.2 642.6,565.6 643.7,565 644.9,564.5 646.1,563.9 647.2,563.4 648.4,562.9 649.6,562.4 650.8,562 651.9,561.6 653.1,561.3 654.3,561.1 655.4,560.9 656.6,560.9 657.8,560.9 658.9,561 660.1,561.2 661.3,561.4 662.4,561.7 663.6,562 664.8,562.4 665.9,562.7 667.1,563.1 668.3,563.5 669.5,563.9 670.6,564.3 671.8,564.8 673,565.2 674.1,565.6 675.3,566"/><path d="M549.1,579.7 550.2,579.6 551.4,579.6 552.6,579.5 553.7,579.4 554.9,579.4 556.1,579.3 557.2,579.2 558.4,579.2 559.6,579.1 560.7,579.1 561.9,579.1 563.1,579 564.2,579 565.4,579 566.5,579 567.7,579 568.9,579.1 570,579.1 571.2,579.1 572.4,579.2 573.5,579.3 574.7,579.4 575.9,579.5 577,579.6 578.2,579.7 579.4,579.9 580.5,580 581.7,580.2 582.9,580.4 584,580.6 585.2,580.8 586.4,581.1 587.5,581.3 588.7,581.5 589.9,581.7 591,582 592.2,582.2 593.3,582.4 594.5,582.6 595.7,582.8 596.8,583 598,583.2 599.2,583.4 600.3,583.5 601.5,583.7 602.7,583.8 603.8,584 605,584.1 606.2,584.2 607.3,584.4 608.5,584.5 609.7,584.7 610.8,584.9 612,585.1 613.2,585.3 614.3,585.5 615.5,585.8 616.7,586 617.8,586.3 619,586.7 620.1,587 621.3,587.4 622.5,587.8 623.6,588.1 624.8,588.5 626,588.9 627.1,589.2 628.3,589.6 629.5,589.9 630.6,590.3 631.8,590.6 633,590.9 634.1,591.2 635.3,591.4 636.5,591.7 637.6,591.9 638.8,592.2 640,592.4 641.1,592.6 642.3,592.8 643.5,593 644.6,593.2 645.8,593.4 646.9,593.5 648.1,593.6 649.3,593.7 650.4,593.8 651.6,593.9 652.8,593.9 653.9,593.9 655.1,593.9 656.3,593.9 657.4,593.9 658.6,593.8 659.8,593.7 660.9,593.6 662.1,593.4 663.3,593.3 664.4,593.1 665.6,593"/><path d="M549.1,577.6 550.2,577.7 551.4,577.9 552.6,578 553.7,578.1 554.9,578.3 556.1,578.4 557.3,578.5 558.4,578.7 559.6,578.8 560.8,579 561.9,579.1 563.1,579.3 564.3,579.5 565.4,579.6 566.6,579.8 567.8,580 568.9,580.2 570.1,580.4 571.3,580.6 572.4,580.8 573.6,581 574.8,581.2 576,581.4 577.1,581.6 578.3,581.9 579.5,582.1 580.6,582.4 581.8,582.6 583,582.9 584.1,583.2 585.3,583.5 586.5,583.7 587.6,584 588.8,584.3 590,584.5 591.1,584.8 592.3,585.1 593.5,585.3 594.7,585.6 595.8,585.8 597,586 598.2,586.2 599.3,586.4 600.5,586.6 601.7,586.8 602.8,586.9 604,587.1 605.2,587.2 606.3,587.4 607.5,587.5 608.7,587.6 609.8,587.7 611,587.8 612.2,587.9 613.4,588 614.5,588.1 615.7,588.2 616.9,588.3 618,588.3 619.2,588.4 620.4,588.5 621.5,588.5 622.7,588.6 623.9,588.7 625,588.7 626.2,588.8 627.4,588.8 628.5,588.9 629.7,588.9 630.9,589 632.1,589 633.2,589 634.4,589.1 635.6,589.1 636.7,589.1 637.9,589.2 639.1,589.2 640.2,589.2 641.4,589.2 642.6,589.2 643.7,589.3 644.9,589.3 646.1,589.3 647.2,589.3 648.4,589.3 649.6,589.3 650.8,589.3 651.9,589.3 653.1,589.3 654.3,589.3 655.4,589.3 656.6,589.3 657.8,589.3 658.9,589.3 660.1,589.3 661.3,589.3 662.4,589.3 663.6,589.3 664.8,589.2 665.9,589.2 667.1,589.2 668.3,589.2 669.5,589.2 670.6,589.2 671.8,589.2 673,589.2 674.1,589.1 675.3,589.1"/><path d="M549.1,579.7 550.2,579.7 551.4,579.7 552.6,579.8 553.7,579.8 554.9,579.8 556.1,579.8 557.3,579.8 558.4,579.8 559.6,579.8 560.8,579.8 561.9,579.8 563.1,579.9 564.3,579.9 565.4,579.9 566.6,579.9 567.8,579.9 568.9,579.8 570.1,579.8 571.3,579.8 572.4,579.8 573.6,579.8 574.8,579.8 576,579.8 577.1,579.7 578.3,579.7 579.5,579.7 580.6,579.7 581.8,579.6 583,579.6 584.1,579.6 585.3,579.5 586.5,579.5 587.6,579.5 588.8,579.5 590,579.5 591.1,579.5 592.3,579.5 593.5,579.5 594.7,579.6 595.8,579.6 597,579.7 598.2,579.8 599.3,579.9 600.5,580 601.7,580.1 602.8,580.2 604,580.4 605.2,580.5 606.3,580.7 607.5,580.8 608.7,581 609.8,581.1 611,581.3 612.2,581.4 613.4,581.5 614.5,581.7 615.7,581.8 616.9,581.8 618,581.9 619.2,582 620.4,582 621.5,582 622.7,582 623.9,582 625,582 626.2,582 627.4,582 628.5,582 629.7,581.9 630.9,581.9 632.1,581.9 633.2,581.9 634.4,581.9 635.6,581.9 636.7,581.9 637.9,581.9 639.1,581.9 640.2,581.9 641.4,582 642.6,582 643.7,582.1 644.9,582.2 646.1,582.2 647.2,582.3 648.4,582.4 649.6,582.5 650.8,582.6 651.9,582.7 653.1,582.8 654.3,583 655.4,583.1 656.6,583.2 657.8,583.4 658.9,583.5 660.1,583.6 661.3,583.8 662.4,583.9 663.6,584.1 664.8,584.2 665.9,584.4 667.1,584.6 668.3,584.7 669.5,584.9 670.6,585 671.8,585.2 673,585.4 674.1,585.5 675.3,585.7"/><path d="M549.1,581.9 550.2,581.8 551.4,581.7 552.6,581.6 553.7,581.5 554.9,581.4 556.1,581.3 557.3,581.2 558.4,581.1 559.6,581 560.8,580.9 561.9,580.8 563.1,580.7 564.3,580.7 565.4,580.6 566.6,580.5 567.8,580.4 568.9,580.3 570.1,580.2 571.3,580.2 572.4,580.1 573.6,580 574.8,579.9 576,579.9 577.1,579.8 578.3,579.7 579.5,579.6 580.6,579.6 581.8,579.5 583,579.5 584.1,579.4 585.3,579.4 586.5,579.3 587.6,579.2 588.8,579.2 590,579.1 591.1,579.1 592.3,579 593.5,579 594.7,578.9 595.8,578.9 597,578.9 598.2,578.8 599.3,578.8 600.5,578.7 601.7,578.7 602.8,578.6 604,578.6 605.2,578.5 606.3,578.5 607.5,578.4 608.7,578.4 609.8,578.3 611,578.3 612.2,578.2 613.4,578.2 614.5,578.1 615.7,578.1 616.9,578 618,578 619.2,577.9 620.4,577.9 621.5,577.9 622.7,577.8 623.9,577.8 625,577.7 626.2,577.7 627.4,577.7 628.5,577.6 629.7,577.6 630.9,577.6 632.1,577.6 633.2,577.6 634.4,577.6 635.6,577.6 636.7,577.6 637.9,577.6 639.1,577.6 640.2,577.6 641.4,577.7 642.6,577.7 643.7,577.7 644.9,577.8 646.1,577.8 647.2,577.8 648.4,577.9 649.6,577.9 650.8,578 651.9,578.1 653.1,578.1 654.3,578.2 655.4,578.3 656.6,578.3 657.8,578.4 658.9,578.5 660.1,578.6 661.3,578.6 662.4,578.7 663.6,578.8 664.8,578.9 665.9,579 667.1,579.1 668.3,579.2 669.5,579.3 670.6,579.3 671.8,579.4 673,579.5 674.1,579.6 675.3,579.7"/><path d="M549.1,576.3 550.2,576.4 551.4,576.6 552.6,576.7 553.7,576.9 554.9,577 556.1,577.2 557.3,577.3 558.4,577.5 559.6,577.6 560.8,577.7 561.9,577.9 563.1,578 564.3,578.2 565.4,578.3 566.6,578.4 567.8,578.6 568.9,578.7 570.1,578.8 571.3,579 572.4,579.1 573.6,579.2 574.8,579.4 576,579.5 577.1,579.6 578.3,579.7 579.5,579.8 580.6,580 581.8,580.1 583,580.2 584.1,580.3 585.3,580.4 586.5,580.5 587.6,580.6 588.8,580.7 590,580.8 591.1,580.9 592.3,581 593.5,581.1 594.7,581.1 595.8,581.2 597,581.3 598.2,581.4 599.3,581.5 600.5,581.5 601.7,581.6 602.8,581.7 604,581.7 605.2,581.8 606.3,581.8 607.5,581.9 608.7,581.9 609.8,582 611,582 612.2,582 613.4,582.1 614.5,582.1 615.7,582.1 616.9,582.1 618,582.2 619.2,582.2 620.4,582.2 621.5,582.2 622.7,582.2 623.9,582.2 625,582.2 626.2,582.3 627.4,582.3 628.5,582.3 629.7,582.3 630.9,582.3 632.1,582.3 633.2,582.3 634.4,582.3 635.6,582.3 636.7,582.3 637.9,582.3 639.1,582.3 640.2,582.3 641.4,582.3 642.6,582.3 643.7,582.3 644.9,582.3 646.1,582.3 647.2,582.3 648.4,582.3 649.6,582.3 650.8,582.3 651.9,582.3 653.1,582.3 654.3,582.3 655.4,582.3 656.6,582.3 657.8,582.3 658.9,582.3 660.1,582.3 661.3,582.3 662.4,582.3 663.6,582.3 664.8,582.3 665.9,582.3 667.1,582.3 668.3,582.3 669.5,582.3 670.6,582.3 671.8,582.3 673,582.3 674.1,582.3 675.3,582.3"/><path d="M549.1,578.9 550.2,578.9 551.4,579 552.6,579.1 553.7,579.2 554.9,579.3 556.1,579.4 557.3,579.4 558.4,579.5 559.6,579.6 560.8,579.7 561.9,579.7 563.1,579.8 564.3,579.9 565.4,580 566.6,580 567.8,580.1 568.9,580.2 570.1,580.2 571.3,580.3 572.4,580.3 573.6,580.4 574.8,580.4 576,580.5 577.1,580.5 578.3,580.6 579.5,580.6 580.6,580.7 581.8,580.7 583,580.7 584.1,580.7 585.3,580.8 586.5,580.8 587.6,580.8 588.8,580.8 590,580.8 591.1,580.9 592.3,580.9 593.5,580.9 594.7,580.9 595.8,580.9 597,580.9 598.2,580.9 599.3,580.9 600.5,580.9 601.7,580.9 602.8,581 604,581 605.2,581 606.3,581 607.5,581 608.7,581 609.8,581 611,581.1 612.2,581.1 613.4,581.1 614.5,581.1 615.7,581.1 616.9,581.1 618,581.2 619.2,581.2 620.4,581.2 621.5,581.2 622.7,581.3 623.9,581.3 625,581.3 626.2,581.3 627.4,581.3 628.5,581.3 629.7,581.4 630.9,581.4 632.1,581.4 633.2,581.4 634.4,581.4 635.6,581.4 636.7,581.4 637.9,581.4 639.1,581.4 640.2,581.4 641.4,581.4 642.6,581.4 643.7,581.4 644.9,581.4 646.1,581.4 647.2,581.4 648.4,581.4 649.6,581.4 650.8,581.4 651.9,581.4 653.1,581.4 654.3,581.4 655.4,581.3 656.6,581.3 657.8,581.3 658.9,581.3 660.1,581.3 661.3,581.3 662.4,581.2 663.6,581.2 664.8,581.2 665.9,581.2 667.1,581.2 668.3,581.1 669.5,581.1 670.6,581.1 671.8,581.1 673,581 674.1,581 675.3,581"/></g>
<path d="M549.1,579.7 675.3,579.7" fill="none" stroke="rgb(30,155,212)" stroke-width="1.25"/>
<line x1="583.06" y1="579.63" x2="675.3" y2="579.63" stroke="rgb(140,165,180)" stroke-width="2.6" stroke-opacity="0.55"/>
<path d="M549.1,580.4 550.2,580.3 551.4,580.2 552.6,580.2 553.7,580.1 554.9,580 556.1,579.9 557.3,579.8 558.4,579.8 559.6,579.7 560.8,579.6 561.9,579.5 563.1,579.4 564.3,579.3 565.4,579.2 566.6,579 567.8,578.9 568.9,578.8 570.1,578.6 571.3,578.5 572.4,578.3 573.6,578.1 574.8,578 576,577.8 577.1,577.6 578.3,577.4 579.5,577.1 580.6,576.9 581.8,576.6 583,576.4 584.1,576.1 585.3,575.9 586.5,575.6 587.6,575.3 588.8,575.1 590,574.8 591.1,574.6 592.3,574.3 593.5,574.1 594.7,573.8 595.8,573.6 597,573.4 598.2,573.2 599.3,573 600.5,572.9 601.7,572.7 602.8,572.6 604,572.5 605.2,572.4 606.3,572.3 607.5,572.2 608.7,572.1 609.8,572 611,571.9 612.2,571.9 613.4,571.8 614.5,571.8 615.7,571.7 616.9,571.7 618,571.6 619.2,571.6 620.4,571.6 621.5,571.5 622.7,571.5 623.9,571.4 625,571.4 626.2,571.4 627.4,571.3 628.5,571.3 629.7,571.2 630.9,571.2 632.1,571.1 633.2,571.1 634.4,571 635.6,571 636.7,570.9 637.9,570.9 639.1,570.8 640.2,570.7 641.4,570.6 642.6,570.6 643.7,570.5 644.9,570.4 646.1,570.3 647.2,570.3 648.4,570.2 649.6,570.1 650.8,570 651.9,570 653.1,569.9 654.3,569.8 655.4,569.7 656.6,569.7 657.8,569.6 658.9,569.5 660.1,569.4 661.3,569.4 662.4,569.3 663.6,569.2 664.8,569.1 665.9,569.1 667.1,569 668.3,568.9 669.5,568.9 670.6,568.8 671.8,568.7 673,568.7 674.1,568.6 675.3,568.5" fill="none" stroke="#000" stroke-width="2.1" stroke-linecap="round" stroke-linejoin="round"/>
<path d="M578.6,490.6V493.9 M608.8,490.6V493.9" stroke="rgb(200,70,70)" stroke-width="0.95" stroke-opacity="0.8" fill="none"/>
<path d="M675.7,574.3H679.7 M675.7,581.4H679.7" stroke="rgb(200,70,70)" stroke-width="1.15" stroke-opacity="0.72" fill="none"/>
<rect x="-4" y="16" width="354.8" height="170.8" fill="#000"/>
<path d="M33.02,16.5V43.4 M41.16,16.5V43.4 M49.3,16.5V43.4 M57.44,16.5V43.4 M65.58,16.5V43.4 M73.72,16.5V43.4 M81.86,16.5V43.4 M90,16.5V43.4 M98.14,16.5V43.4 M106.28,16.5V43.4 M114.42,16.5V43.4 M122.56,16.5V43.4 M130.7,16.5V43.4 M138.84,16.5V43.4 M146.98,16.5V43.4 M155.12,16.5V43.4 M163.26,16.5V43.4 M171.4,16.5V43.4 M179.54,16.5V43.4 M187.68,16.5V43.4 M195.82,16.5V43.4 M203.96,16.5V43.4 M212.1,16.5V43.4 M220.24,16.5V43.4 M228.38,16.5V43.4 M236.52,16.5V43.4 M244.66,16.5V43.4 M252.8,16.5V43.4 M260.94,16.5V43.4 M269.08,16.5V43.4 M277.22,16.5V43.4 M285.36,16.5V43.4 M293.5,16.5V43.4 M301.64,16.5V43.4 M309.78,16.5V43.4 M317.92,16.5V43.4 M326.06,16.5V43.4 M334.2,16.5V43.4 M342.34,16.5V43.4 M350.48,16.5V43.4 M33.02,45.5V71.4 M41.16,45.5V71.4 M49.3,45.5V71.4 M57.44,45.5V71.4 M65.58,45.5V71.4 M73.72,45.5V71.4 M81.86,45.5V71.4 M90,45.5V71.4 M98.14,45.5V71.4 M106.28,45.5V71.4 M114.42,45.5V71.4 M122.56,45.5V71.4 M130.7,45.5V71.4 M138.84,45.5V71.4 M146.98,45.5V71.4 M155.12,45.5V71.4 M163.26,45.5V71.4 M171.4,45.5V71.4 M179.54,45.5V71.4 M187.68,45.5V71.4 M195.82,45.5V71.4 M203.96,45.5V71.4 M212.1,45.5V71.4 M220.24,45.5V71.4 M228.38,45.5V71.4 M236.52,45.5V71.4 M244.66,45.5V71.4 M252.8,45.5V71.4 M260.94,45.5V71.4 M269.08,45.5V71.4 M277.22,45.5V71.4 M285.36,45.5V71.4 M293.5,45.5V71.4 M301.64,45.5V71.4 M309.78,45.5V71.4 M317.92,45.5V71.4 M326.06,45.5V71.4 M334.2,45.5V71.4 M342.34,45.5V71.4 M350.48,45.5V71.4 M33.02,74.3V100.5 M41.16,74.3V100.5 M49.3,74.3V100.5 M57.44,74.3V100.5 M65.58,74.3V100.5 M73.72,74.3V100.5 M81.86,74.3V100.5 M90,74.3V100.5 M98.14,74.3V100.5 M106.28,74.3V100.5 M114.42,74.3V100.5 M122.56,74.3V100.5 M130.7,74.3V100.5 M138.84,74.3V100.5 M146.98,74.3V100.5 M155.12,74.3V100.5 M163.26,74.3V100.5 M171.4,74.3V100.5 M179.54,74.3V100.5 M187.68,74.3V100.5 M195.82,74.3V100.5 M203.96,74.3V100.5 M212.1,74.3V100.5 M220.24,74.3V100.5 M228.38,74.3V100.5 M236.52,74.3V100.5 M244.66,74.3V100.5 M252.8,74.3V100.5 M260.94,74.3V100.5 M269.08,74.3V100.5 M277.22,74.3V100.5 M285.36,74.3V100.5 M293.5,74.3V100.5 M301.64,74.3V100.5 M309.78,74.3V100.5 M317.92,74.3V100.5 M326.06,74.3V100.5 M334.2,74.3V100.5 M342.34,74.3V100.5 M350.48,74.3V100.5 M33.02,103.1V129.2 M41.16,103.1V129.2 M49.3,103.1V129.2 M57.44,103.1V129.2 M65.58,103.1V129.2 M73.72,103.1V129.2 M81.86,103.1V129.2 M90,103.1V129.2 M98.14,103.1V129.2 M106.28,103.1V129.2 M114.42,103.1V129.2 M122.56,103.1V129.2 M130.7,103.1V129.2 M138.84,103.1V129.2 M146.98,103.1V129.2 M155.12,103.1V129.2 M163.26,103.1V129.2 M171.4,103.1V129.2 M179.54,103.1V129.2 M187.68,103.1V129.2 M195.82,103.1V129.2 M203.96,103.1V129.2 M212.1,103.1V129.2 M220.24,103.1V129.2 M228.38,103.1V129.2 M236.52,103.1V129.2 M244.66,103.1V129.2 M252.8,103.1V129.2 M260.94,103.1V129.2 M269.08,103.1V129.2 M277.22,103.1V129.2 M285.36,103.1V129.2 M293.5,103.1V129.2 M301.64,103.1V129.2 M309.78,103.1V129.2 M317.92,103.1V129.2 M326.06,103.1V129.2 M334.2,103.1V129.2 M342.34,103.1V129.2 M350.48,103.1V129.2 M33.02,131.9V158 M41.16,131.9V158 M49.3,131.9V158 M57.44,131.9V158 M65.58,131.9V158 M73.72,131.9V158 M81.86,131.9V158 M90,131.9V158 M98.14,131.9V158 M106.28,131.9V158 M114.42,131.9V158 M122.56,131.9V158 M130.7,131.9V158 M138.84,131.9V158 M146.98,131.9V158 M155.12,131.9V158 M163.26,131.9V158 M171.4,131.9V158 M179.54,131.9V158 M187.68,131.9V158 M195.82,131.9V158 M203.96,131.9V158 M212.1,131.9V158 M220.24,131.9V158 M228.38,131.9V158 M236.52,131.9V158 M244.66,131.9V158 M252.8,131.9V158 M260.94,131.9V158 M269.08,131.9V158 M277.22,131.9V158 M285.36,131.9V158 M293.5,131.9V158 M301.64,131.9V158 M309.78,131.9V158 M317.92,131.9V158 M326.06,131.9V158 M334.2,131.9V158 M342.34,131.9V158 M350.48,131.9V158 M33.02,160.7V180.4 M41.16,160.7V180.4 M49.3,160.7V180.4 M57.44,160.7V180.4 M65.58,160.7V180.4 M73.72,160.7V180.4 M81.86,160.7V180.4 M90,160.7V180.4 M98.14,160.7V180.4 M106.28,160.7V180.4 M114.42,160.7V180.4 M122.56,160.7V180.4 M130.7,160.7V180.4 M138.84,160.7V180.4 M146.98,160.7V180.4 M155.12,160.7V180.4 M163.26,160.7V180.4 M171.4,160.7V180.4 M179.54,160.7V180.4 M187.68,160.7V180.4 M195.82,160.7V180.4 M203.96,160.7V180.4 M212.1,160.7V180.4 M220.24,160.7V180.4 M228.38,160.7V180.4 M236.52,160.7V180.4 M244.66,160.7V180.4 M252.8,160.7V180.4 M260.94,160.7V180.4 M269.08,160.7V180.4 M277.22,160.7V180.4 M285.36,160.7V180.4 M293.5,160.7V180.4 M301.64,160.7V180.4 M309.78,160.7V180.4 M317.92,160.7V180.4 M326.06,160.7V180.4 M334.2,160.7V180.4 M342.34,160.7V180.4 M350.48,160.7V180.4" stroke="#222" stroke-width="0.8" fill="none"/>
<path d="M25.4,17.9H350.8 M25.4,24.1H350.8 M25.4,30.3H350.8 M25.4,36.5H350.8 M25.4,46.3H350.8 M25.4,51.3H350.8 M25.4,56.3H350.8 M25.4,61.2H350.8 M25.4,66.2H350.8 M25.4,79.3H350.8 M25.4,85.6H350.8 M25.4,92.2H350.8 M25.4,104.3H350.8 M25.4,112H350.8 M25.4,119.7H350.8 M25.4,135.2H350.8 M25.4,142.9H350.8 M25.4,150.1H350.8 M25.4,162.8H350.8 M25.4,168.6H350.8 M25.4,174.4H350.8" stroke="#5a5a5a" stroke-width="0.8" stroke-dasharray="1,1.05" fill="none"/>
<path d="M25.4,43.4 L25.4,29.8 L25.8,29.6 L28.7,27.3 L32.2,24.9 L35.7,24.1 L41.5,23.4 L47.4,22.6 L53.2,21.8 L59,21.4 L61.4,21.8 L63.1,24.3 L64.9,30.2 L66.6,33.7 L69,34.9 L70.1,36 L71.3,37.8 L88.8,23.8 L89.4,26.7 L91.2,29.6 L92.9,31.4 L94,29.6 L95.2,31.9 L97,34.3 L99.3,36.6 L101.1,37.2 L103.5,34.3 L108.2,30.2 L111.7,29 L115.2,27.3 L118.7,24.9 L123.4,20.8 L126.6,18.5 L127.4,24.3 L128,33.7 L129.8,36 L131.5,38.4 L135,35.4 L139.7,31.4 L143.2,29.6 L145.5,29.6 L147.3,27.8 L149.1,31.4 L150.8,33.1 L152.6,33.7 L154.3,32.5 L156.1,34.3 L157.8,31.4 L159,34.3 L160.7,31.4 L162.5,33.7 L164.8,33.1 L166.6,34.9 L168.3,37.8 L170.1,39.5 L172.4,37.8 L175.3,34.9 L177.7,33.1 L179.5,34.2 L179.4,35 L181.8,32.2 L185.3,35 L187.7,32.2 L190.5,35 L192.9,32.2 L195.8,35 L198.2,32.2 L201,35 L203.4,32.2 L206.9,35 L209.3,32.2 L212.1,35 L214.5,32.2 L217.4,35 L219.8,32.2 L223.2,35 L225.6,32.2 L228.5,35 L230.9,32.2 L234.3,35 L236.7,32.2 L239.6,35 L242,32.2 L244.8,35 L247.2,32.2 L249.8,34.6 L251.8,32.1 L253.7,35.1 L256.7,37.3 L258.9,36.6 L263.4,35.8 L267.9,32.9 L273.8,28.4 L279.8,23.9 L285.4,18.7 L286.5,23.9 L287.2,34.4 L291.7,30.6 L297.6,26.2 L304.8,21.7 L305.8,26.9 L307.3,33.6 L309.6,34.4 L311,32.1 L313.3,33.6 L315.5,32.9 L317.7,30.6 L320,34.4 L323,35.8 L325.2,37.3 L327.4,39.6 L329.7,37.3 L331.9,34.4 L334.1,32.1 L336.4,35.1 L338.6,32.9 L340.8,34.4 L343.1,32.9 L345.3,34.4 L347.5,32.6 L349.8,33.6 L350.8,33.2 L350.8,43.4 Z" fill="#ffff00"/>
<path d="M25.4,71.4 L25.4,61 L26.4,61 L27,48.7 L28.4,57.06 L29.55,59.23 L31.7,61 L31.7,61 L32.3,48.4 L33.7,57.31 L34.92,59.61 L37.2,61.5 L37.2,61.5 L37.8,49.5 L39.2,58 L40.46,60.2 L42.8,62 L42.8,62 L43.4,51.3 L44.8,58.92 L45.92,60.89 L48,62.5 L48,62.5 L48.6,51.6 L50,59.35 L51.26,61.36 L53.6,63 L53.6,63 L54.2,51.9 L55.6,59.79 L56.83,61.83 L59.1,63.5 L59.1,63.5 L59.7,52.5 L61.1,60.25 L62.36,62.26 L64.7,63.9 L64.7,63.9 L65.3,53.9 L66.7,60.7 L68.03,62.46 L70.5,63.9 L70.5,63.9 L71.1,54.5 L72.5,61.64 L73.66,63.49 L75.8,65 L75.8,65 L76.4,54.5 L77.8,62.05 L78.92,64 L81,65.6 L81,65.6 L81.6,51.6 L83,59.56 L84.16,61.62 L86.3,63.3 L86.3,63.3 L86.9,50.4 L88.3,58.76 L89.42,60.93 L91.5,62.7 L91.5,62.7 L92.1,50.4 L93.5,58.76 L94.66,60.93 L96.8,62.7 L96.8,62.7 L97.4,52.2 L98.8,60.5 L99.92,62.64 L102,64.4 L102,64.4 L102.6,55.7 L104,62.43 L105.16,64.17 L107.3,65.6 L107.3,65.6 L107.9,52.8 L109.3,60.69 L110.63,62.73 L113.1,64.4 L113.1,64.4 L113.7,49.8 L115.1,58.16 L116.26,60.33 L118.4,62.1 L118.4,62.1 L119,48.7 L120.4,57.4 L121.52,59.66 L123.6,61.5 L123.6,61.5 L124.2,48.4 L125.6,57.72 L126.76,60.13 L128.9,62.1 L128.9,62.1 L129.5,51.6 L130.9,61.12 L132.02,63.58 L134.1,65.6 L134.1,65.6 L134.7,52.2 L136.1,61.72 L137.47,64.18 L140,66.2 L140,66.2 L140.6,49.8 L142,57.76 L143.05,59.82 L145,61.5 L145,61.5 L145.6,48.1 L147,57.62 L148.22,60.08 L150.5,62.1 L150.5,62.1 L151.1,48.7 L152.5,58.22 L153.66,60.68 L155.8,62.7 L155.8,62.7 L156.4,49.3 L157.8,58.41 L158.92,60.77 L161,62.7 L161,62.7 L161.6,50.4 L163,59.17 L164.22,61.44 L166.5,63.3 L166.5,63.3 L167.1,52.2 L168.5,60.5 L169.76,62.64 L172.1,64.4 L172.1,64.4 L172.7,54.5 L174.1,62.05 L175.36,64 L177.7,65.6 L177.7,65.6 L178.3,51.6 L179.7,60.3 L180.93,62.56 L183.2,64.4 L183.2,64.4 L183.8,51.6 L185.2,60.3 L186.32,62.56 L188.4,64.4 L188.4,64.4 L189,51.6 L190.4,60.3 L191.56,62.56 L193.7,64.4 L193.7,64.4 L194.3,52.2 L195.7,60.9 L196.93,63.16 L199.2,65 L199.2,65 L199.8,53.3 L201.2,61.66 L202.46,63.83 L204.8,65.6 L204.8,65.6 L205.4,53.3 L206.8,61.66 L207.96,63.83 L210.1,65.6 L210.1,65.6 L210.7,53.9 L212.1,61.86 L213.29,63.92 L215.5,65.6 L215.5,65.6 L216.1,53.9 L217.5,62.26 L218.76,64.43 L221.1,66.2 L221.1,66.2 L221.7,54.2 L223.1,62.22 L224.36,64.3 L226.7,66 L226.7,66 L227.3,54.5 L228.7,62.05 L229.86,64 L232,65.6 L232,65.6 L232.6,54.5 L234,62.46 L235.12,64.52 L237.2,66.2 L237.2,66.2 L237.8,55.1 L239.2,62.65 L240.56,64.6 L243.1,66.2 L243.1,66.2 L243.7,55.1 L245.1,63.06 L246.22,65.12 L248.3,66.8 L248.3,66.8 L248.9,55.1 L250.3,63.46 L251.46,65.63 L253.6,67.4 L253.6,67.4 L254.2,56.3 L255.6,64.26 L256.93,66.32 L259.4,68 L259.4,68 L260,58 L261.4,65.14 L262.56,66.99 L264.7,68.5 L264.7,68.5 L265.3,58 L266.7,64.8 L268.03,66.56 L270.5,68 L270.5,68 L271.1,55.1 L272.5,62.65 L273.65,64.6 L275.8,66.2 L275.8,66.2 L276.4,53.3 L277.8,60.85 L279.13,62.8 L281.6,64.4 L281.6,64.4 L282.2,52.4 L283.6,60.22 L284.75,62.24 L286.9,63.9 L286.9,63.9 L287.5,53.3 L288.9,60.51 L290.02,62.37 L292.1,63.9 L292.1,63.9 L292.7,52.2 L294.1,59.75 L295.29,61.7 L297.5,63.3 L297.5,63.3 L298.1,51.9 L299.5,59.24 L300.8,61.14 L303.2,62.7 L303.2,62.7 L303.8,49.7 L305.2,58.61 L306.25,60.91 L308.2,62.8 L308.2,62.8 L308.8,47.9 L310.2,58.03 L311.36,60.65 L313.5,62.8 L313.5,62.8 L314.1,47.9 L315.5,57.15 L316.69,59.54 L318.9,61.5 L318.9,61.5 L319.5,48.4 L320.9,57.04 L322.06,59.27 L324.2,61.1 L324.2,61.1 L324.8,50.1 L326.2,58.19 L327.39,60.29 L329.6,62 L329.6,62 L330.2,48.8 L331.6,57.78 L332.75,60.1 L334.9,62 L334.9,62 L335.5,47.1 L336.9,57.23 L338.02,59.85 L340.1,62 L340.1,62 L340.7,47.5 L342.1,56.75 L343.29,59.14 L345.5,61.1 L345.5,61.1 L346.1,48.4 L347.5,57.04 L350.33,59.27 L350.8,61.1 L350.8,71.4 Z" fill="#ff0000"/>
<path d="M25.4,100.5 L25.4,98 L30.5,98 L30.7,86 L32.6,86.5 L33,95 L36.6,95.2 L37.2,82.5 L38.2,82.8 L38.6,94.5 L40.2,94.2 L40.6,79.9 L41.4,80.2 L41.8,91 L43.2,91 L43.6,75.8 L44.3,76 L44.5,87.8 L45.9,87.8 L46.1,92.7 L48.6,92.7 L48.9,98 L68,98 L68.2,93.4 L69.5,94.5 L71,93.2 L72.5,94 L74,92.2 L75,94.8 L76,95.4 L77.5,94.2 L79,93.6 L80.5,95 L82,94.6 L83.5,93.8 L85,94.8 L86.5,93.2 L88,93.6 L88.9,90.8 L89.6,93.5 L90.5,94.8 L92,95.2 L93.5,94.2 L95,95.4 L96.5,94.6 L98,94 L99.5,94.4 L100.5,92.5 L101.2,91.2 L102,93.6 L103,94.8 L104.5,94.2 L106,94.8 L107.3,95 L108.8,95.3 L110.8,95.5 L111.2,98 L130.2,98 L130.4,95.5 L135.5,95 L136,91.9 L136.6,95.5 L139,96.3 L142,96.3 L142.2,98 L167.5,98 L167.7,96.3 L174.5,96.2 L175,91.9 L175.6,91.9 L175.8,98 L258.2,98 L258.4,91.9 L259.2,94.5 L263,94.2 L265,92 L266,94 L268.6,94.3 L268.8,96.3 L273.7,96.3 L273.9,98 L288.1,98 L288.3,94.5 L290,94 L292,95 L293,96 L298.6,96 L298.8,98 L322.2,98 L322.4,95 L329.1,95 L329.3,98 L350.8,98 L350.8,100.5 Z" fill="#ff00ff"/>
<path d="M25.4,129.2 L25.4,117.5 L25.8,121.6 L26.3,117.5 L26.9,119.27 L27.5,120.3 L28.1,120.91 L28.7,121.27 L29.3,121.48 L29.9,121.6 L29.9,121.6 L30.4,111.7 L31.2,115.97 L32,118.47 L32.8,119.94 L33.6,120.8 L34.4,121.3 L35.2,121.6 L35.2,121.6 L35.7,111.1 L36.58,115.88 L37.47,118.69 L38.35,120.34 L39.23,121.3 L40.12,121.87 L41,122.2 L41,122.2 L41.5,114.6 L42.3,118.13 L43.1,120.21 L43.9,121.42 L44.7,122.14 L45.5,122.55 L46.3,122.8 L46.3,122.8 L46.8,114 L47.68,117.79 L48.57,120.02 L49.45,121.32 L50.33,122.09 L51.22,122.54 L52.1,122.8 L52.1,122.8 L52.6,112.8 L53.4,116.33 L54.2,118.41 L55,119.62 L55.8,120.34 L56.6,120.75 L57.4,121 L57.4,121 L57.9,110.5 L58.68,114.77 L59.47,117.27 L60.25,118.74 L61.03,119.6 L61.82,120.1 L62.6,120.4 L62.6,120.4 L63.1,111.1 L63.9,115.11 L64.7,117.46 L65.5,118.84 L66.3,119.65 L67.1,120.12 L67.9,120.4 L67.9,120.4 L68.4,107.6 L69.28,113.12 L70.17,116.35 L71.05,118.25 L71.93,119.36 L72.82,120.02 L73.7,120.4 L73.7,120.4 L74.2,109.9 L75,114.42 L75.8,117.08 L76.6,118.64 L77.4,119.55 L78.2,120.09 L79,120.4 L79,120.4 L79.5,105.3 L80.28,111.59 L81.07,115.28 L81.85,117.45 L82.63,118.72 L83.42,119.46 L84.2,119.9 L84.2,119.9 L84.7,105.8 L85.5,112.09 L86.3,115.78 L87.1,117.95 L87.9,119.22 L88.7,119.96 L89.5,120.4 L89.5,120.4 L90,107.6 L90.78,113.12 L91.57,116.35 L92.35,118.25 L93.13,119.36 L93.92,120.02 L94.7,120.4 L94.7,120.4 L95.2,109.3 L96.03,113.87 L96.87,116.55 L97.7,118.12 L98.53,119.04 L99.37,119.58 L100.2,119.9 L100.2,119.9 L100.7,107 L101.57,112.3 L102.43,115.41 L103.3,117.23 L104.17,118.3 L105.03,118.93 L105.9,119.3 L105.9,119.3 L106.4,106.4 L107.2,111.7 L108,114.81 L108.8,116.63 L109.6,117.7 L110.4,118.33 L111.2,118.7 L111.2,118.7 L111.7,106.4 L112.48,111.7 L113.27,114.81 L114.05,116.63 L114.83,117.7 L115.62,118.33 L116.4,118.7 L116.4,118.7 L116.9,105.8 L117.7,111.1 L118.5,114.21 L119.3,116.03 L120.1,117.1 L120.9,117.73 L121.7,118.1 L121.7,118.1 L122.2,107 L122.98,112.3 L123.77,115.41 L124.55,117.23 L125.33,118.3 L126.12,118.93 L126.9,119.3 L126.9,119.3 L127.4,110.5 L128.2,114.55 L129,116.93 L129.8,118.32 L130.6,119.14 L131.4,119.62 L132.2,119.9 L132.2,119.9 L132.7,107 L133.55,112.56 L134.4,115.82 L135.25,117.73 L136.1,118.86 L136.95,119.51 L137.8,119.9 L137.8,119.9 L138.3,107.6 L139.07,113.12 L139.83,116.35 L140.6,118.25 L141.37,119.36 L142.13,120.02 L142.9,120.4 L142.9,120.4 L143.4,108.2 L144.25,113.72 L145.1,116.95 L145.95,118.85 L146.8,119.96 L147.65,120.62 L148.5,121 L148.5,121 L149,109.3 L149.8,114.6 L150.6,117.71 L151.4,119.53 L152.2,120.6 L153,121.23 L153.8,121.6 L153.8,121.6 L154.3,109.9 L155.1,114.94 L155.9,117.9 L156.7,119.63 L157.5,120.65 L158.3,121.25 L159.1,121.6 L159.1,121.6 L159.6,111.7 L160.45,116.22 L161.3,118.88 L162.15,120.44 L163,121.35 L163.85,121.89 L164.7,122.2 L164.7,122.2 L165.2,111.7 L166.03,116.22 L166.87,118.88 L167.7,120.44 L168.53,121.35 L169.37,121.89 L170.2,122.2 L170.2,122.2 L170.7,108.8 L171.52,114.32 L172.33,117.55 L173.15,119.45 L173.97,120.56 L174.78,121.22 L175.6,121.6 L175.6,121.6 L176.1,110.5 L176.9,115.28 L177.7,118.09 L178.5,119.74 L179.3,120.7 L180.1,121.27 L180.9,121.6 L180.9,121.6 L181.4,107 L182.3,113.55 L183.2,117.39 L184.1,119.65 L185,120.97 L185.9,121.74 L186.8,122.2 L186.8,122.2 L187.3,111.7 L188.08,116.35 L188.87,119.08 L189.65,120.69 L190.43,121.63 L191.22,122.18 L192,122.5 L192,122.5 L192.5,111.1 L193.3,116.01 L194.1,118.89 L194.9,120.59 L195.7,121.58 L196.5,122.16 L197.3,122.5 L197.3,122.5 L197.8,111.1 L198.58,116.01 L199.37,118.89 L200.15,120.59 L200.93,121.58 L201.72,122.16 L202.5,122.5 L202.5,122.5 L203,111.1 L203.9,116.01 L204.8,118.89 L205.7,120.59 L206.6,121.58 L207.5,122.16 L208.4,122.5 L208.4,122.5 L208.9,112.8 L209.68,117.11 L210.47,119.64 L211.25,121.12 L212.03,121.99 L212.82,122.5 L213.6,122.8 L213.6,122.8 L214.1,111.1 L214.9,116.14 L215.7,119.1 L216.5,120.83 L217.3,121.85 L218.1,122.45 L218.9,122.8 L218.9,122.8 L219.4,111.7 L220.28,116.35 L221.17,119.08 L222.05,120.69 L222.93,121.63 L223.82,122.18 L224.7,122.5 L224.7,122.5 L225.2,111.7 L226,116.35 L226.8,119.08 L227.6,120.69 L228.4,121.63 L229.2,122.18 L230,122.5 L230,122.5 L230.5,111.7 L231.28,116.35 L232.07,119.08 L232.85,120.69 L233.63,121.63 L234.42,122.18 L235.2,122.5 L235.2,122.5 L235.7,110.5 L236.6,115.67 L237.5,118.7 L238.4,120.48 L239.3,121.53 L240.2,122.14 L241.1,122.5 L241.1,122.5 L241.6,111.1 L242.38,116.01 L243.17,118.89 L243.95,120.59 L244.73,121.58 L245.52,122.16 L246.3,122.5 L246.3,122.5 L246.8,110.5 L247.63,115.54 L248.47,118.5 L249.3,120.23 L250.13,121.25 L250.97,121.85 L251.8,122.2 L251.8,122.2 L252.3,111.1 L253.2,115.88 L254.1,118.69 L255,120.34 L255.9,121.3 L256.8,121.87 L257.7,122.2 L257.7,122.2 L258.2,111.1 L258.98,115.88 L259.77,118.69 L260.55,120.34 L261.33,121.3 L262.12,121.87 L262.9,122.2 L262.9,122.2 L263.4,109.3 L264.3,114.6 L265.2,117.71 L266.1,119.53 L267,120.6 L267.9,121.23 L268.8,121.6 L268.8,121.6 L269.3,109.3 L270.08,114.34 L270.87,117.3 L271.65,119.03 L272.43,120.05 L273.22,120.65 L274,121 L274,121 L274.5,108.8 L275.4,114.06 L276.3,117.14 L277.2,118.95 L278.1,120.01 L279,120.63 L279.9,121 L279.9,121 L280.4,109.3 L281.18,114.08 L281.97,116.89 L282.75,118.54 L283.53,119.5 L284.32,120.07 L285.1,120.4 L285.1,120.4 L285.6,109.3 L286.43,114.08 L287.27,116.89 L288.1,118.54 L288.93,119.5 L289.77,120.07 L290.6,120.4 L290.6,120.4 L291.1,108.8 L291.95,113.07 L292.8,115.57 L293.65,117.04 L294.5,117.9 L295.35,118.4 L296.2,118.7 L296.2,118.7 L296.7,105.3 L297.5,111.07 L298.3,114.46 L299.1,116.45 L299.9,117.61 L300.7,118.3 L301.5,118.7 L301.5,118.7 L302,105.8 L302.83,111.36 L303.67,114.62 L304.5,116.53 L305.33,117.66 L306.17,118.31 L307,118.7 L307,118.7 L307.5,106.4 L308.28,111.96 L309.07,115.22 L309.85,117.13 L310.63,118.26 L311.42,118.91 L312.2,119.3 L312.2,119.3 L312.7,108.8 L313.52,113.32 L314.33,115.98 L315.15,117.54 L315.97,118.45 L316.78,118.99 L317.6,119.3 L317.6,119.3 L318.1,108.8 L318.88,113.32 L319.67,115.98 L320.45,117.54 L321.23,118.45 L322.02,118.99 L322.8,119.3 L322.8,119.3 L323.3,108.8 L324.13,113.32 L324.97,115.98 L325.8,117.54 L326.63,118.45 L327.47,118.99 L328.3,119.3 L328.3,119.3 L328.8,109.9 L329.62,113.95 L330.43,116.33 L331.25,117.72 L332.07,118.54 L332.88,119.02 L333.7,119.3 L333.7,119.3 L334.2,105.4 L335.02,111.05 L335.83,114.36 L336.65,116.3 L337.47,117.44 L338.28,118.11 L339.1,118.5 L339.1,118.5 L339.6,105.4 L340.42,111.05 L341.23,114.36 L342.05,116.3 L342.87,117.44 L343.68,118.11 L344.5,118.5 L344.5,118.5 L345,106 L345.82,111.6 L346.63,114.89 L347.45,116.82 L348.27,117.95 L349.08,118.61 L349.9,119 L349.9,119 L350.4,106 L350.8,112.46 L350.8,116.26 L350.8,118.48 L350.8,119.79 L350.8,120.55 L350.8,121 L350.8,129.2 Z" fill="#20b2aa"/>
<path d="M25.4,158 L25.4,142.9 L59.7,142.9 L59.7,140.9 L141.6,140.9 L141.6,142.9 L263,142.9 L263,145.4 L343.5,145.4 L343.5,149.7 L350.8,149.7 L350.8,158 Z" fill="#ff4500"/>
<path d="M25.4,180.4 L25.4,172.2 L100.6,172.2 L100.6,169 L141,169 L141,166 L222.2,166 L222.2,163.3 L263,163.3 L263,166.3 L303.9,166.3 L303.9,163.3 L344,163.3 L344,166.3 L350.8,166.3 L350.8,180.4 Z" fill="#fa8072"/>
<rect x="-4" y="43.7" width="354.8" height="1.4" fill="#f2f4f4"/>
<rect x="-4" y="71.9" width="354.8" height="1.4" fill="#f2f4f4"/>
<rect x="-4" y="100.75" width="354.8" height="1.4" fill="#f2f4f4"/>
<rect x="-4" y="129.8" width="354.8" height="1.4" fill="#f2f4f4"/>
<rect x="-4" y="158.55" width="354.8" height="1.4" fill="#f2f4f4"/>
<line x1="25.4" y1="16" x2="25.4" y2="180.6" stroke="#9aa0b0" stroke-width="0.7"/>
<text x="49.3" y="185.3" font-size="3.6" text-anchor="middle" fill="#bbb">09:05:20</text>
<text x="90" y="185.3" font-size="3.6" text-anchor="middle" fill="#bbb">09:05:25</text>
<text x="130.7" y="185.3" font-size="3.6" text-anchor="middle" fill="#bbb">09:05:30</text>
<text x="171.4" y="185.3" font-size="3.6" text-anchor="middle" fill="#bbb">09:05:35</text>
<text x="212.1" y="185.3" font-size="3.6" text-anchor="middle" fill="#bbb">09:05:40</text>
<text x="252.8" y="185.3" font-size="3.6" text-anchor="middle" fill="#bbb">09:05:45</text>
<text x="293.5" y="185.3" font-size="3.6" text-anchor="middle" fill="#bbb">09:05:50</text>
<text x="334.2" y="185.3" font-size="3.6" text-anchor="middle" fill="#bbb">09:05:55</text>
<text x="24.6" y="19.35" font-size="4.1" text-anchor="end" fill="#c8c8c8">30</text>
<line x1="24.3" y1="17.9" x2="25.4" y2="17.9" stroke="#aaa" stroke-width="0.5"/>
<text x="24.6" y="25.55" font-size="4.1" text-anchor="end" fill="#c8c8c8">25</text>
<line x1="24.3" y1="24.1" x2="25.4" y2="24.1" stroke="#aaa" stroke-width="0.5"/>
<text x="24.6" y="31.75" font-size="4.1" text-anchor="end" fill="#c8c8c8">20</text>
<line x1="24.3" y1="30.3" x2="25.4" y2="30.3" stroke="#aaa" stroke-width="0.5"/>
<text x="24.6" y="37.95" font-size="4.1" text-anchor="end" fill="#c8c8c8">15</text>
<line x1="24.3" y1="36.5" x2="25.4" y2="36.5" stroke="#aaa" stroke-width="0.5"/>
<text x="24.6" y="44.15" font-size="4.1" text-anchor="end" fill="#c8c8c8">10</text>
<line x1="24.3" y1="42.7" x2="25.4" y2="42.7" stroke="#aaa" stroke-width="0.5"/>
<text x="24.6" y="47.75" font-size="4.1" text-anchor="end" fill="#c8c8c8">160</text>
<line x1="24.3" y1="46.3" x2="25.4" y2="46.3" stroke="#aaa" stroke-width="0.5"/>
<text x="24.6" y="52.75" font-size="4.1" text-anchor="end" fill="#c8c8c8">140</text>
<line x1="24.3" y1="51.3" x2="25.4" y2="51.3" stroke="#aaa" stroke-width="0.5"/>
<text x="24.6" y="57.75" font-size="4.1" text-anchor="end" fill="#c8c8c8">120</text>
<line x1="24.3" y1="56.3" x2="25.4" y2="56.3" stroke="#aaa" stroke-width="0.5"/>
<text x="24.6" y="62.65" font-size="4.1" text-anchor="end" fill="#c8c8c8">100</text>
<line x1="24.3" y1="61.2" x2="25.4" y2="61.2" stroke="#aaa" stroke-width="0.5"/>
<text x="24.6" y="67.65" font-size="4.1" text-anchor="end" fill="#c8c8c8">80</text>
<line x1="24.3" y1="66.2" x2="25.4" y2="66.2" stroke="#aaa" stroke-width="0.5"/>
<text x="24.6" y="72.55" font-size="4.1" text-anchor="end" fill="#c8c8c8">60</text>
<line x1="24.3" y1="71.1" x2="25.4" y2="71.1" stroke="#aaa" stroke-width="0.5"/>
<text x="24.6" y="80.75" font-size="4.1" text-anchor="end" fill="#c8c8c8">150</text>
<line x1="24.3" y1="79.3" x2="25.4" y2="79.3" stroke="#aaa" stroke-width="0.5"/>
<text x="24.6" y="87.05" font-size="4.1" text-anchor="end" fill="#c8c8c8">100</text>
<line x1="24.3" y1="85.6" x2="25.4" y2="85.6" stroke="#aaa" stroke-width="0.5"/>
<text x="24.6" y="93.65" font-size="4.1" text-anchor="end" fill="#c8c8c8">50</text>
<line x1="24.3" y1="92.2" x2="25.4" y2="92.2" stroke="#aaa" stroke-width="0.5"/>
<text x="24.6" y="99.65" font-size="4.1" text-anchor="end" fill="#c8c8c8">0</text>
<line x1="24.3" y1="98.2" x2="25.4" y2="98.2" stroke="#aaa" stroke-width="0.5"/>
<text x="24.6" y="105.75" font-size="4.1" text-anchor="end" fill="#c8c8c8">80</text>
<line x1="24.3" y1="104.3" x2="25.4" y2="104.3" stroke="#aaa" stroke-width="0.5"/>
<text x="24.6" y="113.45" font-size="4.1" text-anchor="end" fill="#c8c8c8">60</text>
<line x1="24.3" y1="112" x2="25.4" y2="112" stroke="#aaa" stroke-width="0.5"/>
<text x="24.6" y="121.15" font-size="4.1" text-anchor="end" fill="#c8c8c8">40</text>
<line x1="24.3" y1="119.7" x2="25.4" y2="119.7" stroke="#aaa" stroke-width="0.5"/>
<text x="24.6" y="128.95" font-size="4.1" text-anchor="end" fill="#c8c8c8">20</text>
<line x1="24.3" y1="127.5" x2="25.4" y2="127.5" stroke="#aaa" stroke-width="0.5"/>
<text x="24.6" y="136.65" font-size="4.1" text-anchor="end" fill="#c8c8c8">84</text>
<line x1="24.3" y1="135.2" x2="25.4" y2="135.2" stroke="#aaa" stroke-width="0.5"/>
<text x="24.6" y="144.35" font-size="4.1" text-anchor="end" fill="#c8c8c8">82</text>
<line x1="24.3" y1="142.9" x2="25.4" y2="142.9" stroke="#aaa" stroke-width="0.5"/>
<text x="24.6" y="151.55" font-size="4.1" text-anchor="end" fill="#c8c8c8">80</text>
<line x1="24.3" y1="150.1" x2="25.4" y2="150.1" stroke="#aaa" stroke-width="0.5"/>
<text x="24.6" y="159.25" font-size="4.1" text-anchor="end" fill="#c8c8c8">78</text>
<line x1="24.3" y1="157.8" x2="25.4" y2="157.8" stroke="#aaa" stroke-width="0.5"/>
<text x="24.6" y="164.25" font-size="4.1" text-anchor="end" fill="#c8c8c8">94</text>
<line x1="24.3" y1="162.8" x2="25.4" y2="162.8" stroke="#aaa" stroke-width="0.5"/>
<text x="24.6" y="170.05" font-size="4.1" text-anchor="end" fill="#c8c8c8">92</text>
<line x1="24.3" y1="168.6" x2="25.4" y2="168.6" stroke="#aaa" stroke-width="0.5"/>
<text x="24.6" y="175.85" font-size="4.1" text-anchor="end" fill="#c8c8c8">90</text>
<line x1="24.3" y1="174.4" x2="25.4" y2="174.4" stroke="#aaa" stroke-width="0.5"/>
<text x="24.6" y="181.65" font-size="4.1" text-anchor="end" fill="#c8c8c8">88</text>
<line x1="24.3" y1="180.2" x2="25.4" y2="180.2" stroke="#aaa" stroke-width="0.5"/>
<text transform="translate(6,31.8) rotate(-90)" font-size="6.0" text-anchor="middle" fill="#f4f4f4" stroke="#f4f4f4" stroke-width="0.18">PAP</text>
<text transform="translate(13.1,30.8) rotate(-90)" font-size="6.0" text-anchor="middle" fill="#f4f4f4" stroke="#f4f4f4" stroke-width="0.18">(mmHg)</text>
<text transform="translate(6,58.3) rotate(-90)" font-size="6.0" text-anchor="middle" fill="#f4f4f4" stroke="#f4f4f4" stroke-width="0.18">MAP</text>
<text transform="translate(13.1,59.3) rotate(-90)" font-size="6.3" text-anchor="middle" fill="#f4f4f4" stroke="#f4f4f4" stroke-width="0.18">(mmHg)</text>
<text transform="translate(6,87.9) rotate(-90)" font-size="6.0" text-anchor="middle" fill="#f4f4f4" stroke="#f4f4f4" stroke-width="0.18">PCAv</text>
<text transform="translate(13.9,87.9) rotate(-90)" font-size="6.0" text-anchor="middle" fill="#f4f4f4" stroke="#f4f4f4" stroke-width="0.18">(cm s<tspan font-size="3.5" dy="-2.2">−1</tspan><tspan dy="2.2"></tspan>)</text>
<text transform="translate(6,116.3) rotate(-90)" font-size="6.0" text-anchor="middle" fill="#f4f4f4" stroke="#f4f4f4" stroke-width="0.18">MCAv</text>
<text transform="translate(13.9,116.3) rotate(-90)" font-size="6.0" text-anchor="middle" fill="#f4f4f4" stroke="#f4f4f4" stroke-width="0.18">(cm s<tspan font-size="3.5" dy="-2.2">−1</tspan><tspan dy="2.2"></tspan>)</text>
<text transform="translate(6,145.5) rotate(-90)" font-size="6.0" text-anchor="middle" fill="#f4f4f4" stroke="#f4f4f4" stroke-width="0.18">S<tspan font-size="3.5" dy="1.2">r</tspan><tspan dy="-1.2"></tspan>O<tspan font-size="3.5" dy="1.2">2</tspan><tspan dy="-1.2"></tspan></text>
<text transform="translate(13.5,145) rotate(-90)" font-size="6.0" text-anchor="middle" fill="#f4f4f4" stroke="#f4f4f4" stroke-width="0.18">(%)</text>
<text transform="translate(6,172.5) rotate(-90)" font-size="6.0" text-anchor="middle" fill="#f4f4f4" stroke="#f4f4f4" stroke-width="0.18">S<tspan font-size="3.5" dy="1.2">r</tspan><tspan dy="-1.2"></tspan>O<tspan font-size="3.5" dy="1.2">2</tspan><tspan dy="-1.2"></tspan></text>
<text transform="translate(13.5,172) rotate(-90)" font-size="6.0" text-anchor="middle" fill="#f4f4f4" stroke="#f4f4f4" stroke-width="0.18">(%)</text>
<line x1="74.7" y1="18" x2="69.85" y2="29.34" stroke="#fff" stroke-width="1.1"/>
<path d="M68.2,33.2 L68.01,28.55 L71.69,30.12 Z" fill="#fff"/>
<line x1="74.7" y1="49" x2="69.83" y2="60.53" stroke="#fff" stroke-width="1.1"/>
<path d="M68.2,64.4 L67.99,59.75 L71.68,61.31 Z" fill="#fff"/>
<line x1="74.7" y1="79" x2="70.24" y2="89.53" stroke="#fff" stroke-width="1.1"/>
<path d="M68.6,93.4 L68.4,88.75 L72.08,90.31 Z" fill="#fff"/>
<line x1="136.3" y1="21.3" x2="131.91" y2="32.68" stroke="#fff" stroke-width="1.1"/>
<path d="M130.4,36.6 L130.05,31.96 L133.78,33.4 Z" fill="#fff"/>
<line x1="136" y1="52.7" x2="131.67" y2="63.41" stroke="#fff" stroke-width="1.1"/>
<path d="M130.1,67.3 L129.82,62.66 L133.53,64.16 Z" fill="#fff"/>
<line x1="136" y1="82.4" x2="131.9" y2="93.08" stroke="#fff" stroke-width="1.1"/>
<path d="M130.4,97 L130.04,92.36 L133.77,93.79 Z" fill="#fff"/>
<line x1="294.2" y1="18.4" x2="289.81" y2="29.78" stroke="#fff" stroke-width="1.1"/>
<path d="M288.3,33.7 L287.95,29.06 L291.68,30.5 Z" fill="#fff"/>
<line x1="294.2" y1="51.2" x2="289.87" y2="61.91" stroke="#fff" stroke-width="1.1"/>
<path d="M288.3,65.8 L288.02,61.16 L291.73,62.66 Z" fill="#fff"/>
<line x1="294.6" y1="79" x2="289.98" y2="89.55" stroke="#fff" stroke-width="1.1"/>
<path d="M288.3,93.4 L288.15,88.75 L291.82,90.35 Z" fill="#fff"/>
<rect x="355.6" y="16.8" width="334" height="169.8" fill="#000"/>
<path d="M386.31,17.3V71 M402.9,17.3V71 M419.49,17.3V71 M436.08,17.3V71 M452.67,17.3V71 M469.26,17.3V71 M485.85,17.3V71 M502.44,17.3V71 M519.03,17.3V71 M535.62,17.3V71 M552.21,17.3V71 M568.8,17.3V71 M585.39,17.3V71 M601.98,17.3V71 M618.57,17.3V71 M635.16,17.3V71 M651.75,17.3V71 M668.34,17.3V71 M386.31,73.7V128.5 M402.9,73.7V128.5 M419.49,73.7V128.5 M436.08,73.7V128.5 M452.67,73.7V128.5 M469.26,73.7V128.5 M485.85,73.7V128.5 M502.44,73.7V128.5 M519.03,73.7V128.5 M535.62,73.7V128.5 M552.21,73.7V128.5 M568.8,73.7V128.5 M585.39,73.7V128.5 M601.98,73.7V128.5 M618.57,73.7V128.5 M635.16,73.7V128.5 M651.75,73.7V128.5 M668.34,73.7V128.5 M386.31,131.9V179.6 M402.9,131.9V179.6 M419.49,131.9V179.6 M436.08,131.9V179.6 M452.67,131.9V179.6 M469.26,131.9V179.6 M485.85,131.9V179.6 M502.44,131.9V179.6 M519.03,131.9V179.6 M535.62,131.9V179.6 M552.21,131.9V179.6 M568.8,131.9V179.6 M585.39,131.9V179.6 M601.98,131.9V179.6 M618.57,131.9V179.6 M635.16,131.9V179.6 M651.75,131.9V179.6 M668.34,131.9V179.6" stroke="#303030" stroke-width="0.9" fill="none"/>
<path d="M381.3,22.7H683 M381.3,29H683 M381.3,35.3H683 M381.3,41.5H683 M381.3,47.8H683 M381.3,54.1H683 M381.3,60.3H683 M381.3,66.6H683 M381.3,80H683 M381.3,87.5H683 M381.3,94.7H683 M381.3,102H683 M381.3,109H683 M381.3,116.4H683 M381.3,123.6H683 M381.3,131.8H683 M381.3,139.4H683 M381.3,147.4H683 M381.3,155.3H683 M381.3,163.2H683 M381.3,171H683" stroke="#5e5e5e" stroke-width="0.85" stroke-dasharray="1,1" fill="none"/>
<path d="M381.3,71 L381.3,62 L383,61.5 L386,62.5 L389.4,64 L392,62 L395,61.8 L398,62.6 L401,62.2 L404,61.6 L406,62.8 L408,64.7 L410.5,62.2 L412.8,60.8 L415,62.5 L418,63.2 L421,62.4 L425,62.8 L429,62.2 L433,63 L437,62.5 L441,63.2 L445,62.6 L449,63.4 L453,62.5 L457,63 L461,62.3 L465,63.3 L469,62.6 L473,63.2 L477,62.4 L480,62.4 L484.4,62 L486.6,63.9 L488.8,61 L491,63.9 L494.6,60.3 L496.8,62.4 L499,61 L501.2,61.7 L503.4,63.2 L506.3,57.3 L508.5,61 L510.7,56.6 L512.8,61.7 L516.5,54.4 L518.7,58.8 L521.6,57.3 L524.5,56.6 L526.7,60.3 L528.9,52.2 L531.1,58.1 L534,44.9 L536.2,45.7 L538.4,42.7 L541,47.8 L544.2,41.3 L547.2,37.6 L550,35.4 L552.6,23.8 L555.2,31.1 L558.1,31.1 L561,37.6 L563.9,26.7 L567.2,20.8 L570.5,26.7 L573.4,36.9 L575,35.1 L576.9,34 L579,37.5 L580.6,43.9 L583,46.3 L585.4,49.5 L587.8,50.3 L590.3,51.1 L591.9,47.1 L594.3,41.5 L599.1,36.7 L602.3,43.1 L605.5,37.5 L608.7,39.9 L612.7,44.7 L616,40.7 L621.6,34.3 L624.8,40.7 L628,49.5 L630.4,52.7 L632.8,53.5 L636.8,62.4 L639.2,62.4 L641.6,61.6 L644.1,63.2 L646.5,58.4 L648.1,64 L650.5,64.8 L652.9,66.4 L655.3,65.6 L657.2,58 L659.3,63.2 L662.5,62.4 L664.9,63.2 L668.1,61.9 L671.4,62.4 L674.6,64 L677.8,61.6 L680.2,63.2 L682.6,61.9 L683,62.2 L683,71 Z" fill="#ffff00"/>
<path d="M381.3,128.5 L381.3,124 L560.9,124 L561,95 L562,78 L563.5,78 L564,103.7 L568,103.5 L572.8,104 L573.5,95 L574.3,92 L575.5,97 L577,108.8 L579,105 L582,104.5 L583.5,100 L585,104 L586.2,112.4 L586.8,112.4 L587.4,100 L589,102 L591.4,99 L594,102.5 L598,103.7 L603.5,104 L605,109.5 L610,109.7 L624,109.5 L624.3,108 L628.8,108 L629,124 L683,124 L683,128.5 Z" fill="#ff00ff"/>
<path d="M381.3,179.6 L381.3,171.2 L383,169.5 L385,170.2 L387,171.8 L390,171 L393,172 L396,170.8 L399,171.6 L402,170.5 L404,172 L407,171.5 L409,170 L410.2,168.2 L412,170.5 L414,172.2 L417,171 L420,171.8 L423,170.9 L426,171.7 L429,171 L432,172 L435,171.2 L438,171.8 L441,170.8 L444,171.6 L447,171.2 L450,172 L453,171 L456,171.8 L459,171.2 L462,170.6 L465,171.8 L468,171 L471,171.9 L474,171.2 L477,170.4 L480,171.6 L483,170.8 L486,171.8 L489,171 L492,170.2 L495,171.5 L498,170.6 L500,171.1 L502.9,170.3 L505.8,169.2 L508,171.1 L511,169.6 L514.6,169.3 L517.5,169.6 L519.7,168.9 L521.9,167.1 L524.1,171.1 L527,166.7 L529.9,168.9 L533.6,166.2 L538,163 L541.6,157.9 L544.5,155 L546.7,156 L550.4,152.8 L552.6,150.6 L555.5,142.6 L557.7,141.9 L561.3,141.1 L565,147 L568.6,142.6 L573,135.3 L575.2,136.8 L578.8,148.4 L582.5,151.4 L585.4,156.5 L589.8,160.1 L592.8,159.6 L595.5,161 L598.3,155 L601.1,148.8 L603.9,145.3 L606.4,149.5 L609.4,150.2 L612.9,150.9 L616.4,153.7 L619.1,154.4 L622.6,146 L624.4,148.8 L626.8,147.4 L629.5,153 L633,161.3 L637.2,167.5 L640,169.6 L642.7,174.5 L645.5,173.1 L647.6,174.5 L651,172.1 L656.6,172.4 L662.1,171.7 L664.9,170.3 L667.7,171.7 L673.2,171 L678.8,171.3 L682.6,171.7 L683,171.7 L683,179.6 Z" fill="#00ff00"/>
<rect x="355.6" y="71.6" width="334" height="1.4" fill="#f2f4f4"/>
<rect x="355.6" y="129.3" width="334" height="1.4" fill="#f2f4f4"/>
<line x1="381.3" y1="16.8" x2="381.3" y2="179.6" stroke="#9aa0b0" stroke-width="0.7"/>
<text x="403" y="184.6" font-size="3.8" text-anchor="middle" fill="#c4c4c4">10:25:02</text>
<text x="469.2" y="184.6" font-size="3.8" text-anchor="middle" fill="#c4c4c4">10:25:04</text>
<text x="535.4" y="184.6" font-size="3.8" text-anchor="middle" fill="#c4c4c4">10:25:06</text>
<text x="601.6" y="184.6" font-size="3.8" text-anchor="middle" fill="#c4c4c4">10:25:08</text>
<text x="667.8" y="184.6" font-size="3.8" text-anchor="middle" fill="#c4c4c4">10:25:10</text>
<text transform="translate(363.6,44.3) rotate(-90)" font-size="5.8" text-anchor="middle" fill="#f4f4f4" stroke="#f4f4f4" stroke-width="0.18">CVP</text>
<text transform="translate(371.2,44.1) rotate(-90)" font-size="6.3" text-anchor="middle" fill="#f4f4f4" stroke="#f4f4f4" stroke-width="0.18">(mmHg)</text>
<text transform="translate(363.6,99.8) rotate(-90)" font-size="6.0" text-anchor="middle" fill="#f4f4f4" stroke="#f4f4f4" stroke-width="0.18">PCAv</text>
<text transform="translate(371.4,99.9) rotate(-90)" font-size="6.0" text-anchor="middle" fill="#f4f4f4" stroke="#f4f4f4" stroke-width="0.18">(cm s<tspan font-size="3.4" dy="-2.2">−1</tspan><tspan dy="2.2"></tspan>)</text>
<text transform="translate(363.6,158.2) rotate(-90)" font-size="6.4" text-anchor="middle" fill="#f4f4f4" stroke="#f4f4f4" stroke-width="0.18">MAP</text>
<text transform="translate(371.6,158.6) rotate(-90)" font-size="6.4" text-anchor="middle" fill="#f4f4f4" stroke="#f4f4f4" stroke-width="0.18">(mmHg)</text>
<text x="379.6" y="24.15" font-size="4.1" text-anchor="end" fill="#c8c8c8">18</text>
<text x="379.6" y="30.45" font-size="4.1" text-anchor="end" fill="#c8c8c8">16</text>
<text x="379.6" y="36.75" font-size="4.1" text-anchor="end" fill="#c8c8c8">14</text>
<text x="379.6" y="42.95" font-size="4.1" text-anchor="end" fill="#c8c8c8">12</text>
<text x="379.6" y="49.25" font-size="4.1" text-anchor="end" fill="#c8c8c8">10</text>
<text x="379.6" y="55.55" font-size="4.1" text-anchor="end" fill="#c8c8c8">8</text>
<text x="379.6" y="61.75" font-size="4.1" text-anchor="end" fill="#c8c8c8">6</text>
<text x="379.6" y="68.05" font-size="4.1" text-anchor="end" fill="#c8c8c8">4</text>
<text x="379.6" y="81.45" font-size="4.1" text-anchor="end" fill="#c8c8c8">60</text>
<text x="379.6" y="88.95" font-size="4.1" text-anchor="end" fill="#c8c8c8">50</text>
<text x="379.6" y="96.15" font-size="4.1" text-anchor="end" fill="#c8c8c8">40</text>
<text x="379.6" y="103.45" font-size="4.1" text-anchor="end" fill="#c8c8c8">30</text>
<text x="379.6" y="110.45" font-size="4.1" text-anchor="end" fill="#c8c8c8">20</text>
<text x="379.6" y="117.85" font-size="4.1" text-anchor="end" fill="#c8c8c8">10</text>
<text x="379.6" y="125.05" font-size="4.1" text-anchor="end" fill="#c8c8c8">0</text>
<text x="379.6" y="133.35" font-size="4.1" text-anchor="end" fill="#c8c8c8">20</text>
<text x="379.6" y="140.85" font-size="4.1" text-anchor="end" fill="#c8c8c8">18</text>
<text x="379.6" y="148.85" font-size="4.1" text-anchor="end" fill="#c8c8c8">16</text>
<text x="379.6" y="156.75" font-size="4.1" text-anchor="end" fill="#c8c8c8">14</text>
<text x="379.6" y="164.65" font-size="4.1" text-anchor="end" fill="#c8c8c8">12</text>
<text x="379.6" y="172.45" font-size="4.1" text-anchor="end" fill="#c8c8c8">10</text>
<text x="379.6" y="179.85" font-size="4.1" text-anchor="end" fill="#c8c8c8">8</text>
<text x="-0.6" y="8.7" font-size="12.5" font-weight="bold" fill="#000" stroke="#000" stroke-width="0.5">a</text>
<text x="350.3" y="8.8" font-size="12.5" font-weight="bold" fill="#000" stroke="#000" stroke-width="0.5">b</text>
</g>
</svg></body></html>
